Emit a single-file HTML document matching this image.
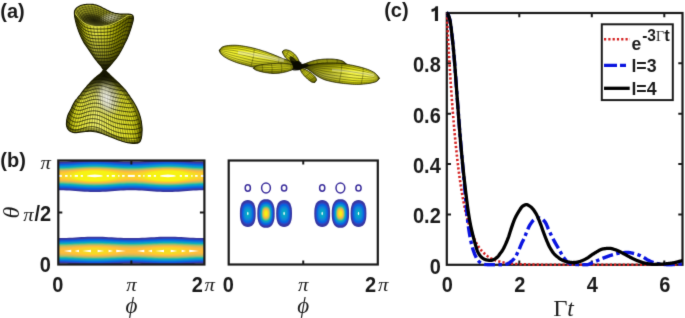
<!DOCTYPE html>
<html><head><meta charset="utf-8"><style>
html,body{margin:0;padding:0;background:#fff;width:685px;height:318px;overflow:hidden;position:relative}
</style></head><body>
<svg width="685" height="318" viewBox="0 0 685 318" style="position:absolute;left:0;top:0">
<defs><filter id="gb" filterUnits="userSpaceOnUse" x="-4" y="-4" width="693" height="326" color-interpolation-filters="sRGB"><feConvolveMatrix order="3" kernelMatrix="0.01134 0.08382 0.01134 0.08382 0.61935 0.08382 0.01134 0.08382 0.01134" divisor="1" edgeMode="duplicate" preserveAlpha="true"/></filter></defs>
<g filter="url(#gb)"><rect x="-6" y="-6" width="697" height="330" fill="#fff"/>
<defs>
<clipPath id="cb1"><rect x="58.3" y="160.5" width="146.1" height="104"/></clipPath>
</defs>
<defs>
<clipPath id="s_cav"><path d="M74.4 12.1 L74.7 10.9 L75.4 9.7 L76.4 8.5 L77.6 7.4 L78.8 6.6 L80.1 6 L81.7 5.6 L83.3 5.3 L84.9 5.1 L86.5 4.9 L88 4.8 L89.6 4.8 L91.1 4.9 L92.6 5 L94 5.2 L95.3 5.5 L96.4 5.8 L97.5 6.2 L98.7 6.7 L100 7.2 L101.6 7.9 L103.4 8.7 L105.2 9.5 L107 10.3 L108.5 11 L109.8 11.5 L110.9 12 L111.9 12.3 L112.9 12.7 L114 13 L115.1 13.3 L116.1 13.6 L117.2 13.9 L118.3 14.1 L119.6 14.3 L121.1 14.4 L122.7 14.3 L124.3 14.3 L125.9 14.3 L127.3 14.3 L128.6 14.5 L129.9 14.7 L131 15 L131.8 15.2 L132.2 15.4 L132.1 15.4 L131.5 15.3 L130.7 15.2 L129.8 15.1 L129 15.2 L128.3 15.5 L127.5 15.9 L126.7 16.4 L125.9 16.9 L125 17.4 L124.1 17.9 L123.2 18.5 L122.2 19.1 L121.1 19.7 L120 20.3 L118.7 21 L117.3 21.7 L115.9 22.5 L114.4 23.2 L113 23.8 L111.7 24.3 L110.3 24.8 L109 25.2 L107.7 25.5 L106.3 25.8 L104.9 26.1 L103.4 26.3 L101.9 26.4 L100.5 26.5 L99 26.6 L97.6 26.6 L96.2 26.6 L94.8 26.4 L93.4 26.3 L92 26 L90.6 25.7 L89.2 25.3 L87.7 24.8 L86.3 24.2 L85 23.5 L83.7 22.7 L82.5 21.7 L81.3 20.7 L80.1 19.6 L79 18.5 L77.8 17.3 L76.6 16 L75.5 14.7 L74.7 13.3 Z"/></clipPath>
<clipPath id="s_up"><path d="M74.4 12.1 L74.6 11 L75 10.1 L75.5 9.3 L76 8.6 L76.6 7.9 L77.3 7.4 L78 6.9 L78.8 6.4 L79.7 6 L80.6 5.6 L81.5 5.3 L82.5 5 L83.5 4.8 L84.5 4.6 L85.5 4.5 L86.5 4.4 L87.6 4.3 L88.8 4.3 L89.9 4.3 L91 4.3 L92 4.4 L93 4.4 L93.9 4.6 L95 4.8 L96.2 5.1 L97.5 5.6 L98.8 6.1 L100 6.6 L101.2 7.1 L102.3 7.7 L103.4 8.3 L104.5 8.8 L105.5 9.3 L106.4 9.8 L107.4 10.3 L108.5 10.8 L109.8 11.4 L111.1 12 L112.6 12.5 L114 13 L115.4 13.4 L116.9 13.6 L118.3 13.8 L119.6 14 L120.8 14.1 L121.9 14.1 L123 14 L124 14 L124.9 14 L125.7 14 L126.5 14 L127.3 14 L128.1 14.1 L129 14.1 L129.8 14.2 L130.5 14.4 L131.2 14.6 L131.8 14.8 L132.4 15.1 L132.8 15.6 L133.1 16.3 L133.3 17.1 L133.4 18 L133.4 19 L133.2 20.1 L133 21.4 L132.6 22.7 L132.2 24.2 L131.7 25.8 L131.2 27.5 L130.6 29.3 L130 31 L129.5 32.6 L128.9 34.2 L128.3 35.8 L127.7 37.4 L127 39 L126.2 40.7 L125.3 42.3 L124.5 44 L123.6 45.7 L122.8 47.4 L121.9 49.1 L121 50.7 L120.1 52.2 L119.3 53.7 L118.4 55.1 L117.5 56.5 L116.5 57.9 L115.4 59.2 L114.4 60.5 L113.4 61.7 L112.5 62.7 L111.8 63.6 L111 64.5 L110.3 65.3 L109.6 66.1 L108.9 66.9 L108.2 67.6 L107.6 68.3 L107 68.9 L106.4 69.5 L105.8 70 L105.3 70.3 L104.8 70.3 L104.3 70.1 L103.8 69.8 L103.3 69.3 L102.8 68.7 L102.3 67.9 L101.7 67 L101 66 L100.1 64.9 L99 63.7 L97.9 62.4 L96.8 61 L95.7 59.6 L94.6 58.1 L93.5 56.6 L92.4 55 L91.3 53.4 L90.2 51.8 L89.1 50.1 L88 48.5 L86.9 46.9 L85.7 45.3 L84.6 43.6 L83.6 41.9 L82.6 40.1 L81.7 38.3 L80.8 36.4 L80 34.5 L79.2 32.5 L78.4 30.5 L77.7 28.4 L77 26.4 L76.4 24.4 L75.9 22.3 L75.4 20.4 L75 18.5 L74.7 16.7 L74.5 15 L74.4 13.5 Z"/></clipPath>
<clipPath id="s_lo"><path d="M104.2 69.5 L105 69.9 L105.9 70.8 L106.9 71.9 L108 73 L109.1 74 L110.2 75.2 L111.5 76.3 L112.8 77.6 L114.2 79 L115.8 80.4 L117.4 81.9 L119 83.5 L120.6 85.1 L122.3 86.8 L123.9 88.5 L125.4 90.2 L126.8 92 L128 93.8 L129.3 95.6 L130.5 97.5 L131.8 99.4 L133.1 101.4 L134.3 103.3 L135.4 105.2 L136.4 107 L137.3 108.9 L138.1 110.7 L138.8 112.5 L139.5 114.4 L140.1 116.3 L140.6 118.2 L141 120 L141.4 121.8 L141.6 123.7 L141.8 125.4 L142 127 L142.1 128.4 L142.1 129.5 L142.1 130.7 L142 132 L141.9 133.6 L141.8 135.3 L141.5 137 L141.2 138.5 L140.8 139.8 L140.3 140.9 L139.7 141.9 L138.8 142.6 L137.6 143.1 L136.2 143.3 L134.6 143.4 L133 143.4 L131.3 143.3 L129.4 143 L127.6 142.6 L125.7 142.2 L123.9 141.7 L122.1 141.2 L120.2 140.6 L118.4 140 L116.6 139.3 L114.8 138.6 L112.9 137.8 L111.1 137.1 L109.3 136.4 L107.4 135.6 L105.6 134.9 L103.8 134.2 L102 133.6 L100.2 133 L98.3 132.4 L96.5 132 L94.7 131.7 L92.8 131.5 L91 131.3 L89.2 131.3 L87.4 131.4 L85.6 131.5 L83.7 131.7 L81.9 131.9 L80 132.1 L78.1 132.4 L76.3 132.6 L74.6 132.6 L73.1 132.4 L71.8 132 L70.6 131.5 L69.5 130.8 L68.6 129.9 L67.8 128.9 L67.2 127.7 L66.8 126.5 L66.5 125.2 L66.4 123.9 L66.5 122.4 L66.6 121 L66.8 119.5 L67.1 118 L67.5 116.5 L68 115 L68.6 113.5 L69.4 112.1 L70.2 110.6 L71 109 L71.8 107.3 L72.6 105.6 L73.5 103.8 L74.5 102 L75.7 100.2 L77.2 98.5 L78.6 96.7 L80 95 L81.3 93.3 L82.5 91.7 L83.7 90.1 L85 88.5 L86.3 87 L87.6 85.4 L88.9 84 L90.2 82.6 L91.4 81.3 L92.7 80.1 L93.9 79 L95 78 L96.1 77.1 L97.1 76.3 L98.1 75.5 L99 74.8 L99.8 74.1 L100.6 73.4 L101.3 72.7 L102 72 L102.6 71.2 L103.1 70.4 L103.6 69.7 Z"/></clipPath>
<linearGradient id="g_lo" x1="0" y1="0" x2="1" y2="0"><stop offset="0.02" stop-color="#808000"/><stop offset="0.14" stop-color="#e8e828"/><stop offset="0.4" stop-color="#f4f470"/><stop offset="0.6" stop-color="#f0f048"/><stop offset="0.85" stop-color="#e0e020"/><stop offset="0.98" stop-color="#808000"/></linearGradient>
<radialGradient id="g_hl" cx="0.5" cy="0.5" r="0.5"><stop offset="0" stop-color="#fff" stop-opacity="0.95"/><stop offset="0.55" stop-color="#f0f0e0" stop-opacity="0.7"/><stop offset="1" stop-color="#f0f0e0" stop-opacity="0"/></radialGradient>
<linearGradient id="g_lo2" x1="0" y1="0" x2="0" y2="1"><stop offset="0" stop-color="#000" stop-opacity="1"/><stop offset="0.1" stop-color="#000" stop-opacity="1"/><stop offset="0.17" stop-color="#000" stop-opacity="0.82"/><stop offset="0.25" stop-color="#000" stop-opacity="0.4"/><stop offset="0.34" stop-color="#000" stop-opacity="0.08"/><stop offset="0.42" stop-color="#000" stop-opacity="0"/></linearGradient>
<linearGradient id="g_up" x1="0" y1="0" x2="1" y2="0"><stop offset="0.06" stop-color="#606000"/><stop offset="0.2" stop-color="#c0c018"/><stop offset="0.36" stop-color="#e4e448"/><stop offset="0.52" stop-color="#d4d428"/><stop offset="0.72" stop-color="#989800"/><stop offset="0.9" stop-color="#606000"/><stop offset="1" stop-color="#404000"/></linearGradient>
<linearGradient id="g_up2" x1="0" y1="0" x2="0" y2="1"><stop offset="0.45" stop-color="#000" stop-opacity="0"/><stop offset="0.75" stop-color="#000" stop-opacity="0.35"/><stop offset="0.93" stop-color="#000" stop-opacity="0.9"/></linearGradient>
<linearGradient id="g_cav" x1="0" y1="0" x2="0" y2="1"><stop offset="0" stop-color="#b0b028"/><stop offset="0.4" stop-color="#8a8a20"/><stop offset="0.75" stop-color="#606018"/><stop offset="1" stop-color="#707028"/></linearGradient>
<radialGradient id="g_dk"><stop offset="0" stop-color="#000" stop-opacity="0.7"/><stop offset="0.6" stop-color="#000" stop-opacity="0.4"/><stop offset="1" stop-color="#000" stop-opacity="0"/></radialGradient>
<radialGradient id="g_lt"><stop offset="0" stop-color="#f0f0e8" stop-opacity="0.75"/><stop offset="0.6" stop-color="#e8e8d8" stop-opacity="0.4"/><stop offset="1" stop-color="#e8e8d8" stop-opacity="0"/></radialGradient>
<linearGradient id="g_lobeL" x1="0" y1="0" x2="0" y2="1"><stop offset="0" stop-color="#d8d800"/><stop offset="0.3" stop-color="#f4f430"/><stop offset="0.6" stop-color="#e4e430"/><stop offset="1" stop-color="#a0a010"/></linearGradient>
<linearGradient id="g_lobeR" x1="0" y1="0" x2="0" y2="1"><stop offset="0" stop-color="#b0b000"/><stop offset="0.35" stop-color="#eeee20"/><stop offset="0.6" stop-color="#f4f450"/><stop offset="1" stop-color="#d0d000"/></linearGradient>
<linearGradient id="g_lobeRo" gradientUnits="userSpaceOnUse" x1="298" y1="0" x2="380" y2="0"><stop offset="0" stop-color="#000" stop-opacity="0.55"/><stop offset="0.45" stop-color="#000" stop-opacity="0.2"/><stop offset="0.65" stop-color="#000" stop-opacity="0"/></linearGradient>
<linearGradient id="g_lobeD" x1="0" y1="0" x2="0" y2="1"><stop offset="0" stop-color="#d4d420"/><stop offset="0.5" stop-color="#c4c418"/><stop offset="1" stop-color="#808000"/></linearGradient>
</defs>
<g clip-path="url(#s_lo)">
<rect x="66" y="66" width="77" height="80" fill="url(#g_lo)"/>
<rect x="60" y="66" width="90" height="80" fill="url(#g_lo2)"/>
<path d="M104.2 69.5 L105 69.9 L105.9 70.8 L106.9 71.9 L108 73 L109.1 74 L110.2 75.2 L111.5 76.3 L112.8 77.6 L114.2 79 L115.8 80.4 L117.4 81.9 L119 83.5 L120.6 85.1 L122.3 86.8 L123.9 88.5 L125.4 90.2 L126.8 92 L128 93.8 L129.3 95.6 L130.5 97.5 L131.8 99.4 L133.1 101.4 L134.3 103.3 L135.4 105.2 L136.4 107 L137.3 108.9 L138.1 110.7 L138.8 112.5 L139.5 114.4 L140.1 116.3 L140.6 118.2 L141 120 L141.4 121.8 L141.6 123.7 L141.8 125.4 L142 127 L142.1 128.4 L142.1 129.5 L142.1 130.7 L142 132 L141.9 133.6 L141.8 135.3 L141.5 137 L141.2 138.5 L140.8 139.8 L140.3 140.9 L139.7 141.9 L138.8 142.6 L137.6 143.1 L136.2 143.3 L134.6 143.4 L133 143.4 L131.3 143.3 L129.4 143 L127.6 142.6 L125.7 142.2 L123.9 141.7 L122.1 141.2 L120.2 140.6 L118.4 140 L116.6 139.3 L114.8 138.6 L112.9 137.8 L111.1 137.1 L109.3 136.4 L107.4 135.6 L105.6 134.9 L103.8 134.2 L102 133.6 L100.2 133 L98.3 132.4 L96.5 132 L94.7 131.7 L92.8 131.5 L91 131.3 L89.2 131.3 L87.4 131.4 L85.6 131.5 L83.7 131.7 L81.9 131.9 L80 132.1 L78.1 132.4 L76.3 132.6 L74.6 132.6 L73.1 132.4 L71.8 132 L70.6 131.5 L69.5 130.8 L68.6 129.9 L67.8 128.9 L67.2 127.7 L66.8 126.5 L66.5 125.2 L66.4 123.9 L66.5 122.4 L66.6 121 L66.8 119.5 L67.1 118 L67.5 116.5 L68 115 L68.6 113.5 L69.4 112.1 L70.2 110.6 L71 109 L71.8 107.3 L72.6 105.6 L73.5 103.8 L74.5 102 L75.7 100.2 L77.2 98.5 L78.6 96.7 L80 95 L81.3 93.3 L82.5 91.7 L83.7 90.1 L85 88.5 L86.3 87 L87.6 85.4 L88.9 84 L90.2 82.6 L91.4 81.3 L92.7 80.1 L93.9 79 L95 78 L96.1 77.1 L97.1 76.3 L98.1 75.5 L99 74.8 L99.8 74.1 L100.6 73.4 L101.3 72.7 L102 72 L102.6 71.2 L103.1 70.4 L103.6 69.7 Z" fill="none" stroke="#303000" stroke-width="7" stroke-opacity="0.45"/>
<ellipse cx="108" cy="98" rx="13" ry="19" fill="url(#g_hl)" transform="rotate(-12 108 98)"/>
<path d="M93 73.6 L93.2 73.7 L93.4 73.8 L93.6 73.8 L93.8 73.8 L94 73.9 L94.2 73.9 L94.4 73.9 L94.7 73.9 L94.9 73.9 L95.2 73.9 L95.5 73.9 L95.7 73.9 L96 73.9 L96.3 73.8 L96.6 73.8 L96.9 73.7 L97.2 73.7 L97.5 73.6 L97.8 73.6 L98.1 73.5 L98.4 73.4 L98.7 73.4 L99 73.3 L99.3 73.3 L99.6 73.2 L99.9 73.2 L100.2 73.2 L100.5 73.2 L100.8 73.1 L101.1 73.1 L101.4 73.1 L101.7 73.1 L102 73.1 L102.3 73.1 L102.6 73.1 L102.9 73.2 L103.1 73.2 L103.4 73.2 L103.7 73.3 L104 73.3 L104.3 73.3 L104.6 73.4 L104.8 73.4 L105.1 73.5 L105.4 73.5 L105.7 73.6 L105.9 73.6 L106.2 73.6 L106.5 73.7 L106.8 73.7 L107.1 73.8 L107.3 73.8 L107.6 73.9 L107.9 73.9 L108.2 74 L108.5 74 L108.7 74 L109 74.1 L109.3 74.1 L109.6 74.1 L109.9 74.2 L110.2 74.2 L110.5 74.2 L110.8 74.3 L111.1 74.3 L111.4 74.4 L111.7 74.4 L112 74.4 L112.3 74.5 L112.6 74.5 L112.8 74.6 L113.1 74.6 L113.4 74.6 L113.7 74.7 L114 74.7 L114.2 74.7 L114.5 74.7 L114.7 74.7 L115 74.7" stroke="#101000" stroke-width="0.85" fill="none" stroke-opacity="0.9"/>
<path d="M89.1 76.8 L89.4 76.9 L89.6 77 L89.9 77.1 L90.1 77.2 L90.4 77.3 L90.7 77.3 L91 77.4 L91.3 77.4 L91.7 77.4 L92 77.4 L92.4 77.4 L92.8 77.4 L93.2 77.3 L93.6 77.2 L94 77.2 L94.4 77.1 L94.8 77 L95.2 76.9 L95.6 76.8 L96 76.7 L96.4 76.6 L96.8 76.5 L97.2 76.4 L97.6 76.3 L98 76.2 L98.4 76.2 L98.8 76.1 L99.2 76.1 L99.6 76 L100 76 L100.4 76 L100.8 76 L101.2 76 L101.6 76 L102 76.1 L102.4 76.1 L102.8 76.2 L103.2 76.2 L103.5 76.3 L103.9 76.3 L104.3 76.4 L104.7 76.5 L105.1 76.6 L105.4 76.7 L105.8 76.7 L106.2 76.8 L106.6 76.9 L106.9 77 L107.3 77.1 L107.7 77.2 L108.1 77.2 L108.4 77.3 L108.8 77.4 L109.2 77.5 L109.6 77.5 L110 77.6 L110.3 77.7 L110.7 77.7 L111.1 77.8 L111.5 77.8 L111.9 77.9 L112.3 78 L112.7 78 L113.1 78.1 L113.5 78.2 L113.9 78.2 L114.3 78.3 L114.7 78.4 L115.1 78.4 L115.5 78.5 L115.9 78.6 L116.3 78.6 L116.7 78.7 L117.1 78.7 L117.4 78.7 L117.8 78.8 L118.1 78.8 L118.5 78.8 L118.8 78.7" stroke="#101000" stroke-width="0.85" fill="none" stroke-opacity="0.9"/>
<path d="M86 80 L86.3 80.1 L86.6 80.3 L86.9 80.5 L87.2 80.6 L87.6 80.7 L87.9 80.7 L88.3 80.8 L88.7 80.9 L89.1 80.9 L89.5 80.9 L90 80.9 L90.4 80.9 L90.9 80.8 L91.4 80.7 L91.9 80.6 L92.3 80.5 L92.8 80.4 L93.3 80.2 L93.8 80.1 L94.3 79.9 L94.8 79.8 L95.2 79.7 L95.7 79.5 L96.2 79.4 L96.7 79.3 L97.2 79.2 L97.7 79.2 L98.2 79.1 L98.6 79.1 L99.1 79 L99.6 79 L100.1 79 L100.6 79 L101.1 79.1 L101.5 79.1 L102 79.2 L102.5 79.3 L102.9 79.3 L103.4 79.4 L103.9 79.5 L104.3 79.6 L104.8 79.7 L105.2 79.9 L105.7 80 L106.1 80.1 L106.6 80.2 L107 80.3 L107.5 80.5 L107.9 80.6 L108.4 80.7 L108.9 80.8 L109.3 80.9 L109.8 81 L110.2 81.1 L110.7 81.2 L111.1 81.3 L111.6 81.4 L112.1 81.5 L112.5 81.6 L113 81.7 L113.5 81.7 L114 81.8 L114.4 81.9 L114.9 82 L115.4 82.1 L115.9 82.2 L116.4 82.3 L116.8 82.3 L117.3 82.4 L117.8 82.5 L118.3 82.6 L118.8 82.7 L119.3 82.7 L119.7 82.8 L120.1 82.8 L120.6 82.8 L121 82.9 L121.4 82.9 L121.8 82.8" stroke="#101000" stroke-width="0.85" fill="none" stroke-opacity="0.9"/>
<path d="M83.3 83.1 L83.7 83.4 L84.1 83.6 L84.4 83.8 L84.8 84 L85.2 84.1 L85.6 84.2 L86 84.3 L86.4 84.4 L86.9 84.4 L87.4 84.4 L87.9 84.4 L88.4 84.4 L89 84.3 L89.5 84.3 L90.1 84.1 L90.6 84 L91.2 83.8 L91.7 83.6 L92.3 83.4 L92.8 83.3 L93.4 83.1 L93.9 83 L94.5 82.8 L95 82.7 L95.6 82.5 L96.2 82.4 L96.7 82.3 L97.3 82.2 L97.8 82.2 L98.4 82.2 L99 82.1 L99.5 82.2 L100.1 82.2 L100.6 82.2 L101.2 82.3 L101.7 82.4 L102.2 82.5 L102.8 82.6 L103.3 82.7 L103.8 82.8 L104.3 83 L104.9 83.1 L105.4 83.3 L105.9 83.4 L106.4 83.6 L106.9 83.7 L107.5 83.9 L108 84 L108.5 84.2 L109 84.3 L109.5 84.5 L110 84.6 L110.6 84.8 L111.1 84.9 L111.6 85 L112.2 85.1 L112.7 85.2 L113.2 85.4 L113.8 85.5 L114.3 85.6 L114.8 85.7 L115.4 85.8 L115.9 85.9 L116.5 86 L117 86.1 L117.6 86.2 L118.1 86.3 L118.7 86.4 L119.2 86.5 L119.8 86.6 L120.4 86.7 L120.9 86.8 L121.4 86.8 L122 86.9 L122.5 86.9 L122.9 86.9 L123.4 86.9 L123.9 86.9 L124.4 86.8" stroke="#101000" stroke-width="0.85" fill="none" stroke-opacity="0.9"/>
<path d="M81 86.3 L81.4 86.6 L81.8 86.9 L82.2 87.2 L82.6 87.3 L83 87.5 L83.5 87.7 L83.9 87.8 L84.4 87.9 L84.9 88 L85.5 88 L86 88 L86.6 88 L87.2 87.9 L87.8 87.8 L88.5 87.7 L89.1 87.5 L89.7 87.3 L90.3 87.1 L90.9 86.9 L91.5 86.7 L92.2 86.5 L92.8 86.3 L93.4 86.1 L94 86 L94.6 85.8 L95.3 85.7 L95.9 85.6 L96.5 85.5 L97.1 85.4 L97.7 85.4 L98.4 85.4 L99 85.4 L99.6 85.4 L100.2 85.5 L100.8 85.6 L101.4 85.7 L102 85.8 L102.6 86 L103.2 86.1 L103.8 86.3 L104.4 86.4 L104.9 86.6 L105.5 86.8 L106.1 87 L106.7 87.2 L107.2 87.4 L107.8 87.6 L108.4 87.8 L109 87.9 L109.6 88.1 L110.1 88.3 L110.7 88.5 L111.3 88.6 L111.9 88.8 L112.5 88.9 L113 89.1 L113.6 89.2 L114.2 89.3 L114.8 89.4 L115.4 89.6 L116 89.7 L116.6 89.8 L117.2 89.9 L117.9 90 L118.5 90.1 L119.1 90.2 L119.7 90.4 L120.3 90.5 L120.9 90.6 L121.6 90.7 L122.2 90.8 L122.8 90.9 L123.4 91 L124 91 L124.5 91 L125.1 91 L125.6 91 L126.1 91 L126.6 90.9" stroke="#101000" stroke-width="0.85" fill="none" stroke-opacity="0.9"/>
<path d="M78.9 89.5 L79.3 89.8 L79.7 90.2 L80.2 90.5 L80.6 90.7 L81.1 90.9 L81.5 91.1 L82 91.3 L82.6 91.5 L83.2 91.6 L83.7 91.6 L84.4 91.7 L85 91.7 L85.7 91.6 L86.3 91.5 L87 91.3 L87.7 91.1 L88.4 90.9 L89 90.7 L89.7 90.4 L90.4 90.2 L91.1 90 L91.7 89.8 L92.4 89.6 L93.1 89.4 L93.8 89.2 L94.4 89.1 L95.1 89 L95.8 88.9 L96.5 88.8 L97.2 88.8 L97.8 88.7 L98.5 88.8 L99.2 88.8 L99.8 88.9 L100.5 89 L101.2 89.1 L101.8 89.3 L102.4 89.4 L103.1 89.6 L103.7 89.8 L104.4 90 L105 90.2 L105.6 90.5 L106.3 90.7 L106.9 90.9 L107.5 91.1 L108.2 91.4 L108.8 91.6 L109.4 91.8 L110 92 L110.7 92.2 L111.3 92.4 L111.9 92.6 L112.6 92.8 L113.2 92.9 L113.9 93.1 L114.5 93.2 L115.2 93.4 L115.8 93.5 L116.5 93.6 L117.1 93.8 L117.8 93.9 L118.4 94 L119.1 94.1 L119.8 94.3 L120.4 94.4 L121.1 94.5 L121.8 94.6 L122.5 94.8 L123.2 94.9 L123.8 95 L124.5 95.1 L125.1 95.1 L125.8 95.2 L126.4 95.2 L127 95.1 L127.6 95.1 L128.1 95.1 L128.7 94.9" stroke="#101000" stroke-width="0.85" fill="none" stroke-opacity="0.9"/>
<path d="M76.9 92.6 L77.4 93.1 L77.8 93.5 L78.3 93.8 L78.8 94.1 L79.3 94.4 L79.8 94.6 L80.3 94.9 L80.9 95 L81.5 95.2 L82.2 95.3 L82.8 95.3 L83.5 95.3 L84.2 95.3 L85 95.2 L85.7 95 L86.4 94.8 L87.1 94.6 L87.9 94.3 L88.6 94.1 L89.3 93.8 L90 93.6 L90.8 93.3 L91.5 93.1 L92.2 92.9 L93 92.7 L93.7 92.5 L94.4 92.4 L95.1 92.3 L95.9 92.2 L96.6 92.2 L97.3 92.2 L98.1 92.2 L98.8 92.3 L99.5 92.4 L100.2 92.5 L100.9 92.7 L101.6 92.9 L102.3 93 L103 93.3 L103.7 93.5 L104.4 93.7 L105.1 94 L105.8 94.2 L106.4 94.5 L107.1 94.7 L107.8 95 L108.5 95.3 L109.1 95.5 L109.8 95.7 L110.5 96 L111.2 96.2 L111.9 96.4 L112.5 96.6 L113.2 96.8 L113.9 97 L114.6 97.2 L115.3 97.4 L116 97.5 L116.7 97.7 L117.4 97.8 L118.1 97.9 L118.8 98.1 L119.5 98.2 L120.3 98.3 L121 98.5 L121.7 98.6 L122.4 98.7 L123.2 98.8 L123.9 99 L124.6 99.1 L125.4 99.2 L126.1 99.3 L126.8 99.3 L127.5 99.3 L128.1 99.3 L128.7 99.3 L129.4 99.2 L130 99.2 L130.6 99" stroke="#101000" stroke-width="0.85" fill="none" stroke-opacity="0.9"/>
<path d="M75.1 95.8 L75.6 96.3 L76.1 96.7 L76.6 97.2 L77.1 97.5 L77.6 97.8 L78.2 98.1 L78.7 98.4 L79.3 98.6 L80 98.8 L80.7 99 L81.4 99 L82.1 99.1 L82.9 99 L83.7 98.9 L84.4 98.8 L85.2 98.5 L86 98.3 L86.8 98 L87.5 97.7 L88.3 97.5 L89.1 97.2 L89.9 96.9 L90.6 96.7 L91.4 96.5 L92.2 96.3 L93 96.1 L93.8 96 L94.5 95.9 L95.3 95.8 L96.1 95.8 L96.9 95.8 L97.6 95.8 L98.4 95.9 L99.2 96 L99.9 96.1 L100.7 96.3 L101.4 96.5 L102.2 96.8 L102.9 97 L103.7 97.3 L104.4 97.5 L105.1 97.8 L105.9 98.1 L106.6 98.4 L107.3 98.7 L108 99 L108.7 99.3 L109.5 99.5 L110.2 99.8 L110.9 100.1 L111.6 100.3 L112.4 100.6 L113.1 100.8 L113.8 101 L114.6 101.2 L115.3 101.4 L116 101.6 L116.8 101.7 L117.5 101.9 L118.3 102 L119.1 102.2 L119.8 102.3 L120.6 102.4 L121.3 102.6 L122.1 102.7 L122.9 102.8 L123.7 103 L124.4 103.1 L125.2 103.2 L126 103.3 L126.8 103.4 L127.5 103.5 L128.3 103.5 L129 103.5 L129.7 103.5 L130.4 103.4 L131.1 103.3 L131.7 103.3 L132.4 103" stroke="#101000" stroke-width="0.85" fill="none" stroke-opacity="0.9"/>
<path d="M73.3 99 L73.9 99.5 L74.4 100 L74.9 100.5 L75.5 100.9 L76 101.3 L76.6 101.7 L77.2 102 L77.9 102.3 L78.6 102.5 L79.3 102.7 L80.1 102.7 L80.8 102.8 L81.6 102.8 L82.5 102.7 L83.3 102.5 L84.1 102.3 L84.9 102.1 L85.7 101.8 L86.6 101.5 L87.4 101.2 L88.2 100.9 L89 100.6 L89.8 100.4 L90.7 100.1 L91.5 99.9 L92.3 99.7 L93.1 99.6 L94 99.5 L94.8 99.4 L95.6 99.4 L96.4 99.4 L97.3 99.5 L98.1 99.6 L98.9 99.7 L99.7 99.9 L100.5 100.1 L101.3 100.3 L102.1 100.6 L102.9 100.8 L103.6 101.1 L104.4 101.4 L105.2 101.8 L106 102.1 L106.7 102.4 L107.5 102.7 L108.3 103 L109 103.4 L109.8 103.7 L110.6 104 L111.3 104.3 L112.1 104.5 L112.9 104.8 L113.6 105 L114.4 105.3 L115.2 105.5 L116 105.7 L116.8 105.9 L117.5 106 L118.3 106.2 L119.1 106.3 L119.9 106.5 L120.7 106.6 L121.5 106.7 L122.4 106.9 L123.2 107 L124 107.1 L124.8 107.3 L125.6 107.4 L126.5 107.5 L127.3 107.6 L128.1 107.7 L128.9 107.8 L129.7 107.8 L130.5 107.7 L131.2 107.7 L131.9 107.6 L132.6 107.5 L133.3 107.3 L134 107.1" stroke="#101000" stroke-width="0.85" fill="none" stroke-opacity="0.9"/>
<path d="M71.7 102.1 L72.3 102.7 L72.8 103.3 L73.4 103.9 L73.9 104.3 L74.5 104.8 L75.2 105.2 L75.8 105.6 L76.5 105.9 L77.2 106.2 L78 106.4 L78.8 106.5 L79.6 106.6 L80.4 106.6 L81.3 106.5 L82.2 106.4 L83 106.2 L83.9 105.9 L84.8 105.6 L85.6 105.3 L86.5 105 L87.3 104.7 L88.2 104.4 L89.1 104.1 L89.9 103.9 L90.8 103.7 L91.7 103.5 L92.6 103.3 L93.4 103.2 L94.3 103.2 L95.2 103.1 L96 103.2 L96.9 103.2 L97.7 103.3 L98.6 103.5 L99.4 103.7 L100.3 103.9 L101.1 104.2 L102 104.5 L102.8 104.8 L103.6 105.1 L104.4 105.4 L105.2 105.8 L106 106.1 L106.9 106.5 L107.7 106.8 L108.5 107.2 L109.3 107.5 L110.1 107.9 L110.9 108.2 L111.7 108.5 L112.5 108.8 L113.3 109.1 L114.1 109.4 L114.9 109.6 L115.8 109.8 L116.6 110 L117.4 110.2 L118.2 110.4 L119.1 110.6 L119.9 110.7 L120.8 110.9 L121.6 111 L122.5 111.1 L123.3 111.3 L124.2 111.4 L125 111.5 L125.9 111.6 L126.8 111.7 L127.6 111.8 L128.5 111.9 L129.4 112 L130.2 112.1 L131.1 112 L131.9 112 L132.7 111.8 L133.4 111.7 L134.2 111.6 L134.9 111.4 L135.6 111.1" stroke="#101000" stroke-width="0.85" fill="none" stroke-opacity="0.9"/>
<path d="M70.1 105.3 L70.7 106 L71.3 106.6 L71.9 107.2 L72.5 107.7 L73.1 108.2 L73.8 108.7 L74.4 109.2 L75.2 109.5 L75.9 109.9 L76.7 110.1 L77.6 110.3 L78.4 110.4 L79.3 110.4 L80.2 110.4 L81.1 110.3 L82 110 L82.9 109.8 L83.8 109.4 L84.7 109.1 L85.6 108.8 L86.5 108.5 L87.4 108.2 L88.4 107.9 L89.3 107.7 L90.2 107.5 L91.1 107.3 L92 107.1 L92.9 107 L93.8 107 L94.7 106.9 L95.6 107 L96.5 107.1 L97.4 107.2 L98.3 107.3 L99.2 107.6 L100.1 107.8 L101 108.1 L101.8 108.4 L102.7 108.8 L103.6 109.1 L104.4 109.5 L105.3 109.9 L106.1 110.3 L107 110.7 L107.8 111.1 L108.7 111.4 L109.5 111.8 L110.4 112.2 L111.2 112.5 L112.1 112.9 L112.9 113.2 L113.7 113.5 L114.6 113.8 L115.5 114 L116.3 114.3 L117.2 114.5 L118 114.7 L118.9 114.9 L119.8 115 L120.7 115.2 L121.6 115.3 L122.4 115.4 L123.3 115.6 L124.2 115.7 L125.1 115.8 L126 115.9 L126.9 116 L127.9 116.1 L128.8 116.2 L129.7 116.3 L130.6 116.3 L131.5 116.4 L132.3 116.3 L133.2 116.2 L134 116 L134.8 115.9 L135.6 115.7 L136.4 115.5 L137.1 115.2" stroke="#101000" stroke-width="0.85" fill="none" stroke-opacity="0.9"/>
<path d="M68.7 108.5 L69.3 109.2 L69.9 109.9 L70.5 110.5 L71.1 111.1 L71.8 111.7 L72.4 112.3 L73.1 112.8 L73.9 113.2 L74.7 113.6 L75.5 113.9 L76.4 114.1 L77.3 114.3 L78.2 114.3 L79.2 114.3 L80.1 114.2 L81.1 113.9 L82 113.7 L82.9 113.4 L83.9 113 L84.8 112.7 L85.8 112.4 L86.7 112.1 L87.7 111.8 L88.6 111.5 L89.6 111.3 L90.5 111.1 L91.5 111 L92.4 110.9 L93.4 110.8 L94.3 110.8 L95.3 110.9 L96.2 111 L97.1 111.1 L98.1 111.3 L99 111.5 L99.9 111.8 L100.8 112.2 L101.7 112.5 L102.6 112.9 L103.5 113.3 L104.4 113.7 L105.3 114.1 L106.2 114.5 L107.1 114.9 L108 115.3 L108.9 115.8 L109.7 116.2 L110.6 116.5 L111.5 116.9 L112.4 117.3 L113.3 117.6 L114.2 117.9 L115 118.2 L115.9 118.5 L116.8 118.8 L117.7 119 L118.7 119.2 L119.6 119.4 L120.5 119.5 L121.4 119.7 L122.3 119.8 L123.2 119.9 L124.2 120 L125.1 120.1 L126 120.2 L127 120.3 L127.9 120.4 L128.9 120.5 L129.8 120.6 L130.8 120.7 L131.7 120.7 L132.7 120.7 L133.6 120.6 L134.5 120.5 L135.3 120.3 L136.1 120 L137 119.8 L137.8 119.6 L138.6 119.2" stroke="#101000" stroke-width="0.85" fill="none" stroke-opacity="0.9"/>
<path d="M67.2 111.7 L67.9 112.4 L68.5 113.2 L69.1 113.9 L69.8 114.6 L70.4 115.2 L71.2 115.8 L71.9 116.4 L72.7 116.9 L73.5 117.3 L74.4 117.7 L75.3 117.9 L76.2 118.2 L77.2 118.2 L78.1 118.2 L79.1 118.1 L80.1 117.9 L81.1 117.6 L82.1 117.3 L83.1 117 L84 116.6 L85 116.3 L86 116 L87 115.7 L88 115.5 L89 115.2 L90 115 L90.9 114.9 L91.9 114.8 L92.9 114.7 L93.9 114.8 L94.9 114.8 L95.9 114.9 L96.9 115.1 L97.8 115.3 L98.8 115.6 L99.8 115.9 L100.7 116.2 L101.6 116.6 L102.6 117 L103.5 117.4 L104.5 117.9 L105.4 118.3 L106.3 118.8 L107.2 119.2 L108.1 119.7 L109.1 120.1 L110 120.6 L110.9 121 L111.8 121.4 L112.7 121.8 L113.6 122.1 L114.6 122.5 L115.5 122.8 L116.4 123 L117.3 123.3 L118.3 123.5 L119.2 123.7 L120.2 123.9 L121.1 124.1 L122.1 124.2 L123 124.3 L124 124.4 L125 124.5 L126 124.6 L126.9 124.7 L127.9 124.8 L128.9 124.9 L129.9 125 L130.9 125 L131.9 125 L132.8 125.1 L133.8 125 L134.8 124.9 L135.7 124.7 L136.6 124.5 L137.4 124.2 L138.3 123.9 L139.1 123.7 L139.9 123.3" stroke="#101000" stroke-width="0.85" fill="none" stroke-opacity="0.9"/>
<path d="M65.9 114.8 L66.5 115.6 L67.2 116.5 L67.8 117.2 L68.5 118 L69.2 118.7 L69.9 119.4 L70.7 120 L71.5 120.6 L72.4 121.1 L73.2 121.5 L74.2 121.8 L75.2 122.1 L76.2 122.1 L77.2 122.2 L78.2 122.1 L79.2 121.9 L80.3 121.6 L81.3 121.3 L82.3 120.9 L83.3 120.6 L84.3 120.3 L85.3 120 L86.4 119.7 L87.4 119.4 L88.4 119.2 L89.4 119 L90.5 118.8 L91.5 118.7 L92.5 118.7 L93.5 118.7 L94.6 118.8 L95.6 118.9 L96.6 119.1 L97.6 119.3 L98.6 119.6 L99.6 120 L100.6 120.4 L101.6 120.8 L102.5 121.2 L103.5 121.7 L104.5 122.1 L105.4 122.6 L106.4 123.1 L107.3 123.6 L108.3 124.1 L109.2 124.5 L110.2 125 L111.1 125.4 L112.1 125.9 L113 126.3 L114 126.6 L114.9 127 L115.9 127.3 L116.9 127.6 L117.8 127.9 L118.8 128.1 L119.8 128.3 L120.8 128.5 L121.8 128.6 L122.8 128.8 L123.7 128.9 L124.7 129 L125.8 129.1 L126.8 129.2 L127.8 129.2 L128.8 129.3 L129.8 129.4 L130.8 129.4 L131.9 129.5 L132.9 129.5 L133.9 129.4 L134.9 129.4 L135.9 129.2 L136.9 129 L137.8 128.7 L138.7 128.4 L139.5 128.1 L140.4 127.7 L141.3 127.4" stroke="#101000" stroke-width="0.85" fill="none" stroke-opacity="0.9"/>
<path d="M64.5 118 L65.2 118.9 L65.9 119.7 L66.6 120.6 L67.3 121.4 L68 122.2 L68.7 122.9 L69.5 123.7 L70.4 124.3 L71.2 124.8 L72.2 125.3 L73.2 125.6 L74.2 126 L75.2 126.1 L76.2 126.1 L77.3 126 L78.4 125.9 L79.4 125.6 L80.5 125.3 L81.5 124.9 L82.6 124.6 L83.6 124.3 L84.7 124 L85.7 123.7 L86.8 123.4 L87.9 123.1 L88.9 122.9 L90 122.8 L91 122.7 L92.1 122.7 L93.2 122.7 L94.2 122.8 L95.3 122.9 L96.3 123.1 L97.4 123.4 L98.4 123.7 L99.4 124.1 L100.4 124.5 L101.5 125 L102.5 125.4 L103.5 125.9 L104.5 126.4 L105.5 126.9 L106.5 127.4 L107.4 128 L108.4 128.5 L109.4 129 L110.4 129.5 L111.4 129.9 L112.4 130.4 L113.3 130.8 L114.3 131.2 L115.3 131.6 L116.3 131.9 L117.3 132.2 L118.3 132.5 L119.3 132.7 L120.3 132.9 L121.3 133.1 L122.4 133.2 L123.4 133.4 L124.4 133.5 L125.5 133.6 L126.5 133.6 L127.5 133.7 L128.6 133.8 L129.6 133.8 L130.7 133.9 L131.8 133.9 L132.8 133.9 L133.9 133.9 L134.9 133.8 L136 133.8 L137 133.5 L138 133.3 L138.9 132.9 L139.9 132.6 L140.8 132.2 L141.7 131.8 L142.6 131.4" stroke="#101000" stroke-width="0.85" fill="none" stroke-opacity="0.9"/>
<path d="M63.2 121.2 L63.9 122.1 L64.7 123 L65.4 123.9 L66.1 124.8 L66.8 125.7 L67.6 126.5 L68.4 127.3 L69.3 128 L70.2 128.6 L71.1 129.1 L72.2 129.5 L73.2 129.9 L74.3 130 L75.3 130.1 L76.4 130 L77.5 129.8 L78.6 129.6 L79.7 129.2 L80.8 128.9 L81.9 128.6 L83 128.2 L84.1 127.9 L85.1 127.6 L86.2 127.3 L87.3 127.1 L88.4 126.9 L89.5 126.8 L90.6 126.7 L91.7 126.6 L92.8 126.7 L93.9 126.8 L95 127 L96.1 127.2 L97.1 127.5 L98.2 127.8 L99.3 128.2 L100.3 128.7 L101.4 129.1 L102.4 129.6 L103.4 130.2 L104.5 130.7 L105.5 131.2 L106.5 131.8 L107.5 132.3 L108.6 132.9 L109.6 133.4 L110.6 133.9 L111.6 134.4 L112.6 134.9 L113.6 135.3 L114.7 135.7 L115.7 136.1 L116.7 136.5 L117.7 136.8 L118.8 137.1 L119.8 137.3 L120.9 137.5 L121.9 137.7 L123 137.8 L124 138 L125.1 138 L126.1 138.1 L127.2 138.2 L128.3 138.2 L129.4 138.3 L130.5 138.3 L131.5 138.4 L132.6 138.3 L133.7 138.3 L134.8 138.3 L135.9 138.2 L137 138.1 L138 137.8 L139.1 137.6 L140.1 137.2 L141 136.7 L141.9 136.3 L142.9 135.9 L143.8 135.5" stroke="#101000" stroke-width="0.85" fill="none" stroke-opacity="0.9"/>
<path d="M62 124.3 L62.7 125.3 L63.5 126.3 L64.2 127.3 L64.9 128.2 L65.7 129.2 L66.5 130 L67.3 130.9 L68.2 131.6 L69.1 132.3 L70.1 132.9 L71.2 133.3 L72.2 133.7 L73.4 133.9 L74.5 134 L75.6 133.9 L76.7 133.7 L77.8 133.5 L79 133.2 L80.1 132.8 L81.2 132.5 L82.3 132.1 L83.4 131.8 L84.6 131.5 L85.7 131.2 L86.8 131 L87.9 130.7 L89.1 130.6 L90.2 130.5 L91.3 130.5 L92.5 130.6 L93.6 130.7 L94.7 130.9 L95.8 131.1 L96.9 131.4 L98 131.8 L99.1 132.2 L100.2 132.7 L101.3 133.2 L102.4 133.7 L103.4 134.3 L104.5 134.8 L105.5 135.4 L106.6 136 L107.6 136.6 L108.7 137.2 L109.7 137.7 L110.8 138.3 L111.8 138.8 L112.9 139.3 L113.9 139.7 L115 140.2 L116 140.6 L117.1 141 L118.1 141.3 L119.2 141.6 L120.3 141.8 L121.4 142 L122.4 142.2 L123.5 142.3 L124.6 142.5 L125.7 142.5 L126.8 142.6 L127.9 142.7 L129 142.7 L130.1 142.7 L131.3 142.8 L132.4 142.8 L133.5 142.8 L134.6 142.7 L135.8 142.7 L136.9 142.6 L138 142.4 L139.1 142.1 L140.1 141.8 L141.1 141.4 L142.1 140.9 L143.1 140.4 L144 140 L145 139.5" stroke="#101000" stroke-width="0.85" fill="none" stroke-opacity="0.9"/>
<path d="M104.2 69.8 L92.4 74.1 L87.5 78.3 L83.7 82.6 L80.6 86.8 L77.8 91.1 L75.2 95.3 L72.9 99.6 L70.8 103.8 L68.7 108.1 L66.8 112.3 L65 116.6 L63.3 120.8 L61.6 125.1" stroke="#1a1a00" stroke-width="0.5" fill="none" stroke-opacity="0.75"/>
<path d="M104.2 69.8 L92.9 74.2 L88.2 78.6 L84.6 83 L81.5 87.5 L78.9 91.9 L76.4 96.3 L74.2 100.7 L72.1 105.1 L70.2 109.5 L68.4 114 L66.6 118.4 L64.9 122.8 L63.3 127.2" stroke="#1a1a00" stroke-width="0.5" fill="none" stroke-opacity="0.75"/>
<path d="M104.2 69.8 L93.4 74.4 L88.9 79 L85.4 83.5 L82.5 88.1 L80 92.7 L77.7 97.3 L75.5 101.8 L73.5 106.4 L71.7 111 L69.9 115.6 L68.3 120.1 L66.7 124.7 L65.1 129.3" stroke="#1a1a00" stroke-width="0.5" fill="none" stroke-opacity="0.75"/>
<path d="M104.2 69.8 L93.9 74.5 L89.6 79.3 L86.4 84 L83.6 88.7 L81.2 93.4 L79 98.2 L77 102.9 L75.1 107.6 L73.3 112.3 L71.6 117.1 L70 121.8 L68.5 126.5 L67.1 131.2" stroke="#1a1a00" stroke-width="0.5" fill="none" stroke-opacity="0.75"/>
<path d="M104.2 69.8 L94.5 74.6 L90.5 79.5 L87.5 84.3 L84.9 89.2 L82.6 94 L80.5 98.9 L78.6 103.7 L76.9 108.5 L75.2 113.4 L73.6 118.2 L72.1 123.1 L70.7 127.9 L69.3 132.8" stroke="#1a1a00" stroke-width="0.5" fill="none" stroke-opacity="0.75"/>
<path d="M104.2 69.8 L95.2 74.7 L91.5 79.6 L88.7 84.6 L86.3 89.5 L84.2 94.4 L82.2 99.3 L80.5 104.2 L78.8 109.2 L77.3 114.1 L75.9 119 L74.5 123.9 L73.1 128.9 L71.9 133.8" stroke="#1a1a00" stroke-width="0.5" fill="none" stroke-opacity="0.75"/>
<path d="M104.2 69.8 L96 74.8 L92.6 79.7 L90 84.7 L87.8 89.6 L85.8 94.6 L84.1 99.6 L82.5 104.5 L81 109.5 L79.5 114.4 L78.2 119.4 L76.9 124.4 L75.7 129.3 L74.6 134.3" stroke="#1a1a00" stroke-width="0.5" fill="none" stroke-opacity="0.75"/>
<path d="M104.2 69.8 L96.7 74.7 L93.6 79.7 L91.3 84.6 L89.3 89.6 L87.5 94.5 L85.9 99.5 L84.5 104.4 L83.1 109.4 L81.8 114.3 L80.6 119.3 L79.4 124.2 L78.3 129.2 L77.3 134.1" stroke="#1a1a00" stroke-width="0.5" fill="none" stroke-opacity="0.75"/>
<path d="M104.2 69.8 L97.5 74.7 L94.7 79.6 L92.6 84.5 L90.8 89.5 L89.2 94.4 L87.8 99.3 L86.4 104.2 L85.2 109.1 L84.1 114 L83 118.9 L81.9 123.9 L80.9 128.8 L80 133.7" stroke="#1a1a00" stroke-width="0.5" fill="none" stroke-opacity="0.75"/>
<path d="M104.2 69.8 L98.2 74.7 L95.8 79.6 L93.9 84.5 L92.3 89.4 L90.9 94.2 L89.6 99.1 L88.4 104 L87.3 108.9 L86.3 113.8 L85.3 118.7 L84.4 123.6 L83.5 128.5 L82.7 133.3" stroke="#1a1a00" stroke-width="0.5" fill="none" stroke-opacity="0.75"/>
<path d="M104.2 69.8 L99 74.7 L96.8 79.5 L95.2 84.4 L93.8 89.3 L92.6 94.1 L91.4 99 L90.4 103.9 L89.5 108.7 L88.6 113.6 L87.7 118.4 L86.9 123.3 L86.2 128.2 L85.4 133" stroke="#1a1a00" stroke-width="0.5" fill="none" stroke-opacity="0.75"/>
<path d="M104.2 69.8 L99.7 74.7 L97.9 79.5 L96.5 84.4 L95.3 89.2 L94.2 94.1 L93.3 98.9 L92.4 103.8 L91.6 108.6 L90.8 113.5 L90.1 118.3 L89.4 123.2 L88.8 128 L88.1 132.9" stroke="#1a1a00" stroke-width="0.5" fill="none" stroke-opacity="0.75"/>
<path d="M104.2 69.8 L100.5 74.7 L99 79.5 L97.8 84.4 L96.8 89.2 L95.9 94.1 L95.2 98.9 L94.4 103.8 L93.8 108.6 L93.1 113.5 L92.5 118.3 L92 123.2 L91.4 128 L90.9 132.9" stroke="#1a1a00" stroke-width="0.5" fill="none" stroke-opacity="0.75"/>
<path d="M104.2 69.8 L101.3 74.7 L100 79.5 L99.1 84.4 L98.3 89.3 L97.6 94.2 L97 99 L96.4 103.9 L95.9 108.8 L95.4 113.6 L94.9 118.5 L94.5 123.4 L94 128.2 L93.6 133.1" stroke="#1a1a00" stroke-width="0.5" fill="none" stroke-opacity="0.75"/>
<path d="M104.2 69.8 L102 74.7 L101.1 79.6 L100.4 84.5 L99.8 89.4 L99.3 94.3 L98.8 99.2 L98.4 104.1 L98 109 L97.6 113.9 L97.3 118.8 L96.9 123.7 L96.6 128.6 L96.3 133.5" stroke="#1a1a00" stroke-width="0.5" fill="none" stroke-opacity="0.75"/>
<path d="M104.2 69.8 L102.7 74.8 L102.1 79.7 L101.7 84.7 L101.3 89.6 L101 94.6 L100.6 99.5 L100.4 104.5 L100.1 109.4 L99.8 114.4 L99.6 119.3 L99.4 124.3 L99.2 129.2 L99 134.2" stroke="#1a1a00" stroke-width="0.5" fill="none" stroke-opacity="0.75"/>
<path d="M104.2 69.8 L103.5 74.8 L103.2 79.8 L102.9 84.9 L102.7 89.9 L102.6 94.9 L102.4 99.9 L102.3 104.9 L102.1 109.9 L102 115 L101.9 120 L101.8 125 L101.7 130 L101.6 135" stroke="#1a1a00" stroke-width="0.5" fill="none" stroke-opacity="0.75"/>
<path d="M104.2 69.8 L104.2 74.9 L104.2 80 L104.2 85.1 L104.2 90.1 L104.2 95.2 L104.2 100.3 L104.2 105.4 L104.2 110.5 L104.2 115.6 L104.2 120.7 L104.2 125.8 L104.2 130.8 L104.2 135.9" stroke="#1a1a00" stroke-width="0.5" fill="none" stroke-opacity="0.75"/>
<path d="M104.2 69.8 L104.9 75 L105.2 80.1 L105.4 85.3 L105.6 90.5 L105.8 95.6 L105.9 100.8 L106 105.9 L106.2 111.1 L106.3 116.3 L106.4 121.4 L106.5 126.6 L106.6 131.8 L106.7 136.9" stroke="#1a1a00" stroke-width="0.5" fill="none" stroke-opacity="0.75"/>
<path d="M104.2 69.8 L105.6 75 L106.2 80.3 L106.6 85.5 L107 90.8 L107.3 96 L107.6 101.3 L107.9 106.5 L108.2 111.7 L108.4 117 L108.6 122.2 L108.8 127.5 L109 132.7 L109.2 138" stroke="#1a1a00" stroke-width="0.5" fill="none" stroke-opacity="0.75"/>
<path d="M104.2 69.8 L106.3 75.1 L107.2 80.4 L107.8 85.8 L108.4 91.1 L108.9 96.4 L109.4 101.7 L109.8 107.1 L110.1 112.4 L110.5 117.7 L110.9 123 L111.2 128.4 L111.5 133.7 L111.8 139" stroke="#1a1a00" stroke-width="0.5" fill="none" stroke-opacity="0.75"/>
<path d="M104.2 69.8 L107 75.2 L108.2 80.6 L109.1 86 L109.8 91.4 L110.5 96.8 L111.1 102.2 L111.6 107.6 L112.1 113 L112.6 118.4 L113.1 123.8 L113.5 129.2 L113.9 134.6 L114.3 140.1" stroke="#1a1a00" stroke-width="0.5" fill="none" stroke-opacity="0.75"/>
<path d="M104.2 69.8 L107.7 75.3 L109.2 80.8 L110.3 86.2 L111.2 91.7 L112 97.2 L112.8 102.7 L113.5 108.2 L114.1 113.7 L114.7 119.1 L115.3 124.6 L115.8 130.1 L116.4 135.6 L116.9 141.1" stroke="#1a1a00" stroke-width="0.5" fill="none" stroke-opacity="0.75"/>
<path d="M104.2 69.8 L108.4 75.4 L110.2 80.9 L111.5 86.5 L112.6 92 L113.6 97.6 L114.5 103.1 L115.4 108.7 L116.1 114.2 L116.9 119.8 L117.6 125.4 L118.2 130.9 L118.8 136.5 L119.4 142" stroke="#1a1a00" stroke-width="0.5" fill="none" stroke-opacity="0.75"/>
<path d="M104.2 69.8 L109.1 75.4 L111.2 81 L112.8 86.7 L114.1 92.3 L115.3 97.9 L116.3 103.5 L117.3 109.1 L118.2 114.8 L119 120.4 L119.8 126 L120.6 131.6 L121.3 137.2 L122 142.9" stroke="#1a1a00" stroke-width="0.5" fill="none" stroke-opacity="0.75"/>
<path d="M104.2 69.8 L109.9 75.5 L112.2 81.2 L114 86.8 L115.5 92.5 L116.9 98.2 L118.1 103.9 L119.2 109.6 L120.2 115.2 L121.2 120.9 L122.1 126.6 L123 132.3 L123.9 138 L124.7 143.6" stroke="#1a1a00" stroke-width="0.5" fill="none" stroke-opacity="0.75"/>
<path d="M104.2 69.8 L110.6 75.5 L113.3 81.3 L115.3 87 L117 92.7 L118.5 98.4 L119.9 104.2 L121.2 109.9 L122.3 115.6 L123.4 121.4 L124.5 127.1 L125.5 132.8 L126.4 138.6 L127.3 144.3" stroke="#1a1a00" stroke-width="0.5" fill="none" stroke-opacity="0.75"/>
<path d="M104.2 69.8 L111.4 75.6 L114.3 81.3 L116.6 87.1 L118.5 92.9 L120.2 98.7 L121.7 104.4 L123.1 110.2 L124.4 116 L125.7 121.7 L126.8 127.5 L127.9 133.3 L129 139.1 L130 144.8" stroke="#1a1a00" stroke-width="0.5" fill="none" stroke-opacity="0.75"/>
<path d="M104.2 69.8 L112.1 75.6 L115.4 81.4 L117.9 87.2 L120 93 L121.9 98.8 L123.6 104.6 L125.1 110.4 L126.6 116.2 L127.9 122 L129.2 127.8 L130.4 133.6 L131.6 139.4 L132.7 145.2" stroke="#1a1a00" stroke-width="0.5" fill="none" stroke-opacity="0.75"/>
<path d="M104.2 69.8 L112.9 75.6 L116.5 81.4 L119.2 87.2 L121.5 93.1 L123.6 98.9 L125.4 104.7 L127.1 110.5 L128.7 116.3 L130.2 122.1 L131.6 127.9 L132.9 133.8 L134.2 139.6 L135.4 145.4" stroke="#1a1a00" stroke-width="0.5" fill="none" stroke-opacity="0.75"/>
<path d="M104.2 69.8 L113.6 75.6 L117.5 81.4 L120.5 87.2 L123 93 L125.3 98.8 L127.3 104.6 L129.1 110.4 L130.8 116.2 L132.5 122 L134 127.8 L135.4 133.6 L136.8 139.4 L138.2 145.2" stroke="#1a1a00" stroke-width="0.5" fill="none" stroke-opacity="0.75"/>
<path d="M104.2 69.8 L114.3 75.5 L118.5 81.3 L121.7 87 L124.5 92.7 L126.9 98.4 L129 104.2 L131 109.9 L132.9 115.6 L134.6 121.4 L136.2 127.1 L137.8 132.8 L139.3 138.5 L140.7 144.3" stroke="#1a1a00" stroke-width="0.5" fill="none" stroke-opacity="0.75"/>
<path d="M104.2 69.8 L115 75.4 L119.5 81 L122.9 86.7 L125.8 92.3 L128.3 97.9 L130.6 103.5 L132.7 109.2 L134.7 114.8 L136.6 120.4 L138.3 126 L140 131.6 L141.6 137.3 L143.1 142.9" stroke="#1a1a00" stroke-width="0.5" fill="none" stroke-opacity="0.75"/>
<path d="M104.2 69.8 L115.6 75.3 L120.4 80.8 L124 86.3 L127.1 91.8 L129.8 97.3 L132.2 102.8 L134.4 108.4 L136.5 113.9 L138.5 119.4 L140.3 124.9 L142.1 130.4 L143.8 135.9 L145.4 141.4" stroke="#1a1a00" stroke-width="0.5" fill="none" stroke-opacity="0.75"/>
<ellipse cx="106" cy="98" rx="7" ry="14" fill="url(#g_hl)" opacity="0.6" transform="rotate(-12 106 98)"/>
</g>
<path d="M104.2 69.5 L105 69.9 L105.9 70.8 L106.9 71.9 L108 73 L109.1 74 L110.2 75.2 L111.5 76.3 L112.8 77.6 L114.2 79 L115.8 80.4 L117.4 81.9 L119 83.5 L120.6 85.1 L122.3 86.8 L123.9 88.5 L125.4 90.2 L126.8 92 L128 93.8 L129.3 95.6 L130.5 97.5 L131.8 99.4 L133.1 101.4 L134.3 103.3 L135.4 105.2 L136.4 107 L137.3 108.9 L138.1 110.7 L138.8 112.5 L139.5 114.4 L140.1 116.3 L140.6 118.2 L141 120 L141.4 121.8 L141.6 123.7 L141.8 125.4 L142 127 L142.1 128.4 L142.1 129.5 L142.1 130.7 L142 132 L141.9 133.6 L141.8 135.3 L141.5 137 L141.2 138.5 L140.8 139.8 L140.3 140.9 L139.7 141.9 L138.8 142.6 L137.6 143.1 L136.2 143.3 L134.6 143.4 L133 143.4 L131.3 143.3 L129.4 143 L127.6 142.6 L125.7 142.2 L123.9 141.7 L122.1 141.2 L120.2 140.6 L118.4 140 L116.6 139.3 L114.8 138.6 L112.9 137.8 L111.1 137.1 L109.3 136.4 L107.4 135.6 L105.6 134.9 L103.8 134.2 L102 133.6 L100.2 133 L98.3 132.4 L96.5 132 L94.7 131.7 L92.8 131.5 L91 131.3 L89.2 131.3 L87.4 131.4 L85.6 131.5 L83.7 131.7 L81.9 131.9 L80 132.1 L78.1 132.4 L76.3 132.6 L74.6 132.6 L73.1 132.4 L71.8 132 L70.6 131.5 L69.5 130.8 L68.6 129.9 L67.8 128.9 L67.2 127.7 L66.8 126.5 L66.5 125.2 L66.4 123.9 L66.5 122.4 L66.6 121 L66.8 119.5 L67.1 118 L67.5 116.5 L68 115 L68.6 113.5 L69.4 112.1 L70.2 110.6 L71 109 L71.8 107.3 L72.6 105.6 L73.5 103.8 L74.5 102 L75.7 100.2 L77.2 98.5 L78.6 96.7 L80 95 L81.3 93.3 L82.5 91.7 L83.7 90.1 L85 88.5 L86.3 87 L87.6 85.4 L88.9 84 L90.2 82.6 L91.4 81.3 L92.7 80.1 L93.9 79 L95 78 L96.1 77.1 L97.1 76.3 L98.1 75.5 L99 74.8 L99.8 74.1 L100.6 73.4 L101.3 72.7 L102 72 L102.6 71.2 L103.1 70.4 L103.6 69.7 Z" fill="none" stroke="#1a1a00" stroke-width="1.1"/>
<g clip-path="url(#s_up)">
<rect x="73" y="0" width="62" height="75" fill="url(#g_up)"/>
<path d="M94.4 63.3 L94.7 63.4 L95.1 63.5 L95.4 63.6 L95.6 63.7 L95.9 63.8 L96.1 64 L96.3 64.1 L96.6 64.2 L96.8 64.3 L97.1 64.4 L97.4 64.5 L97.7 64.6 L98 64.7 L98.3 64.8 L98.6 64.9 L99 64.9 L99.3 65 L99.7 65 L100.1 65.1 L100.5 65.1 L100.8 65.1 L101.2 65.1 L101.6 65.1 L102 65.1 L102.4 65.1 L102.8 65.1 L103.2 65.1 L103.6 65.1 L104 65.1 L104.4 65.1 L104.8 65.1 L105.2 65.1 L105.6 65.1 L105.9 65.1 L106.3 65.1 L106.7 65 L107.1 65 L107.5 65 L107.8 64.9 L108.2 64.9 L108.5 64.8 L108.9 64.7 L109.2 64.7 L109.6 64.6 L109.9 64.5 L110.3 64.4 L110.6 64.3 L110.9 64.2 L111.3 64.1 L111.6 64 L112 63.9 L112.3 63.8 L112.7 63.8 L113.1 63.7 L113.5 63.8 L113.8 63.8 L114.2 63.7 L114.6 63.7 L115 63.6" stroke="#101000" stroke-width="0.85" fill="none" stroke-opacity="0.9"/>
<path d="M91.2 58.8 L91.7 59 L92.1 59.2 L92.5 59.3 L92.8 59.5 L93.1 59.7 L93.4 59.9 L93.7 60.2 L94.1 60.4 L94.4 60.5 L94.7 60.7 L95.1 60.9 L95.5 61.1 L95.9 61.2 L96.3 61.3 L96.7 61.4 L97.2 61.5 L97.6 61.6 L98.1 61.7 L98.6 61.7 L99.1 61.8 L99.6 61.8 L100.1 61.8 L100.6 61.8 L101.1 61.8 L101.6 61.9 L102.2 61.9 L102.7 61.9 L103.2 61.9 L103.7 61.8 L104.2 61.8 L104.7 61.8 L105.2 61.8 L105.7 61.8 L106.2 61.8 L106.7 61.8 L107.2 61.7 L107.7 61.7 L108.2 61.6 L108.7 61.5 L109.1 61.4 L109.6 61.3 L110.1 61.2 L110.5 61.1 L111 61 L111.4 60.8 L111.8 60.7 L112.3 60.5 L112.7 60.4 L113.2 60.2 L113.6 60.1 L114.1 59.9 L114.5 59.8 L115 59.7 L115.5 59.6 L116 59.6 L116.5 59.7 L117 59.6 L117.5 59.5 L118 59.4" stroke="#101000" stroke-width="0.85" fill="none" stroke-opacity="0.9"/>
<path d="M88.6 54.4 L89.1 54.6 L89.6 54.9 L90.1 55.1 L90.4 55.4 L90.8 55.7 L91.2 55.9 L91.6 56.2 L91.9 56.5 L92.3 56.8 L92.8 57 L93.2 57.3 L93.7 57.5 L94.1 57.7 L94.6 57.9 L95.1 58 L95.7 58.1 L96.2 58.3 L96.8 58.3 L97.4 58.4 L98 58.5 L98.6 58.5 L99.2 58.5 L99.8 58.6 L100.4 58.6 L101 58.6 L101.6 58.6 L102.2 58.6 L102.8 58.6 L103.4 58.6 L104.1 58.6 L104.7 58.6 L105.3 58.5 L105.9 58.5 L106.5 58.5 L107.1 58.4 L107.7 58.4 L108.2 58.3 L108.8 58.2 L109.4 58.1 L109.9 58 L110.5 57.8 L111 57.7 L111.6 57.5 L112.1 57.3 L112.7 57.2 L113.2 57 L113.7 56.7 L114.2 56.5 L114.7 56.3 L115.3 56.1 L115.8 55.9 L116.4 55.7 L116.9 55.5 L117.5 55.5 L118.1 55.5 L118.7 55.5 L119.3 55.4 L119.9 55.3 L120.5 55.2" stroke="#101000" stroke-width="0.85" fill="none" stroke-opacity="0.9"/>
<path d="M86.2 50 L86.8 50.3 L87.4 50.6 L87.9 50.9 L88.4 51.2 L88.8 51.6 L89.2 51.9 L89.7 52.3 L90.1 52.7 L90.5 53 L91 53.3 L91.5 53.6 L92 53.9 L92.6 54.1 L93.1 54.4 L93.7 54.6 L94.3 54.8 L95 54.9 L95.6 55 L96.3 55.1 L96.9 55.2 L97.6 55.2 L98.3 55.2 L99 55.3 L99.7 55.3 L100.4 55.3 L101.1 55.3 L101.8 55.3 L102.5 55.3 L103.2 55.3 L103.9 55.3 L104.6 55.3 L105.3 55.2 L106 55.2 L106.7 55.2 L107.4 55.1 L108 55 L108.7 55 L109.3 54.8 L110 54.7 L110.6 54.5 L111.3 54.4 L111.9 54.2 L112.5 54 L113.1 53.7 L113.7 53.5 L114.3 53.2 L114.9 53 L115.5 52.7 L116.1 52.4 L116.7 52.1 L117.3 51.9 L118 51.7 L118.6 51.4 L119.3 51.4 L120 51.4 L120.7 51.4 L121.4 51.3 L122 51.2 L122.7 51" stroke="#101000" stroke-width="0.85" fill="none" stroke-opacity="0.9"/>
<path d="M84.1 45.5 L84.7 45.9 L85.4 46.3 L86 46.6 L86.5 47.1 L87 47.5 L87.4 47.9 L87.9 48.4 L88.4 48.8 L88.9 49.2 L89.4 49.6 L90 50 L90.6 50.3 L91.2 50.6 L91.8 50.9 L92.4 51.1 L93.1 51.4 L93.8 51.5 L94.6 51.7 L95.3 51.8 L96 51.9 L96.8 51.9 L97.6 52 L98.3 52 L99.1 52 L99.9 52 L100.7 52 L101.5 52 L102.2 52 L103 52 L103.8 52 L104.6 52 L105.3 52 L106.1 51.9 L106.9 51.9 L107.6 51.8 L108.4 51.7 L109.1 51.6 L109.8 51.4 L110.6 51.3 L111.3 51.1 L112 50.9 L112.7 50.6 L113.4 50.4 L114.1 50.1 L114.7 49.8 L115.4 49.5 L116.1 49.2 L116.7 48.9 L117.4 48.5 L118.1 48.2 L118.7 47.9 L119.5 47.6 L120.2 47.3 L120.9 47.2 L121.7 47.3 L122.5 47.3 L123.2 47.2 L123.9 47 L124.7 46.8" stroke="#101000" stroke-width="0.85" fill="none" stroke-opacity="0.9"/>
<path d="M82.1 41.1 L82.8 41.5 L83.5 42 L84.2 42.4 L84.7 42.9 L85.3 43.4 L85.8 43.9 L86.3 44.5 L86.8 45 L87.4 45.4 L88 45.9 L88.6 46.3 L89.2 46.7 L89.9 47.1 L90.5 47.4 L91.3 47.7 L92 48 L92.8 48.2 L93.6 48.3 L94.4 48.4 L95.2 48.5 L96 48.6 L96.9 48.7 L97.7 48.7 L98.6 48.7 L99.4 48.7 L100.3 48.7 L101.1 48.7 L102 48.7 L102.8 48.7 L103.7 48.7 L104.5 48.7 L105.4 48.7 L106.2 48.6 L107.1 48.6 L107.9 48.5 L108.7 48.4 L109.5 48.2 L110.3 48.1 L111.1 47.9 L111.9 47.7 L112.6 47.4 L113.4 47.1 L114.2 46.8 L114.9 46.5 L115.7 46.2 L116.4 45.8 L117.1 45.4 L117.8 45 L118.6 44.6 L119.3 44.2 L120 43.9 L120.8 43.5 L121.6 43.2 L122.4 43.1 L123.3 43.1 L124.1 43.2 L124.9 43 L125.7 42.8 L126.5 42.6" stroke="#101000" stroke-width="0.85" fill="none" stroke-opacity="0.9"/>
<path d="M80.3 36.7 L81 37.2 L81.8 37.7 L82.5 38.2 L83.1 38.8 L83.7 39.3 L84.3 39.9 L84.8 40.5 L85.4 41.1 L86 41.7 L86.6 42.2 L87.2 42.7 L87.9 43.1 L88.7 43.6 L89.4 44 L90.2 44.3 L91 44.6 L91.8 44.8 L92.7 45 L93.5 45.1 L94.4 45.2 L95.3 45.3 L96.2 45.4 L97.1 45.4 L98 45.4 L99 45.5 L99.9 45.5 L100.8 45.4 L101.7 45.5 L102.7 45.4 L103.6 45.4 L104.5 45.4 L105.4 45.4 L106.3 45.3 L107.2 45.3 L108.1 45.2 L109 45 L109.9 44.9 L110.7 44.7 L111.6 44.5 L112.4 44.2 L113.2 43.9 L114.1 43.6 L114.9 43.2 L115.7 42.9 L116.5 42.5 L117.3 42.1 L118.1 41.6 L118.9 41.2 L119.6 40.7 L120.4 40.3 L121.2 39.8 L122.1 39.5 L122.9 39.1 L123.8 39 L124.7 39 L125.6 39.1 L126.5 38.9 L127.4 38.6 L128.3 38.4" stroke="#101000" stroke-width="0.85" fill="none" stroke-opacity="0.9"/>
<path d="M78.6 32.3 L79.4 32.8 L80.2 33.4 L80.9 33.9 L81.6 34.6 L82.2 35.3 L82.8 35.9 L83.4 36.6 L84 37.3 L84.6 37.9 L85.3 38.5 L86 39 L86.7 39.6 L87.5 40 L88.3 40.5 L89.1 40.8 L90 41.2 L90.9 41.5 L91.8 41.6 L92.7 41.8 L93.7 41.9 L94.6 42 L95.6 42.1 L96.6 42.1 L97.6 42.1 L98.5 42.2 L99.5 42.2 L100.5 42.2 L101.5 42.2 L102.5 42.2 L103.5 42.1 L104.5 42.1 L105.4 42.1 L106.4 42 L107.4 42 L108.3 41.8 L109.3 41.7 L110.2 41.5 L111.1 41.3 L112 41.1 L112.9 40.8 L113.8 40.4 L114.7 40.1 L115.6 39.7 L116.4 39.3 L117.3 38.8 L118.2 38.3 L119 37.8 L119.8 37.3 L120.7 36.8 L121.5 36.3 L122.4 35.8 L123.3 35.4 L124.2 35 L125.1 34.8 L126.1 34.9 L127.1 35 L128 34.8 L129 34.5 L129.9 34.2" stroke="#101000" stroke-width="0.85" fill="none" stroke-opacity="0.9"/>
<path d="M76.9 27.8 L77.8 28.5 L78.6 29.1 L79.5 29.7 L80.1 30.4 L80.8 31.2 L81.4 31.9 L82 32.7 L82.7 33.4 L83.4 34.1 L84.1 34.8 L84.8 35.4 L85.6 36 L86.4 36.5 L87.2 37 L88.1 37.4 L89.1 37.8 L90 38.1 L91 38.3 L92 38.5 L93 38.6 L94 38.7 L95 38.8 L96 38.9 L97.1 38.9 L98.1 38.9 L99.2 38.9 L100.2 38.9 L101.3 38.9 L102.3 38.9 L103.4 38.9 L104.4 38.8 L105.5 38.8 L106.5 38.7 L107.5 38.7 L108.5 38.5 L109.5 38.4 L110.5 38.2 L111.5 37.9 L112.5 37.7 L113.4 37.3 L114.4 36.9 L115.3 36.6 L116.2 36.1 L117.2 35.6 L118.1 35.1 L119 34.6 L119.9 34 L120.8 33.5 L121.6 32.9 L122.5 32.4 L123.5 31.8 L124.4 31.3 L125.4 30.9 L126.4 30.7 L127.4 30.8 L128.5 30.9 L129.5 30.6 L130.4 30.3 L131.4 30" stroke="#101000" stroke-width="0.85" fill="none" stroke-opacity="0.9"/>
<path d="M75.3 23.4 L76.3 24.1 L77.2 24.8 L78 25.4 L78.7 26.3 L79.4 27.1 L80.1 27.9 L80.8 28.8 L81.4 29.6 L82.2 30.3 L82.9 31.1 L83.7 31.8 L84.5 32.4 L85.4 33 L86.2 33.5 L87.2 34 L88.2 34.4 L89.1 34.7 L90.2 34.9 L91.2 35.1 L92.3 35.3 L93.4 35.4 L94.5 35.5 L95.5 35.6 L96.7 35.6 L97.8 35.6 L98.9 35.6 L100 35.6 L101.1 35.6 L102.2 35.6 L103.3 35.6 L104.4 35.6 L105.5 35.5 L106.6 35.4 L107.7 35.4 L108.7 35.2 L109.8 35 L110.8 34.8 L111.9 34.5 L112.9 34.2 L113.9 33.9 L114.9 33.5 L115.9 33 L116.9 32.5 L117.8 32 L118.8 31.5 L119.7 30.9 L120.7 30.3 L121.6 29.6 L122.6 29 L123.5 28.4 L124.5 27.8 L125.5 27.3 L126.5 26.8 L127.6 26.6 L128.7 26.7 L129.8 26.7 L130.8 26.5 L131.9 26.1 L132.9 25.8" stroke="#101000" stroke-width="0.85" fill="none" stroke-opacity="0.9"/>
<path d="M73.8 19 L74.8 19.7 L75.8 20.5 L76.7 21.2 L77.4 22.1 L78.1 23 L78.8 23.9 L79.5 24.8 L80.2 25.7 L81 26.6 L81.8 27.3 L82.6 28.1 L83.5 28.8 L84.4 29.4 L85.3 30.1 L86.3 30.5 L87.3 31 L88.3 31.4 L89.4 31.6 L90.5 31.8 L91.6 32 L92.8 32.1 L93.9 32.2 L95.1 32.3 L96.2 32.3 L97.4 32.3 L98.6 32.3 L99.7 32.3 L100.9 32.3 L102 32.3 L103.2 32.3 L104.4 32.3 L105.5 32.2 L106.7 32.1 L107.8 32 L108.9 31.9 L110 31.7 L111.1 31.5 L112.2 31.2 L113.3 30.8 L114.4 30.4 L115.4 30 L116.4 29.5 L117.5 29 L118.5 28.4 L119.5 27.8 L120.5 27.2 L121.5 26.5 L122.5 25.8 L123.5 25.1 L124.5 24.4 L125.5 23.8 L126.5 23.2 L127.6 22.6 L128.7 22.4 L129.9 22.5 L131 22.6 L132.1 22.3 L133.2 22 L134.3 21.6" stroke="#101000" stroke-width="0.85" fill="none" stroke-opacity="0.9"/>
<path d="M72.4 14.6 L73.4 15.4 L74.4 16.2 L75.3 17 L76.1 18 L76.9 18.9 L77.6 19.9 L78.4 20.9 L79.1 21.9 L79.9 22.8 L80.7 23.6 L81.6 24.5 L82.5 25.2 L83.4 25.9 L84.4 26.6 L85.4 27.1 L86.5 27.6 L87.6 28 L88.7 28.3 L89.9 28.5 L91 28.7 L92.2 28.8 L93.4 28.9 L94.6 29 L95.8 29 L97 29.1 L98.3 29.1 L99.5 29 L100.7 29.1 L101.9 29 L103.1 29 L104.3 29 L105.5 28.9 L106.7 28.8 L107.9 28.7 L109.1 28.6 L110.3 28.4 L111.4 28.1 L112.6 27.8 L113.7 27.4 L114.8 27 L115.9 26.5 L117 26 L118 25.4 L119.1 24.8 L120.2 24.1 L121.2 23.4 L122.2 22.7 L123.3 22 L124.3 21.2 L125.4 20.5 L126.4 19.8 L127.5 19.1 L128.7 18.5 L129.8 18.3 L131 18.4 L132.2 18.5 L133.4 18.2 L134.5 17.8 L135.7 17.4" stroke="#101000" stroke-width="0.85" fill="none" stroke-opacity="0.9"/>
<path d="M71 10.1 L72 11 L73.1 11.9 L74.1 12.7 L74.9 13.8 L75.7 14.9 L76.5 15.9 L77.2 17 L78 18 L78.8 19 L79.7 19.9 L80.6 20.8 L81.5 21.6 L82.5 22.4 L83.5 23.1 L84.6 23.7 L85.7 24.2 L86.8 24.6 L88 24.9 L89.2 25.2 L90.4 25.4 L91.7 25.5 L92.9 25.6 L94.2 25.7 L95.4 25.7 L96.7 25.8 L98 25.8 L99.2 25.8 L100.5 25.8 L101.8 25.7 L103 25.7 L104.3 25.7 L105.6 25.6 L106.8 25.5 L108 25.4 L109.3 25.2 L110.5 25 L111.7 24.8 L112.9 24.4 L114.1 24 L115.2 23.6 L116.3 23 L117.5 22.5 L118.6 21.8 L119.7 21.2 L120.8 20.5 L121.9 19.7 L123 18.9 L124.1 18.1 L125.2 17.3 L126.2 16.5 L127.3 15.8 L128.5 15.1 L129.7 14.4 L130.9 14.2 L132.1 14.3 L133.4 14.4 L134.6 14.1 L135.8 13.6 L137 13.2" stroke="#101000" stroke-width="0.85" fill="none" stroke-opacity="0.9"/>
<path d="M105 70.5 L96.7 65.8 L92.9 61.2 L89.8 56.5 L87.2 51.9 L84.9 47.2 L82.8 42.6 L80.8 37.9 L79 33.3 L77.2 28.6 L75.6 24 L74 19.3 L72.5 14.7 L71 10" stroke="#1a1a00" stroke-width="0.5" fill="none" stroke-opacity="0.75"/>
<path d="M105 70.5 L97.4 66 L93.9 61.5 L91.1 57 L88.8 52.5 L86.6 48 L84.7 43.5 L82.9 39 L81.2 34.5 L79.6 30 L78.1 25.5 L76.7 21 L75.3 16.5 L73.9 12" stroke="#1a1a00" stroke-width="0.5" fill="none" stroke-opacity="0.75"/>
<path d="M105 70.5 L98 66.2 L94.7 61.9 L92.1 57.7 L89.9 53.4 L88 49.1 L86.2 44.8 L84.5 40.5 L82.9 36.2 L81.5 32 L80 27.7 L78.7 23.4 L77.4 19.1 L76.2 14.8" stroke="#1a1a00" stroke-width="0.5" fill="none" stroke-opacity="0.75"/>
<path d="M105 70.5 L98.5 66.4 L95.5 62.4 L93.1 58.3 L91 54.3 L89.2 50.2 L87.5 46.1 L86 42.1 L84.6 38 L83.2 33.9 L81.9 29.9 L80.6 25.8 L79.4 21.8 L78.3 17.7" stroke="#1a1a00" stroke-width="0.5" fill="none" stroke-opacity="0.75"/>
<path d="M105 70.5 L99.1 66.6 L96.4 62.8 L94.2 58.9 L92.3 55 L90.7 51.2 L89.2 47.3 L87.8 43.5 L86.5 39.6 L85.2 35.7 L84 31.9 L82.9 28 L81.8 24.1 L80.8 20.3" stroke="#1a1a00" stroke-width="0.5" fill="none" stroke-opacity="0.75"/>
<path d="M105 70.5 L99.8 66.8 L97.3 63.1 L95.4 59.4 L93.8 55.7 L92.3 52.1 L91 48.4 L89.7 44.7 L88.6 41 L87.5 37.3 L86.4 33.6 L85.4 29.9 L84.5 26.2 L83.5 22.5" stroke="#1a1a00" stroke-width="0.5" fill="none" stroke-opacity="0.75"/>
<path d="M105 70.5 L100.5 66.9 L98.4 63.4 L96.8 59.8 L95.4 56.3 L94.1 52.7 L93 49.2 L91.9 45.6 L90.9 42.1 L90 38.5 L89.1 35 L88.3 31.4 L87.4 27.9 L86.6 24.3" stroke="#1a1a00" stroke-width="0.5" fill="none" stroke-opacity="0.75"/>
<path d="M105 70.5 L101.3 67 L99.6 63.6 L98.3 60.1 L97.2 56.7 L96.1 53.2 L95.2 49.7 L94.3 46.3 L93.5 42.8 L92.8 39.3 L92 35.9 L91.3 32.4 L90.7 29 L90 25.5" stroke="#1a1a00" stroke-width="0.5" fill="none" stroke-opacity="0.75"/>
<path d="M105 70.5 L102.2 67.1 L100.9 63.7 L99.9 60.3 L99 56.9 L98.2 53.5 L97.5 50.1 L96.8 46.7 L96.2 43.3 L95.6 39.9 L95.1 36.5 L94.5 33.1 L94 29.7 L93.5 26.3" stroke="#1a1a00" stroke-width="0.5" fill="none" stroke-opacity="0.75"/>
<path d="M105 70.5 L103.1 67.1 L102.2 63.7 L101.5 60.4 L100.9 57 L100.3 53.6 L99.8 50.2 L99.4 46.9 L98.9 43.5 L98.5 40.1 L98.1 36.7 L97.8 33.3 L97.4 30 L97.1 26.6" stroke="#1a1a00" stroke-width="0.5" fill="none" stroke-opacity="0.75"/>
<path d="M105 70.5 L103.9 67.1 L103.4 63.7 L103.1 60.4 L102.7 57 L102.4 53.6 L102.2 50.2 L101.9 46.8 L101.7 43.4 L101.4 40.1 L101.2 36.7 L101 33.3 L100.8 29.9 L100.7 26.5" stroke="#1a1a00" stroke-width="0.5" fill="none" stroke-opacity="0.75"/>
<path d="M105 70.5 L104.8 67.1 L104.7 63.7 L104.6 60.3 L104.6 56.9 L104.5 53.4 L104.5 50 L104.4 46.6 L104.4 43.2 L104.4 39.8 L104.3 36.4 L104.3 33 L104.2 29.6 L104.2 26.2" stroke="#1a1a00" stroke-width="0.5" fill="none" stroke-opacity="0.75"/>
<path d="M105 70.5 L105.7 67 L106 63.6 L106.2 60.1 L106.4 56.6 L106.6 53.2 L106.8 49.7 L106.9 46.3 L107.1 42.8 L107.2 39.3 L107.4 35.9 L107.5 32.4 L107.6 28.9 L107.7 25.5" stroke="#1a1a00" stroke-width="0.5" fill="none" stroke-opacity="0.75"/>
<path d="M105 70.5 L106.5 67 L107.2 63.4 L107.7 59.9 L108.2 56.3 L108.6 52.8 L109 49.3 L109.4 45.7 L109.7 42.2 L110 38.6 L110.3 35.1 L110.6 31.6 L110.9 28 L111.2 24.5" stroke="#1a1a00" stroke-width="0.5" fill="none" stroke-opacity="0.75"/>
<path d="M105 70.5 L107.3 66.9 L108.4 63.2 L109.2 59.6 L110 55.9 L110.6 52.3 L111.2 48.6 L111.7 45 L112.3 41.4 L112.7 37.7 L113.2 34.1 L113.6 30.4 L114.1 26.8 L114.5 23.2" stroke="#1a1a00" stroke-width="0.5" fill="none" stroke-opacity="0.75"/>
<path d="M105 70.5 L108.1 66.7 L109.5 63 L110.7 59.2 L111.6 55.4 L112.5 51.7 L113.3 47.9 L114 44.1 L114.7 40.4 L115.4 36.6 L116 32.9 L116.6 29.1 L117.1 25.3 L117.7 21.6" stroke="#1a1a00" stroke-width="0.5" fill="none" stroke-opacity="0.75"/>
<path d="M105 70.5 L108.9 66.6 L110.6 62.7 L112.1 58.8 L113.3 54.9 L114.4 51 L115.3 47.1 L116.3 43.2 L117.1 39.3 L117.9 35.4 L118.7 31.5 L119.4 27.6 L120.1 23.7 L120.8 19.8" stroke="#1a1a00" stroke-width="0.5" fill="none" stroke-opacity="0.75"/>
<path d="M105 70.5 L109.6 66.5 L111.7 62.4 L113.4 58.4 L114.9 54.3 L116.1 50.3 L117.3 46.2 L118.4 42.2 L119.4 38.1 L120.4 34.1 L121.3 30.1 L122.2 26 L123 22 L123.8 17.9" stroke="#1a1a00" stroke-width="0.5" fill="none" stroke-opacity="0.75"/>
<path d="M105 70.5 L110.3 66.3 L112.8 62.1 L114.8 57.9 L116.5 53.8 L118 49.6 L119.3 45.4 L120.6 41.2 L121.8 37 L122.9 32.8 L124 28.6 L125 24.4 L126 20.3 L126.9 16.1" stroke="#1a1a00" stroke-width="0.5" fill="none" stroke-opacity="0.75"/>
<path d="M105 70.5 L111.1 66.2 L114 61.9 L116.2 57.6 L118.1 53.3 L119.9 49 L121.4 44.7 L122.9 40.4 L124.2 36.1 L125.5 31.8 L126.8 27.5 L127.9 23.2 L129.1 18.9 L130.1 14.6" stroke="#1a1a00" stroke-width="0.5" fill="none" stroke-opacity="0.75"/>
<path d="M105 70.5 L112 66.2 L115.2 62 L117.8 57.7 L120 53.5 L121.9 49.2 L123.7 45 L125.4 40.7 L126.9 36.5 L128.4 32.2 L129.8 27.9 L131.1 23.7 L132.4 19.4 L133.6 15.2" stroke="#1a1a00" stroke-width="0.5" fill="none" stroke-opacity="0.75"/>
<path d="M105 70.5 L112.8 66.2 L116.4 61.8 L119.3 57.5 L121.7 53.1 L123.9 48.8 L125.9 44.4 L127.8 40.1 L129.5 35.7 L131.1 31.4 L132.7 27 L134.2 22.7 L135.6 18.3 L137 14" stroke="#1a1a00" stroke-width="0.5" fill="none" stroke-opacity="0.75"/>
<rect x="70" y="0" width="70" height="75" fill="url(#g_up2)"/>
<path d="M74.4 12.1 L74.6 11 L75 10.1 L75.5 9.3 L76 8.6 L76.6 7.9 L77.3 7.4 L78 6.9 L78.8 6.4 L79.7 6 L80.6 5.6 L81.5 5.3 L82.5 5 L83.5 4.8 L84.5 4.6 L85.5 4.5 L86.5 4.4 L87.6 4.3 L88.8 4.3 L89.9 4.3 L91 4.3 L92 4.4 L93 4.4 L93.9 4.6 L95 4.8 L96.2 5.1 L97.5 5.6 L98.8 6.1 L100 6.6 L101.2 7.1 L102.3 7.7 L103.4 8.3 L104.5 8.8 L105.5 9.3 L106.4 9.8 L107.4 10.3 L108.5 10.8 L109.8 11.4 L111.1 12 L112.6 12.5 L114 13 L115.4 13.4 L116.9 13.6 L118.3 13.8 L119.6 14 L120.8 14.1 L121.9 14.1 L123 14 L124 14 L124.9 14 L125.7 14 L126.5 14 L127.3 14 L128.1 14.1 L129 14.1 L129.8 14.2 L130.5 14.4 L131.2 14.6 L131.8 14.8 L132.4 15.1 L132.8 15.6 L133.1 16.3 L133.3 17.1 L133.4 18 L133.4 19 L133.2 20.1 L133 21.4 L132.6 22.7 L132.2 24.2 L131.7 25.8 L131.2 27.5 L130.6 29.3 L130 31 L129.5 32.6 L128.9 34.2 L128.3 35.8 L127.7 37.4 L127 39 L126.2 40.7 L125.3 42.3 L124.5 44 L123.6 45.7 L122.8 47.4 L121.9 49.1 L121 50.7 L120.1 52.2 L119.3 53.7 L118.4 55.1 L117.5 56.5 L116.5 57.9 L115.4 59.2 L114.4 60.5 L113.4 61.7 L112.5 62.7 L111.8 63.6 L111 64.5 L110.3 65.3 L109.6 66.1 L108.9 66.9 L108.2 67.6 L107.6 68.3 L107 68.9 L106.4 69.5 L105.8 70 L105.3 70.3 L104.8 70.3 L104.3 70.1 L103.8 69.8 L103.3 69.3 L102.8 68.7 L102.3 67.9 L101.7 67 L101 66 L100.1 64.9 L99 63.7 L97.9 62.4 L96.8 61 L95.7 59.6 L94.6 58.1 L93.5 56.6 L92.4 55 L91.3 53.4 L90.2 51.8 L89.1 50.1 L88 48.5 L86.9 46.9 L85.7 45.3 L84.6 43.6 L83.6 41.9 L82.6 40.1 L81.7 38.3 L80.8 36.4 L80 34.5 L79.2 32.5 L78.4 30.5 L77.7 28.4 L77 26.4 L76.4 24.4 L75.9 22.3 L75.4 20.4 L75 18.5 L74.7 16.7 L74.5 15 L74.4 13.5 Z" fill="none" stroke="#303000" stroke-width="5" stroke-opacity="0.35"/>
<path d="M74.4 12.1 L74.7 10.9 L75.4 9.7 L76.4 8.5 L77.6 7.4 L78.8 6.6 L80.1 6 L81.7 5.6 L83.3 5.3 L84.9 5.1 L86.5 4.9 L88 4.8 L89.6 4.8 L91.1 4.9 L92.6 5 L94 5.2 L95.3 5.5 L96.4 5.8 L97.5 6.2 L98.7 6.7 L100 7.2 L101.6 7.9 L103.4 8.7 L105.2 9.5 L107 10.3 L108.5 11 L109.8 11.5 L110.9 12 L111.9 12.3 L112.9 12.7 L114 13 L115.1 13.3 L116.1 13.6 L117.2 13.9 L118.3 14.1 L119.6 14.3 L121.1 14.4 L122.7 14.3 L124.3 14.3 L125.9 14.3 L127.3 14.3 L128.6 14.5 L129.9 14.7 L131 15 L131.8 15.2 L132.2 15.4 L132.1 15.4 L131.5 15.3 L130.7 15.2 L129.8 15.1 L129 15.2 L128.3 15.5 L127.5 15.9 L126.7 16.4 L125.9 16.9 L125 17.4 L124.1 17.9 L123.2 18.5 L122.2 19.1 L121.1 19.7 L120 20.3 L118.7 21 L117.3 21.7 L115.9 22.5 L114.4 23.2 L113 23.8 L111.7 24.3 L110.3 24.8 L109 25.2 L107.7 25.5 L106.3 25.8 L104.9 26.1 L103.4 26.3 L101.9 26.4 L100.5 26.5 L99 26.6 L97.6 26.6 L96.2 26.6 L94.8 26.4 L93.4 26.3 L92 26 L90.6 25.7 L89.2 25.3 L87.7 24.8 L86.3 24.2 L85 23.5 L83.7 22.7 L82.5 21.7 L81.3 20.7 L80.1 19.6 L79 18.5 L77.8 17.3 L76.6 16 L75.5 14.7 L74.7 13.3 Z" fill="url(#g_cav)"/>
<g clip-path="url(#s_cav)">
<ellipse cx="94" cy="20" rx="16" ry="6.5" fill="url(#g_dk)" transform="rotate(16 94 20)"/>
<ellipse cx="111" cy="17.5" rx="12" ry="5.5" fill="url(#g_lt)" transform="rotate(-8 111 17.5)"/>
<path d="M75.8 14.1 L76.7 12.8 L77.5 11.4 L78.4 10.1 L79.5 9 L80.8 8.2 L82.2 7.7 L83.7 7.3 L85.2 7.1 L86.8 7 L88.3 6.8 L89.8 6.8 L91.3 6.8 L92.8 7 L94.4 7.2 L95.8 7.5 L97.3 8 L98.7 8.6 L100.1 9.2 L101.5 9.8 L102.9 10.5 L104.3 11.1 L105.7 11.8 L107.1 12.5 L108.5 13.1 L109.9 13.7 L111.3 14.3 L112.8 14.8 L114.2 15.2 L115.7 15.7 L117.2 16.1 L118.7 16.3 L120.2 16.4 L121.7 16.3 L123.2 16.3 L124.8 16.3 L126.3 16.3 L127.8 16.6 L129.3 17 L130.7 17.4" stroke="#202000" stroke-width="0.6" fill="none" stroke-opacity="0.8"/>
<path d="M77.3 16.1 L78.1 14.8 L78.8 13.4 L79.7 12.1 L80.7 11 L82 10.2 L83.3 9.7 L84.7 9.3 L86.2 9.1 L87.6 9 L89.1 8.8 L90.5 8.8 L91.9 8.8 L93.4 9 L94.8 9.2 L96.2 9.5 L97.6 10 L98.9 10.6 L100.3 11.2 L101.6 11.8 L102.9 12.5 L104.2 13.1 L105.5 13.8 L106.9 14.5 L108.2 15.1 L109.5 15.7 L110.9 16.3 L112.2 16.8 L113.6 17.2 L115 17.7 L116.4 18.1 L117.9 18.3 L119.3 18.4 L120.7 18.3 L122.2 18.3 L123.6 18.3 L125.1 18.3 L126.5 18.6 L127.9 19 L129.3 19.4" stroke="#202000" stroke-width="0.6" fill="none" stroke-opacity="0.8"/>
<path d="M78.7 18.1 L79.4 16.8 L80.2 15.4 L81 14.1 L82 13 L83.1 12.2 L84.4 11.7 L85.8 11.3 L87.1 11.1 L88.5 11 L89.8 10.8 L91.2 10.8 L92.6 10.8 L93.9 11 L95.3 11.2 L96.6 11.5 L97.9 12 L99.2 12.6 L100.4 13.2 L101.7 13.8 L102.9 14.5 L104.2 15.1 L105.4 15.8 L106.6 16.5 L107.9 17.1 L109.2 17.7 L110.4 18.3 L111.7 18.8 L113 19.2 L114.3 19.7 L115.7 20.1 L117 20.3 L118.4 20.4 L119.8 20.3 L121.1 20.3 L122.5 20.3 L123.8 20.3 L125.2 20.6 L126.5 21 L127.8 21.4" stroke="#202000" stroke-width="0.6" fill="none" stroke-opacity="0.8"/>
<path d="M80.1 20.1 L80.8 18.8 L81.5 17.4 L82.3 16.1 L83.2 15 L84.3 14.2 L85.5 13.7 L86.8 13.3 L88 13.1 L89.3 13 L90.6 12.8 L91.9 12.8 L93.2 12.8 L94.4 13 L95.7 13.2 L97 13.5 L98.2 14 L99.4 14.6 L100.6 15.2 L101.8 15.8 L102.9 16.5 L104.1 17.1 L105.3 17.8 L106.4 18.5 L107.6 19.1 L108.8 19.7 L110 20.3 L111.2 20.8 L112.4 21.2 L113.7 21.7 L114.9 22.1 L116.2 22.3 L117.5 22.4 L118.8 22.3 L120 22.3 L121.3 22.3 L122.6 22.3 L123.9 22.6 L125.1 23 L126.4 23.4" stroke="#202000" stroke-width="0.6" fill="none" stroke-opacity="0.8"/>
<path d="M81.6 22.1 L82.2 20.8 L82.9 19.4 L83.6 18.1 L84.4 17 L85.5 16.2 L86.6 15.7 L87.8 15.3 L89 15.1 L90.2 15 L91.4 14.8 L92.6 14.8 L93.8 14.8 L95 15 L96.2 15.2 L97.3 15.5 L98.5 16 L99.6 16.6 L100.7 17.2 L101.8 17.8 L102.9 18.5 L104 19.1 L105.1 19.8 L106.2 20.5 L107.3 21.1 L108.4 21.7 L109.6 22.3 L110.7 22.8 L111.9 23.2 L113 23.7 L114.2 24.1 L115.4 24.3 L116.6 24.4 L117.8 24.3 L119 24.3 L120.2 24.3 L121.4 24.3 L122.6 24.6 L123.7 25 L124.9 25.4" stroke="#202000" stroke-width="0.6" fill="none" stroke-opacity="0.8"/>
<path d="M83 24.1 L83.6 22.8 L84.2 21.4 L84.9 20.1 L85.7 19 L86.6 18.2 L87.7 17.7 L88.8 17.3 L89.9 17.1 L91 17 L92.2 16.8 L93.3 16.8 L94.4 16.8 L95.5 17 L96.6 17.2 L97.7 17.5 L98.8 18 L99.8 18.6 L100.9 19.2 L101.9 19.8 L102.9 20.5 L104 21.1 L105 21.8 L106 22.5 L107 23.1 L108.1 23.7 L109.1 24.3 L110.2 24.8 L111.3 25.2 L112.3 25.7 L113.4 26.1 L114.6 26.3 L115.7 26.4 L116.8 26.3 L117.9 26.3 L119 26.3 L120.2 26.3 L121.3 26.6 L122.4 27 L123.4 27.4" stroke="#202000" stroke-width="0.6" fill="none" stroke-opacity="0.8"/>
<path d="M74.4 12.1 L85.8 27.1" stroke="#202000" stroke-width="0.55" fill="none" stroke-opacity="0.6"/>
<path d="M76.2 9.3 L86.9 24.3" stroke="#202000" stroke-width="0.55" fill="none" stroke-opacity="0.6"/>
<path d="M78.4 6.9 L88.2 21.9" stroke="#202000" stroke-width="0.55" fill="none" stroke-opacity="0.6"/>
<path d="M81.4 5.6 L90 20.6" stroke="#202000" stroke-width="0.55" fill="none" stroke-opacity="0.6"/>
<path d="M84.6 5.1 L92 20.1" stroke="#202000" stroke-width="0.55" fill="none" stroke-opacity="0.6"/>
<path d="M87.9 4.8 L94 19.8" stroke="#202000" stroke-width="0.55" fill="none" stroke-opacity="0.6"/>
<path d="M91.2 4.9 L95.9 19.9" stroke="#202000" stroke-width="0.55" fill="none" stroke-opacity="0.6"/>
<path d="M94.5 5.3 L97.9 20.3" stroke="#202000" stroke-width="0.55" fill="none" stroke-opacity="0.6"/>
<path d="M97.6 6.2 L99.8 21.2" stroke="#202000" stroke-width="0.55" fill="none" stroke-opacity="0.6"/>
<path d="M100.7 7.5 L101.6 22.5" stroke="#202000" stroke-width="0.55" fill="none" stroke-opacity="0.6"/>
<path d="M103.7 8.8 L103.4 23.8" stroke="#202000" stroke-width="0.55" fill="none" stroke-opacity="0.6"/>
<path d="M106.7 10.2 L105.2 25.2" stroke="#202000" stroke-width="0.55" fill="none" stroke-opacity="0.6"/>
<path d="M109.7 11.5 L107 26.5" stroke="#202000" stroke-width="0.55" fill="none" stroke-opacity="0.6"/>
<path d="M112.8 12.6 L108.9 27.6" stroke="#202000" stroke-width="0.55" fill="none" stroke-opacity="0.6"/>
<path d="M115.9 13.6 L110.8 28.6" stroke="#202000" stroke-width="0.55" fill="none" stroke-opacity="0.6"/>
<path d="M119.2 14.2 L112.7 29.2" stroke="#202000" stroke-width="0.55" fill="none" stroke-opacity="0.6"/>
<path d="M122.5 14.3 L114.7 29.3" stroke="#202000" stroke-width="0.55" fill="none" stroke-opacity="0.6"/>
<path d="M125.7 14.3 L116.6 29.3" stroke="#202000" stroke-width="0.55" fill="none" stroke-opacity="0.6"/>
<path d="M129 14.6 L118.6 29.6" stroke="#202000" stroke-width="0.55" fill="none" stroke-opacity="0.6"/>
<path d="M132.2 15.4 L120.5 30.4" stroke="#202000" stroke-width="0.55" fill="none" stroke-opacity="0.6"/>
</g>
<path d="M132.2 15.4 L131.9 15.4 L131.4 15.3 L130.8 15.2 L130.2 15.1 L129.6 15.1 L129 15.2 L128.4 15.4 L127.8 15.7 L127.1 16.1 L126.4 16.5 L125.7 17 L125 17.4 L124.2 17.8 L123.5 18.3 L122.7 18.8 L121.9 19.3 L121 19.8 L120 20.3 L118.9 20.9 L117.8 21.5 L116.6 22.1 L115.4 22.7 L114.2 23.3 L113 23.8 L111.9 24.2 L110.8 24.6 L109.7 25 L108.6 25.3 L107.4 25.6 L106.3 25.8 L105.1 26 L103.9 26.2 L102.7 26.4 L101.4 26.5 L100.2 26.6 L99 26.6 L97.8 26.6 L96.6 26.6 L95.5 26.5 L94.3 26.4 L93.2 26.2 L92 26 L90.8 25.7 L89.6 25.4 L88.4 25 L87.3 24.6 L86.1 24.1 L85 23.5 L83.9 22.8 L82.9 22.1 L81.9 21.2 L80.9 20.4 L79.9 19.4 L79 18.5 L78.1 17.4 L77.2 16.2 L76.3 15 L75.5 13.8 L74.9 12.8 L74.4 12.1" stroke="#e8e850" stroke-width="0.9" fill="none"/>
</g>
<path d="M74.4 12.1 L74.6 11 L75 10.1 L75.5 9.3 L76 8.6 L76.6 7.9 L77.3 7.4 L78 6.9 L78.8 6.4 L79.7 6 L80.6 5.6 L81.5 5.3 L82.5 5 L83.5 4.8 L84.5 4.6 L85.5 4.5 L86.5 4.4 L87.6 4.3 L88.8 4.3 L89.9 4.3 L91 4.3 L92 4.4 L93 4.4 L93.9 4.6 L95 4.8 L96.2 5.1 L97.5 5.6 L98.8 6.1 L100 6.6 L101.2 7.1 L102.3 7.7 L103.4 8.3 L104.5 8.8 L105.5 9.3 L106.4 9.8 L107.4 10.3 L108.5 10.8 L109.8 11.4 L111.1 12 L112.6 12.5 L114 13 L115.4 13.4 L116.9 13.6 L118.3 13.8 L119.6 14 L120.8 14.1 L121.9 14.1 L123 14 L124 14 L124.9 14 L125.7 14 L126.5 14 L127.3 14 L128.1 14.1 L129 14.1 L129.8 14.2 L130.5 14.4 L131.2 14.6 L131.8 14.8 L132.4 15.1 L132.8 15.6 L133.1 16.3 L133.3 17.1 L133.4 18 L133.4 19 L133.2 20.1 L133 21.4 L132.6 22.7 L132.2 24.2 L131.7 25.8 L131.2 27.5 L130.6 29.3 L130 31 L129.5 32.6 L128.9 34.2 L128.3 35.8 L127.7 37.4 L127 39 L126.2 40.7 L125.3 42.3 L124.5 44 L123.6 45.7 L122.8 47.4 L121.9 49.1 L121 50.7 L120.1 52.2 L119.3 53.7 L118.4 55.1 L117.5 56.5 L116.5 57.9 L115.4 59.2 L114.4 60.5 L113.4 61.7 L112.5 62.7 L111.8 63.6 L111 64.5 L110.3 65.3 L109.6 66.1 L108.9 66.9 L108.2 67.6 L107.6 68.3 L107 68.9 L106.4 69.5 L105.8 70 L105.3 70.3 L104.8 70.3 L104.3 70.1 L103.8 69.8 L103.3 69.3 L102.8 68.7 L102.3 67.9 L101.7 67 L101 66 L100.1 64.9 L99 63.7 L97.9 62.4 L96.8 61 L95.7 59.6 L94.6 58.1 L93.5 56.6 L92.4 55 L91.3 53.4 L90.2 51.8 L89.1 50.1 L88 48.5 L86.9 46.9 L85.7 45.3 L84.6 43.6 L83.6 41.9 L82.6 40.1 L81.7 38.3 L80.8 36.4 L80 34.5 L79.2 32.5 L78.4 30.5 L77.7 28.4 L77 26.4 L76.4 24.4 L75.9 22.3 L75.4 20.4 L75 18.5 L74.7 16.7 L74.5 15 L74.4 13.5 Z" fill="none" stroke="#1a1a00" stroke-width="1.1"/>
<path d="M298.5 66.5 L296.7 65.3 L294.9 64 L293.1 62.8 L291.2 61.7 L289.3 60.7 L287.2 59.9 L285.1 59.3 L283.1 58.7 L281 57.8 L279.1 57 L277.1 56.1 L275 55.3 L273 54.4 L271 53.7 L268.9 52.9 L266.9 52.1 L264.8 51.4 L262.7 50.8 L260.7 50.1 L258.6 49.5 L256.5 48.9 L254.4 48.3 L252.2 47.8 L250.1 47.3 L248 46.9 L245.8 46.5 L243.7 46.1 L241.5 45.8 L239.4 45.5 L237.2 45.3 L235 45.2 L232.8 45.2 L230.6 45.3 L228.5 45.5 L226.3 45.8 L224.2 46.3 L222.2 47.1 L220.6 48.6 L219.4 50.4 L219.4 50.4 L220.1 52.5 L221.2 54.3 L222.8 55.7 L224.6 57 L226.4 58.1 L228.3 59.2 L230.3 60.1 L232.3 60.9 L234.3 61.7 L236.3 62.5 L238.4 63.2 L240.5 63.8 L242.6 64.4 L244.6 64.9 L246.7 65.5 L248.8 66.1 L250.9 66.7 L253 67.1 L255.2 67.3 L257.4 67.4 L259.5 67.5 L261.7 67.5 L263.9 67.5 L266 67.5 L268.2 67.4 L270.3 67.3 L272.5 67.2 L274.7 67.1 L276.8 67 L279 66.9 L281.2 66.8 L283.3 66.7 L285.5 66.6 L287.7 66.6 L289.8 66.5 L292 66.5 L294.2 66.5 L296.3 66.5 L298.5 66.5 Z" fill="url(#g_lobeL)"/>
<path d="M298.5 66.5 L296.7 65.3 L294.9 64.1 L293.1 62.9 L291.2 61.8 L289.2 60.8 L287.2 60.1 L285.1 59.5 L283 58.9 L281 58.1 L279 57.2 L277 56.4 L275 55.5 L272.9 54.8 L270.9 54 L268.9 53.2 L266.8 52.5 L264.7 51.8 L262.7 51.2 L260.6 50.5 L258.5 49.9 L256.4 49.3 L254.3 48.8 L252.2 48.2 L250 47.8 L247.9 47.3 L245.8 46.9 L243.6 46.5 L241.5 46.2 L239.3 45.9 L237.1 45.7 L234.9 45.6 L232.8 45.6 L230.6 45.6 L228.4 45.8 L226.3 46.1 L224.2 46.5 L222.2 47.3 L220.6 48.7 L219.4 50.4" stroke="#262600" stroke-width="0.6" fill="none" stroke-opacity="0.7"/>
<path d="M298.5 66.5 L296.7 65.4 L294.8 64.3 L293 63.2 L291.1 62.1 L289.1 61.2 L287.1 60.6 L285 60 L282.9 59.4 L280.9 58.7 L278.8 57.9 L276.8 57.1 L274.8 56.4 L272.8 55.7 L270.7 55 L268.7 54.3 L266.6 53.6 L264.5 53 L262.4 52.4 L260.3 51.8 L258.2 51.2 L256.1 50.6 L254 50.1 L251.9 49.5 L249.8 49 L247.7 48.6 L245.5 48.2 L243.4 47.8 L241.2 47.4 L239.1 47.1 L236.9 46.9 L234.7 46.7 L232.6 46.6 L230.4 46.6 L228.3 46.7 L226.2 46.9 L224.1 47.2 L222.1 47.8 L220.6 49 L219.4 50.4" stroke="#262600" stroke-width="0.6" fill="none" stroke-opacity="0.7"/>
<path d="M298.5 66.5 L296.6 65.5 L294.7 64.5 L292.9 63.6 L290.9 62.7 L289 61.9 L286.9 61.3 L284.8 60.8 L282.7 60.3 L280.6 59.7 L278.6 59 L276.6 58.4 L274.5 57.7 L272.5 57.1 L270.4 56.5 L268.3 55.9 L266.3 55.3 L264.2 54.8 L262.1 54.2 L260 53.7 L257.9 53.2 L255.8 52.6 L253.7 52.1 L251.5 51.6 L249.4 51.1 L247.3 50.6 L245.2 50.1 L243 49.7 L240.9 49.4 L238.7 49 L236.6 48.7 L234.4 48.5 L232.3 48.3 L230.2 48.1 L228.1 48.1 L226 48.1 L223.9 48.2 L222 48.6 L220.5 49.4 L219.4 50.4" stroke="#262600" stroke-width="0.6" fill="none" stroke-opacity="0.7"/>
<path d="M298.5 66.5 L296.6 65.7 L294.6 64.9 L292.7 64.1 L290.7 63.3 L288.7 62.7 L286.6 62.2 L284.5 61.9 L282.4 61.5 L280.3 61 L278.3 60.4 L276.2 59.9 L274.2 59.4 L272.1 58.9 L270 58.4 L267.9 57.9 L265.8 57.4 L263.7 57 L261.6 56.5 L259.5 56.1 L257.4 55.6 L255.3 55.2 L253.2 54.7 L251.1 54.1 L248.9 53.6 L246.8 53.1 L244.7 52.6 L242.6 52.2 L240.4 51.8 L238.3 51.4 L236.2 51 L234.1 50.6 L231.9 50.3 L229.8 50.1 L227.8 49.8 L225.7 49.7 L223.7 49.5 L221.8 49.6 L220.4 49.9 L219.4 50.4" stroke="#262600" stroke-width="0.6" fill="none" stroke-opacity="0.7"/>
<path d="M298.5 66.5 L296.5 65.9 L294.5 65.3 L292.5 64.7 L290.5 64.1 L288.5 63.6 L286.4 63.3 L284.2 63 L282.1 62.7 L280 62.4 L277.9 62 L275.9 61.6 L273.8 61.2 L271.7 60.9 L269.6 60.5 L267.5 60.2 L265.4 59.8 L263.3 59.5 L261.1 59.1 L259 58.8 L256.9 58.4 L254.8 58 L252.6 57.5 L250.5 56.9 L248.4 56.4 L246.3 55.9 L244.2 55.4 L242.1 54.9 L240 54.5 L237.8 54 L235.7 53.5 L233.6 53.1 L231.6 52.6 L229.5 52.2 L227.4 51.8 L225.5 51.4 L223.5 51 L221.7 50.7 L220.3 50.5 L219.4 50.4" stroke="#262600" stroke-width="0.6" fill="none" stroke-opacity="0.7"/>
<path d="M298.5 66.5 L296.5 66.1 L294.4 65.6 L292.4 65.2 L290.3 64.8 L288.2 64.5 L286.1 64.3 L284 64.2 L281.8 64 L279.7 63.8 L277.6 63.5 L275.5 63.3 L273.4 63.1 L271.3 62.9 L269.1 62.7 L267 62.4 L264.9 62.2 L262.8 62 L260.6 61.7 L258.5 61.5 L256.4 61.2 L254.2 60.8 L252.1 60.3 L250 59.8 L247.9 59.2 L245.8 58.7 L243.7 58.2 L241.6 57.7 L239.5 57.1 L237.4 56.6 L235.3 56.1 L233.2 55.5 L231.2 55 L229.1 54.4 L227.1 53.8 L225.2 53.1 L223.3 52.5 L221.5 51.8 L220.3 51.1 L219.4 50.4" stroke="#262600" stroke-width="0.6" fill="none" stroke-opacity="0.7"/>
<path d="M298.5 66.5 L296.4 66.2 L294.3 66 L292.2 65.7 L290.1 65.5 L288 65.4 L285.9 65.3 L283.7 65.2 L281.6 65.1 L279.4 65 L277.3 64.9 L275.2 64.8 L273 64.8 L270.9 64.7 L268.8 64.6 L266.6 64.5 L264.5 64.3 L262.3 64.2 L260.2 64 L258 63.9 L255.9 63.6 L253.7 63.3 L251.6 62.9 L249.5 62.3 L247.4 61.7 L245.3 61.2 L243.2 60.7 L241.1 60.1 L239 59.6 L237 59 L234.9 58.4 L232.8 57.7 L230.8 57 L228.8 56.3 L226.8 55.5 L224.9 54.7 L223.1 53.8 L221.4 52.8 L220.2 51.7 L219.4 50.4" stroke="#262600" stroke-width="0.6" fill="none" stroke-opacity="0.7"/>
<path d="M298.5 66.5 L296.4 66.4 L294.2 66.2 L292.1 66.1 L290 66 L287.8 66 L285.7 66 L283.5 66 L281.4 66 L279.2 66.1 L277.1 66 L274.9 66.1 L272.8 66.1 L270.6 66.1 L268.5 66.1 L266.3 66.1 L264.1 66 L262 66 L259.8 65.9 L257.7 65.8 L255.5 65.6 L253.4 65.3 L251.2 64.9 L249.1 64.3 L247.1 63.8 L245 63.2 L242.9 62.7 L240.8 62.1 L238.7 61.5 L236.6 60.9 L234.6 60.2 L232.5 59.4 L230.5 58.7 L228.6 57.8 L226.6 56.9 L224.8 55.9 L223 54.8 L221.3 53.6 L220.1 52.1 L219.4 50.4" stroke="#262600" stroke-width="0.6" fill="none" stroke-opacity="0.7"/>
<path d="M298.5 66.5 L296.3 66.5 L294.2 66.4 L292 66.4 L289.9 66.4 L287.7 66.4 L285.5 66.5 L283.4 66.6 L281.2 66.6 L279.1 66.7 L276.9 66.8 L274.7 66.8 L272.6 66.9 L270.4 67 L268.3 67.1 L266.1 67.1 L263.9 67.1 L261.8 67.1 L259.6 67.1 L257.4 67 L255.3 66.9 L253.1 66.6 L251 66.2 L248.9 65.6 L246.8 65 L244.7 64.5 L242.6 63.9 L240.5 63.3 L238.5 62.7 L236.4 62.1 L234.4 61.3 L232.3 60.6 L230.3 59.7 L228.4 58.8 L226.5 57.8 L224.6 56.7 L222.9 55.5 L221.2 54.1 L220.1 52.4 L219.4 50.4" stroke="#262600" stroke-width="0.6" fill="none" stroke-opacity="0.7"/>
<path d="M279.1 57 Q279.1 62 276.8 67" stroke="#262600" stroke-width="0.6" fill="none" stroke-opacity="0.6"/>
<path d="M254.4 48.3 Q253.8 57.5 250.9 66.7" stroke="#262600" stroke-width="0.6" fill="none" stroke-opacity="0.6"/>
<path d="M298.5 66.5 L296.7 65.3 L294.9 64 L293.1 62.8 L291.2 61.7 L289.3 60.7 L287.2 59.9 L285.1 59.3 L283.1 58.7 L281 57.8 L279.1 57 L277.1 56.1 L275 55.3 L273 54.4 L271 53.7 L268.9 52.9 L266.9 52.1 L264.8 51.4 L262.7 50.8 L260.7 50.1 L258.6 49.5 L256.5 48.9 L254.4 48.3 L252.2 47.8 L250.1 47.3 L248 46.9 L245.8 46.5 L243.7 46.1 L241.5 45.8 L239.4 45.5 L237.2 45.3 L235 45.2 L232.8 45.2 L230.6 45.3 L228.5 45.5 L226.3 45.8 L224.2 46.3 L222.2 47.1 L220.6 48.6 L219.4 50.4 L219.4 50.4 L220.1 52.5 L221.2 54.3 L222.8 55.7 L224.6 57 L226.4 58.1 L228.3 59.2 L230.3 60.1 L232.3 60.9 L234.3 61.7 L236.3 62.5 L238.4 63.2 L240.5 63.8 L242.6 64.4 L244.6 64.9 L246.7 65.5 L248.8 66.1 L250.9 66.7 L253 67.1 L255.2 67.3 L257.4 67.4 L259.5 67.5 L261.7 67.5 L263.9 67.5 L266 67.5 L268.2 67.4 L270.3 67.3 L272.5 67.2 L274.7 67.1 L276.8 67 L279 66.9 L281.2 66.8 L283.3 66.7 L285.5 66.6 L287.7 66.6 L289.8 66.5 L292 66.5 L294.2 66.5 L296.3 66.5 L298.5 66.5 Z" fill="none" stroke="#1a1a00" stroke-width="0.7"/>
<path d="M238 52.5 Q258 55 284 60.5" stroke="#f0f0e0" stroke-width="3.5" fill="none" opacity="0.4"/>
<path d="M298.5 66.5 L297.4 66.1 L296.2 65.7 L295.1 65.4 L294 65 L292.8 64.8 L291.6 64.5 L290.5 64.3 L289.3 64.1 L288.1 63.9 L286.9 63.7 L285.7 63.6 L284.5 63.5 L283.4 63.3 L282.2 63.2 L281 63.2 L279.8 63.2 L278.6 63.2 L277.4 63.2 L276.2 63.3 L275 63.4 L273.8 63.4 L272.6 63.5 L271.4 63.6 L270.3 63.7 L269.1 63.8 L267.9 63.9 L266.7 64.1 L265.5 64.2 L264.3 64.3 L263.1 64.5 L262 64.6 L260.8 64.8 L259.6 65.1 L258.4 65.3 L257.3 65.6 L256.2 66 L255.1 66.5 L254.2 67.3 L253.4 68.2 L253.4 68.2 L254.3 69.1 L255.3 69.7 L256.4 70.3 L257.5 70.7 L258.7 71 L259.8 71.4 L261 71.7 L262.2 72 L263.4 72.3 L264.6 72.5 L265.8 72.7 L267 72.8 L268.2 73 L269.4 73.2 L270.6 73.3 L271.8 73.4 L273 73.5 L274.2 73.5 L275.5 73.5 L276.7 73.4 L277.9 73.3 L279.1 73.2 L280.3 73 L281.5 72.8 L282.7 72.6 L283.9 72.3 L285.1 72.1 L286.3 71.8 L287.4 71.5 L288.6 71.1 L289.7 70.7 L290.9 70.3 L292 69.8 L293.1 69.3 L294.2 68.8 L295.3 68.3 L296.4 67.7 L297.4 67.1 L298.5 66.5 Z" fill="url(#g_lobeD)"/>
<path d="M298.5 66.5 L297.4 66.2 L296.2 65.8 L295.1 65.5 L294 65.2 L292.8 65 L291.6 64.8 L290.5 64.6 L289.3 64.4 L288.1 64.3 L286.9 64.1 L285.8 64 L284.6 63.9 L283.4 63.8 L282.2 63.7 L281 63.7 L279.8 63.7 L278.6 63.7 L277.4 63.7 L276.2 63.8 L275 63.9 L273.8 63.9 L272.7 64 L271.5 64.1 L270.3 64.2 L269.1 64.3 L267.9 64.4 L266.7 64.5 L265.5 64.6 L264.3 64.7 L263.2 64.8 L262 65 L260.8 65.2 L259.6 65.4 L258.5 65.6 L257.3 65.9 L256.2 66.2 L255.1 66.7 L254.2 67.4 L253.4 68.2" stroke="#262600" stroke-width="0.6" fill="none" stroke-opacity="0.7"/>
<path d="M298.5 66.5 L297.4 66.3 L296.3 66.1 L295.1 65.9 L294 65.8 L292.9 65.6 L291.7 65.5 L290.5 65.4 L289.4 65.3 L288.2 65.3 L287 65.2 L285.8 65.1 L284.6 65.1 L283.5 65 L282.3 65 L281.1 65 L279.9 65 L278.7 65.1 L277.5 65.1 L276.3 65.2 L275.1 65.3 L273.9 65.3 L272.7 65.4 L271.5 65.5 L270.3 65.5 L269.1 65.6 L267.9 65.6 L266.7 65.7 L265.6 65.8 L264.4 65.9 L263.2 65.9 L262 66 L260.8 66.1 L259.7 66.2 L258.5 66.4 L257.3 66.6 L256.2 66.8 L255.1 67.1 L254.2 67.6 L253.4 68.2" stroke="#262600" stroke-width="0.6" fill="none" stroke-opacity="0.7"/>
<path d="M298.5 66.5 L297.4 66.5 L296.3 66.5 L295.2 66.5 L294.1 66.5 L292.9 66.5 L291.8 66.6 L290.6 66.6 L289.5 66.7 L288.3 66.7 L287.1 66.7 L285.9 66.8 L284.8 66.8 L283.6 66.8 L282.4 66.9 L281.2 66.9 L280 67 L278.8 67.1 L277.6 67.1 L276.4 67.2 L275.2 67.3 L274 67.3 L272.8 67.4 L271.6 67.4 L270.4 67.4 L269.2 67.5 L268 67.5 L266.8 67.5 L265.6 67.5 L264.4 67.5 L263.2 67.5 L262 67.5 L260.9 67.5 L259.7 67.5 L258.5 67.5 L257.4 67.6 L256.2 67.7 L255.2 67.8 L254.2 68 L253.4 68.2" stroke="#262600" stroke-width="0.6" fill="none" stroke-opacity="0.7"/>
<path d="M298.5 66.5 L297.4 66.7 L296.3 66.9 L295.2 67.1 L294.1 67.4 L293 67.6 L291.9 67.8 L290.7 67.9 L289.6 68.1 L288.4 68.3 L287.2 68.5 L286.1 68.6 L284.9 68.7 L283.7 68.8 L282.5 68.9 L281.3 69.1 L280.1 69.2 L278.9 69.3 L277.7 69.4 L276.5 69.5 L275.3 69.6 L274.1 69.6 L272.9 69.6 L271.7 69.6 L270.5 69.6 L269.3 69.5 L268.1 69.5 L266.9 69.4 L265.7 69.4 L264.5 69.3 L263.3 69.2 L262.1 69.1 L260.9 69 L259.7 68.9 L258.6 68.8 L257.4 68.7 L256.3 68.6 L255.2 68.5 L254.2 68.4 L253.4 68.2" stroke="#262600" stroke-width="0.6" fill="none" stroke-opacity="0.7"/>
<path d="M298.5 66.5 L297.4 66.9 L296.4 67.3 L295.3 67.7 L294.2 68.1 L293.1 68.5 L291.9 68.8 L290.8 69.1 L289.6 69.5 L288.5 69.7 L287.3 70 L286.2 70.2 L285 70.5 L283.8 70.6 L282.6 70.8 L281.4 71 L280.2 71.2 L279 71.3 L277.8 71.4 L276.6 71.5 L275.4 71.6 L274.2 71.6 L273 71.6 L271.7 71.6 L270.5 71.5 L269.3 71.4 L268.1 71.3 L266.9 71.2 L265.7 71.1 L264.5 70.9 L263.3 70.8 L262.1 70.6 L261 70.4 L259.8 70.2 L258.6 70 L257.5 69.7 L256.3 69.5 L255.2 69.1 L254.2 68.7 L253.4 68.2" stroke="#262600" stroke-width="0.6" fill="none" stroke-opacity="0.7"/>
<path d="M298.5 66.5 L297.4 67 L296.4 67.6 L295.3 68.1 L294.2 68.6 L293.1 69.1 L292 69.6 L290.9 70 L289.7 70.4 L288.6 70.7 L287.4 71.1 L286.2 71.4 L285 71.6 L283.9 71.9 L282.7 72.1 L281.5 72.3 L280.3 72.5 L279.1 72.7 L277.9 72.8 L276.6 72.9 L275.4 73 L274.2 73 L273 73 L271.8 72.9 L270.6 72.8 L269.4 72.7 L268.2 72.6 L267 72.4 L265.8 72.2 L264.6 72.1 L263.4 71.9 L262.2 71.6 L261 71.4 L259.8 71.1 L258.7 70.8 L257.5 70.4 L256.4 70.1 L255.3 69.6 L254.2 69 L253.4 68.2" stroke="#262600" stroke-width="0.6" fill="none" stroke-opacity="0.7"/>
<path d="M290.5 64.3 Q291.9 67.3 290.9 70.3" stroke="#262600" stroke-width="0.6" fill="none" stroke-opacity="0.6"/>
<path d="M281 63.2 Q282.4 68 281.5 72.8" stroke="#262600" stroke-width="0.6" fill="none" stroke-opacity="0.6"/>
<path d="M271.4 63.6 Q272.8 68.5 271.8 73.4" stroke="#262600" stroke-width="0.6" fill="none" stroke-opacity="0.6"/>
<path d="M262 64.6 Q263.3 68.3 262.2 72" stroke="#262600" stroke-width="0.6" fill="none" stroke-opacity="0.6"/>
<path d="M298.5 66.5 L297.4 66.1 L296.2 65.7 L295.1 65.4 L294 65 L292.8 64.8 L291.6 64.5 L290.5 64.3 L289.3 64.1 L288.1 63.9 L286.9 63.7 L285.7 63.6 L284.5 63.5 L283.4 63.3 L282.2 63.2 L281 63.2 L279.8 63.2 L278.6 63.2 L277.4 63.2 L276.2 63.3 L275 63.4 L273.8 63.4 L272.6 63.5 L271.4 63.6 L270.3 63.7 L269.1 63.8 L267.9 63.9 L266.7 64.1 L265.5 64.2 L264.3 64.3 L263.1 64.5 L262 64.6 L260.8 64.8 L259.6 65.1 L258.4 65.3 L257.3 65.6 L256.2 66 L255.1 66.5 L254.2 67.3 L253.4 68.2 L253.4 68.2 L254.3 69.1 L255.3 69.7 L256.4 70.3 L257.5 70.7 L258.7 71 L259.8 71.4 L261 71.7 L262.2 72 L263.4 72.3 L264.6 72.5 L265.8 72.7 L267 72.8 L268.2 73 L269.4 73.2 L270.6 73.3 L271.8 73.4 L273 73.5 L274.2 73.5 L275.5 73.5 L276.7 73.4 L277.9 73.3 L279.1 73.2 L280.3 73 L281.5 72.8 L282.7 72.6 L283.9 72.3 L285.1 72.1 L286.3 71.8 L287.4 71.5 L288.6 71.1 L289.7 70.7 L290.9 70.3 L292 69.8 L293.1 69.3 L294.2 68.8 L295.3 68.3 L296.4 67.7 L297.4 67.1 L298.5 66.5 Z" fill="none" stroke="#1a1a00" stroke-width="0.7"/>
<path d="M299.5 66.5 L299.5 65.8 L299.5 65 L299.5 64.3 L299.4 63.6 L299.4 62.9 L299.2 62.2 L299.1 61.5 L298.9 60.8 L298.6 60.1 L298.3 59.4 L298 58.8 L297.7 58.1 L297.3 57.5 L296.9 56.9 L296.5 56.3 L296.1 55.7 L295.6 55.2 L295.1 54.6 L294.6 54.1 L294.1 53.6 L293.5 53.1 L292.9 52.7 L292.4 52.3 L291.8 51.8 L291.1 51.5 L290.5 51.1 L289.9 50.8 L289.2 50.5 L288.5 50.3 L287.8 50.1 L287.1 49.9 L286.4 49.8 L285.7 49.8 L285 49.9 L284.3 50.1 L283.6 50.4 L283 50.8 L282.6 51.4 L282.2 52 L282.2 52 L282.5 52.5 L282.7 53.1 L283 53.6 L283.2 54.2 L283.5 54.7 L283.8 55.2 L284.1 55.7 L284.4 56.3 L284.7 56.7 L285.1 57.2 L285.5 57.7 L285.9 58.1 L286.3 58.5 L286.7 58.9 L287.2 59.3 L287.7 59.7 L288.1 60.1 L288.6 60.5 L289.1 60.8 L289.5 61.2 L290 61.5 L290.5 61.9 L291 62.2 L291.5 62.6 L292 62.9 L292.5 63.3 L293 63.6 L293.5 63.9 L294 64.2 L294.5 64.5 L295 64.8 L295.6 65 L296.1 65.3 L296.7 65.5 L297.2 65.7 L297.8 65.9 L298.4 66.1 L298.9 66.3 L299.5 66.5 Z" fill="url(#g_lobeD)"/>
<path d="M299.5 66.5 L299.4 65.8 L299.4 65.1 L299.3 64.4 L299.3 63.7 L299.2 63.1 L299 62.4 L298.8 61.7 L298.6 61 L298.4 60.4 L298.1 59.7 L297.7 59.1 L297.4 58.5 L297 57.9 L296.6 57.3 L296.2 56.7 L295.7 56.2 L295.3 55.6 L294.8 55.1 L294.3 54.6 L293.7 54.1 L293.2 53.6 L292.6 53.2 L292 52.8 L291.5 52.3 L290.9 52 L290.2 51.6 L289.6 51.3 L288.9 51 L288.3 50.7 L287.6 50.5 L286.9 50.3 L286.2 50.2 L285.5 50.2 L284.9 50.2 L284.2 50.4 L283.5 50.6 L283 51 L282.6 51.5 L282.2 52" stroke="#262600" stroke-width="0.6" fill="none" stroke-opacity="0.7"/>
<path d="M299.5 66.5 L299.3 65.9 L299.2 65.3 L299 64.7 L298.9 64.1 L298.7 63.5 L298.5 62.9 L298.2 62.3 L297.9 61.8 L297.6 61.2 L297.3 60.6 L296.9 60 L296.5 59.5 L296.1 58.9 L295.7 58.4 L295.2 57.9 L294.8 57.3 L294.3 56.8 L293.8 56.3 L293.3 55.9 L292.8 55.4 L292.3 55 L291.7 54.5 L291.2 54.1 L290.6 53.7 L290 53.3 L289.5 53 L288.9 52.6 L288.3 52.3 L287.7 52 L287 51.7 L286.4 51.5 L285.8 51.3 L285.2 51.2 L284.6 51.1 L284 51.1 L283.4 51.2 L282.9 51.4 L282.5 51.7 L282.2 52" stroke="#262600" stroke-width="0.6" fill="none" stroke-opacity="0.7"/>
<path d="M299.5 66.5 L299.2 66 L298.9 65.6 L298.6 65.1 L298.3 64.6 L298 64.2 L297.7 63.7 L297.3 63.2 L297 62.8 L296.6 62.3 L296.2 61.8 L295.8 61.3 L295.3 60.8 L294.9 60.4 L294.4 59.9 L294 59.4 L293.5 59 L293 58.5 L292.6 58.1 L292.1 57.6 L291.6 57.2 L291 56.8 L290.5 56.4 L290 56 L289.5 55.6 L288.9 55.2 L288.4 54.8 L287.9 54.4 L287.3 54.1 L286.8 53.7 L286.3 53.4 L285.7 53.1 L285.2 52.8 L284.7 52.5 L284.2 52.3 L283.7 52.1 L283.3 52 L282.9 51.9 L282.5 52 L282.2 52" stroke="#262600" stroke-width="0.6" fill="none" stroke-opacity="0.7"/>
<path d="M299.5 66.5 L299.1 66.2 L298.6 65.8 L298.2 65.5 L297.8 65.2 L297.4 64.8 L296.9 64.5 L296.5 64.1 L296 63.8 L295.5 63.4 L295.1 63 L294.6 62.6 L294.1 62.2 L293.7 61.8 L293.2 61.4 L292.7 61 L292.3 60.6 L291.8 60.2 L291.3 59.8 L290.8 59.4 L290.3 59 L289.8 58.6 L289.3 58.2 L288.8 57.8 L288.3 57.5 L287.8 57.1 L287.4 56.7 L286.9 56.3 L286.4 55.9 L285.9 55.5 L285.5 55.1 L285.1 54.7 L284.6 54.3 L284.2 53.9 L283.9 53.5 L283.5 53.1 L283.1 52.8 L282.8 52.5 L282.5 52.2 L282.2 52" stroke="#262600" stroke-width="0.6" fill="none" stroke-opacity="0.7"/>
<path d="M299.5 66.5 L299 66.3 L298.4 66 L297.9 65.8 L297.4 65.6 L296.9 65.3 L296.3 65 L295.8 64.8 L295.3 64.5 L294.8 64.2 L294.3 63.9 L293.8 63.6 L293.3 63.2 L292.8 62.9 L292.3 62.5 L291.8 62.2 L291.3 61.8 L290.8 61.4 L290.4 61.1 L289.9 60.7 L289.4 60.3 L288.9 60 L288.4 59.6 L288 59.2 L287.5 58.8 L287 58.4 L286.6 58 L286.2 57.6 L285.7 57.2 L285.3 56.8 L284.9 56.3 L284.6 55.8 L284.2 55.4 L283.9 54.9 L283.6 54.4 L283.3 53.9 L283 53.4 L282.7 52.9 L282.5 52.5 L282.2 52" stroke="#262600" stroke-width="0.6" fill="none" stroke-opacity="0.7"/>
<path d="M298.6 60.1 Q297.8 62.3 294.5 64.5" stroke="#262600" stroke-width="0.6" fill="none" stroke-opacity="0.6"/>
<path d="M294.6 54.1 Q293.3 57.6 289.5 61.2" stroke="#262600" stroke-width="0.6" fill="none" stroke-opacity="0.6"/>
<path d="M288.5 50.3 Q288 53.7 285.1 57.2" stroke="#262600" stroke-width="0.6" fill="none" stroke-opacity="0.6"/>
<path d="M299.5 66.5 L299.5 65.8 L299.5 65 L299.5 64.3 L299.4 63.6 L299.4 62.9 L299.2 62.2 L299.1 61.5 L298.9 60.8 L298.6 60.1 L298.3 59.4 L298 58.8 L297.7 58.1 L297.3 57.5 L296.9 56.9 L296.5 56.3 L296.1 55.7 L295.6 55.2 L295.1 54.6 L294.6 54.1 L294.1 53.6 L293.5 53.1 L292.9 52.7 L292.4 52.3 L291.8 51.8 L291.1 51.5 L290.5 51.1 L289.9 50.8 L289.2 50.5 L288.5 50.3 L287.8 50.1 L287.1 49.9 L286.4 49.8 L285.7 49.8 L285 49.9 L284.3 50.1 L283.6 50.4 L283 50.8 L282.6 51.4 L282.2 52 L282.2 52 L282.5 52.5 L282.7 53.1 L283 53.6 L283.2 54.2 L283.5 54.7 L283.8 55.2 L284.1 55.7 L284.4 56.3 L284.7 56.7 L285.1 57.2 L285.5 57.7 L285.9 58.1 L286.3 58.5 L286.7 58.9 L287.2 59.3 L287.7 59.7 L288.1 60.1 L288.6 60.5 L289.1 60.8 L289.5 61.2 L290 61.5 L290.5 61.9 L291 62.2 L291.5 62.6 L292 62.9 L292.5 63.3 L293 63.6 L293.5 63.9 L294 64.2 L294.5 64.5 L295 64.8 L295.6 65 L296.1 65.3 L296.7 65.5 L297.2 65.7 L297.8 65.9 L298.4 66.1 L298.9 66.3 L299.5 66.5 Z" fill="none" stroke="#1a1a00" stroke-width="0.7"/>
<path d="M298.5 66.5 L299.7 66 L300.9 65.5 L302 65 L303.2 64.5 L304.4 64 L305.6 63.5 L306.8 63 L308 62.6 L309.2 62.1 L310.4 61.7 L311.6 61.3 L312.9 60.9 L314.1 60.6 L315.4 60.3 L316.6 60 L317.9 59.8 L319.2 59.6 L320.4 59.5 L321.7 59.3 L323 59.2 L324.3 59.1 L325.6 59.1 L326.8 59 L328.1 59 L329.4 59 L330.7 59 L332 59.1 L333.3 59.1 L334.5 59.2 L335.8 59.4 L337.1 59.5 L338.4 59.8 L339.6 60.1 L340.9 60.4 L342.1 60.8 L343.2 61.3 L344.3 62.1 L345.3 62.9 L346.2 63.8 L346.2 63.8 L345 63.8 L343.7 63.9 L342.5 63.9 L341.3 63.9 L340.1 63.9 L338.8 64 L337.6 64 L336.4 64.1 L335.2 64.1 L334 64.1 L332.7 64.2 L331.5 64.2 L330.3 64.3 L329.1 64.3 L327.8 64.4 L326.6 64.4 L325.4 64.5 L324.2 64.5 L322.9 64.6 L321.7 64.7 L320.5 64.8 L319.3 64.8 L318 64.9 L316.8 65 L315.6 65.1 L314.4 65.2 L313.2 65.3 L311.9 65.4 L310.7 65.4 L309.5 65.5 L308.3 65.6 L307 65.7 L305.8 65.8 L304.6 65.9 L303.4 66.1 L302.2 66.2 L300.9 66.3 L299.7 66.4 L298.5 66.5 Z" fill="url(#g_lobeD)"/>
<path d="M298.5 66.5 L299.7 66 L300.9 65.5 L302.1 65.1 L303.2 64.6 L304.4 64.1 L305.6 63.6 L306.8 63.2 L308 62.7 L309.2 62.3 L310.4 61.9 L311.6 61.5 L312.9 61.1 L314.1 60.8 L315.4 60.5 L316.6 60.3 L317.9 60.1 L319.2 59.9 L320.4 59.7 L321.7 59.6 L323 59.5 L324.3 59.4 L325.5 59.3 L326.8 59.3 L328.1 59.3 L329.4 59.3 L330.7 59.3 L332 59.3 L333.2 59.4 L334.5 59.5 L335.8 59.6 L337.1 59.8 L338.3 60 L339.6 60.3 L340.8 60.6 L342 61 L343.2 61.5 L344.3 62.2 L345.2 63 L346.2 63.8" stroke="#262600" stroke-width="0.6" fill="none" stroke-opacity="0.7"/>
<path d="M298.5 66.5 L299.7 66.1 L300.9 65.6 L302.1 65.2 L303.3 64.8 L304.5 64.4 L305.7 64 L306.9 63.5 L308.1 63.1 L309.3 62.8 L310.5 62.4 L311.7 62 L312.9 61.7 L314.2 61.4 L315.4 61.2 L316.7 60.9 L317.9 60.8 L319.2 60.6 L320.4 60.5 L321.7 60.3 L323 60.2 L324.2 60.2 L325.5 60.1 L326.8 60 L328.1 60 L329.3 60 L330.6 60 L331.9 60 L333.2 60.1 L334.4 60.2 L335.7 60.3 L337 60.4 L338.2 60.6 L339.5 60.8 L340.7 61.1 L341.9 61.4 L343.1 61.8 L344.2 62.4 L345.2 63.1 L346.2 63.8" stroke="#262600" stroke-width="0.6" fill="none" stroke-opacity="0.7"/>
<path d="M298.5 66.5 L299.7 66.1 L300.9 65.8 L302.1 65.4 L303.3 65.1 L304.5 64.8 L305.7 64.4 L306.9 64.1 L308.1 63.8 L309.3 63.5 L310.5 63.2 L311.7 62.9 L313 62.6 L314.2 62.4 L315.4 62.1 L316.7 62 L317.9 61.8 L319.2 61.7 L320.5 61.5 L321.7 61.4 L323 61.3 L324.2 61.2 L325.5 61.2 L326.7 61.1 L328 61.1 L329.3 61.1 L330.5 61.1 L331.8 61.1 L333.1 61.1 L334.3 61.1 L335.6 61.2 L336.8 61.3 L338.1 61.4 L339.3 61.6 L340.6 61.8 L341.8 62 L343 62.3 L344.1 62.8 L345.1 63.3 L346.2 63.8" stroke="#262600" stroke-width="0.6" fill="none" stroke-opacity="0.7"/>
<path d="M298.5 66.5 L299.7 66.2 L300.9 66 L302.1 65.7 L303.3 65.5 L304.5 65.2 L305.7 64.9 L307 64.7 L308.2 64.4 L309.4 64.2 L310.6 64 L311.8 63.8 L313 63.6 L314.3 63.4 L315.5 63.2 L316.7 63.1 L318 62.9 L319.2 62.8 L320.5 62.7 L321.7 62.6 L323 62.5 L324.2 62.4 L325.4 62.4 L326.7 62.3 L327.9 62.3 L329.2 62.2 L330.4 62.2 L331.7 62.2 L332.9 62.2 L334.2 62.2 L335.4 62.3 L336.7 62.3 L337.9 62.4 L339.1 62.5 L340.4 62.6 L341.6 62.7 L342.8 62.9 L344 63.2 L345.1 63.5 L346.2 63.8" stroke="#262600" stroke-width="0.6" fill="none" stroke-opacity="0.7"/>
<path d="M298.5 66.5 L299.7 66.3 L300.9 66.1 L302.1 65.9 L303.4 65.8 L304.6 65.6 L305.8 65.4 L307 65.2 L308.2 65.1 L309.4 64.9 L310.7 64.7 L311.9 64.6 L313.1 64.4 L314.3 64.3 L315.6 64.2 L316.8 64.1 L318 64 L319.2 63.9 L320.5 63.8 L321.7 63.7 L322.9 63.6 L324.2 63.5 L325.4 63.5 L326.6 63.4 L327.9 63.4 L329.1 63.3 L330.4 63.3 L331.6 63.2 L332.8 63.2 L334.1 63.2 L335.3 63.2 L336.5 63.2 L337.8 63.2 L339 63.2 L340.2 63.3 L341.4 63.3 L342.7 63.4 L343.9 63.5 L345 63.7 L346.2 63.8" stroke="#262600" stroke-width="0.6" fill="none" stroke-opacity="0.7"/>
<path d="M298.5 66.5 L299.7 66.4 L300.9 66.2 L302.2 66.1 L303.4 66 L304.6 65.9 L305.8 65.7 L307 65.6 L308.3 65.5 L309.5 65.4 L310.7 65.3 L311.9 65.2 L313.1 65.1 L314.4 65 L315.6 64.9 L316.8 64.8 L318 64.7 L319.3 64.6 L320.5 64.5 L321.7 64.4 L322.9 64.4 L324.2 64.3 L325.4 64.2 L326.6 64.2 L327.8 64.1 L329.1 64 L330.3 64 L331.5 64 L332.8 63.9 L334 63.9 L335.2 63.9 L336.4 63.8 L337.7 63.8 L338.9 63.8 L340.1 63.8 L341.3 63.8 L342.6 63.8 L343.8 63.8 L345 63.8 L346.2 63.8" stroke="#262600" stroke-width="0.6" fill="none" stroke-opacity="0.7"/>
<path d="M306.8 63 Q308.1 64.4 307 65.7" stroke="#262600" stroke-width="0.6" fill="none" stroke-opacity="0.6"/>
<path d="M316.6 60 Q317.9 62.5 316.8 65" stroke="#262600" stroke-width="0.6" fill="none" stroke-opacity="0.6"/>
<path d="M326.8 59 Q327.9 61.7 326.6 64.4" stroke="#262600" stroke-width="0.6" fill="none" stroke-opacity="0.6"/>
<path d="M337.1 59.5 Q337.9 61.8 336.4 64.1" stroke="#262600" stroke-width="0.6" fill="none" stroke-opacity="0.6"/>
<path d="M298.5 66.5 L299.7 66 L300.9 65.5 L302 65 L303.2 64.5 L304.4 64 L305.6 63.5 L306.8 63 L308 62.6 L309.2 62.1 L310.4 61.7 L311.6 61.3 L312.9 60.9 L314.1 60.6 L315.4 60.3 L316.6 60 L317.9 59.8 L319.2 59.6 L320.4 59.5 L321.7 59.3 L323 59.2 L324.3 59.1 L325.6 59.1 L326.8 59 L328.1 59 L329.4 59 L330.7 59 L332 59.1 L333.3 59.1 L334.5 59.2 L335.8 59.4 L337.1 59.5 L338.4 59.8 L339.6 60.1 L340.9 60.4 L342.1 60.8 L343.2 61.3 L344.3 62.1 L345.3 62.9 L346.2 63.8 L346.2 63.8 L345 63.8 L343.7 63.9 L342.5 63.9 L341.3 63.9 L340.1 63.9 L338.8 64 L337.6 64 L336.4 64.1 L335.2 64.1 L334 64.1 L332.7 64.2 L331.5 64.2 L330.3 64.3 L329.1 64.3 L327.8 64.4 L326.6 64.4 L325.4 64.5 L324.2 64.5 L322.9 64.6 L321.7 64.7 L320.5 64.8 L319.3 64.8 L318 64.9 L316.8 65 L315.6 65.1 L314.4 65.2 L313.2 65.3 L311.9 65.4 L310.7 65.4 L309.5 65.5 L308.3 65.6 L307 65.7 L305.8 65.8 L304.6 65.9 L303.4 66.1 L302.2 66.2 L300.9 66.3 L299.7 66.4 L298.5 66.5 Z" fill="none" stroke="#1a1a00" stroke-width="0.7"/>
<path d="M298.5 66.5 L300.7 66.4 L302.9 66.3 L305 66.1 L307.2 65.7 L309.4 65.4 L311.5 64.9 L313.6 64.5 L315.8 64.1 L317.9 63.7 L320.1 63.4 L322.3 63.2 L324.5 63.1 L326.6 63 L328.8 63 L331 63 L333.2 63 L335.4 63.1 L337.6 63.2 L339.7 63.3 L341.9 63.5 L344.1 63.8 L346.2 64.1 L348.4 64.5 L350.5 64.9 L352.7 65.3 L354.8 65.8 L357 66.3 L359.1 66.8 L361.2 67.3 L363.3 67.9 L365.4 68.6 L367.5 69.3 L369.5 70.1 L371.5 71 L373.4 72 L375.2 73.2 L376.8 74.8 L378.2 76.4 L379.3 78.3 L379.3 78.3 L378.1 80.2 L376.4 81.5 L374.3 82.3 L372.1 82.8 L370 83.3 L367.8 83.6 L365.6 83.9 L363.4 84.1 L361.1 84.3 L358.9 84.4 L356.7 84.4 L354.5 84.4 L352.3 84.3 L350 84.1 L347.8 83.9 L345.6 83.7 L343.4 83.5 L341.2 83.2 L339 82.9 L336.8 82.6 L334.6 82.2 L332.4 81.8 L330.2 81.3 L328.1 80.8 L326 80.2 L323.8 79.5 L321.8 78.6 L319.8 77.6 L317.9 76.5 L316 75.3 L314.2 74 L312.5 72.6 L310.7 71.3 L308.9 69.9 L307.1 68.7 L305 68 L302.8 67.7 L300.6 67.2 L298.5 66.5 Z" fill="url(#g_lobeR)"/>
<path d="M298.5 66.5 L300.7 66.4 L302.9 66.3 L305 66.1 L307.2 65.7 L309.4 65.4 L311.5 64.9 L313.6 64.5 L315.8 64.1 L317.9 63.7 L320.1 63.4 L322.3 63.2 L324.5 63.1 L326.6 63 L328.8 63 L331 63 L333.2 63 L335.4 63.1 L337.6 63.2 L339.7 63.3 L341.9 63.5 L344.1 63.8 L346.2 64.1 L348.4 64.5 L350.5 64.9 L352.7 65.3 L354.8 65.8 L357 66.3 L359.1 66.8 L361.2 67.3 L363.3 67.9 L365.4 68.6 L367.5 69.3 L369.5 70.1 L371.5 71 L373.4 72 L375.2 73.2 L376.8 74.8 L378.2 76.4 L379.3 78.3 L379.3 78.3 L378.1 80.2 L376.4 81.5 L374.3 82.3 L372.1 82.8 L370 83.3 L367.8 83.6 L365.6 83.9 L363.4 84.1 L361.1 84.3 L358.9 84.4 L356.7 84.4 L354.5 84.4 L352.3 84.3 L350 84.1 L347.8 83.9 L345.6 83.7 L343.4 83.5 L341.2 83.2 L339 82.9 L336.8 82.6 L334.6 82.2 L332.4 81.8 L330.2 81.3 L328.1 80.8 L326 80.2 L323.8 79.5 L321.8 78.6 L319.8 77.6 L317.9 76.5 L316 75.3 L314.2 74 L312.5 72.6 L310.7 71.3 L308.9 69.9 L307.1 68.7 L305 68 L302.8 67.7 L300.6 67.2 L298.5 66.5 Z" fill="url(#g_lobeRo)"/>
<path d="M298.5 66.5 L300.7 66.5 L302.9 66.3 L305 66.1 L307.2 65.8 L309.3 65.5 L311.5 65.1 L313.6 64.7 L315.7 64.3 L317.9 64 L320 63.7 L322.2 63.6 L324.4 63.5 L326.6 63.4 L328.8 63.4 L330.9 63.4 L333.1 63.5 L335.3 63.5 L337.5 63.6 L339.7 63.8 L341.8 64 L344 64.3 L346.2 64.6 L348.3 65 L350.5 65.4 L352.6 65.8 L354.8 66.2 L356.9 66.7 L359 67.2 L361.1 67.7 L363.3 68.3 L365.3 68.9 L367.4 69.7 L369.4 70.4 L371.4 71.3 L373.4 72.3 L375.2 73.4 L376.8 74.9 L378.2 76.5 L379.3 78.3" stroke="#262600" stroke-width="0.6" fill="none" stroke-opacity="0.7"/>
<path d="M298.5 66.5 L300.7 66.5 L302.9 66.4 L305 66.3 L307.2 66 L309.3 65.8 L311.4 65.5 L313.5 65.3 L315.6 65 L317.8 64.8 L319.9 64.7 L322 64.6 L324.2 64.6 L326.4 64.6 L328.6 64.6 L330.7 64.7 L332.9 64.8 L335.1 64.9 L337.3 65 L339.5 65.1 L341.6 65.4 L343.8 65.6 L346 66 L348.1 66.3 L350.3 66.7 L352.4 67.1 L354.6 67.6 L356.7 68 L358.9 68.5 L361 68.9 L363.1 69.5 L365.2 70.1 L367.3 70.7 L369.3 71.4 L371.3 72.2 L373.3 73 L375.1 74.1 L376.7 75.4 L378.2 76.8 L379.3 78.3" stroke="#262600" stroke-width="0.6" fill="none" stroke-opacity="0.7"/>
<path d="M298.5 66.5 L300.7 66.6 L302.8 66.6 L305 66.5 L307.2 66.4 L309.3 66.3 L311.3 66.2 L313.4 66.2 L315.5 66.1 L317.5 66.1 L319.6 66.1 L321.8 66.2 L323.9 66.3 L326.1 66.4 L328.2 66.5 L330.4 66.7 L332.6 66.8 L334.8 66.9 L337 67.1 L339.1 67.3 L341.3 67.5 L343.5 67.8 L345.7 68.1 L347.8 68.5 L350 68.8 L352.1 69.2 L354.3 69.6 L356.4 70 L358.6 70.4 L360.7 70.8 L362.9 71.3 L365 71.8 L367.1 72.3 L369.1 72.9 L371.2 73.5 L373.2 74.2 L375 75.1 L376.7 76.2 L378.1 77.2 L379.3 78.3" stroke="#262600" stroke-width="0.6" fill="none" stroke-opacity="0.7"/>
<path d="M298.5 66.5 L300.7 66.7 L302.8 66.8 L305 66.8 L307.2 66.8 L309.2 66.9 L311.2 67.1 L313.2 67.3 L315.2 67.5 L317.3 67.7 L319.3 67.9 L321.4 68.2 L323.5 68.5 L325.7 68.7 L327.8 68.9 L330 69.1 L332.2 69.3 L334.4 69.5 L336.5 69.8 L338.7 70 L340.9 70.2 L343.1 70.5 L345.3 70.8 L347.4 71.1 L349.6 71.5 L351.8 71.8 L353.9 72.2 L356.1 72.5 L358.3 72.9 L360.4 73.2 L362.6 73.6 L364.7 73.9 L366.8 74.3 L368.9 74.8 L371 75.2 L373 75.7 L374.9 76.4 L376.6 77.1 L378.1 77.7 L379.3 78.3" stroke="#262600" stroke-width="0.6" fill="none" stroke-opacity="0.7"/>
<path d="M298.5 66.5 L300.6 66.8 L302.8 67 L305 67.1 L307.1 67.2 L309.1 67.7 L311.1 68.1 L313 68.6 L315 69 L317 69.5 L319 70 L321 70.4 L323.1 70.9 L325.2 71.3 L327.4 71.6 L329.6 71.9 L331.7 72.2 L333.9 72.4 L336.1 72.7 L338.3 73 L340.5 73.2 L342.6 73.5 L344.8 73.8 L347 74.1 L349.2 74.4 L351.4 74.7 L353.5 75 L355.7 75.3 L357.9 75.6 L360.1 75.8 L362.2 76.1 L364.4 76.3 L366.5 76.6 L368.6 76.9 L370.7 77.1 L372.8 77.4 L374.8 77.8 L376.6 78.2 L378.1 78.3 L379.3 78.3" stroke="#262600" stroke-width="0.6" fill="none" stroke-opacity="0.7"/>
<path d="M298.5 66.5 L300.6 66.9 L302.8 67.3 L305 67.4 L307.1 67.7 L309.1 68.4 L311 69.1 L312.9 69.8 L314.8 70.6 L316.7 71.3 L318.7 72 L320.7 72.6 L322.7 73.3 L324.8 73.8 L326.9 74.2 L329.1 74.6 L331.3 75 L333.4 75.3 L335.6 75.6 L337.8 75.9 L340 76.2 L342.2 76.5 L344.4 76.8 L346.6 77.1 L348.8 77.4 L351 77.6 L353.1 77.9 L355.3 78.1 L357.5 78.3 L359.7 78.5 L361.9 78.6 L364.1 78.7 L366.2 78.9 L368.4 78.9 L370.5 79 L372.6 79.1 L374.6 79.2 L376.5 79.2 L378.1 78.9 L379.3 78.3" stroke="#262600" stroke-width="0.6" fill="none" stroke-opacity="0.7"/>
<path d="M298.5 66.5 L300.6 67 L302.8 67.5 L305 67.6 L307.1 68.1 L309 69 L310.9 70 L312.7 71 L314.6 71.9 L316.4 72.9 L318.4 73.8 L320.3 74.6 L322.3 75.4 L324.4 76.1 L326.5 76.6 L328.7 77.1 L330.9 77.6 L333 77.9 L335.2 78.3 L337.4 78.6 L339.6 78.9 L341.8 79.2 L344 79.5 L346.2 79.7 L348.4 80 L350.6 80.2 L352.8 80.5 L355 80.6 L357.2 80.8 L359.4 80.9 L361.6 80.9 L363.8 80.9 L366 80.9 L368.1 80.8 L370.3 80.7 L372.4 80.6 L374.5 80.4 L376.5 80.1 L378.1 79.4 L379.3 78.3" stroke="#262600" stroke-width="0.6" fill="none" stroke-opacity="0.7"/>
<path d="M298.5 66.5 L300.6 67.1 L302.8 67.6 L305 67.9 L307.1 68.5 L309 69.5 L310.8 70.7 L312.6 71.9 L314.4 73 L316.2 74.2 L318.1 75.2 L320.1 76.2 L322 77.1 L324.1 77.9 L326.2 78.5 L328.4 79.1 L330.5 79.6 L332.7 80 L334.9 80.4 L337.1 80.8 L339.3 81.1 L341.5 81.4 L343.7 81.6 L345.9 81.9 L348.1 82.1 L350.3 82.3 L352.5 82.5 L354.7 82.6 L356.9 82.7 L359.1 82.7 L361.3 82.7 L363.5 82.6 L365.7 82.5 L367.9 82.3 L370.1 82.1 L372.3 81.8 L374.4 81.4 L376.4 80.9 L378.1 79.8 L379.3 78.3" stroke="#262600" stroke-width="0.6" fill="none" stroke-opacity="0.7"/>
<path d="M298.5 66.5 L300.6 67.2 L302.8 67.7 L305 68 L307.1 68.7 L308.9 69.8 L310.7 71.1 L312.5 72.4 L314.3 73.7 L316.1 75 L318 76.2 L319.9 77.3 L321.9 78.2 L323.9 79.1 L326 79.8 L328.2 80.3 L330.3 80.9 L332.5 81.4 L334.7 81.8 L336.9 82.1 L339.1 82.4 L341.3 82.7 L343.5 83 L345.7 83.2 L347.9 83.5 L350.1 83.7 L352.3 83.8 L354.5 83.9 L356.8 84 L359 84 L361.2 83.9 L363.4 83.7 L365.6 83.5 L367.8 83.3 L370 83 L372.2 82.6 L374.3 82.1 L376.4 81.4 L378.1 80.1 L379.3 78.3" stroke="#262600" stroke-width="0.6" fill="none" stroke-opacity="0.7"/>
<path d="M341.9 63.5 Q341.7 73.2 339 82.9" stroke="#262600" stroke-width="0.6" fill="none" stroke-opacity="0.6"/>
<path d="M363.3 67.9 Q363.4 76.1 361.1 84.3" stroke="#262600" stroke-width="0.6" fill="none" stroke-opacity="0.6"/>
<path d="M298.5 66.5 L300.7 66.4 L302.9 66.3 L305 66.1 L307.2 65.7 L309.4 65.4 L311.5 64.9 L313.6 64.5 L315.8 64.1 L317.9 63.7 L320.1 63.4 L322.3 63.2 L324.5 63.1 L326.6 63 L328.8 63 L331 63 L333.2 63 L335.4 63.1 L337.6 63.2 L339.7 63.3 L341.9 63.5 L344.1 63.8 L346.2 64.1 L348.4 64.5 L350.5 64.9 L352.7 65.3 L354.8 65.8 L357 66.3 L359.1 66.8 L361.2 67.3 L363.3 67.9 L365.4 68.6 L367.5 69.3 L369.5 70.1 L371.5 71 L373.4 72 L375.2 73.2 L376.8 74.8 L378.2 76.4 L379.3 78.3 L379.3 78.3 L378.1 80.2 L376.4 81.5 L374.3 82.3 L372.1 82.8 L370 83.3 L367.8 83.6 L365.6 83.9 L363.4 84.1 L361.1 84.3 L358.9 84.4 L356.7 84.4 L354.5 84.4 L352.3 84.3 L350 84.1 L347.8 83.9 L345.6 83.7 L343.4 83.5 L341.2 83.2 L339 82.9 L336.8 82.6 L334.6 82.2 L332.4 81.8 L330.2 81.3 L328.1 80.8 L326 80.2 L323.8 79.5 L321.8 78.6 L319.8 77.6 L317.9 76.5 L316 75.3 L314.2 74 L312.5 72.6 L310.7 71.3 L308.9 69.9 L307.1 68.7 L305 68 L302.8 67.7 L300.6 67.2 L298.5 66.5 Z" fill="none" stroke="#1a1a00" stroke-width="0.7"/>
<path d="M332 70 Q352 71 374 75" stroke="#f4f4e0" stroke-width="2.5" fill="none" opacity="0.35"/>
<path d="M299.5 67.2 L300.1 67.4 L300.7 67.6 L301.3 67.8 L302 68 L302.6 68.2 L303.2 68.5 L303.7 68.7 L304.3 69 L304.9 69.3 L305.5 69.5 L306.1 69.8 L306.6 70.1 L307.2 70.4 L307.8 70.8 L308.3 71.1 L308.9 71.4 L309.4 71.8 L310 72.1 L310.5 72.5 L311 72.9 L311.5 73.2 L312 73.6 L312.5 74.1 L313 74.5 L313.5 74.9 L313.9 75.4 L314.4 75.9 L314.8 76.3 L315.2 76.9 L315.6 77.4 L315.9 77.9 L316.2 78.5 L316.4 79.1 L316.5 79.8 L316.4 80.4 L316.1 80.9 L315.7 81.4 L315.2 81.9 L314.8 82.4 L314.8 82.4 L314.2 82.4 L313.6 82.4 L313 82.4 L312.5 82.3 L311.9 82.2 L311.4 81.9 L310.9 81.6 L310.4 81.3 L309.9 80.9 L309.4 80.6 L309 80.2 L308.5 79.8 L308.1 79.5 L307.6 79.1 L307.2 78.7 L306.7 78.3 L306.3 77.9 L305.9 77.5 L305.4 77.1 L305 76.7 L304.6 76.3 L304.2 75.9 L303.8 75.4 L303.4 75 L303.1 74.5 L302.7 74.1 L302.3 73.6 L302 73.1 L301.7 72.6 L301.4 72.1 L301.1 71.6 L300.8 71.1 L300.5 70.6 L300.3 70 L300.1 69.5 L299.9 68.9 L299.8 68.3 L299.6 67.8 L299.5 67.2 Z" fill="url(#g_lobeD)"/>
<path d="M299.5 67.2 L300.1 67.4 L300.7 67.6 L301.2 67.9 L301.8 68.1 L302.4 68.3 L303 68.6 L303.5 68.9 L304.1 69.2 L304.7 69.5 L305.2 69.7 L305.8 70 L306.4 70.4 L306.9 70.7 L307.5 71 L308 71.3 L308.5 71.7 L309.1 72 L309.6 72.4 L310.1 72.8 L310.6 73.1 L311.2 73.5 L311.7 73.9 L312.1 74.3 L312.6 74.8 L313.1 75.2 L313.5 75.7 L314 76.1 L314.4 76.6 L314.8 77.1 L315.2 77.6 L315.5 78.2 L315.8 78.7 L316.1 79.3 L316.2 79.9 L316.1 80.5 L315.9 81 L315.5 81.5 L315.2 82 L314.8 82.4" stroke="#262600" stroke-width="0.6" fill="none" stroke-opacity="0.7"/>
<path d="M299.5 67.2 L300 67.5 L300.5 67.8 L301 68.1 L301.5 68.4 L302 68.7 L302.5 69 L303 69.3 L303.5 69.6 L304 70 L304.5 70.3 L305.1 70.6 L305.6 71 L306.1 71.3 L306.6 71.7 L307.1 72.1 L307.6 72.4 L308.1 72.8 L308.6 73.2 L309.1 73.5 L309.6 73.9 L310.1 74.3 L310.6 74.7 L311.1 75.1 L311.6 75.5 L312 76 L312.5 76.4 L312.9 76.9 L313.3 77.3 L313.8 77.8 L314.1 78.3 L314.5 78.8 L314.9 79.3 L315.1 79.8 L315.3 80.4 L315.4 80.9 L315.3 81.3 L315.2 81.7 L315 82 L314.8 82.4" stroke="#262600" stroke-width="0.6" fill="none" stroke-opacity="0.7"/>
<path d="M299.5 67.2 L299.9 67.6 L300.3 68 L300.6 68.3 L301 68.7 L301.4 69.1 L301.8 69.5 L302.3 69.9 L302.7 70.3 L303.1 70.7 L303.6 71.1 L304 71.5 L304.5 71.9 L305 72.2 L305.4 72.6 L305.9 73 L306.3 73.4 L306.8 73.8 L307.3 74.2 L307.8 74.6 L308.2 75 L308.7 75.4 L309.2 75.8 L309.6 76.2 L310.1 76.6 L310.6 77 L311 77.4 L311.5 77.8 L311.9 78.3 L312.3 78.7 L312.7 79.1 L313.1 79.6 L313.5 80.1 L313.9 80.5 L314.2 81 L314.4 81.4 L314.6 81.7 L314.6 81.9 L314.7 82.2 L314.8 82.4" stroke="#262600" stroke-width="0.6" fill="none" stroke-opacity="0.7"/>
<path d="M299.5 67.2 L299.8 67.7 L300 68.2 L300.3 68.6 L300.6 69.1 L300.9 69.6 L301.2 70 L301.5 70.5 L301.9 71 L302.3 71.4 L302.6 71.8 L303 72.3 L303.4 72.7 L303.8 73.2 L304.2 73.6 L304.6 74 L305.1 74.4 L305.5 74.8 L305.9 75.3 L306.4 75.7 L306.8 76.1 L307.3 76.5 L307.7 76.8 L308.2 77.2 L308.6 77.6 L309.1 78 L309.5 78.4 L310 78.8 L310.4 79.2 L310.9 79.6 L311.3 80 L311.8 80.4 L312.2 80.8 L312.6 81.2 L313.1 81.6 L313.4 81.9 L313.8 82.1 L314.1 82.2 L314.5 82.3 L314.8 82.4" stroke="#262600" stroke-width="0.6" fill="none" stroke-opacity="0.7"/>
<path d="M299.5 67.2 L299.7 67.7 L299.8 68.3 L300 68.8 L300.2 69.4 L300.5 69.9 L300.7 70.4 L301 70.9 L301.3 71.4 L301.6 71.9 L301.9 72.4 L302.3 72.9 L302.6 73.4 L303 73.8 L303.4 74.3 L303.7 74.7 L304.1 75.2 L304.5 75.6 L305 76 L305.4 76.4 L305.8 76.8 L306.2 77.2 L306.7 77.6 L307.1 78 L307.6 78.4 L308 78.8 L308.5 79.2 L308.9 79.6 L309.4 79.9 L309.8 80.3 L310.3 80.7 L310.8 81 L311.2 81.4 L311.7 81.7 L312.2 82 L312.7 82.2 L313.2 82.3 L313.8 82.4 L314.3 82.4 L314.8 82.4" stroke="#262600" stroke-width="0.6" fill="none" stroke-opacity="0.7"/>
<path d="M304.9 69.3 Q304.3 70.7 301.4 72.1" stroke="#262600" stroke-width="0.6" fill="none" stroke-opacity="0.6"/>
<path d="M310.5 72.5 Q309 74.6 305 76.7" stroke="#262600" stroke-width="0.6" fill="none" stroke-opacity="0.6"/>
<path d="M315.2 76.9 Q313.5 78.7 309.4 80.6" stroke="#262600" stroke-width="0.6" fill="none" stroke-opacity="0.6"/>
<path d="M299.5 67.2 L300.1 67.4 L300.7 67.6 L301.3 67.8 L302 68 L302.6 68.2 L303.2 68.5 L303.7 68.7 L304.3 69 L304.9 69.3 L305.5 69.5 L306.1 69.8 L306.6 70.1 L307.2 70.4 L307.8 70.8 L308.3 71.1 L308.9 71.4 L309.4 71.8 L310 72.1 L310.5 72.5 L311 72.9 L311.5 73.2 L312 73.6 L312.5 74.1 L313 74.5 L313.5 74.9 L313.9 75.4 L314.4 75.9 L314.8 76.3 L315.2 76.9 L315.6 77.4 L315.9 77.9 L316.2 78.5 L316.4 79.1 L316.5 79.8 L316.4 80.4 L316.1 80.9 L315.7 81.4 L315.2 81.9 L314.8 82.4 L314.8 82.4 L314.2 82.4 L313.6 82.4 L313 82.4 L312.5 82.3 L311.9 82.2 L311.4 81.9 L310.9 81.6 L310.4 81.3 L309.9 80.9 L309.4 80.6 L309 80.2 L308.5 79.8 L308.1 79.5 L307.6 79.1 L307.2 78.7 L306.7 78.3 L306.3 77.9 L305.9 77.5 L305.4 77.1 L305 76.7 L304.6 76.3 L304.2 75.9 L303.8 75.4 L303.4 75 L303.1 74.5 L302.7 74.1 L302.3 73.6 L302 73.1 L301.7 72.6 L301.4 72.1 L301.1 71.6 L300.8 71.1 L300.5 70.6 L300.3 70 L300.1 69.5 L299.9 68.9 L299.8 68.3 L299.6 67.8 L299.5 67.2 Z" fill="none" stroke="#1a1a00" stroke-width="0.7"/>
<ellipse cx="297.5" cy="65.5" rx="4.5" ry="4.5" fill="#0a0a00" opacity="0.95"/>
<ellipse cx="294.5" cy="62.5" rx="2.8" ry="7.5" fill="#0a0a00" opacity="0.75" transform="rotate(-38 294.5 62.5)"/>
<ellipse cx="303" cy="66" rx="5" ry="2.2" fill="#0a0a00" opacity="0.6" transform="rotate(-12 303 66)"/>
<path d="M290.5 60.5 Q296 61 301.5 64 L302 69 Q297 71.5 292 70 Q294 66 290.5 60.5 Z" fill="#0a0a00" opacity="0.85"/>
<path d="M301 64 Q306 63.5 311 65 Q306 67.5 302 68.5 Z" fill="#0a0a00" opacity="0.7"/>
<g clip-path="url(#cb1)">
<path d="M57.3 161.6 L60.32 161.59 L63.34 161.52 L66.37 161.39 L69.39 161.22 L72.41 161.01 L75.43 160.79 L78.46 160.55 L81.48 160.33 L84.5 160.13 L87.52 159.97 L90.55 159.86 L93.57 159.81 L96.59 159.81 L99.61 159.88 L102.64 160 L105.66 160.16 L108.68 160.37 L111.7 160.59 L114.73 160.83 L117.75 161.05 L120.77 161.25 L123.79 161.42 L126.82 161.53 L129.84 161.59 L132.86 161.59 L135.88 161.53 L138.91 161.42 L141.93 161.25 L144.95 161.05 L147.97 160.83 L151 160.59 L154.02 160.37 L157.04 160.16 L160.06 160 L163.09 159.88 L166.11 159.81 L169.13 159.81 L172.15 159.86 L175.18 159.97 L178.2 160.13 L181.22 160.33 L184.24 160.55 L187.27 160.79 L190.29 161.01 L193.31 161.22 L196.33 161.39 L199.36 161.52 L202.38 161.59 L205.4 161.6 L205.4 190.2 L202.38 190.21 L199.36 190.28 L196.33 190.41 L193.31 190.58 L190.29 190.79 L187.27 191.01 L184.24 191.25 L181.22 191.47 L178.2 191.67 L175.18 191.83 L172.15 191.94 L169.13 191.99 L166.11 191.99 L163.09 191.92 L160.06 191.8 L157.04 191.64 L154.02 191.43 L151 191.21 L147.97 190.97 L144.95 190.75 L141.93 190.55 L138.91 190.38 L135.88 190.27 L132.86 190.21 L129.84 190.21 L126.82 190.27 L123.79 190.38 L120.77 190.55 L117.75 190.75 L114.73 190.97 L111.7 191.21 L108.68 191.43 L105.66 191.64 L102.64 191.8 L99.61 191.92 L96.59 191.99 L93.57 191.99 L90.55 191.94 L87.52 191.83 L84.5 191.67 L81.48 191.47 L78.46 191.25 L75.43 191.01 L72.41 190.79 L69.39 190.58 L66.37 190.41 L63.34 190.28 L60.32 190.21 L57.3 190.2 Z" fill="#36369e"/>
<path d="M57.3 162.94 L60.32 162.93 L63.34 162.86 L66.37 162.74 L69.39 162.58 L72.41 162.38 L75.43 162.17 L78.46 161.94 L81.48 161.73 L84.5 161.54 L87.52 161.39 L90.55 161.29 L93.57 161.23 L96.59 161.24 L99.61 161.3 L102.64 161.41 L105.66 161.57 L108.68 161.77 L111.7 161.98 L114.73 162.2 L117.75 162.42 L120.77 162.61 L123.79 162.76 L126.82 162.87 L129.84 162.93 L132.86 162.93 L135.88 162.87 L138.91 162.76 L141.93 162.61 L144.95 162.42 L147.97 162.2 L151 161.98 L154.02 161.77 L157.04 161.57 L160.06 161.41 L163.09 161.3 L166.11 161.24 L169.13 161.23 L172.15 161.29 L175.18 161.39 L178.2 161.54 L181.22 161.73 L184.24 161.94 L187.27 162.17 L190.29 162.38 L193.31 162.58 L196.33 162.74 L199.36 162.86 L202.38 162.93 L205.4 162.94 L205.4 188.86 L202.38 188.87 L199.36 188.94 L196.33 189.06 L193.31 189.22 L190.29 189.42 L187.27 189.63 L184.24 189.86 L181.22 190.07 L178.2 190.26 L175.18 190.41 L172.15 190.51 L169.13 190.57 L166.11 190.56 L163.09 190.5 L160.06 190.39 L157.04 190.23 L154.02 190.03 L151 189.82 L147.97 189.6 L144.95 189.38 L141.93 189.19 L138.91 189.04 L135.88 188.93 L132.86 188.87 L129.84 188.87 L126.82 188.93 L123.79 189.04 L120.77 189.19 L117.75 189.38 L114.73 189.6 L111.7 189.82 L108.68 190.03 L105.66 190.23 L102.64 190.39 L99.61 190.5 L96.59 190.56 L93.57 190.57 L90.55 190.51 L87.52 190.41 L84.5 190.26 L81.48 190.07 L78.46 189.86 L75.43 189.63 L72.41 189.42 L69.39 189.22 L66.37 189.06 L63.34 188.94 L60.32 188.87 L57.3 188.86 Z" fill="#3341b6"/>
<path d="M57.3 163.68 L60.32 163.67 L63.34 163.61 L66.37 163.49 L69.39 163.33 L72.41 163.14 L75.43 162.93 L78.46 162.71 L81.48 162.51 L84.5 162.32 L87.52 162.18 L90.55 162.07 L93.57 162.02 L96.59 162.03 L99.61 162.09 L102.64 162.2 L105.66 162.35 L108.68 162.54 L111.7 162.75 L114.73 162.97 L117.75 163.17 L120.77 163.36 L123.79 163.51 L126.82 163.62 L129.84 163.68 L132.86 163.68 L135.88 163.62 L138.91 163.51 L141.93 163.36 L144.95 163.17 L147.97 162.97 L151 162.75 L154.02 162.54 L157.04 162.35 L160.06 162.2 L163.09 162.09 L166.11 162.03 L169.13 162.02 L172.15 162.07 L175.18 162.18 L178.2 162.32 L181.22 162.51 L184.24 162.71 L187.27 162.93 L190.29 163.14 L193.31 163.33 L196.33 163.49 L199.36 163.61 L202.38 163.67 L205.4 163.68 L205.4 188.12 L202.38 188.13 L199.36 188.19 L196.33 188.31 L193.31 188.47 L190.29 188.66 L187.27 188.87 L184.24 189.09 L181.22 189.29 L178.2 189.48 L175.18 189.62 L172.15 189.73 L169.13 189.78 L166.11 189.77 L163.09 189.71 L160.06 189.6 L157.04 189.45 L154.02 189.26 L151 189.05 L147.97 188.83 L144.95 188.63 L141.93 188.44 L138.91 188.29 L135.88 188.18 L132.86 188.12 L129.84 188.12 L126.82 188.18 L123.79 188.29 L120.77 188.44 L117.75 188.63 L114.73 188.83 L111.7 189.05 L108.68 189.26 L105.66 189.45 L102.64 189.6 L99.61 189.71 L96.59 189.77 L93.57 189.78 L90.55 189.73 L87.52 189.62 L84.5 189.48 L81.48 189.29 L78.46 189.09 L75.43 188.87 L72.41 188.66 L69.39 188.47 L66.37 188.31 L63.34 188.19 L60.32 188.13 L57.3 188.12 Z" fill="#264fcd"/>
<path d="M57.3 164.23 L60.32 164.22 L63.34 164.16 L66.37 164.04 L69.39 163.89 L72.41 163.7 L75.43 163.49 L78.46 163.28 L81.48 163.08 L84.5 162.9 L87.52 162.75 L90.55 162.65 L93.57 162.6 L96.59 162.6 L99.61 162.66 L102.64 162.77 L105.66 162.92 L108.68 163.11 L111.7 163.31 L114.73 163.53 L117.75 163.73 L120.77 163.92 L123.79 164.07 L126.82 164.17 L129.84 164.23 L132.86 164.23 L135.88 164.17 L138.91 164.07 L141.93 163.92 L144.95 163.73 L147.97 163.53 L151 163.31 L154.02 163.11 L157.04 162.92 L160.06 162.77 L163.09 162.66 L166.11 162.6 L169.13 162.6 L172.15 162.65 L175.18 162.75 L178.2 162.9 L181.22 163.08 L184.24 163.28 L187.27 163.49 L190.29 163.7 L193.31 163.89 L196.33 164.04 L199.36 164.16 L202.38 164.22 L205.4 164.23 L205.4 187.57 L202.38 187.58 L199.36 187.64 L196.33 187.76 L193.31 187.91 L190.29 188.1 L187.27 188.31 L184.24 188.52 L181.22 188.72 L178.2 188.9 L175.18 189.05 L172.15 189.15 L169.13 189.2 L166.11 189.2 L163.09 189.14 L160.06 189.03 L157.04 188.88 L154.02 188.69 L151 188.49 L147.97 188.27 L144.95 188.07 L141.93 187.88 L138.91 187.73 L135.88 187.63 L132.86 187.57 L129.84 187.57 L126.82 187.63 L123.79 187.73 L120.77 187.88 L117.75 188.07 L114.73 188.27 L111.7 188.49 L108.68 188.69 L105.66 188.88 L102.64 189.03 L99.61 189.14 L96.59 189.2 L93.57 189.2 L90.55 189.15 L87.52 189.05 L84.5 188.9 L81.48 188.72 L78.46 188.52 L75.43 188.31 L72.41 188.1 L69.39 187.91 L66.37 187.76 L63.34 187.64 L60.32 187.58 L57.3 187.57 Z" fill="#0b5edf"/>
<path d="M57.3 164.68 L60.32 164.67 L63.34 164.61 L66.37 164.5 L69.39 164.34 L72.41 164.15 L75.43 163.95 L78.46 163.74 L81.48 163.54 L84.5 163.36 L87.52 163.22 L90.55 163.12 L93.57 163.07 L96.59 163.07 L99.61 163.13 L102.64 163.24 L105.66 163.39 L108.68 163.57 L111.7 163.77 L114.73 163.98 L117.75 164.19 L120.77 164.37 L123.79 164.52 L126.82 164.62 L129.84 164.68 L132.86 164.68 L135.88 164.62 L138.91 164.52 L141.93 164.37 L144.95 164.19 L147.97 163.98 L151 163.77 L154.02 163.57 L157.04 163.39 L160.06 163.24 L163.09 163.13 L166.11 163.07 L169.13 163.07 L172.15 163.12 L175.18 163.22 L178.2 163.36 L181.22 163.54 L184.24 163.74 L187.27 163.95 L190.29 164.15 L193.31 164.34 L196.33 164.5 L199.36 164.61 L202.38 164.67 L205.4 164.68 L205.4 187.12 L202.38 187.13 L199.36 187.19 L196.33 187.3 L193.31 187.46 L190.29 187.65 L187.27 187.85 L184.24 188.06 L181.22 188.26 L178.2 188.44 L175.18 188.58 L172.15 188.68 L169.13 188.73 L166.11 188.73 L163.09 188.67 L160.06 188.56 L157.04 188.41 L154.02 188.23 L151 188.03 L147.97 187.82 L144.95 187.61 L141.93 187.43 L138.91 187.28 L135.88 187.18 L132.86 187.12 L129.84 187.12 L126.82 187.18 L123.79 187.28 L120.77 187.43 L117.75 187.61 L114.73 187.82 L111.7 188.03 L108.68 188.23 L105.66 188.41 L102.64 188.56 L99.61 188.67 L96.59 188.73 L93.57 188.73 L90.55 188.68 L87.52 188.58 L84.5 188.44 L81.48 188.26 L78.46 188.06 L75.43 187.85 L72.41 187.65 L69.39 187.46 L66.37 187.3 L63.34 187.19 L60.32 187.13 L57.3 187.12 Z" fill="#0269e1"/>
<path d="M57.3 165.07 L60.32 165.06 L63.34 165 L66.37 164.89 L69.39 164.73 L72.41 164.55 L75.43 164.34 L78.46 164.14 L81.48 163.94 L84.5 163.76 L87.52 163.62 L90.55 163.52 L93.57 163.47 L96.59 163.47 L99.61 163.53 L102.64 163.64 L105.66 163.79 L108.68 163.97 L111.7 164.17 L114.73 164.38 L117.75 164.58 L120.77 164.76 L123.79 164.91 L126.82 165.01 L129.84 165.07 L132.86 165.07 L135.88 165.01 L138.91 164.91 L141.93 164.76 L144.95 164.58 L147.97 164.38 L151 164.17 L154.02 163.97 L157.04 163.79 L160.06 163.64 L163.09 163.53 L166.11 163.47 L169.13 163.47 L172.15 163.52 L175.18 163.62 L178.2 163.76 L181.22 163.94 L184.24 164.14 L187.27 164.34 L190.29 164.55 L193.31 164.73 L196.33 164.89 L199.36 165 L202.38 165.06 L205.4 165.07 L205.4 186.73 L202.38 186.74 L199.36 186.8 L196.33 186.91 L193.31 187.07 L190.29 187.25 L187.27 187.46 L184.24 187.66 L181.22 187.86 L178.2 188.04 L175.18 188.18 L172.15 188.28 L169.13 188.33 L166.11 188.33 L163.09 188.27 L160.06 188.16 L157.04 188.01 L154.02 187.83 L151 187.63 L147.97 187.42 L144.95 187.22 L141.93 187.04 L138.91 186.89 L135.88 186.79 L132.86 186.73 L129.84 186.73 L126.82 186.79 L123.79 186.89 L120.77 187.04 L117.75 187.22 L114.73 187.42 L111.7 187.63 L108.68 187.83 L105.66 188.01 L102.64 188.16 L99.61 188.27 L96.59 188.33 L93.57 188.33 L90.55 188.28 L87.52 188.18 L84.5 188.04 L81.48 187.86 L78.46 187.66 L75.43 187.46 L72.41 187.25 L69.39 187.07 L66.37 186.91 L63.34 186.8 L60.32 186.74 L57.3 186.73 Z" fill="#0871de"/>
<path d="M57.3 165.42 L60.32 165.41 L63.34 165.35 L66.37 165.23 L69.39 165.08 L72.41 164.9 L75.43 164.7 L78.46 164.49 L81.48 164.29 L84.5 164.11 L87.52 163.97 L90.55 163.87 L93.57 163.83 L96.59 163.83 L99.61 163.89 L102.64 163.99 L105.66 164.14 L108.68 164.32 L111.7 164.52 L114.73 164.73 L117.75 164.93 L120.77 165.11 L123.79 165.26 L126.82 165.36 L129.84 165.41 L132.86 165.41 L135.88 165.36 L138.91 165.26 L141.93 165.11 L144.95 164.93 L147.97 164.73 L151 164.52 L154.02 164.32 L157.04 164.14 L160.06 163.99 L163.09 163.89 L166.11 163.83 L169.13 163.83 L172.15 163.87 L175.18 163.97 L178.2 164.11 L181.22 164.29 L184.24 164.49 L187.27 164.7 L190.29 164.9 L193.31 165.08 L196.33 165.23 L199.36 165.35 L202.38 165.41 L205.4 165.42 L205.4 186.38 L202.38 186.39 L199.36 186.45 L196.33 186.57 L193.31 186.72 L190.29 186.9 L187.27 187.1 L184.24 187.31 L181.22 187.51 L178.2 187.69 L175.18 187.83 L172.15 187.93 L169.13 187.97 L166.11 187.97 L163.09 187.91 L160.06 187.81 L157.04 187.66 L154.02 187.48 L151 187.28 L147.97 187.07 L144.95 186.87 L141.93 186.69 L138.91 186.54 L135.88 186.44 L132.86 186.39 L129.84 186.39 L126.82 186.44 L123.79 186.54 L120.77 186.69 L117.75 186.87 L114.73 187.07 L111.7 187.28 L108.68 187.48 L105.66 187.66 L102.64 187.81 L99.61 187.91 L96.59 187.97 L93.57 187.97 L90.55 187.93 L87.52 187.83 L84.5 187.69 L81.48 187.51 L78.46 187.31 L75.43 187.1 L72.41 186.9 L69.39 186.72 L66.37 186.57 L63.34 186.45 L60.32 186.39 L57.3 186.38 Z" fill="#0f78db"/>
<path d="M57.3 165.74 L60.32 165.73 L63.34 165.67 L66.37 165.55 L69.39 165.4 L72.41 165.22 L75.43 165.02 L78.46 164.81 L81.48 164.61 L84.5 164.44 L87.52 164.3 L90.55 164.2 L93.57 164.15 L96.59 164.16 L99.61 164.21 L102.64 164.32 L105.66 164.47 L108.68 164.64 L111.7 164.84 L114.73 165.05 L117.75 165.25 L120.77 165.43 L123.79 165.58 L126.82 165.68 L129.84 165.73 L132.86 165.73 L135.88 165.68 L138.91 165.58 L141.93 165.43 L144.95 165.25 L147.97 165.05 L151 164.84 L154.02 164.64 L157.04 164.47 L160.06 164.32 L163.09 164.21 L166.11 164.16 L169.13 164.15 L172.15 164.2 L175.18 164.3 L178.2 164.44 L181.22 164.61 L184.24 164.81 L187.27 165.02 L190.29 165.22 L193.31 165.4 L196.33 165.55 L199.36 165.67 L202.38 165.73 L205.4 165.74 L205.4 186.06 L202.38 186.07 L199.36 186.13 L196.33 186.25 L193.31 186.4 L190.29 186.58 L187.27 186.78 L184.24 186.99 L181.22 187.19 L178.2 187.36 L175.18 187.5 L172.15 187.6 L169.13 187.65 L166.11 187.64 L163.09 187.59 L160.06 187.48 L157.04 187.33 L154.02 187.16 L151 186.96 L147.97 186.75 L144.95 186.55 L141.93 186.37 L138.91 186.22 L135.88 186.12 L132.86 186.07 L129.84 186.07 L126.82 186.12 L123.79 186.22 L120.77 186.37 L117.75 186.55 L114.73 186.75 L111.7 186.96 L108.68 187.16 L105.66 187.33 L102.64 187.48 L99.61 187.59 L96.59 187.64 L93.57 187.65 L90.55 187.6 L87.52 187.5 L84.5 187.36 L81.48 187.19 L78.46 186.99 L75.43 186.78 L72.41 186.58 L69.39 186.4 L66.37 186.25 L63.34 186.13 L60.32 186.07 L57.3 186.06 Z" fill="#137fd7"/>
<path d="M57.3 166.04 L60.32 166.03 L63.34 165.96 L66.37 165.85 L69.39 165.7 L72.41 165.52 L75.43 165.31 L78.46 165.11 L81.48 164.91 L84.5 164.74 L87.52 164.6 L90.55 164.5 L93.57 164.45 L96.59 164.46 L99.61 164.51 L102.64 164.62 L105.66 164.76 L108.68 164.94 L111.7 165.14 L114.73 165.35 L117.75 165.55 L120.77 165.73 L123.79 165.87 L126.82 165.98 L129.84 166.03 L132.86 166.03 L135.88 165.98 L138.91 165.87 L141.93 165.73 L144.95 165.55 L147.97 165.35 L151 165.14 L154.02 164.94 L157.04 164.76 L160.06 164.62 L163.09 164.51 L166.11 164.46 L169.13 164.45 L172.15 164.5 L175.18 164.6 L178.2 164.74 L181.22 164.91 L184.24 165.11 L187.27 165.31 L190.29 165.52 L193.31 165.7 L196.33 165.85 L199.36 165.96 L202.38 166.03 L205.4 166.04 L205.4 185.76 L202.38 185.77 L199.36 185.84 L196.33 185.95 L193.31 186.1 L190.29 186.28 L187.27 186.49 L184.24 186.69 L181.22 186.89 L178.2 187.06 L175.18 187.2 L172.15 187.3 L169.13 187.35 L166.11 187.34 L163.09 187.29 L160.06 187.18 L157.04 187.04 L154.02 186.86 L151 186.66 L147.97 186.45 L144.95 186.25 L141.93 186.07 L138.91 185.93 L135.88 185.82 L132.86 185.77 L129.84 185.77 L126.82 185.82 L123.79 185.93 L120.77 186.07 L117.75 186.25 L114.73 186.45 L111.7 186.66 L108.68 186.86 L105.66 187.04 L102.64 187.18 L99.61 187.29 L96.59 187.34 L93.57 187.35 L90.55 187.3 L87.52 187.2 L84.5 187.06 L81.48 186.89 L78.46 186.69 L75.43 186.49 L72.41 186.28 L69.39 186.1 L66.37 185.95 L63.34 185.84 L60.32 185.77 L57.3 185.76 Z" fill="#1487d3"/>
<path d="M57.3 166.32 L60.32 166.31 L63.34 166.24 L66.37 166.13 L69.39 165.98 L72.41 165.8 L75.43 165.59 L78.46 165.39 L81.48 165.19 L84.5 165.02 L87.52 164.88 L90.55 164.78 L93.57 164.73 L96.59 164.74 L99.61 164.79 L102.64 164.9 L105.66 165.05 L108.68 165.22 L111.7 165.42 L114.73 165.63 L117.75 165.83 L120.77 166.01 L123.79 166.15 L126.82 166.26 L129.84 166.31 L132.86 166.31 L135.88 166.26 L138.91 166.15 L141.93 166.01 L144.95 165.83 L147.97 165.63 L151 165.42 L154.02 165.22 L157.04 165.05 L160.06 164.9 L163.09 164.79 L166.11 164.74 L169.13 164.73 L172.15 164.78 L175.18 164.88 L178.2 165.02 L181.22 165.19 L184.24 165.39 L187.27 165.59 L190.29 165.8 L193.31 165.98 L196.33 166.13 L199.36 166.24 L202.38 166.31 L205.4 166.32 L205.4 185.48 L202.38 185.49 L199.36 185.56 L196.33 185.67 L193.31 185.82 L190.29 186 L187.27 186.21 L184.24 186.41 L181.22 186.61 L178.2 186.78 L175.18 186.92 L172.15 187.02 L169.13 187.07 L166.11 187.06 L163.09 187.01 L160.06 186.9 L157.04 186.75 L154.02 186.58 L151 186.38 L147.97 186.17 L144.95 185.97 L141.93 185.79 L138.91 185.65 L135.88 185.54 L132.86 185.49 L129.84 185.49 L126.82 185.54 L123.79 185.65 L120.77 185.79 L117.75 185.97 L114.73 186.17 L111.7 186.38 L108.68 186.58 L105.66 186.75 L102.64 186.9 L99.61 187.01 L96.59 187.06 L93.57 187.07 L90.55 187.02 L87.52 186.92 L84.5 186.78 L81.48 186.61 L78.46 186.41 L75.43 186.21 L72.41 186 L69.39 185.82 L66.37 185.67 L63.34 185.56 L60.32 185.49 L57.3 185.48 Z" fill="#0f8fd2"/>
<path d="M57.3 166.59 L60.32 166.58 L63.34 166.51 L66.37 166.4 L69.39 166.25 L72.41 166.06 L75.43 165.86 L78.46 165.66 L81.48 165.46 L84.5 165.28 L87.52 165.14 L90.55 165.05 L93.57 165 L96.59 165 L99.61 165.06 L102.64 165.17 L105.66 165.31 L108.68 165.49 L111.7 165.69 L114.73 165.9 L117.75 166.1 L120.77 166.28 L123.79 166.42 L126.82 166.53 L129.84 166.58 L132.86 166.58 L135.88 166.53 L138.91 166.42 L141.93 166.28 L144.95 166.1 L147.97 165.9 L151 165.69 L154.02 165.49 L157.04 165.31 L160.06 165.17 L163.09 165.06 L166.11 165 L169.13 165 L172.15 165.05 L175.18 165.14 L178.2 165.28 L181.22 165.46 L184.24 165.66 L187.27 165.86 L190.29 166.06 L193.31 166.25 L196.33 166.4 L199.36 166.51 L202.38 166.58 L205.4 166.59 L205.4 185.21 L202.38 185.22 L199.36 185.29 L196.33 185.4 L193.31 185.55 L190.29 185.74 L187.27 185.94 L184.24 186.14 L181.22 186.34 L178.2 186.52 L175.18 186.66 L172.15 186.75 L169.13 186.8 L166.11 186.8 L163.09 186.74 L160.06 186.63 L157.04 186.49 L154.02 186.31 L151 186.11 L147.97 185.9 L144.95 185.7 L141.93 185.52 L138.91 185.38 L135.88 185.27 L132.86 185.22 L129.84 185.22 L126.82 185.27 L123.79 185.38 L120.77 185.52 L117.75 185.7 L114.73 185.9 L111.7 186.11 L108.68 186.31 L105.66 186.49 L102.64 186.63 L99.61 186.74 L96.59 186.8 L93.57 186.8 L90.55 186.75 L87.52 186.66 L84.5 186.52 L81.48 186.34 L78.46 186.14 L75.43 185.94 L72.41 185.74 L69.39 185.55 L66.37 185.4 L63.34 185.29 L60.32 185.22 L57.3 185.21 Z" fill="#0999d1"/>
<path d="M57.3 166.84 L60.32 166.84 L63.34 166.77 L66.37 166.66 L69.39 166.51 L72.41 166.32 L75.43 166.12 L78.46 165.91 L81.48 165.71 L84.5 165.54 L87.52 165.4 L90.55 165.3 L93.57 165.25 L96.59 165.26 L99.61 165.32 L102.64 165.42 L105.66 165.57 L108.68 165.75 L111.7 165.95 L114.73 166.15 L117.75 166.35 L120.77 166.53 L123.79 166.68 L126.82 166.79 L129.84 166.84 L132.86 166.84 L135.88 166.79 L138.91 166.68 L141.93 166.53 L144.95 166.35 L147.97 166.15 L151 165.95 L154.02 165.75 L157.04 165.57 L160.06 165.42 L163.09 165.32 L166.11 165.26 L169.13 165.25 L172.15 165.3 L175.18 165.4 L178.2 165.54 L181.22 165.71 L184.24 165.91 L187.27 166.12 L190.29 166.32 L193.31 166.51 L196.33 166.66 L199.36 166.77 L202.38 166.84 L205.4 166.84 L205.4 184.96 L202.38 184.96 L199.36 185.03 L196.33 185.14 L193.31 185.29 L190.29 185.48 L187.27 185.68 L184.24 185.89 L181.22 186.09 L178.2 186.26 L175.18 186.4 L172.15 186.5 L169.13 186.55 L166.11 186.54 L163.09 186.48 L160.06 186.38 L157.04 186.23 L154.02 186.05 L151 185.85 L147.97 185.65 L144.95 185.45 L141.93 185.27 L138.91 185.12 L135.88 185.01 L132.86 184.96 L129.84 184.96 L126.82 185.01 L123.79 185.12 L120.77 185.27 L117.75 185.45 L114.73 185.65 L111.7 185.85 L108.68 186.05 L105.66 186.23 L102.64 186.38 L99.61 186.48 L96.59 186.54 L93.57 186.55 L90.55 186.5 L87.52 186.4 L84.5 186.26 L81.48 186.09 L78.46 185.89 L75.43 185.68 L72.41 185.48 L69.39 185.29 L66.37 185.14 L63.34 185.03 L60.32 184.96 L57.3 184.96 Z" fill="#06a0cd"/>
<path d="M57.3 167.1 L60.32 167.09 L63.34 167.02 L66.37 166.91 L69.39 166.76 L72.41 166.57 L75.43 166.37 L78.46 166.16 L81.48 165.96 L84.5 165.79 L87.52 165.65 L90.55 165.55 L93.57 165.5 L96.59 165.5 L99.61 165.56 L102.64 165.67 L105.66 165.81 L108.68 165.99 L111.7 166.19 L114.73 166.4 L117.75 166.6 L120.77 166.78 L123.79 166.93 L126.82 167.04 L129.84 167.09 L132.86 167.09 L135.88 167.04 L138.91 166.93 L141.93 166.78 L144.95 166.6 L147.97 166.4 L151 166.19 L154.02 165.99 L157.04 165.81 L160.06 165.67 L163.09 165.56 L166.11 165.5 L169.13 165.5 L172.15 165.55 L175.18 165.65 L178.2 165.79 L181.22 165.96 L184.24 166.16 L187.27 166.37 L190.29 166.57 L193.31 166.76 L196.33 166.91 L199.36 167.02 L202.38 167.09 L205.4 167.1 L205.4 184.7 L202.38 184.71 L199.36 184.78 L196.33 184.89 L193.31 185.04 L190.29 185.23 L187.27 185.43 L184.24 185.64 L181.22 185.84 L178.2 186.01 L175.18 186.15 L172.15 186.25 L169.13 186.3 L166.11 186.3 L163.09 186.24 L160.06 186.13 L157.04 185.99 L154.02 185.81 L151 185.61 L147.97 185.4 L144.95 185.2 L141.93 185.02 L138.91 184.87 L135.88 184.76 L132.86 184.71 L129.84 184.71 L126.82 184.76 L123.79 184.87 L120.77 185.02 L117.75 185.2 L114.73 185.4 L111.7 185.61 L108.68 185.81 L105.66 185.99 L102.64 186.13 L99.61 186.24 L96.59 186.3 L93.57 186.3 L90.55 186.25 L87.52 186.15 L84.5 186.01 L81.48 185.84 L78.46 185.64 L75.43 185.43 L72.41 185.23 L69.39 185.04 L66.37 184.89 L63.34 184.78 L60.32 184.71 L57.3 184.7 Z" fill="#06a6c7"/>
<path d="M57.3 167.34 L60.32 167.33 L63.34 167.27 L66.37 167.16 L69.39 167 L72.41 166.81 L75.43 166.61 L78.46 166.4 L81.48 166.2 L84.5 166.03 L87.52 165.88 L90.55 165.79 L93.57 165.74 L96.59 165.74 L99.61 165.8 L102.64 165.91 L105.66 166.05 L108.68 166.23 L111.7 166.43 L114.73 166.64 L117.75 166.85 L120.77 167.03 L123.79 167.18 L126.82 167.28 L129.84 167.34 L132.86 167.34 L135.88 167.28 L138.91 167.18 L141.93 167.03 L144.95 166.85 L147.97 166.64 L151 166.43 L154.02 166.23 L157.04 166.05 L160.06 165.91 L163.09 165.8 L166.11 165.74 L169.13 165.74 L172.15 165.79 L175.18 165.88 L178.2 166.03 L181.22 166.2 L184.24 166.4 L187.27 166.61 L190.29 166.81 L193.31 167 L196.33 167.16 L199.36 167.27 L202.38 167.33 L205.4 167.34 L205.4 184.46 L202.38 184.47 L199.36 184.53 L196.33 184.64 L193.31 184.8 L190.29 184.99 L187.27 185.19 L184.24 185.4 L181.22 185.6 L178.2 185.77 L175.18 185.92 L172.15 186.01 L169.13 186.06 L166.11 186.06 L163.09 186 L160.06 185.89 L157.04 185.75 L154.02 185.57 L151 185.37 L147.97 185.16 L144.95 184.95 L141.93 184.77 L138.91 184.62 L135.88 184.52 L132.86 184.46 L129.84 184.46 L126.82 184.52 L123.79 184.62 L120.77 184.77 L117.75 184.95 L114.73 185.16 L111.7 185.37 L108.68 185.57 L105.66 185.75 L102.64 185.89 L99.61 186 L96.59 186.06 L93.57 186.06 L90.55 186.01 L87.52 185.92 L84.5 185.77 L81.48 185.6 L78.46 185.4 L75.43 185.19 L72.41 184.99 L69.39 184.8 L66.37 184.64 L63.34 184.53 L60.32 184.47 L57.3 184.46 Z" fill="#09abbf"/>
<path d="M57.3 167.59 L60.32 167.58 L63.34 167.51 L66.37 167.4 L69.39 167.24 L72.41 167.05 L75.43 166.84 L78.46 166.63 L81.48 166.44 L84.5 166.26 L87.52 166.12 L90.55 166.02 L93.57 165.97 L96.59 165.97 L99.61 166.03 L102.64 166.14 L105.66 166.29 L108.68 166.47 L111.7 166.67 L114.73 166.88 L117.75 167.08 L120.77 167.27 L123.79 167.42 L126.82 167.53 L129.84 167.58 L132.86 167.58 L135.88 167.53 L138.91 167.42 L141.93 167.27 L144.95 167.08 L147.97 166.88 L151 166.67 L154.02 166.47 L157.04 166.29 L160.06 166.14 L163.09 166.03 L166.11 165.97 L169.13 165.97 L172.15 166.02 L175.18 166.12 L178.2 166.26 L181.22 166.44 L184.24 166.63 L187.27 166.84 L190.29 167.05 L193.31 167.24 L196.33 167.4 L199.36 167.51 L202.38 167.58 L205.4 167.59 L205.4 184.21 L202.38 184.22 L199.36 184.29 L196.33 184.4 L193.31 184.56 L190.29 184.75 L187.27 184.96 L184.24 185.17 L181.22 185.36 L178.2 185.54 L175.18 185.68 L172.15 185.78 L169.13 185.83 L166.11 185.83 L163.09 185.77 L160.06 185.66 L157.04 185.51 L154.02 185.33 L151 185.13 L147.97 184.92 L144.95 184.72 L141.93 184.53 L138.91 184.38 L135.88 184.27 L132.86 184.22 L129.84 184.22 L126.82 184.27 L123.79 184.38 L120.77 184.53 L117.75 184.72 L114.73 184.92 L111.7 185.13 L108.68 185.33 L105.66 185.51 L102.64 185.66 L99.61 185.77 L96.59 185.83 L93.57 185.83 L90.55 185.78 L87.52 185.68 L84.5 185.54 L81.48 185.36 L78.46 185.17 L75.43 184.96 L72.41 184.75 L69.39 184.56 L66.37 184.4 L63.34 184.29 L60.32 184.22 L57.3 184.21 Z" fill="#12afb7"/>
<path d="M57.3 167.83 L60.32 167.82 L63.34 167.75 L66.37 167.64 L69.39 167.48 L72.41 167.29 L75.43 167.08 L78.46 166.87 L81.48 166.67 L84.5 166.49 L87.52 166.35 L90.55 166.25 L93.57 166.2 L96.59 166.2 L99.61 166.26 L102.64 166.37 L105.66 166.52 L108.68 166.7 L111.7 166.9 L114.73 167.11 L117.75 167.32 L120.77 167.51 L123.79 167.66 L126.82 167.77 L129.84 167.83 L132.86 167.83 L135.88 167.77 L138.91 167.66 L141.93 167.51 L144.95 167.32 L147.97 167.11 L151 166.9 L154.02 166.7 L157.04 166.52 L160.06 166.37 L163.09 166.26 L166.11 166.2 L169.13 166.2 L172.15 166.25 L175.18 166.35 L178.2 166.49 L181.22 166.67 L184.24 166.87 L187.27 167.08 L190.29 167.29 L193.31 167.48 L196.33 167.64 L199.36 167.75 L202.38 167.82 L205.4 167.83 L205.4 183.97 L202.38 183.98 L199.36 184.05 L196.33 184.16 L193.31 184.32 L190.29 184.51 L187.27 184.72 L184.24 184.93 L181.22 185.13 L178.2 185.31 L175.18 185.45 L172.15 185.55 L169.13 185.6 L166.11 185.6 L163.09 185.54 L160.06 185.43 L157.04 185.28 L154.02 185.1 L151 184.9 L147.97 184.69 L144.95 184.48 L141.93 184.29 L138.91 184.14 L135.88 184.03 L132.86 183.97 L129.84 183.97 L126.82 184.03 L123.79 184.14 L120.77 184.29 L117.75 184.48 L114.73 184.69 L111.7 184.9 L108.68 185.1 L105.66 185.28 L102.64 185.43 L99.61 185.54 L96.59 185.6 L93.57 185.6 L90.55 185.55 L87.52 185.45 L84.5 185.31 L81.48 185.13 L78.46 184.93 L75.43 184.72 L72.41 184.51 L69.39 184.32 L66.37 184.16 L63.34 184.05 L60.32 183.98 L57.3 183.97 Z" fill="#1fb3ae"/>
<path d="M57.3 168.07 L60.32 168.06 L63.34 167.99 L66.37 167.88 L69.39 167.71 L72.41 167.52 L75.43 167.31 L78.46 167.1 L81.48 166.89 L84.5 166.71 L87.52 166.57 L90.55 166.47 L93.57 166.42 L96.59 166.43 L99.61 166.48 L102.64 166.59 L105.66 166.74 L108.68 166.93 L111.7 167.13 L114.73 167.35 L117.75 167.55 L120.77 167.74 L123.79 167.9 L126.82 168.01 L129.84 168.07 L132.86 168.07 L135.88 168.01 L138.91 167.9 L141.93 167.74 L144.95 167.55 L147.97 167.35 L151 167.13 L154.02 166.93 L157.04 166.74 L160.06 166.59 L163.09 166.48 L166.11 166.43 L169.13 166.42 L172.15 166.47 L175.18 166.57 L178.2 166.71 L181.22 166.89 L184.24 167.1 L187.27 167.31 L190.29 167.52 L193.31 167.71 L196.33 167.88 L199.36 167.99 L202.38 168.06 L205.4 168.07 L205.4 183.73 L202.38 183.74 L199.36 183.81 L196.33 183.92 L193.31 184.09 L190.29 184.28 L187.27 184.49 L184.24 184.7 L181.22 184.91 L178.2 185.09 L175.18 185.23 L172.15 185.33 L169.13 185.38 L166.11 185.37 L163.09 185.32 L160.06 185.21 L157.04 185.06 L154.02 184.87 L151 184.67 L147.97 184.45 L144.95 184.25 L141.93 184.06 L138.91 183.9 L135.88 183.79 L132.86 183.73 L129.84 183.73 L126.82 183.79 L123.79 183.9 L120.77 184.06 L117.75 184.25 L114.73 184.45 L111.7 184.67 L108.68 184.87 L105.66 185.06 L102.64 185.21 L99.61 185.32 L96.59 185.37 L93.57 185.38 L90.55 185.33 L87.52 185.23 L84.5 185.09 L81.48 184.91 L78.46 184.7 L75.43 184.49 L72.41 184.28 L69.39 184.09 L66.37 183.92 L63.34 183.81 L60.32 183.74 L57.3 183.73 Z" fill="#2fb7a3"/>
<path d="M57.3 168.31 L60.32 168.3 L63.34 168.24 L66.37 168.11 L69.39 167.95 L72.41 167.75 L75.43 167.54 L78.46 167.32 L81.48 167.12 L84.5 166.94 L87.52 166.79 L90.55 166.69 L93.57 166.64 L96.59 166.65 L99.61 166.71 L102.64 166.81 L105.66 166.97 L108.68 167.15 L111.7 167.36 L114.73 167.58 L117.75 167.79 L120.77 167.98 L123.79 168.14 L126.82 168.25 L129.84 168.31 L132.86 168.31 L135.88 168.25 L138.91 168.14 L141.93 167.98 L144.95 167.79 L147.97 167.58 L151 167.36 L154.02 167.15 L157.04 166.97 L160.06 166.81 L163.09 166.71 L166.11 166.65 L169.13 166.64 L172.15 166.69 L175.18 166.79 L178.2 166.94 L181.22 167.12 L184.24 167.32 L187.27 167.54 L190.29 167.75 L193.31 167.95 L196.33 168.11 L199.36 168.24 L202.38 168.3 L205.4 168.31 L205.4 183.49 L202.38 183.5 L199.36 183.56 L196.33 183.69 L193.31 183.85 L190.29 184.05 L187.27 184.26 L184.24 184.48 L181.22 184.68 L178.2 184.86 L175.18 185.01 L172.15 185.11 L169.13 185.16 L166.11 185.15 L163.09 185.09 L160.06 184.99 L157.04 184.83 L154.02 184.65 L151 184.44 L147.97 184.22 L144.95 184.01 L141.93 183.82 L138.91 183.66 L135.88 183.55 L132.86 183.49 L129.84 183.49 L126.82 183.55 L123.79 183.66 L120.77 183.82 L117.75 184.01 L114.73 184.22 L111.7 184.44 L108.68 184.65 L105.66 184.83 L102.64 184.99 L99.61 185.09 L96.59 185.15 L93.57 185.16 L90.55 185.11 L87.52 185.01 L84.5 184.86 L81.48 184.68 L78.46 184.48 L75.43 184.26 L72.41 184.05 L69.39 183.85 L66.37 183.69 L63.34 183.56 L60.32 183.5 L57.3 183.49 Z" fill="#41ba99"/>
<path d="M57.3 168.56 L60.32 168.55 L63.34 168.48 L66.37 168.36 L69.39 168.19 L72.41 167.99 L75.43 167.77 L78.46 167.55 L81.48 167.34 L84.5 167.16 L87.52 167.01 L90.55 166.91 L93.57 166.86 L96.59 166.87 L99.61 166.93 L102.64 167.04 L105.66 167.19 L108.68 167.38 L111.7 167.59 L114.73 167.81 L117.75 168.02 L120.77 168.22 L123.79 168.38 L126.82 168.49 L129.84 168.56 L132.86 168.56 L135.88 168.49 L138.91 168.38 L141.93 168.22 L144.95 168.02 L147.97 167.81 L151 167.59 L154.02 167.38 L157.04 167.19 L160.06 167.04 L163.09 166.93 L166.11 166.87 L169.13 166.86 L172.15 166.91 L175.18 167.01 L178.2 167.16 L181.22 167.34 L184.24 167.55 L187.27 167.77 L190.29 167.99 L193.31 168.19 L196.33 168.36 L199.36 168.48 L202.38 168.55 L205.4 168.56 L205.4 183.24 L202.38 183.25 L199.36 183.32 L196.33 183.44 L193.31 183.61 L190.29 183.81 L187.27 184.03 L184.24 184.25 L181.22 184.46 L178.2 184.64 L175.18 184.79 L172.15 184.89 L169.13 184.94 L166.11 184.93 L163.09 184.87 L160.06 184.76 L157.04 184.61 L154.02 184.42 L151 184.21 L147.97 183.99 L144.95 183.78 L141.93 183.58 L138.91 183.42 L135.88 183.31 L132.86 183.24 L129.84 183.24 L126.82 183.31 L123.79 183.42 L120.77 183.58 L117.75 183.78 L114.73 183.99 L111.7 184.21 L108.68 184.42 L105.66 184.61 L102.64 184.76 L99.61 184.87 L96.59 184.93 L93.57 184.94 L90.55 184.89 L87.52 184.79 L84.5 184.64 L81.48 184.46 L78.46 184.25 L75.43 184.03 L72.41 183.81 L69.39 183.61 L66.37 183.44 L63.34 183.32 L60.32 183.25 L57.3 183.24 Z" fill="#55bd8d"/>
<path d="M57.3 168.81 L60.32 168.8 L63.34 168.73 L66.37 168.6 L69.39 168.43 L72.41 168.22 L75.43 168 L78.46 167.78 L81.48 167.57 L84.5 167.38 L87.52 167.23 L90.55 167.13 L93.57 167.08 L96.59 167.09 L99.61 167.15 L102.64 167.26 L105.66 167.41 L108.68 167.6 L111.7 167.82 L114.73 168.04 L117.75 168.26 L120.77 168.46 L123.79 168.62 L126.82 168.74 L129.84 168.8 L132.86 168.8 L135.88 168.74 L138.91 168.62 L141.93 168.46 L144.95 168.26 L147.97 168.04 L151 167.82 L154.02 167.6 L157.04 167.41 L160.06 167.26 L163.09 167.15 L166.11 167.09 L169.13 167.08 L172.15 167.13 L175.18 167.23 L178.2 167.38 L181.22 167.57 L184.24 167.78 L187.27 168 L190.29 168.22 L193.31 168.43 L196.33 168.6 L199.36 168.73 L202.38 168.8 L205.4 168.81 L205.4 182.99 L202.38 183 L199.36 183.07 L196.33 183.2 L193.31 183.37 L190.29 183.58 L187.27 183.8 L184.24 184.02 L181.22 184.23 L178.2 184.42 L175.18 184.57 L172.15 184.67 L169.13 184.72 L166.11 184.71 L163.09 184.65 L160.06 184.54 L157.04 184.39 L154.02 184.2 L151 183.98 L147.97 183.76 L144.95 183.54 L141.93 183.34 L138.91 183.18 L135.88 183.06 L132.86 183 L129.84 183 L126.82 183.06 L123.79 183.18 L120.77 183.34 L117.75 183.54 L114.73 183.76 L111.7 183.98 L108.68 184.2 L105.66 184.39 L102.64 184.54 L99.61 184.65 L96.59 184.71 L93.57 184.72 L90.55 184.67 L87.52 184.57 L84.5 184.42 L81.48 184.23 L78.46 184.02 L75.43 183.8 L72.41 183.58 L69.39 183.37 L66.37 183.2 L63.34 183.07 L60.32 183 L57.3 182.99 Z" fill="#6bbf83"/>
<path d="M57.3 169.06 L60.32 169.05 L63.34 168.98 L66.37 168.85 L69.39 168.67 L72.41 168.46 L75.43 168.24 L78.46 168.01 L81.48 167.79 L84.5 167.61 L87.52 167.46 L90.55 167.35 L93.57 167.3 L96.59 167.31 L99.61 167.37 L102.64 167.48 L105.66 167.64 L108.68 167.83 L111.7 168.05 L114.73 168.28 L117.75 168.5 L120.77 168.7 L123.79 168.87 L126.82 169 L129.84 169.06 L132.86 169.06 L135.88 169 L138.91 168.87 L141.93 168.7 L144.95 168.5 L147.97 168.28 L151 168.05 L154.02 167.83 L157.04 167.64 L160.06 167.48 L163.09 167.37 L166.11 167.31 L169.13 167.3 L172.15 167.35 L175.18 167.46 L178.2 167.61 L181.22 167.79 L184.24 168.01 L187.27 168.24 L190.29 168.46 L193.31 168.67 L196.33 168.85 L199.36 168.98 L202.38 169.05 L205.4 169.06 L205.4 182.74 L202.38 182.75 L199.36 182.82 L196.33 182.95 L193.31 183.13 L190.29 183.34 L187.27 183.56 L184.24 183.79 L181.22 184.01 L178.2 184.19 L175.18 184.34 L172.15 184.45 L169.13 184.5 L166.11 184.49 L163.09 184.43 L160.06 184.32 L157.04 184.16 L154.02 183.97 L151 183.75 L147.97 183.52 L144.95 183.3 L141.93 183.1 L138.91 182.93 L135.88 182.8 L132.86 182.74 L129.84 182.74 L126.82 182.8 L123.79 182.93 L120.77 183.1 L117.75 183.3 L114.73 183.52 L111.7 183.75 L108.68 183.97 L105.66 184.16 L102.64 184.32 L99.61 184.43 L96.59 184.49 L93.57 184.5 L90.55 184.45 L87.52 184.34 L84.5 184.19 L81.48 184.01 L78.46 183.79 L75.43 183.56 L72.41 183.34 L69.39 183.13 L66.37 182.95 L63.34 182.82 L60.32 182.75 L57.3 182.74 Z" fill="#80bf7a"/>
<path d="M57.3 169.33 L60.32 169.32 L63.34 169.24 L66.37 169.1 L69.39 168.92 L72.41 168.71 L75.43 168.47 L78.46 168.24 L81.48 168.02 L84.5 167.83 L87.52 167.68 L90.55 167.57 L93.57 167.52 L96.59 167.53 L99.61 167.59 L102.64 167.7 L105.66 167.86 L108.68 168.06 L111.7 168.28 L114.73 168.51 L117.75 168.74 L120.77 168.95 L123.79 169.13 L126.82 169.26 L129.84 169.32 L132.86 169.32 L135.88 169.26 L138.91 169.13 L141.93 168.95 L144.95 168.74 L147.97 168.51 L151 168.28 L154.02 168.06 L157.04 167.86 L160.06 167.7 L163.09 167.59 L166.11 167.53 L169.13 167.52 L172.15 167.57 L175.18 167.68 L178.2 167.83 L181.22 168.02 L184.24 168.24 L187.27 168.47 L190.29 168.71 L193.31 168.92 L196.33 169.1 L199.36 169.24 L202.38 169.32 L205.4 169.33 L205.4 182.47 L202.38 182.48 L199.36 182.56 L196.33 182.7 L193.31 182.88 L190.29 183.09 L187.27 183.33 L184.24 183.56 L181.22 183.78 L178.2 183.97 L175.18 184.12 L172.15 184.23 L169.13 184.28 L166.11 184.27 L163.09 184.21 L160.06 184.1 L157.04 183.94 L154.02 183.74 L151 183.52 L147.97 183.29 L144.95 183.06 L141.93 182.85 L138.91 182.67 L135.88 182.54 L132.86 182.48 L129.84 182.48 L126.82 182.54 L123.79 182.67 L120.77 182.85 L117.75 183.06 L114.73 183.29 L111.7 183.52 L108.68 183.74 L105.66 183.94 L102.64 184.1 L99.61 184.21 L96.59 184.27 L93.57 184.28 L90.55 184.23 L87.52 184.12 L84.5 183.97 L81.48 183.78 L78.46 183.56 L75.43 183.33 L72.41 183.09 L69.39 182.88 L66.37 182.7 L63.34 182.56 L60.32 182.48 L57.3 182.47 Z" fill="#93bf72"/>
<path d="M57.3 169.6 L60.32 169.59 L63.34 169.51 L66.37 169.37 L69.39 169.18 L72.41 168.96 L75.43 168.72 L78.46 168.48 L81.48 168.26 L84.5 168.06 L87.52 167.9 L90.55 167.8 L93.57 167.74 L96.59 167.75 L99.61 167.81 L102.64 167.93 L105.66 168.09 L108.68 168.29 L111.7 168.52 L114.73 168.76 L117.75 169 L120.77 169.21 L123.79 169.4 L126.82 169.53 L129.84 169.6 L132.86 169.6 L135.88 169.53 L138.91 169.4 L141.93 169.21 L144.95 169 L147.97 168.76 L151 168.52 L154.02 168.29 L157.04 168.09 L160.06 167.93 L163.09 167.81 L166.11 167.75 L169.13 167.74 L172.15 167.8 L175.18 167.9 L178.2 168.06 L181.22 168.26 L184.24 168.48 L187.27 168.72 L190.29 168.96 L193.31 169.18 L196.33 169.37 L199.36 169.51 L202.38 169.59 L205.4 169.6 L205.4 182.2 L202.38 182.21 L199.36 182.29 L196.33 182.43 L193.31 182.62 L190.29 182.84 L187.27 183.08 L184.24 183.32 L181.22 183.54 L178.2 183.74 L175.18 183.9 L172.15 184 L169.13 184.06 L166.11 184.05 L163.09 183.99 L160.06 183.87 L157.04 183.71 L154.02 183.51 L151 183.28 L147.97 183.04 L144.95 182.8 L141.93 182.59 L138.91 182.4 L135.88 182.27 L132.86 182.2 L129.84 182.2 L126.82 182.27 L123.79 182.4 L120.77 182.59 L117.75 182.8 L114.73 183.04 L111.7 183.28 L108.68 183.51 L105.66 183.71 L102.64 183.87 L99.61 183.99 L96.59 184.05 L93.57 184.06 L90.55 184 L87.52 183.9 L84.5 183.74 L81.48 183.54 L78.46 183.32 L75.43 183.08 L72.41 182.84 L69.39 182.62 L66.37 182.43 L63.34 182.29 L60.32 182.21 L57.3 182.2 Z" fill="#a5be6b"/>
<path d="M57.3 169.89 L60.32 169.88 L63.34 169.79 L66.37 169.64 L69.39 169.45 L72.41 169.22 L75.43 168.97 L78.46 168.72 L81.48 168.49 L84.5 168.29 L87.52 168.13 L90.55 168.02 L93.57 167.97 L96.59 167.98 L99.61 168.04 L102.64 168.16 L105.66 168.32 L108.68 168.53 L111.7 168.76 L114.73 169.01 L117.75 169.26 L120.77 169.48 L123.79 169.67 L126.82 169.81 L129.84 169.88 L132.86 169.88 L135.88 169.81 L138.91 169.67 L141.93 169.48 L144.95 169.26 L147.97 169.01 L151 168.76 L154.02 168.53 L157.04 168.32 L160.06 168.16 L163.09 168.04 L166.11 167.98 L169.13 167.97 L172.15 168.02 L175.18 168.13 L178.2 168.29 L181.22 168.49 L184.24 168.72 L187.27 168.97 L190.29 169.22 L193.31 169.45 L196.33 169.64 L199.36 169.79 L202.38 169.88 L205.4 169.89 L205.4 181.91 L202.38 181.92 L199.36 182.01 L196.33 182.16 L193.31 182.35 L190.29 182.58 L187.27 182.83 L184.24 183.08 L181.22 183.31 L178.2 183.51 L175.18 183.67 L172.15 183.78 L169.13 183.83 L166.11 183.82 L163.09 183.76 L160.06 183.64 L157.04 183.48 L154.02 183.27 L151 183.04 L147.97 182.79 L144.95 182.54 L141.93 182.32 L138.91 182.13 L135.88 181.99 L132.86 181.92 L129.84 181.92 L126.82 181.99 L123.79 182.13 L120.77 182.32 L117.75 182.54 L114.73 182.79 L111.7 183.04 L108.68 183.27 L105.66 183.48 L102.64 183.64 L99.61 183.76 L96.59 183.82 L93.57 183.83 L90.55 183.78 L87.52 183.67 L84.5 183.51 L81.48 183.31 L78.46 183.08 L75.43 182.83 L72.41 182.58 L69.39 182.35 L66.37 182.16 L63.34 182.01 L60.32 181.92 L57.3 181.91 Z" fill="#b6bd64"/>
<path d="M57.3 170.19 L60.32 170.18 L63.34 170.09 L66.37 169.93 L69.39 169.73 L72.41 169.48 L75.43 169.23 L78.46 168.97 L81.48 168.74 L84.5 168.53 L87.52 168.37 L90.55 168.25 L93.57 168.2 L96.59 168.2 L99.61 168.27 L102.64 168.39 L105.66 168.56 L108.68 168.77 L111.7 169.01 L114.73 169.27 L117.75 169.53 L120.77 169.76 L123.79 169.96 L126.82 170.11 L129.84 170.19 L132.86 170.19 L135.88 170.11 L138.91 169.96 L141.93 169.76 L144.95 169.53 L147.97 169.27 L151 169.01 L154.02 168.77 L157.04 168.56 L160.06 168.39 L163.09 168.27 L166.11 168.2 L169.13 168.2 L172.15 168.25 L175.18 168.37 L178.2 168.53 L181.22 168.74 L184.24 168.97 L187.27 169.23 L190.29 169.48 L193.31 169.73 L196.33 169.93 L199.36 170.09 L202.38 170.18 L205.4 170.19 L205.4 181.61 L202.38 181.62 L199.36 181.71 L196.33 181.87 L193.31 182.07 L190.29 182.32 L187.27 182.57 L184.24 182.83 L181.22 183.06 L178.2 183.27 L175.18 183.43 L172.15 183.55 L169.13 183.6 L166.11 183.6 L163.09 183.53 L160.06 183.41 L157.04 183.24 L154.02 183.03 L151 182.79 L147.97 182.53 L144.95 182.27 L141.93 182.04 L138.91 181.84 L135.88 181.69 L132.86 181.61 L129.84 181.61 L126.82 181.69 L123.79 181.84 L120.77 182.04 L117.75 182.27 L114.73 182.53 L111.7 182.79 L108.68 183.03 L105.66 183.24 L102.64 183.41 L99.61 183.53 L96.59 183.6 L93.57 183.6 L90.55 183.55 L87.52 183.43 L84.5 183.27 L81.48 183.06 L78.46 182.83 L75.43 182.57 L72.41 182.32 L69.39 182.07 L66.37 181.87 L63.34 181.71 L60.32 181.62 L57.3 181.61 Z" fill="#c6bc5e"/>
<path d="M57.3 170.52 L60.32 170.51 L63.34 170.41 L66.37 170.24 L69.39 170.02 L72.41 169.77 L75.43 169.5 L78.46 169.23 L81.48 168.99 L84.5 168.77 L87.52 168.61 L90.55 168.49 L93.57 168.43 L96.59 168.44 L99.61 168.51 L102.64 168.63 L105.66 168.81 L108.68 169.03 L111.7 169.28 L114.73 169.54 L117.75 169.81 L120.77 170.06 L123.79 170.28 L126.82 170.43 L129.84 170.52 L132.86 170.52 L135.88 170.43 L138.91 170.28 L141.93 170.06 L144.95 169.81 L147.97 169.54 L151 169.28 L154.02 169.03 L157.04 168.81 L160.06 168.63 L163.09 168.51 L166.11 168.44 L169.13 168.43 L172.15 168.49 L175.18 168.61 L178.2 168.77 L181.22 168.99 L184.24 169.23 L187.27 169.5 L190.29 169.77 L193.31 170.02 L196.33 170.24 L199.36 170.41 L202.38 170.51 L205.4 170.52 L205.4 181.28 L202.38 181.29 L199.36 181.39 L196.33 181.56 L193.31 181.78 L190.29 182.03 L187.27 182.3 L184.24 182.57 L181.22 182.81 L178.2 183.03 L175.18 183.19 L172.15 183.31 L169.13 183.37 L166.11 183.36 L163.09 183.29 L160.06 183.17 L157.04 182.99 L154.02 182.77 L151 182.52 L147.97 182.26 L144.95 181.99 L141.93 181.74 L138.91 181.52 L135.88 181.37 L132.86 181.28 L129.84 181.28 L126.82 181.37 L123.79 181.52 L120.77 181.74 L117.75 181.99 L114.73 182.26 L111.7 182.52 L108.68 182.77 L105.66 182.99 L102.64 183.17 L99.61 183.29 L96.59 183.36 L93.57 183.37 L90.55 183.31 L87.52 183.19 L84.5 183.03 L81.48 182.81 L78.46 182.57 L75.43 182.3 L72.41 182.03 L69.39 181.78 L66.37 181.56 L63.34 181.39 L60.32 181.29 L57.3 181.28 Z" fill="#d5ba57"/>
<path d="M57.3 170.89 L60.32 170.87 L63.34 170.76 L66.37 170.58 L69.39 170.34 L72.41 170.07 L75.43 169.78 L78.46 169.5 L81.48 169.25 L84.5 169.03 L87.52 168.85 L90.55 168.73 L93.57 168.68 L96.59 168.68 L99.61 168.75 L102.64 168.88 L105.66 169.06 L108.68 169.29 L111.7 169.55 L114.73 169.83 L117.75 170.12 L120.77 170.38 L123.79 170.62 L126.82 170.79 L129.84 170.88 L132.86 170.88 L135.88 170.79 L138.91 170.62 L141.93 170.38 L144.95 170.12 L147.97 169.83 L151 169.55 L154.02 169.29 L157.04 169.06 L160.06 168.88 L163.09 168.75 L166.11 168.68 L169.13 168.68 L172.15 168.73 L175.18 168.85 L178.2 169.03 L181.22 169.25 L184.24 169.5 L187.27 169.78 L190.29 170.07 L193.31 170.34 L196.33 170.58 L199.36 170.76 L202.38 170.87 L205.4 170.89 L205.4 180.91 L202.38 180.93 L199.36 181.04 L196.33 181.22 L193.31 181.46 L190.29 181.73 L187.27 182.02 L184.24 182.3 L181.22 182.55 L178.2 182.77 L175.18 182.95 L172.15 183.07 L169.13 183.12 L166.11 183.12 L163.09 183.05 L160.06 182.92 L157.04 182.74 L154.02 182.51 L151 182.25 L147.97 181.97 L144.95 181.68 L141.93 181.42 L138.91 181.18 L135.88 181.01 L132.86 180.92 L129.84 180.92 L126.82 181.01 L123.79 181.18 L120.77 181.42 L117.75 181.68 L114.73 181.97 L111.7 182.25 L108.68 182.51 L105.66 182.74 L102.64 182.92 L99.61 183.05 L96.59 183.12 L93.57 183.12 L90.55 183.07 L87.52 182.95 L84.5 182.77 L81.48 182.55 L78.46 182.3 L75.43 182.02 L72.41 181.73 L69.39 181.46 L66.37 181.22 L63.34 181.04 L60.32 180.93 L57.3 180.91 Z" fill="#e4b951"/>
<path d="M57.3 171.3 L60.32 171.28 L63.34 171.16 L66.37 170.95 L69.39 170.69 L72.41 170.39 L75.43 170.09 L78.46 169.79 L81.48 169.52 L84.5 169.29 L87.52 169.11 L90.55 168.99 L93.57 168.93 L96.59 168.93 L99.61 169 L102.64 169.14 L105.66 169.33 L108.68 169.56 L111.7 169.84 L114.73 170.14 L117.75 170.44 L120.77 170.74 L123.79 170.99 L126.82 171.19 L129.84 171.29 L132.86 171.29 L135.88 171.19 L138.91 170.99 L141.93 170.74 L144.95 170.44 L147.97 170.14 L151 169.84 L154.02 169.56 L157.04 169.33 L160.06 169.14 L163.09 169 L166.11 168.93 L169.13 168.93 L172.15 168.99 L175.18 169.11 L178.2 169.29 L181.22 169.52 L184.24 169.79 L187.27 170.09 L190.29 170.39 L193.31 170.69 L196.33 170.95 L199.36 171.16 L202.38 171.28 L205.4 171.3 L205.4 180.5 L202.38 180.52 L199.36 180.64 L196.33 180.85 L193.31 181.11 L190.29 181.41 L187.27 181.71 L184.24 182.01 L181.22 182.28 L178.2 182.51 L175.18 182.69 L172.15 182.81 L169.13 182.87 L166.11 182.87 L163.09 182.8 L160.06 182.66 L157.04 182.47 L154.02 182.24 L151 181.96 L147.97 181.66 L144.95 181.36 L141.93 181.06 L138.91 180.81 L135.88 180.61 L132.86 180.51 L129.84 180.51 L126.82 180.61 L123.79 180.81 L120.77 181.06 L117.75 181.36 L114.73 181.66 L111.7 181.96 L108.68 182.24 L105.66 182.47 L102.64 182.66 L99.61 182.8 L96.59 182.87 L93.57 182.87 L90.55 182.81 L87.52 182.69 L84.5 182.51 L81.48 182.28 L78.46 182.01 L75.43 181.71 L72.41 181.41 L69.39 181.11 L66.37 180.85 L63.34 180.64 L60.32 180.52 L57.3 180.5 Z" fill="#f2b949"/>
<path d="M57.3 171.79 L60.32 171.76 L63.34 171.62 L66.37 171.38 L69.39 171.08 L72.41 170.75 L75.43 170.41 L78.46 170.1 L81.48 169.81 L84.5 169.57 L87.52 169.38 L90.55 169.25 L93.57 169.19 L96.59 169.19 L99.61 169.27 L102.64 169.4 L105.66 169.6 L108.68 169.85 L111.7 170.15 L114.73 170.47 L117.75 170.8 L120.77 171.13 L123.79 171.42 L126.82 171.65 L129.84 171.78 L132.86 171.78 L135.88 171.65 L138.91 171.42 L141.93 171.13 L144.95 170.8 L147.97 170.47 L151 170.15 L154.02 169.85 L157.04 169.6 L160.06 169.4 L163.09 169.27 L166.11 169.19 L169.13 169.19 L172.15 169.25 L175.18 169.38 L178.2 169.57 L181.22 169.81 L184.24 170.1 L187.27 170.41 L190.29 170.75 L193.31 171.08 L196.33 171.38 L199.36 171.62 L202.38 171.76 L205.4 171.79 L205.4 180.01 L202.38 180.04 L199.36 180.18 L196.33 180.42 L193.31 180.72 L190.29 181.05 L187.27 181.39 L184.24 181.7 L181.22 181.99 L178.2 182.23 L175.18 182.42 L172.15 182.55 L169.13 182.61 L166.11 182.61 L163.09 182.53 L160.06 182.4 L157.04 182.2 L154.02 181.95 L151 181.65 L147.97 181.33 L144.95 181 L141.93 180.67 L138.91 180.38 L135.88 180.15 L132.86 180.02 L129.84 180.02 L126.82 180.15 L123.79 180.38 L120.77 180.67 L117.75 181 L114.73 181.33 L111.7 181.65 L108.68 181.95 L105.66 182.2 L102.64 182.4 L99.61 182.53 L96.59 182.61 L93.57 182.61 L90.55 182.55 L87.52 182.42 L84.5 182.23 L81.48 181.99 L78.46 181.7 L75.43 181.39 L72.41 181.05 L69.39 180.72 L66.37 180.42 L63.34 180.18 L60.32 180.04 L57.3 180.01 Z" fill="#fdbe3e"/>
<path d="M57.3 172.41 L60.32 172.38 L63.34 172.19 L66.37 171.89 L69.39 171.53 L72.41 171.15 L75.43 170.77 L78.46 170.43 L81.48 170.12 L84.5 169.86 L87.52 169.66 L90.55 169.52 L93.57 169.46 L96.59 169.46 L99.61 169.54 L102.64 169.69 L105.66 169.9 L108.68 170.17 L111.7 170.48 L114.73 170.84 L117.75 171.21 L120.77 171.59 L123.79 171.95 L126.82 172.23 L129.84 172.4 L132.86 172.4 L135.88 172.23 L138.91 171.95 L141.93 171.59 L144.95 171.21 L147.97 170.84 L151 170.48 L154.02 170.17 L157.04 169.9 L160.06 169.69 L163.09 169.54 L166.11 169.46 L169.13 169.46 L172.15 169.52 L175.18 169.66 L178.2 169.86 L181.22 170.12 L184.24 170.43 L187.27 170.77 L190.29 171.15 L193.31 171.53 L196.33 171.89 L199.36 172.19 L202.38 172.38 L205.4 172.41 L205.4 179.39 L202.38 179.42 L199.36 179.61 L196.33 179.91 L193.31 180.27 L190.29 180.65 L187.27 181.03 L184.24 181.37 L181.22 181.68 L178.2 181.94 L175.18 182.14 L172.15 182.28 L169.13 182.34 L166.11 182.34 L163.09 182.26 L160.06 182.11 L157.04 181.9 L154.02 181.63 L151 181.32 L147.97 180.96 L144.95 180.59 L141.93 180.21 L138.91 179.85 L135.88 179.57 L132.86 179.4 L129.84 179.4 L126.82 179.57 L123.79 179.85 L120.77 180.21 L117.75 180.59 L114.73 180.96 L111.7 181.32 L108.68 181.63 L105.66 181.9 L102.64 182.11 L99.61 182.26 L96.59 182.34 L93.57 182.34 L90.55 182.28 L87.52 182.14 L84.5 181.94 L81.48 181.68 L78.46 181.37 L75.43 181.03 L72.41 180.65 L69.39 180.27 L66.37 179.91 L63.34 179.61 L60.32 179.42 L57.3 179.39 Z" fill="#fec733"/>
<path d="M57.3 173.41 L60.32 173.35 L63.34 173.02 L66.37 172.57 L69.39 172.08 L72.41 171.62 L75.43 171.18 L78.46 170.79 L81.48 170.45 L84.5 170.17 L87.52 169.96 L90.55 169.82 L93.57 169.75 L96.59 169.75 L99.61 169.84 L102.64 169.99 L105.66 170.22 L108.68 170.51 L111.7 170.85 L114.73 171.25 L117.75 171.69 L120.77 172.17 L123.79 172.65 L126.82 173.09 L129.84 173.38 L132.86 173.38 L135.88 173.09 L138.91 172.65 L141.93 172.17 L144.95 171.69 L147.97 171.25 L151 170.85 L154.02 170.51 L157.04 170.22 L160.06 169.99 L163.09 169.84 L166.11 169.75 L169.13 169.75 L172.15 169.82 L175.18 169.96 L178.2 170.17 L181.22 170.45 L184.24 170.79 L187.27 171.18 L190.29 171.62 L193.31 172.08 L196.33 172.57 L199.36 173.02 L202.38 173.35 L205.4 173.41 L205.4 178.39 L202.38 178.45 L199.36 178.78 L196.33 179.23 L193.31 179.72 L190.29 180.18 L187.27 180.62 L184.24 181.01 L181.22 181.35 L178.2 181.63 L175.18 181.84 L172.15 181.98 L169.13 182.05 L166.11 182.05 L163.09 181.96 L160.06 181.81 L157.04 181.58 L154.02 181.29 L151 180.95 L147.97 180.55 L144.95 180.11 L141.93 179.63 L138.91 179.15 L135.88 178.71 L132.86 178.42 L129.84 178.42 L126.82 178.71 L123.79 179.15 L120.77 179.63 L117.75 180.11 L114.73 180.55 L111.7 180.95 L108.68 181.29 L105.66 181.58 L102.64 181.81 L99.61 181.96 L96.59 182.05 L93.57 182.05 L90.55 181.98 L87.52 181.84 L84.5 181.63 L81.48 181.35 L78.46 181.01 L75.43 180.62 L72.41 180.18 L69.39 179.72 L66.37 179.23 L63.34 178.78 L60.32 178.45 L57.3 178.39 Z" fill="#fbd12b"/>
<path d="M57.3 175.9 L60.32 175.9 L63.34 175.9 L66.37 173.76 L69.39 172.86 L72.41 172.21 L75.43 171.66 L78.46 171.21 L81.48 170.83 L84.5 170.52 L87.52 170.29 L90.55 170.13 L93.57 170.06 L96.59 170.06 L99.61 170.15 L102.64 170.32 L105.66 170.57 L108.68 170.89 L111.7 171.28 L114.73 171.75 L117.75 172.31 L120.77 172.99 L123.79 173.97 L126.82 175.9 L129.84 175.9 L132.86 175.9 L135.88 175.9 L138.91 173.97 L141.93 172.99 L144.95 172.31 L147.97 171.75 L151 171.28 L154.02 170.89 L157.04 170.57 L160.06 170.32 L163.09 170.15 L166.11 170.06 L169.13 170.06 L172.15 170.13 L175.18 170.29 L178.2 170.52 L181.22 170.83 L184.24 171.21 L187.27 171.66 L190.29 172.21 L193.31 172.86 L196.33 173.76 L199.36 175.9 L202.38 175.9 L205.4 175.9 L205.4 175.9 L202.38 175.9 L199.36 175.9 L196.33 178.04 L193.31 178.94 L190.29 179.59 L187.27 180.14 L184.24 180.59 L181.22 180.97 L178.2 181.28 L175.18 181.51 L172.15 181.67 L169.13 181.74 L166.11 181.74 L163.09 181.65 L160.06 181.48 L157.04 181.23 L154.02 180.91 L151 180.52 L147.97 180.05 L144.95 179.49 L141.93 178.81 L138.91 177.83 L135.88 175.9 L132.86 175.9 L129.84 175.9 L126.82 175.9 L123.79 177.83 L120.77 178.81 L117.75 179.49 L114.73 180.05 L111.7 180.52 L108.68 180.91 L105.66 181.23 L102.64 181.48 L99.61 181.65 L96.59 181.74 L93.57 181.74 L90.55 181.67 L87.52 181.51 L84.5 181.28 L81.48 180.97 L78.46 180.59 L75.43 180.14 L72.41 179.59 L69.39 178.94 L66.37 178.04 L63.34 175.9 L60.32 175.9 L57.3 175.9 Z" fill="#f6db24"/>
<path d="M57.3 175.9 L60.32 175.9 L63.34 175.9 L66.37 175.9 L69.39 175.44 L72.41 173.07 L75.43 172.28 L78.46 171.7 L81.48 171.25 L84.5 170.9 L87.52 170.64 L90.55 170.47 L93.57 170.39 L96.59 170.4 L99.61 170.5 L102.64 170.68 L105.66 170.96 L108.68 171.32 L111.7 171.79 L114.73 172.39 L117.75 173.25 L120.77 175.9 L123.79 175.9 L126.82 175.9 L129.84 175.9 L132.86 175.9 L135.88 175.9 L138.91 175.9 L141.93 175.9 L144.95 173.25 L147.97 172.39 L151 171.79 L154.02 171.32 L157.04 170.96 L160.06 170.68 L163.09 170.5 L166.11 170.4 L169.13 170.39 L172.15 170.47 L175.18 170.64 L178.2 170.9 L181.22 171.25 L184.24 171.7 L187.27 172.28 L190.29 173.07 L193.31 175.44 L196.33 175.9 L199.36 175.9 L202.38 175.9 L205.4 175.9 L205.4 175.9 L202.38 175.9 L199.36 175.9 L196.33 175.9 L193.31 176.36 L190.29 178.73 L187.27 179.52 L184.24 180.1 L181.22 180.55 L178.2 180.9 L175.18 181.16 L172.15 181.33 L169.13 181.41 L166.11 181.4 L163.09 181.3 L160.06 181.12 L157.04 180.84 L154.02 180.48 L151 180.01 L147.97 179.41 L144.95 178.55 L141.93 175.9 L138.91 175.9 L135.88 175.9 L132.86 175.9 L129.84 175.9 L126.82 175.9 L123.79 175.9 L120.77 175.9 L117.75 178.55 L114.73 179.41 L111.7 180.01 L108.68 180.48 L105.66 180.84 L102.64 181.12 L99.61 181.3 L96.59 181.4 L93.57 181.41 L90.55 181.33 L87.52 181.16 L84.5 180.9 L81.48 180.55 L78.46 180.1 L75.43 179.52 L72.41 178.73 L69.39 176.36 L66.37 175.9 L63.34 175.9 L60.32 175.9 L57.3 175.9 Z" fill="#f5e61c"/>
<path d="M57.3 175.9 L60.32 175.9 L63.34 175.9 L66.37 175.9 L69.39 175.9 L72.41 175.9 L75.43 173.22 L78.46 172.34 L81.48 171.76 L84.5 171.35 L87.52 171.05 L90.55 170.86 L93.57 170.77 L96.59 170.78 L99.61 170.88 L102.64 171.09 L105.66 171.41 L108.68 171.85 L111.7 172.46 L114.73 173.44 L117.75 175.9 L120.77 175.9 L123.79 175.9 L126.82 175.9 L129.84 175.9 L132.86 175.9 L135.88 175.9 L138.91 175.9 L141.93 175.9 L144.95 175.9 L147.97 173.44 L151 172.46 L154.02 171.85 L157.04 171.41 L160.06 171.09 L163.09 170.88 L166.11 170.78 L169.13 170.77 L172.15 170.86 L175.18 171.05 L178.2 171.35 L181.22 171.76 L184.24 172.34 L187.27 173.22 L190.29 175.9 L193.31 175.9 L196.33 175.9 L199.36 175.9 L202.38 175.9 L205.4 175.9 L205.4 175.9 L202.38 175.9 L199.36 175.9 L196.33 175.9 L193.31 175.9 L190.29 175.9 L187.27 178.58 L184.24 179.46 L181.22 180.04 L178.2 180.45 L175.18 180.75 L172.15 180.94 L169.13 181.03 L166.11 181.02 L163.09 180.92 L160.06 180.71 L157.04 180.39 L154.02 179.95 L151 179.34 L147.97 178.36 L144.95 175.9 L141.93 175.9 L138.91 175.9 L135.88 175.9 L132.86 175.9 L129.84 175.9 L126.82 175.9 L123.79 175.9 L120.77 175.9 L117.75 175.9 L114.73 178.36 L111.7 179.34 L108.68 179.95 L105.66 180.39 L102.64 180.71 L99.61 180.92 L96.59 181.02 L93.57 181.03 L90.55 180.94 L87.52 180.75 L84.5 180.45 L81.48 180.04 L78.46 179.46 L75.43 178.58 L72.41 175.9 L69.39 175.9 L66.37 175.9 L63.34 175.9 L60.32 175.9 L57.3 175.9 Z" fill="#f7f313"/>
<path d="M57.3 238.1 L60.32 238.09 L63.34 238.04 L66.37 237.94 L69.39 237.8 L72.41 237.64 L75.43 237.47 L78.46 237.29 L81.48 237.11 L84.5 236.96 L87.52 236.83 L90.55 236.75 L93.57 236.7 L96.59 236.71 L99.61 236.76 L102.64 236.85 L105.66 236.98 L108.68 237.14 L111.7 237.32 L114.73 237.5 L117.75 237.67 L120.77 237.83 L123.79 237.96 L126.82 238.05 L129.84 238.09 L132.86 238.09 L135.88 238.05 L138.91 237.96 L141.93 237.83 L144.95 237.67 L147.97 237.5 L151 237.32 L154.02 237.14 L157.04 236.98 L160.06 236.85 L163.09 236.76 L166.11 236.71 L169.13 236.7 L172.15 236.75 L175.18 236.83 L178.2 236.96 L181.22 237.11 L184.24 237.29 L187.27 237.47 L190.29 237.64 L193.31 237.8 L196.33 237.94 L199.36 238.04 L202.38 238.09 L205.4 238.1 L205.4 263.7 L202.38 263.71 L199.36 263.76 L196.33 263.86 L193.31 264 L190.29 264.16 L187.27 264.33 L184.24 264.51 L181.22 264.69 L178.2 264.84 L175.18 264.97 L172.15 265.05 L169.13 265.1 L166.11 265.09 L163.09 265.04 L160.06 264.95 L157.04 264.82 L154.02 264.66 L151 264.48 L147.97 264.3 L144.95 264.13 L141.93 263.97 L138.91 263.84 L135.88 263.75 L132.86 263.71 L129.84 263.71 L126.82 263.75 L123.79 263.84 L120.77 263.97 L117.75 264.13 L114.73 264.3 L111.7 264.48 L108.68 264.66 L105.66 264.82 L102.64 264.95 L99.61 265.04 L96.59 265.09 L93.57 265.1 L90.55 265.05 L87.52 264.97 L84.5 264.84 L81.48 264.69 L78.46 264.51 L75.43 264.33 L72.41 264.16 L69.39 264 L66.37 263.86 L63.34 263.76 L60.32 263.71 L57.3 263.7 Z" fill="#36369e"/>
<path d="M57.3 239.32 L60.32 239.31 L63.34 239.26 L66.37 239.17 L69.39 239.05 L72.41 238.9 L75.43 238.73 L78.46 238.56 L81.48 238.4 L84.5 238.26 L87.52 238.14 L90.55 238.06 L93.57 238.02 L96.59 238.02 L99.61 238.07 L102.64 238.16 L105.66 238.28 L108.68 238.43 L111.7 238.59 L114.73 238.76 L117.75 238.92 L120.77 239.07 L123.79 239.19 L126.82 239.27 L129.84 239.32 L132.86 239.32 L135.88 239.27 L138.91 239.19 L141.93 239.07 L144.95 238.92 L147.97 238.76 L151 238.59 L154.02 238.43 L157.04 238.28 L160.06 238.16 L163.09 238.07 L166.11 238.02 L169.13 238.02 L172.15 238.06 L175.18 238.14 L178.2 238.26 L181.22 238.4 L184.24 238.56 L187.27 238.73 L190.29 238.9 L193.31 239.05 L196.33 239.17 L199.36 239.26 L202.38 239.31 L205.4 239.32 L205.4 262.48 L202.38 262.49 L199.36 262.54 L196.33 262.63 L193.31 262.75 L190.29 262.9 L187.27 263.07 L184.24 263.24 L181.22 263.4 L178.2 263.54 L175.18 263.66 L172.15 263.74 L169.13 263.78 L166.11 263.78 L163.09 263.73 L160.06 263.64 L157.04 263.52 L154.02 263.37 L151 263.21 L147.97 263.04 L144.95 262.88 L141.93 262.73 L138.91 262.61 L135.88 262.53 L132.86 262.48 L129.84 262.48 L126.82 262.53 L123.79 262.61 L120.77 262.73 L117.75 262.88 L114.73 263.04 L111.7 263.21 L108.68 263.37 L105.66 263.52 L102.64 263.64 L99.61 263.73 L96.59 263.78 L93.57 263.78 L90.55 263.74 L87.52 263.66 L84.5 263.54 L81.48 263.4 L78.46 263.24 L75.43 263.07 L72.41 262.9 L69.39 262.75 L66.37 262.63 L63.34 262.54 L60.32 262.49 L57.3 262.48 Z" fill="#3341b6"/>
<path d="M57.3 240 L60.32 239.99 L63.34 239.95 L66.37 239.86 L69.39 239.74 L72.41 239.59 L75.43 239.43 L78.46 239.27 L81.48 239.11 L84.5 238.98 L87.52 238.86 L90.55 238.79 L93.57 238.75 L96.59 238.75 L99.61 238.8 L102.64 238.88 L105.66 239 L108.68 239.14 L111.7 239.3 L114.73 239.46 L117.75 239.62 L120.77 239.76 L123.79 239.88 L126.82 239.96 L129.84 240 L132.86 240 L135.88 239.96 L138.91 239.88 L141.93 239.76 L144.95 239.62 L147.97 239.46 L151 239.3 L154.02 239.14 L157.04 239 L160.06 238.88 L163.09 238.8 L166.11 238.75 L169.13 238.75 L172.15 238.79 L175.18 238.86 L178.2 238.98 L181.22 239.11 L184.24 239.27 L187.27 239.43 L190.29 239.59 L193.31 239.74 L196.33 239.86 L199.36 239.95 L202.38 239.99 L205.4 240 L205.4 261.8 L202.38 261.81 L199.36 261.85 L196.33 261.94 L193.31 262.06 L190.29 262.21 L187.27 262.37 L184.24 262.53 L181.22 262.69 L178.2 262.82 L175.18 262.94 L172.15 263.01 L169.13 263.05 L166.11 263.05 L163.09 263 L160.06 262.92 L157.04 262.8 L154.02 262.66 L151 262.5 L147.97 262.34 L144.95 262.18 L141.93 262.04 L138.91 261.92 L135.88 261.84 L132.86 261.8 L129.84 261.8 L126.82 261.84 L123.79 261.92 L120.77 262.04 L117.75 262.18 L114.73 262.34 L111.7 262.5 L108.68 262.66 L105.66 262.8 L102.64 262.92 L99.61 263 L96.59 263.05 L93.57 263.05 L90.55 263.01 L87.52 262.94 L84.5 262.82 L81.48 262.69 L78.46 262.53 L75.43 262.37 L72.41 262.21 L69.39 262.06 L66.37 261.94 L63.34 261.85 L60.32 261.81 L57.3 261.8 Z" fill="#264fcd"/>
<path d="M57.3 240.51 L60.32 240.5 L63.34 240.45 L66.37 240.37 L69.39 240.25 L72.41 240.11 L75.43 239.95 L78.46 239.8 L81.48 239.64 L84.5 239.51 L87.52 239.4 L90.55 239.32 L93.57 239.28 L96.59 239.29 L99.61 239.33 L102.64 239.41 L105.66 239.53 L108.68 239.67 L111.7 239.82 L114.73 239.98 L117.75 240.13 L120.77 240.27 L123.79 240.38 L126.82 240.46 L129.84 240.5 L132.86 240.5 L135.88 240.46 L138.91 240.38 L141.93 240.27 L144.95 240.13 L147.97 239.98 L151 239.82 L154.02 239.67 L157.04 239.53 L160.06 239.41 L163.09 239.33 L166.11 239.29 L169.13 239.28 L172.15 239.32 L175.18 239.4 L178.2 239.51 L181.22 239.64 L184.24 239.8 L187.27 239.95 L190.29 240.11 L193.31 240.25 L196.33 240.37 L199.36 240.45 L202.38 240.5 L205.4 240.51 L205.4 261.29 L202.38 261.3 L199.36 261.35 L196.33 261.43 L193.31 261.55 L190.29 261.69 L187.27 261.85 L184.24 262 L181.22 262.16 L178.2 262.29 L175.18 262.4 L172.15 262.48 L169.13 262.52 L166.11 262.51 L163.09 262.47 L160.06 262.39 L157.04 262.27 L154.02 262.13 L151 261.98 L147.97 261.82 L144.95 261.67 L141.93 261.53 L138.91 261.42 L135.88 261.34 L132.86 261.3 L129.84 261.3 L126.82 261.34 L123.79 261.42 L120.77 261.53 L117.75 261.67 L114.73 261.82 L111.7 261.98 L108.68 262.13 L105.66 262.27 L102.64 262.39 L99.61 262.47 L96.59 262.51 L93.57 262.52 L90.55 262.48 L87.52 262.4 L84.5 262.29 L81.48 262.16 L78.46 262 L75.43 261.85 L72.41 261.69 L69.39 261.55 L66.37 261.43 L63.34 261.35 L60.32 261.3 L57.3 261.29 Z" fill="#0b5edf"/>
<path d="M57.3 240.92 L60.32 240.91 L63.34 240.87 L66.37 240.78 L69.39 240.67 L72.41 240.53 L75.43 240.38 L78.46 240.22 L81.48 240.08 L84.5 239.94 L87.52 239.84 L90.55 239.76 L93.57 239.72 L96.59 239.73 L99.61 239.77 L102.64 239.85 L105.66 239.96 L108.68 240.1 L111.7 240.25 L114.73 240.41 L117.75 240.56 L120.77 240.69 L123.79 240.8 L126.82 240.88 L129.84 240.92 L132.86 240.92 L135.88 240.88 L138.91 240.8 L141.93 240.69 L144.95 240.56 L147.97 240.41 L151 240.25 L154.02 240.1 L157.04 239.96 L160.06 239.85 L163.09 239.77 L166.11 239.73 L169.13 239.72 L172.15 239.76 L175.18 239.84 L178.2 239.94 L181.22 240.08 L184.24 240.22 L187.27 240.38 L190.29 240.53 L193.31 240.67 L196.33 240.78 L199.36 240.87 L202.38 240.91 L205.4 240.92 L205.4 260.88 L202.38 260.89 L199.36 260.93 L196.33 261.02 L193.31 261.13 L190.29 261.27 L187.27 261.42 L184.24 261.58 L181.22 261.72 L178.2 261.86 L175.18 261.96 L172.15 262.04 L169.13 262.08 L166.11 262.07 L163.09 262.03 L160.06 261.95 L157.04 261.84 L154.02 261.7 L151 261.55 L147.97 261.39 L144.95 261.24 L141.93 261.11 L138.91 261 L135.88 260.92 L132.86 260.88 L129.84 260.88 L126.82 260.92 L123.79 261 L120.77 261.11 L117.75 261.24 L114.73 261.39 L111.7 261.55 L108.68 261.7 L105.66 261.84 L102.64 261.95 L99.61 262.03 L96.59 262.07 L93.57 262.08 L90.55 262.04 L87.52 261.96 L84.5 261.86 L81.48 261.72 L78.46 261.58 L75.43 261.42 L72.41 261.27 L69.39 261.13 L66.37 261.02 L63.34 260.93 L60.32 260.89 L57.3 260.88 Z" fill="#0269e1"/>
<path d="M57.3 241.28 L60.32 241.27 L63.34 241.23 L66.37 241.15 L69.39 241.03 L72.41 240.9 L75.43 240.75 L78.46 240.6 L81.48 240.45 L84.5 240.32 L87.52 240.21 L90.55 240.14 L93.57 240.1 L96.59 240.11 L99.61 240.15 L102.64 240.23 L105.66 240.34 L108.68 240.47 L111.7 240.62 L114.73 240.77 L117.75 240.92 L120.77 241.05 L123.79 241.16 L126.82 241.24 L129.84 241.28 L132.86 241.28 L135.88 241.24 L138.91 241.16 L141.93 241.05 L144.95 240.92 L147.97 240.77 L151 240.62 L154.02 240.47 L157.04 240.34 L160.06 240.23 L163.09 240.15 L166.11 240.11 L169.13 240.1 L172.15 240.14 L175.18 240.21 L178.2 240.32 L181.22 240.45 L184.24 240.6 L187.27 240.75 L190.29 240.9 L193.31 241.03 L196.33 241.15 L199.36 241.23 L202.38 241.27 L205.4 241.28 L205.4 260.52 L202.38 260.53 L199.36 260.57 L196.33 260.65 L193.31 260.77 L190.29 260.9 L187.27 261.05 L184.24 261.2 L181.22 261.35 L178.2 261.48 L175.18 261.59 L172.15 261.66 L169.13 261.7 L166.11 261.69 L163.09 261.65 L160.06 261.57 L157.04 261.46 L154.02 261.33 L151 261.18 L147.97 261.03 L144.95 260.88 L141.93 260.75 L138.91 260.64 L135.88 260.56 L132.86 260.52 L129.84 260.52 L126.82 260.56 L123.79 260.64 L120.77 260.75 L117.75 260.88 L114.73 261.03 L111.7 261.18 L108.68 261.33 L105.66 261.46 L102.64 261.57 L99.61 261.65 L96.59 261.69 L93.57 261.7 L90.55 261.66 L87.52 261.59 L84.5 261.48 L81.48 261.35 L78.46 261.2 L75.43 261.05 L72.41 260.9 L69.39 260.77 L66.37 260.65 L63.34 260.57 L60.32 260.53 L57.3 260.52 Z" fill="#0871de"/>
<path d="M57.3 241.6 L60.32 241.6 L63.34 241.55 L66.37 241.47 L69.39 241.36 L72.41 241.23 L75.43 241.08 L78.46 240.93 L81.48 240.78 L84.5 240.65 L87.52 240.55 L90.55 240.48 L93.57 240.44 L96.59 240.44 L99.61 240.49 L102.64 240.56 L105.66 240.67 L108.68 240.81 L111.7 240.95 L114.73 241.1 L117.75 241.25 L120.77 241.38 L123.79 241.49 L126.82 241.56 L129.84 241.6 L132.86 241.6 L135.88 241.56 L138.91 241.49 L141.93 241.38 L144.95 241.25 L147.97 241.1 L151 240.95 L154.02 240.81 L157.04 240.67 L160.06 240.56 L163.09 240.49 L166.11 240.44 L169.13 240.44 L172.15 240.48 L175.18 240.55 L178.2 240.65 L181.22 240.78 L184.24 240.93 L187.27 241.08 L190.29 241.23 L193.31 241.36 L196.33 241.47 L199.36 241.55 L202.38 241.6 L205.4 241.6 L205.4 260.2 L202.38 260.2 L199.36 260.25 L196.33 260.33 L193.31 260.44 L190.29 260.57 L187.27 260.72 L184.24 260.87 L181.22 261.02 L178.2 261.15 L175.18 261.25 L172.15 261.32 L169.13 261.36 L166.11 261.36 L163.09 261.31 L160.06 261.24 L157.04 261.13 L154.02 260.99 L151 260.85 L147.97 260.7 L144.95 260.55 L141.93 260.42 L138.91 260.31 L135.88 260.24 L132.86 260.2 L129.84 260.2 L126.82 260.24 L123.79 260.31 L120.77 260.42 L117.75 260.55 L114.73 260.7 L111.7 260.85 L108.68 260.99 L105.66 261.13 L102.64 261.24 L99.61 261.31 L96.59 261.36 L93.57 261.36 L90.55 261.32 L87.52 261.25 L84.5 261.15 L81.48 261.02 L78.46 260.87 L75.43 260.72 L72.41 260.57 L69.39 260.44 L66.37 260.33 L63.34 260.25 L60.32 260.2 L57.3 260.2 Z" fill="#0f78db"/>
<path d="M57.3 241.9 L60.32 241.89 L63.34 241.85 L66.37 241.77 L69.39 241.66 L72.41 241.53 L75.43 241.38 L78.46 241.23 L81.48 241.09 L84.5 240.96 L87.52 240.86 L90.55 240.79 L93.57 240.75 L96.59 240.75 L99.61 240.8 L102.64 240.87 L105.66 240.98 L108.68 241.11 L111.7 241.26 L114.73 241.41 L117.75 241.55 L120.77 241.68 L123.79 241.78 L126.82 241.86 L129.84 241.9 L132.86 241.9 L135.88 241.86 L138.91 241.78 L141.93 241.68 L144.95 241.55 L147.97 241.41 L151 241.26 L154.02 241.11 L157.04 240.98 L160.06 240.87 L163.09 240.8 L166.11 240.75 L169.13 240.75 L172.15 240.79 L175.18 240.86 L178.2 240.96 L181.22 241.09 L184.24 241.23 L187.27 241.38 L190.29 241.53 L193.31 241.66 L196.33 241.77 L199.36 241.85 L202.38 241.89 L205.4 241.9 L205.4 259.9 L202.38 259.91 L199.36 259.95 L196.33 260.03 L193.31 260.14 L190.29 260.27 L187.27 260.42 L184.24 260.57 L181.22 260.71 L178.2 260.84 L175.18 260.94 L172.15 261.01 L169.13 261.05 L166.11 261.05 L163.09 261 L160.06 260.93 L157.04 260.82 L154.02 260.69 L151 260.54 L147.97 260.39 L144.95 260.25 L141.93 260.12 L138.91 260.02 L135.88 259.94 L132.86 259.9 L129.84 259.9 L126.82 259.94 L123.79 260.02 L120.77 260.12 L117.75 260.25 L114.73 260.39 L111.7 260.54 L108.68 260.69 L105.66 260.82 L102.64 260.93 L99.61 261 L96.59 261.05 L93.57 261.05 L90.55 261.01 L87.52 260.94 L84.5 260.84 L81.48 260.71 L78.46 260.57 L75.43 260.42 L72.41 260.27 L69.39 260.14 L66.37 260.03 L63.34 259.95 L60.32 259.91 L57.3 259.9 Z" fill="#137fd7"/>
<path d="M57.3 242.18 L60.32 242.17 L63.34 242.13 L66.37 242.05 L69.39 241.94 L72.41 241.81 L75.43 241.66 L78.46 241.51 L81.48 241.37 L84.5 241.25 L87.52 241.14 L90.55 241.07 L93.57 241.04 L96.59 241.04 L99.61 241.08 L102.64 241.16 L105.66 241.27 L108.68 241.4 L111.7 241.54 L114.73 241.69 L117.75 241.83 L120.77 241.96 L123.79 242.06 L126.82 242.14 L129.84 242.17 L132.86 242.17 L135.88 242.14 L138.91 242.06 L141.93 241.96 L144.95 241.83 L147.97 241.69 L151 241.54 L154.02 241.4 L157.04 241.27 L160.06 241.16 L163.09 241.08 L166.11 241.04 L169.13 241.04 L172.15 241.07 L175.18 241.14 L178.2 241.25 L181.22 241.37 L184.24 241.51 L187.27 241.66 L190.29 241.81 L193.31 241.94 L196.33 242.05 L199.36 242.13 L202.38 242.17 L205.4 242.18 L205.4 259.62 L202.38 259.63 L199.36 259.67 L196.33 259.75 L193.31 259.86 L190.29 259.99 L187.27 260.14 L184.24 260.29 L181.22 260.43 L178.2 260.55 L175.18 260.66 L172.15 260.73 L169.13 260.76 L166.11 260.76 L163.09 260.72 L160.06 260.64 L157.04 260.53 L154.02 260.4 L151 260.26 L147.97 260.11 L144.95 259.97 L141.93 259.84 L138.91 259.74 L135.88 259.66 L132.86 259.63 L129.84 259.63 L126.82 259.66 L123.79 259.74 L120.77 259.84 L117.75 259.97 L114.73 260.11 L111.7 260.26 L108.68 260.4 L105.66 260.53 L102.64 260.64 L99.61 260.72 L96.59 260.76 L93.57 260.76 L90.55 260.73 L87.52 260.66 L84.5 260.55 L81.48 260.43 L78.46 260.29 L75.43 260.14 L72.41 259.99 L69.39 259.86 L66.37 259.75 L63.34 259.67 L60.32 259.63 L57.3 259.62 Z" fill="#1487d3"/>
<path d="M57.3 242.44 L60.32 242.43 L63.34 242.39 L66.37 242.31 L69.39 242.2 L72.41 242.07 L75.43 241.93 L78.46 241.78 L81.48 241.64 L84.5 241.52 L87.52 241.42 L90.55 241.35 L93.57 241.31 L96.59 241.31 L99.61 241.36 L102.64 241.43 L105.66 241.54 L108.68 241.67 L111.7 241.81 L114.73 241.95 L117.75 242.1 L120.77 242.22 L123.79 242.33 L126.82 242.4 L129.84 242.44 L132.86 242.44 L135.88 242.4 L138.91 242.33 L141.93 242.22 L144.95 242.1 L147.97 241.95 L151 241.81 L154.02 241.67 L157.04 241.54 L160.06 241.43 L163.09 241.36 L166.11 241.31 L169.13 241.31 L172.15 241.35 L175.18 241.42 L178.2 241.52 L181.22 241.64 L184.24 241.78 L187.27 241.93 L190.29 242.07 L193.31 242.2 L196.33 242.31 L199.36 242.39 L202.38 242.43 L205.4 242.44 L205.4 259.36 L202.38 259.37 L199.36 259.41 L196.33 259.49 L193.31 259.6 L190.29 259.73 L187.27 259.87 L184.24 260.02 L181.22 260.16 L178.2 260.28 L175.18 260.38 L172.15 260.45 L169.13 260.49 L166.11 260.49 L163.09 260.44 L160.06 260.37 L157.04 260.26 L154.02 260.13 L151 259.99 L147.97 259.85 L144.95 259.7 L141.93 259.58 L138.91 259.47 L135.88 259.4 L132.86 259.36 L129.84 259.36 L126.82 259.4 L123.79 259.47 L120.77 259.58 L117.75 259.7 L114.73 259.85 L111.7 259.99 L108.68 260.13 L105.66 260.26 L102.64 260.37 L99.61 260.44 L96.59 260.49 L93.57 260.49 L90.55 260.45 L87.52 260.38 L84.5 260.28 L81.48 260.16 L78.46 260.02 L75.43 259.87 L72.41 259.73 L69.39 259.6 L66.37 259.49 L63.34 259.41 L60.32 259.37 L57.3 259.36 Z" fill="#0f8fd2"/>
<path d="M57.3 242.69 L60.32 242.69 L63.34 242.64 L66.37 242.56 L69.39 242.46 L72.41 242.33 L75.43 242.19 L78.46 242.04 L81.48 241.9 L84.5 241.77 L87.52 241.67 L90.55 241.6 L93.57 241.57 L96.59 241.57 L99.61 241.61 L102.64 241.69 L105.66 241.79 L108.68 241.92 L111.7 242.06 L114.73 242.21 L117.75 242.35 L120.77 242.48 L123.79 242.58 L126.82 242.65 L129.84 242.69 L132.86 242.69 L135.88 242.65 L138.91 242.58 L141.93 242.48 L144.95 242.35 L147.97 242.21 L151 242.06 L154.02 241.92 L157.04 241.79 L160.06 241.69 L163.09 241.61 L166.11 241.57 L169.13 241.57 L172.15 241.6 L175.18 241.67 L178.2 241.77 L181.22 241.9 L184.24 242.04 L187.27 242.19 L190.29 242.33 L193.31 242.46 L196.33 242.56 L199.36 242.64 L202.38 242.69 L205.4 242.69 L205.4 259.11 L202.38 259.11 L199.36 259.16 L196.33 259.24 L193.31 259.34 L190.29 259.47 L187.27 259.61 L184.24 259.76 L181.22 259.9 L178.2 260.03 L175.18 260.13 L172.15 260.2 L169.13 260.23 L166.11 260.23 L163.09 260.19 L160.06 260.11 L157.04 260.01 L154.02 259.88 L151 259.74 L147.97 259.59 L144.95 259.45 L141.93 259.32 L138.91 259.22 L135.88 259.15 L132.86 259.11 L129.84 259.11 L126.82 259.15 L123.79 259.22 L120.77 259.32 L117.75 259.45 L114.73 259.59 L111.7 259.74 L108.68 259.88 L105.66 260.01 L102.64 260.11 L99.61 260.19 L96.59 260.23 L93.57 260.23 L90.55 260.2 L87.52 260.13 L84.5 260.03 L81.48 259.9 L78.46 259.76 L75.43 259.61 L72.41 259.47 L69.39 259.34 L66.37 259.24 L63.34 259.16 L60.32 259.11 L57.3 259.11 Z" fill="#0999d1"/>
<path d="M57.3 242.94 L60.32 242.93 L63.34 242.89 L66.37 242.81 L69.39 242.7 L72.41 242.57 L75.43 242.43 L78.46 242.29 L81.48 242.15 L84.5 242.02 L87.52 241.92 L90.55 241.85 L93.57 241.82 L96.59 241.82 L99.61 241.86 L102.64 241.94 L105.66 242.04 L108.68 242.17 L111.7 242.31 L114.73 242.46 L117.75 242.6 L120.77 242.72 L123.79 242.83 L126.82 242.9 L129.84 242.94 L132.86 242.94 L135.88 242.9 L138.91 242.83 L141.93 242.72 L144.95 242.6 L147.97 242.46 L151 242.31 L154.02 242.17 L157.04 242.04 L160.06 241.94 L163.09 241.86 L166.11 241.82 L169.13 241.82 L172.15 241.85 L175.18 241.92 L178.2 242.02 L181.22 242.15 L184.24 242.29 L187.27 242.43 L190.29 242.57 L193.31 242.7 L196.33 242.81 L199.36 242.89 L202.38 242.93 L205.4 242.94 L205.4 258.86 L202.38 258.87 L199.36 258.91 L196.33 258.99 L193.31 259.1 L190.29 259.23 L187.27 259.37 L184.24 259.51 L181.22 259.65 L178.2 259.78 L175.18 259.88 L172.15 259.95 L169.13 259.98 L166.11 259.98 L163.09 259.94 L160.06 259.86 L157.04 259.76 L154.02 259.63 L151 259.49 L147.97 259.34 L144.95 259.2 L141.93 259.08 L138.91 258.97 L135.88 258.9 L132.86 258.86 L129.84 258.86 L126.82 258.9 L123.79 258.97 L120.77 259.08 L117.75 259.2 L114.73 259.34 L111.7 259.49 L108.68 259.63 L105.66 259.76 L102.64 259.86 L99.61 259.94 L96.59 259.98 L93.57 259.98 L90.55 259.95 L87.52 259.88 L84.5 259.78 L81.48 259.65 L78.46 259.51 L75.43 259.37 L72.41 259.23 L69.39 259.1 L66.37 258.99 L63.34 258.91 L60.32 258.87 L57.3 258.86 Z" fill="#06a0cd"/>
<path d="M57.3 243.18 L60.32 243.17 L63.34 243.13 L66.37 243.05 L69.39 242.94 L72.41 242.81 L75.43 242.67 L78.46 242.53 L81.48 242.39 L84.5 242.27 L87.52 242.17 L90.55 242.1 L93.57 242.06 L96.59 242.07 L99.61 242.11 L102.64 242.18 L105.66 242.28 L108.68 242.41 L111.7 242.55 L114.73 242.7 L117.75 242.84 L120.77 242.96 L123.79 243.06 L126.82 243.14 L129.84 243.17 L132.86 243.17 L135.88 243.14 L138.91 243.06 L141.93 242.96 L144.95 242.84 L147.97 242.7 L151 242.55 L154.02 242.41 L157.04 242.28 L160.06 242.18 L163.09 242.11 L166.11 242.07 L169.13 242.06 L172.15 242.1 L175.18 242.17 L178.2 242.27 L181.22 242.39 L184.24 242.53 L187.27 242.67 L190.29 242.81 L193.31 242.94 L196.33 243.05 L199.36 243.13 L202.38 243.17 L205.4 243.18 L205.4 258.62 L202.38 258.63 L199.36 258.67 L196.33 258.75 L193.31 258.86 L190.29 258.99 L187.27 259.13 L184.24 259.27 L181.22 259.41 L178.2 259.53 L175.18 259.63 L172.15 259.7 L169.13 259.74 L166.11 259.73 L163.09 259.69 L160.06 259.62 L157.04 259.52 L154.02 259.39 L151 259.25 L147.97 259.1 L144.95 258.96 L141.93 258.84 L138.91 258.74 L135.88 258.66 L132.86 258.63 L129.84 258.63 L126.82 258.66 L123.79 258.74 L120.77 258.84 L117.75 258.96 L114.73 259.1 L111.7 259.25 L108.68 259.39 L105.66 259.52 L102.64 259.62 L99.61 259.69 L96.59 259.73 L93.57 259.74 L90.55 259.7 L87.52 259.63 L84.5 259.53 L81.48 259.41 L78.46 259.27 L75.43 259.13 L72.41 258.99 L69.39 258.86 L66.37 258.75 L63.34 258.67 L60.32 258.63 L57.3 258.62 Z" fill="#06a6c7"/>
<path d="M57.3 243.41 L60.32 243.41 L63.34 243.36 L66.37 243.28 L69.39 243.18 L72.41 243.05 L75.43 242.91 L78.46 242.76 L81.48 242.62 L84.5 242.5 L87.52 242.4 L90.55 242.33 L93.57 242.3 L96.59 242.3 L99.61 242.34 L102.64 242.42 L105.66 242.52 L108.68 242.65 L111.7 242.79 L114.73 242.93 L117.75 243.07 L120.77 243.2 L123.79 243.3 L126.82 243.37 L129.84 243.41 L132.86 243.41 L135.88 243.37 L138.91 243.3 L141.93 243.2 L144.95 243.07 L147.97 242.93 L151 242.79 L154.02 242.65 L157.04 242.52 L160.06 242.42 L163.09 242.34 L166.11 242.3 L169.13 242.3 L172.15 242.33 L175.18 242.4 L178.2 242.5 L181.22 242.62 L184.24 242.76 L187.27 242.91 L190.29 243.05 L193.31 243.18 L196.33 243.28 L199.36 243.36 L202.38 243.41 L205.4 243.41 L205.4 258.39 L202.38 258.39 L199.36 258.44 L196.33 258.52 L193.31 258.62 L190.29 258.75 L187.27 258.89 L184.24 259.04 L181.22 259.18 L178.2 259.3 L175.18 259.4 L172.15 259.47 L169.13 259.5 L166.11 259.5 L163.09 259.46 L160.06 259.38 L157.04 259.28 L154.02 259.15 L151 259.01 L147.97 258.87 L144.95 258.73 L141.93 258.6 L138.91 258.5 L135.88 258.43 L132.86 258.39 L129.84 258.39 L126.82 258.43 L123.79 258.5 L120.77 258.6 L117.75 258.73 L114.73 258.87 L111.7 259.01 L108.68 259.15 L105.66 259.28 L102.64 259.38 L99.61 259.46 L96.59 259.5 L93.57 259.5 L90.55 259.47 L87.52 259.4 L84.5 259.3 L81.48 259.18 L78.46 259.04 L75.43 258.89 L72.41 258.75 L69.39 258.62 L66.37 258.52 L63.34 258.44 L60.32 258.39 L57.3 258.39 Z" fill="#09abbf"/>
<path d="M57.3 243.65 L60.32 243.64 L63.34 243.6 L66.37 243.52 L69.39 243.41 L72.41 243.28 L75.43 243.14 L78.46 243 L81.48 242.86 L84.5 242.73 L87.52 242.63 L90.55 242.57 L93.57 242.53 L96.59 242.53 L99.61 242.58 L102.64 242.65 L105.66 242.75 L108.68 242.88 L111.7 243.02 L114.73 243.16 L117.75 243.3 L120.77 243.43 L123.79 243.53 L126.82 243.61 L129.84 243.64 L132.86 243.64 L135.88 243.61 L138.91 243.53 L141.93 243.43 L144.95 243.3 L147.97 243.16 L151 243.02 L154.02 242.88 L157.04 242.75 L160.06 242.65 L163.09 242.58 L166.11 242.53 L169.13 242.53 L172.15 242.57 L175.18 242.63 L178.2 242.73 L181.22 242.86 L184.24 243 L187.27 243.14 L190.29 243.28 L193.31 243.41 L196.33 243.52 L199.36 243.6 L202.38 243.64 L205.4 243.65 L205.4 258.15 L202.38 258.16 L199.36 258.2 L196.33 258.28 L193.31 258.39 L190.29 258.52 L187.27 258.66 L184.24 258.8 L181.22 258.94 L178.2 259.07 L175.18 259.17 L172.15 259.23 L169.13 259.27 L166.11 259.27 L163.09 259.22 L160.06 259.15 L157.04 259.05 L154.02 258.92 L151 258.78 L147.97 258.64 L144.95 258.5 L141.93 258.37 L138.91 258.27 L135.88 258.19 L132.86 258.16 L129.84 258.16 L126.82 258.19 L123.79 258.27 L120.77 258.37 L117.75 258.5 L114.73 258.64 L111.7 258.78 L108.68 258.92 L105.66 259.05 L102.64 259.15 L99.61 259.22 L96.59 259.27 L93.57 259.27 L90.55 259.23 L87.52 259.17 L84.5 259.07 L81.48 258.94 L78.46 258.8 L75.43 258.66 L72.41 258.52 L69.39 258.39 L66.37 258.28 L63.34 258.2 L60.32 258.16 L57.3 258.15 Z" fill="#12afb7"/>
<path d="M57.3 243.88 L60.32 243.87 L63.34 243.83 L66.37 243.75 L69.39 243.64 L72.41 243.51 L75.43 243.37 L78.46 243.23 L81.48 243.09 L84.5 242.96 L87.52 242.87 L90.55 242.8 L93.57 242.76 L96.59 242.77 L99.61 242.81 L102.64 242.88 L105.66 242.98 L108.68 243.11 L111.7 243.25 L114.73 243.4 L117.75 243.54 L120.77 243.66 L123.79 243.77 L126.82 243.84 L129.84 243.88 L132.86 243.88 L135.88 243.84 L138.91 243.77 L141.93 243.66 L144.95 243.54 L147.97 243.4 L151 243.25 L154.02 243.11 L157.04 242.98 L160.06 242.88 L163.09 242.81 L166.11 242.77 L169.13 242.76 L172.15 242.8 L175.18 242.87 L178.2 242.96 L181.22 243.09 L184.24 243.23 L187.27 243.37 L190.29 243.51 L193.31 243.64 L196.33 243.75 L199.36 243.83 L202.38 243.87 L205.4 243.88 L205.4 257.92 L202.38 257.93 L199.36 257.97 L196.33 258.05 L193.31 258.16 L190.29 258.29 L187.27 258.43 L184.24 258.57 L181.22 258.71 L178.2 258.84 L175.18 258.93 L172.15 259 L169.13 259.04 L166.11 259.03 L163.09 258.99 L160.06 258.92 L157.04 258.82 L154.02 258.69 L151 258.55 L147.97 258.4 L144.95 258.26 L141.93 258.14 L138.91 258.03 L135.88 257.96 L132.86 257.92 L129.84 257.92 L126.82 257.96 L123.79 258.03 L120.77 258.14 L117.75 258.26 L114.73 258.4 L111.7 258.55 L108.68 258.69 L105.66 258.82 L102.64 258.92 L99.61 258.99 L96.59 259.03 L93.57 259.04 L90.55 259 L87.52 258.93 L84.5 258.84 L81.48 258.71 L78.46 258.57 L75.43 258.43 L72.41 258.29 L69.39 258.16 L66.37 258.05 L63.34 257.97 L60.32 257.93 L57.3 257.92 Z" fill="#1fb3ae"/>
<path d="M57.3 244.11 L60.32 244.11 L63.34 244.06 L66.37 243.98 L69.39 243.88 L72.41 243.75 L75.43 243.6 L78.46 243.46 L81.48 243.32 L84.5 243.19 L87.52 243.09 L90.55 243.03 L93.57 242.99 L96.59 242.99 L99.61 243.03 L102.64 243.11 L105.66 243.21 L108.68 243.34 L111.7 243.48 L114.73 243.63 L117.75 243.77 L120.77 243.9 L123.79 244 L126.82 244.07 L129.84 244.11 L132.86 244.11 L135.88 244.07 L138.91 244 L141.93 243.9 L144.95 243.77 L147.97 243.63 L151 243.48 L154.02 243.34 L157.04 243.21 L160.06 243.11 L163.09 243.03 L166.11 242.99 L169.13 242.99 L172.15 243.03 L175.18 243.09 L178.2 243.19 L181.22 243.32 L184.24 243.46 L187.27 243.6 L190.29 243.75 L193.31 243.88 L196.33 243.98 L199.36 244.06 L202.38 244.11 L205.4 244.11 L205.4 257.69 L202.38 257.69 L199.36 257.74 L196.33 257.82 L193.31 257.92 L190.29 258.05 L187.27 258.2 L184.24 258.34 L181.22 258.48 L178.2 258.61 L175.18 258.71 L172.15 258.77 L169.13 258.81 L166.11 258.81 L163.09 258.77 L160.06 258.69 L157.04 258.59 L154.02 258.46 L151 258.32 L147.97 258.17 L144.95 258.03 L141.93 257.9 L138.91 257.8 L135.88 257.73 L132.86 257.69 L129.84 257.69 L126.82 257.73 L123.79 257.8 L120.77 257.9 L117.75 258.03 L114.73 258.17 L111.7 258.32 L108.68 258.46 L105.66 258.59 L102.64 258.69 L99.61 258.77 L96.59 258.81 L93.57 258.81 L90.55 258.77 L87.52 258.71 L84.5 258.61 L81.48 258.48 L78.46 258.34 L75.43 258.2 L72.41 258.05 L69.39 257.92 L66.37 257.82 L63.34 257.74 L60.32 257.69 L57.3 257.69 Z" fill="#2fb7a3"/>
<path d="M57.3 244.35 L60.32 244.34 L63.34 244.3 L66.37 244.22 L69.39 244.11 L72.41 243.98 L75.43 243.84 L78.46 243.69 L81.48 243.55 L84.5 243.42 L87.52 243.32 L90.55 243.25 L93.57 243.22 L96.59 243.22 L99.61 243.26 L102.64 243.34 L105.66 243.44 L108.68 243.57 L111.7 243.71 L114.73 243.86 L117.75 244 L120.77 244.13 L123.79 244.23 L126.82 244.31 L129.84 244.35 L132.86 244.35 L135.88 244.31 L138.91 244.23 L141.93 244.13 L144.95 244 L147.97 243.86 L151 243.71 L154.02 243.57 L157.04 243.44 L160.06 243.34 L163.09 243.26 L166.11 243.22 L169.13 243.22 L172.15 243.25 L175.18 243.32 L178.2 243.42 L181.22 243.55 L184.24 243.69 L187.27 243.84 L190.29 243.98 L193.31 244.11 L196.33 244.22 L199.36 244.3 L202.38 244.34 L205.4 244.35 L205.4 257.45 L202.38 257.46 L199.36 257.5 L196.33 257.58 L193.31 257.69 L190.29 257.82 L187.27 257.96 L184.24 258.11 L181.22 258.25 L178.2 258.38 L175.18 258.48 L172.15 258.55 L169.13 258.58 L166.11 258.58 L163.09 258.54 L160.06 258.46 L157.04 258.36 L154.02 258.23 L151 258.09 L147.97 257.94 L144.95 257.8 L141.93 257.67 L138.91 257.57 L135.88 257.49 L132.86 257.45 L129.84 257.45 L126.82 257.49 L123.79 257.57 L120.77 257.67 L117.75 257.8 L114.73 257.94 L111.7 258.09 L108.68 258.23 L105.66 258.36 L102.64 258.46 L99.61 258.54 L96.59 258.58 L93.57 258.58 L90.55 258.55 L87.52 258.48 L84.5 258.38 L81.48 258.25 L78.46 258.11 L75.43 257.96 L72.41 257.82 L69.39 257.69 L66.37 257.58 L63.34 257.5 L60.32 257.46 L57.3 257.45 Z" fill="#41ba99"/>
<path d="M57.3 244.59 L60.32 244.59 L63.34 244.54 L66.37 244.46 L69.39 244.35 L72.41 244.22 L75.43 244.07 L78.46 243.92 L81.48 243.78 L84.5 243.66 L87.52 243.56 L90.55 243.49 L93.57 243.45 L96.59 243.45 L99.61 243.49 L102.64 243.57 L105.66 243.68 L108.68 243.8 L111.7 243.95 L114.73 244.1 L117.75 244.24 L120.77 244.37 L123.79 244.48 L126.82 244.55 L129.84 244.59 L132.86 244.59 L135.88 244.55 L138.91 244.48 L141.93 244.37 L144.95 244.24 L147.97 244.1 L151 243.95 L154.02 243.8 L157.04 243.68 L160.06 243.57 L163.09 243.49 L166.11 243.45 L169.13 243.45 L172.15 243.49 L175.18 243.56 L178.2 243.66 L181.22 243.78 L184.24 243.92 L187.27 244.07 L190.29 244.22 L193.31 244.35 L196.33 244.46 L199.36 244.54 L202.38 244.59 L205.4 244.59 L205.4 257.21 L202.38 257.21 L199.36 257.26 L196.33 257.34 L193.31 257.45 L190.29 257.58 L187.27 257.73 L184.24 257.88 L181.22 258.02 L178.2 258.14 L175.18 258.24 L172.15 258.31 L169.13 258.35 L166.11 258.35 L163.09 258.31 L160.06 258.23 L157.04 258.12 L154.02 258 L151 257.85 L147.97 257.7 L144.95 257.56 L141.93 257.43 L138.91 257.32 L135.88 257.25 L132.86 257.21 L129.84 257.21 L126.82 257.25 L123.79 257.32 L120.77 257.43 L117.75 257.56 L114.73 257.7 L111.7 257.85 L108.68 258 L105.66 258.12 L102.64 258.23 L99.61 258.31 L96.59 258.35 L93.57 258.35 L90.55 258.31 L87.52 258.24 L84.5 258.14 L81.48 258.02 L78.46 257.88 L75.43 257.73 L72.41 257.58 L69.39 257.45 L66.37 257.34 L63.34 257.26 L60.32 257.21 L57.3 257.21 Z" fill="#55bd8d"/>
<path d="M57.3 244.84 L60.32 244.83 L63.34 244.79 L66.37 244.71 L69.39 244.59 L72.41 244.46 L75.43 244.31 L78.46 244.16 L81.48 244.02 L84.5 243.89 L87.52 243.79 L90.55 243.72 L93.57 243.68 L96.59 243.69 L99.61 243.73 L102.64 243.8 L105.66 243.91 L108.68 244.04 L111.7 244.19 L114.73 244.34 L117.75 244.48 L120.77 244.61 L123.79 244.72 L126.82 244.8 L129.84 244.84 L132.86 244.84 L135.88 244.8 L138.91 244.72 L141.93 244.61 L144.95 244.48 L147.97 244.34 L151 244.19 L154.02 244.04 L157.04 243.91 L160.06 243.8 L163.09 243.73 L166.11 243.69 L169.13 243.68 L172.15 243.72 L175.18 243.79 L178.2 243.89 L181.22 244.02 L184.24 244.16 L187.27 244.31 L190.29 244.46 L193.31 244.59 L196.33 244.71 L199.36 244.79 L202.38 244.83 L205.4 244.84 L205.4 256.96 L202.38 256.97 L199.36 257.01 L196.33 257.09 L193.31 257.21 L190.29 257.34 L187.27 257.49 L184.24 257.64 L181.22 257.78 L178.2 257.91 L175.18 258.01 L172.15 258.08 L169.13 258.12 L166.11 258.11 L163.09 258.07 L160.06 258 L157.04 257.89 L154.02 257.76 L151 257.61 L147.97 257.46 L144.95 257.32 L141.93 257.19 L138.91 257.08 L135.88 257 L132.86 256.96 L129.84 256.96 L126.82 257 L123.79 257.08 L120.77 257.19 L117.75 257.32 L114.73 257.46 L111.7 257.61 L108.68 257.76 L105.66 257.89 L102.64 258 L99.61 258.07 L96.59 258.11 L93.57 258.12 L90.55 258.08 L87.52 258.01 L84.5 257.91 L81.48 257.78 L78.46 257.64 L75.43 257.49 L72.41 257.34 L69.39 257.21 L66.37 257.09 L63.34 257.01 L60.32 256.97 L57.3 256.96 Z" fill="#6bbf83"/>
<path d="M57.3 245.1 L60.32 245.09 L63.34 245.04 L66.37 244.96 L69.39 244.85 L72.41 244.71 L75.43 244.56 L78.46 244.4 L81.48 244.26 L84.5 244.13 L87.52 244.03 L90.55 243.96 L93.57 243.92 L96.59 243.92 L99.61 243.97 L102.64 244.04 L105.66 244.15 L108.68 244.28 L111.7 244.43 L114.73 244.58 L117.75 244.73 L120.77 244.87 L123.79 244.98 L126.82 245.06 L129.84 245.1 L132.86 245.1 L135.88 245.06 L138.91 244.98 L141.93 244.87 L144.95 244.73 L147.97 244.58 L151 244.43 L154.02 244.28 L157.04 244.15 L160.06 244.04 L163.09 243.97 L166.11 243.92 L169.13 243.92 L172.15 243.96 L175.18 244.03 L178.2 244.13 L181.22 244.26 L184.24 244.4 L187.27 244.56 L190.29 244.71 L193.31 244.85 L196.33 244.96 L199.36 245.04 L202.38 245.09 L205.4 245.1 L205.4 256.7 L202.38 256.71 L199.36 256.76 L196.33 256.84 L193.31 256.95 L190.29 257.09 L187.27 257.24 L184.24 257.4 L181.22 257.54 L178.2 257.67 L175.18 257.77 L172.15 257.84 L169.13 257.88 L166.11 257.88 L163.09 257.83 L160.06 257.76 L157.04 257.65 L154.02 257.52 L151 257.37 L147.97 257.22 L144.95 257.07 L141.93 256.93 L138.91 256.82 L135.88 256.74 L132.86 256.7 L129.84 256.7 L126.82 256.74 L123.79 256.82 L120.77 256.93 L117.75 257.07 L114.73 257.22 L111.7 257.37 L108.68 257.52 L105.66 257.65 L102.64 257.76 L99.61 257.83 L96.59 257.88 L93.57 257.88 L90.55 257.84 L87.52 257.77 L84.5 257.67 L81.48 257.54 L78.46 257.4 L75.43 257.24 L72.41 257.09 L69.39 256.95 L66.37 256.84 L63.34 256.76 L60.32 256.71 L57.3 256.7 Z" fill="#80bf7a"/>
<path d="M57.3 245.37 L60.32 245.36 L63.34 245.31 L66.37 245.23 L69.39 245.11 L72.41 244.97 L75.43 244.81 L78.46 244.66 L81.48 244.51 L84.5 244.38 L87.52 244.27 L90.55 244.2 L93.57 244.16 L96.59 244.17 L99.61 244.21 L102.64 244.29 L105.66 244.4 L108.68 244.53 L111.7 244.68 L114.73 244.84 L117.75 244.99 L120.77 245.13 L123.79 245.24 L126.82 245.32 L129.84 245.37 L132.86 245.37 L135.88 245.32 L138.91 245.24 L141.93 245.13 L144.95 244.99 L147.97 244.84 L151 244.68 L154.02 244.53 L157.04 244.4 L160.06 244.29 L163.09 244.21 L166.11 244.17 L169.13 244.16 L172.15 244.2 L175.18 244.27 L178.2 244.38 L181.22 244.51 L184.24 244.66 L187.27 244.81 L190.29 244.97 L193.31 245.11 L196.33 245.23 L199.36 245.31 L202.38 245.36 L205.4 245.37 L205.4 256.43 L202.38 256.44 L199.36 256.49 L196.33 256.57 L193.31 256.69 L190.29 256.83 L187.27 256.99 L184.24 257.14 L181.22 257.29 L178.2 257.42 L175.18 257.53 L172.15 257.6 L169.13 257.64 L166.11 257.63 L163.09 257.59 L160.06 257.51 L157.04 257.4 L154.02 257.27 L151 257.12 L147.97 256.96 L144.95 256.81 L141.93 256.67 L138.91 256.56 L135.88 256.48 L132.86 256.43 L129.84 256.43 L126.82 256.48 L123.79 256.56 L120.77 256.67 L117.75 256.81 L114.73 256.96 L111.7 257.12 L108.68 257.27 L105.66 257.4 L102.64 257.51 L99.61 257.59 L96.59 257.63 L93.57 257.64 L90.55 257.6 L87.52 257.53 L84.5 257.42 L81.48 257.29 L78.46 257.14 L75.43 256.99 L72.41 256.83 L69.39 256.69 L66.37 256.57 L63.34 256.49 L60.32 256.44 L57.3 256.43 Z" fill="#93bf72"/>
<path d="M57.3 245.66 L60.32 245.65 L63.34 245.6 L66.37 245.51 L69.39 245.38 L72.41 245.24 L75.43 245.08 L78.46 244.92 L81.48 244.77 L84.5 244.63 L87.52 244.52 L90.55 244.45 L93.57 244.41 L96.59 244.42 L99.61 244.46 L102.64 244.54 L105.66 244.65 L108.68 244.79 L111.7 244.95 L114.73 245.11 L117.75 245.26 L120.77 245.41 L123.79 245.52 L126.82 245.61 L129.84 245.65 L132.86 245.65 L135.88 245.61 L138.91 245.52 L141.93 245.41 L144.95 245.26 L147.97 245.11 L151 244.95 L154.02 244.79 L157.04 244.65 L160.06 244.54 L163.09 244.46 L166.11 244.42 L169.13 244.41 L172.15 244.45 L175.18 244.52 L178.2 244.63 L181.22 244.77 L184.24 244.92 L187.27 245.08 L190.29 245.24 L193.31 245.38 L196.33 245.51 L199.36 245.6 L202.38 245.65 L205.4 245.66 L205.4 256.14 L202.38 256.15 L199.36 256.2 L196.33 256.29 L193.31 256.42 L190.29 256.56 L187.27 256.72 L184.24 256.88 L181.22 257.03 L178.2 257.17 L175.18 257.28 L172.15 257.35 L169.13 257.39 L166.11 257.38 L163.09 257.34 L160.06 257.26 L157.04 257.15 L154.02 257.01 L151 256.85 L147.97 256.69 L144.95 256.54 L141.93 256.39 L138.91 256.28 L135.88 256.19 L132.86 256.15 L129.84 256.15 L126.82 256.19 L123.79 256.28 L120.77 256.39 L117.75 256.54 L114.73 256.69 L111.7 256.85 L108.68 257.01 L105.66 257.15 L102.64 257.26 L99.61 257.34 L96.59 257.38 L93.57 257.39 L90.55 257.35 L87.52 257.28 L84.5 257.17 L81.48 257.03 L78.46 256.88 L75.43 256.72 L72.41 256.56 L69.39 256.42 L66.37 256.29 L63.34 256.2 L60.32 256.15 L57.3 256.14 Z" fill="#a5be6b"/>
<path d="M57.3 245.97 L60.32 245.96 L63.34 245.9 L66.37 245.81 L69.39 245.68 L72.41 245.53 L75.43 245.36 L78.46 245.19 L81.48 245.04 L84.5 244.9 L87.52 244.79 L90.55 244.71 L93.57 244.67 L96.59 244.68 L99.61 244.72 L102.64 244.8 L105.66 244.92 L108.68 245.06 L111.7 245.22 L114.73 245.39 L117.75 245.55 L120.77 245.7 L123.79 245.83 L126.82 245.92 L129.84 245.96 L132.86 245.96 L135.88 245.92 L138.91 245.83 L141.93 245.7 L144.95 245.55 L147.97 245.39 L151 245.22 L154.02 245.06 L157.04 244.92 L160.06 244.8 L163.09 244.72 L166.11 244.68 L169.13 244.67 L172.15 244.71 L175.18 244.79 L178.2 244.9 L181.22 245.04 L184.24 245.19 L187.27 245.36 L190.29 245.53 L193.31 245.68 L196.33 245.81 L199.36 245.9 L202.38 245.96 L205.4 245.97 L205.4 255.83 L202.38 255.84 L199.36 255.9 L196.33 255.99 L193.31 256.12 L190.29 256.27 L187.27 256.44 L184.24 256.61 L181.22 256.76 L178.2 256.9 L175.18 257.01 L172.15 257.09 L169.13 257.13 L166.11 257.12 L163.09 257.08 L160.06 257 L157.04 256.88 L154.02 256.74 L151 256.58 L147.97 256.41 L144.95 256.25 L141.93 256.1 L138.91 255.97 L135.88 255.88 L132.86 255.84 L129.84 255.84 L126.82 255.88 L123.79 255.97 L120.77 256.1 L117.75 256.25 L114.73 256.41 L111.7 256.58 L108.68 256.74 L105.66 256.88 L102.64 257 L99.61 257.08 L96.59 257.12 L93.57 257.13 L90.55 257.09 L87.52 257.01 L84.5 256.9 L81.48 256.76 L78.46 256.61 L75.43 256.44 L72.41 256.27 L69.39 256.12 L66.37 255.99 L63.34 255.9 L60.32 255.84 L57.3 255.83 Z" fill="#b6bd64"/>
<path d="M57.3 246.31 L60.32 246.3 L63.34 246.24 L66.37 246.14 L69.39 246 L72.41 245.84 L75.43 245.66 L78.46 245.49 L81.48 245.32 L84.5 245.18 L87.52 245.06 L90.55 244.98 L93.57 244.95 L96.59 244.95 L99.61 245 L102.64 245.08 L105.66 245.2 L108.68 245.35 L111.7 245.52 L114.73 245.69 L117.75 245.87 L120.77 246.02 L123.79 246.16 L126.82 246.25 L129.84 246.3 L132.86 246.3 L135.88 246.25 L138.91 246.16 L141.93 246.02 L144.95 245.87 L147.97 245.69 L151 245.52 L154.02 245.35 L157.04 245.2 L160.06 245.08 L163.09 245 L166.11 244.95 L169.13 244.95 L172.15 244.98 L175.18 245.06 L178.2 245.18 L181.22 245.32 L184.24 245.49 L187.27 245.66 L190.29 245.84 L193.31 246 L196.33 246.14 L199.36 246.24 L202.38 246.3 L205.4 246.31 L205.4 255.49 L202.38 255.5 L199.36 255.56 L196.33 255.66 L193.31 255.8 L190.29 255.96 L187.27 256.14 L184.24 256.31 L181.22 256.48 L178.2 256.62 L175.18 256.74 L172.15 256.82 L169.13 256.85 L166.11 256.85 L163.09 256.8 L160.06 256.72 L157.04 256.6 L154.02 256.45 L151 256.28 L147.97 256.11 L144.95 255.93 L141.93 255.78 L138.91 255.64 L135.88 255.55 L132.86 255.5 L129.84 255.5 L126.82 255.55 L123.79 255.64 L120.77 255.78 L117.75 255.93 L114.73 256.11 L111.7 256.28 L108.68 256.45 L105.66 256.6 L102.64 256.72 L99.61 256.8 L96.59 256.85 L93.57 256.85 L90.55 256.82 L87.52 256.74 L84.5 256.62 L81.48 256.48 L78.46 256.31 L75.43 256.14 L72.41 255.96 L69.39 255.8 L66.37 255.66 L63.34 255.56 L60.32 255.5 L57.3 255.49 Z" fill="#c6bc5e"/>
<path d="M57.3 246.69 L60.32 246.68 L63.34 246.62 L66.37 246.5 L69.39 246.35 L72.41 246.18 L75.43 245.99 L78.46 245.8 L81.48 245.63 L84.5 245.48 L87.52 245.36 L90.55 245.28 L93.57 245.23 L96.59 245.24 L99.61 245.29 L102.64 245.38 L105.66 245.5 L108.68 245.66 L111.7 245.83 L114.73 246.02 L117.75 246.21 L120.77 246.38 L123.79 246.53 L126.82 246.63 L129.84 246.69 L132.86 246.69 L135.88 246.63 L138.91 246.53 L141.93 246.38 L144.95 246.21 L147.97 246.02 L151 245.83 L154.02 245.66 L157.04 245.5 L160.06 245.38 L163.09 245.29 L166.11 245.24 L169.13 245.23 L172.15 245.28 L175.18 245.36 L178.2 245.48 L181.22 245.63 L184.24 245.8 L187.27 245.99 L190.29 246.18 L193.31 246.35 L196.33 246.5 L199.36 246.62 L202.38 246.68 L205.4 246.69 L205.4 255.11 L202.38 255.12 L199.36 255.18 L196.33 255.3 L193.31 255.45 L190.29 255.62 L187.27 255.81 L184.24 256 L181.22 256.17 L178.2 256.32 L175.18 256.44 L172.15 256.52 L169.13 256.57 L166.11 256.56 L163.09 256.51 L160.06 256.42 L157.04 256.3 L154.02 256.14 L151 255.97 L147.97 255.78 L144.95 255.59 L141.93 255.42 L138.91 255.27 L135.88 255.17 L132.86 255.11 L129.84 255.11 L126.82 255.17 L123.79 255.27 L120.77 255.42 L117.75 255.59 L114.73 255.78 L111.7 255.97 L108.68 256.14 L105.66 256.3 L102.64 256.42 L99.61 256.51 L96.59 256.56 L93.57 256.57 L90.55 256.52 L87.52 256.44 L84.5 256.32 L81.48 256.17 L78.46 256 L75.43 255.81 L72.41 255.62 L69.39 255.45 L66.37 255.3 L63.34 255.18 L60.32 255.12 L57.3 255.11 Z" fill="#d5ba57"/>
<path d="M57.3 247.15 L60.32 247.14 L63.34 247.06 L66.37 246.93 L69.39 246.76 L72.41 246.56 L75.43 246.36 L78.46 246.15 L81.48 245.96 L84.5 245.8 L87.52 245.68 L90.55 245.59 L93.57 245.54 L96.59 245.55 L99.61 245.6 L102.64 245.69 L105.66 245.83 L108.68 246 L111.7 246.19 L114.73 246.39 L117.75 246.6 L120.77 246.79 L123.79 246.96 L126.82 247.08 L129.84 247.14 L132.86 247.14 L135.88 247.08 L138.91 246.96 L141.93 246.79 L144.95 246.6 L147.97 246.39 L151 246.19 L154.02 246 L157.04 245.83 L160.06 245.69 L163.09 245.6 L166.11 245.55 L169.13 245.54 L172.15 245.59 L175.18 245.68 L178.2 245.8 L181.22 245.96 L184.24 246.15 L187.27 246.36 L190.29 246.56 L193.31 246.76 L196.33 246.93 L199.36 247.06 L202.38 247.14 L205.4 247.15 L205.4 254.65 L202.38 254.66 L199.36 254.74 L196.33 254.87 L193.31 255.04 L190.29 255.24 L187.27 255.44 L184.24 255.65 L181.22 255.84 L178.2 256 L175.18 256.12 L172.15 256.21 L169.13 256.26 L166.11 256.25 L163.09 256.2 L160.06 256.11 L157.04 255.97 L154.02 255.8 L151 255.61 L147.97 255.41 L144.95 255.2 L141.93 255.01 L138.91 254.84 L135.88 254.72 L132.86 254.66 L129.84 254.66 L126.82 254.72 L123.79 254.84 L120.77 255.01 L117.75 255.2 L114.73 255.41 L111.7 255.61 L108.68 255.8 L105.66 255.97 L102.64 256.11 L99.61 256.2 L96.59 256.25 L93.57 256.26 L90.55 256.21 L87.52 256.12 L84.5 256 L81.48 255.84 L78.46 255.65 L75.43 255.44 L72.41 255.24 L69.39 255.04 L66.37 254.87 L63.34 254.74 L60.32 254.66 L57.3 254.65 Z" fill="#e4b951"/>
<path d="M57.3 247.74 L60.32 247.73 L63.34 247.63 L66.37 247.46 L69.39 247.25 L72.41 247.02 L75.43 246.78 L78.46 246.55 L81.48 246.34 L84.5 246.16 L87.52 246.02 L90.55 245.93 L93.57 245.88 L96.59 245.89 L99.61 245.94 L102.64 246.05 L105.66 246.19 L108.68 246.37 L111.7 246.59 L114.73 246.82 L117.75 247.06 L120.77 247.29 L123.79 247.49 L126.82 247.65 L129.84 247.74 L132.86 247.74 L135.88 247.65 L138.91 247.49 L141.93 247.29 L144.95 247.06 L147.97 246.82 L151 246.59 L154.02 246.37 L157.04 246.19 L160.06 246.05 L163.09 245.94 L166.11 245.89 L169.13 245.88 L172.15 245.93 L175.18 246.02 L178.2 246.16 L181.22 246.34 L184.24 246.55 L187.27 246.78 L190.29 247.02 L193.31 247.25 L196.33 247.46 L199.36 247.63 L202.38 247.73 L205.4 247.74 L205.4 254.06 L202.38 254.07 L199.36 254.17 L196.33 254.34 L193.31 254.55 L190.29 254.78 L187.27 255.02 L184.24 255.25 L181.22 255.46 L178.2 255.64 L175.18 255.78 L172.15 255.87 L169.13 255.92 L166.11 255.91 L163.09 255.86 L160.06 255.75 L157.04 255.61 L154.02 255.43 L151 255.21 L147.97 254.98 L144.95 254.74 L141.93 254.51 L138.91 254.31 L135.88 254.15 L132.86 254.06 L129.84 254.06 L126.82 254.15 L123.79 254.31 L120.77 254.51 L117.75 254.74 L114.73 254.98 L111.7 255.21 L108.68 255.43 L105.66 255.61 L102.64 255.75 L99.61 255.86 L96.59 255.91 L93.57 255.92 L90.55 255.87 L87.52 255.78 L84.5 255.64 L81.48 255.46 L78.46 255.25 L75.43 255.02 L72.41 254.78 L69.39 254.55 L66.37 254.34 L63.34 254.17 L60.32 254.07 L57.3 254.06 Z" fill="#f2b949"/>
<path d="M57.3 248.71 L60.32 248.68 L63.34 248.5 L66.37 248.23 L69.39 247.92 L72.41 247.6 L75.43 247.3 L78.46 247.02 L81.48 246.78 L84.5 246.58 L87.52 246.42 L90.55 246.32 L93.57 246.27 L96.59 246.27 L99.61 246.33 L102.64 246.44 L105.66 246.61 L108.68 246.82 L111.7 247.07 L114.73 247.35 L117.75 247.65 L120.77 247.97 L123.79 248.28 L126.82 248.54 L129.84 248.7 L132.86 248.7 L135.88 248.54 L138.91 248.28 L141.93 247.97 L144.95 247.65 L147.97 247.35 L151 247.07 L154.02 246.82 L157.04 246.61 L160.06 246.44 L163.09 246.33 L166.11 246.27 L169.13 246.27 L172.15 246.32 L175.18 246.42 L178.2 246.58 L181.22 246.78 L184.24 247.02 L187.27 247.3 L190.29 247.6 L193.31 247.92 L196.33 248.23 L199.36 248.5 L202.38 248.68 L205.4 248.71 L205.4 253.09 L202.38 253.12 L199.36 253.3 L196.33 253.57 L193.31 253.88 L190.29 254.2 L187.27 254.5 L184.24 254.78 L181.22 255.02 L178.2 255.22 L175.18 255.38 L172.15 255.48 L169.13 255.53 L166.11 255.53 L163.09 255.47 L160.06 255.36 L157.04 255.19 L154.02 254.98 L151 254.73 L147.97 254.45 L144.95 254.15 L141.93 253.83 L138.91 253.52 L135.88 253.26 L132.86 253.1 L129.84 253.1 L126.82 253.26 L123.79 253.52 L120.77 253.83 L117.75 254.15 L114.73 254.45 L111.7 254.73 L108.68 254.98 L105.66 255.19 L102.64 255.36 L99.61 255.47 L96.59 255.53 L93.57 255.53 L90.55 255.48 L87.52 255.38 L84.5 255.22 L81.48 255.02 L78.46 254.78 L75.43 254.5 L72.41 254.2 L69.39 253.88 L66.37 253.57 L63.34 253.3 L60.32 253.12 L57.3 253.09 Z" fill="#fdbe3e"/>
<path d="M57.3 250.9 L60.32 250.9 L63.34 250.9 L66.37 250.9 L69.39 249.22 L72.41 248.51 L75.43 248.02 L78.46 247.63 L81.48 247.32 L84.5 247.07 L87.52 246.89 L90.55 246.77 L93.57 246.71 L96.59 246.71 L99.61 246.78 L102.64 246.92 L105.66 247.11 L108.68 247.37 L111.7 247.69 L114.73 248.09 L117.75 248.61 L120.77 249.41 L123.79 250.9 L126.82 250.9 L129.84 250.9 L132.86 250.9 L135.88 250.9 L138.91 250.9 L141.93 249.41 L144.95 248.61 L147.97 248.09 L151 247.69 L154.02 247.37 L157.04 247.11 L160.06 246.92 L163.09 246.78 L166.11 246.71 L169.13 246.71 L172.15 246.77 L175.18 246.89 L178.2 247.07 L181.22 247.32 L184.24 247.63 L187.27 248.02 L190.29 248.51 L193.31 249.22 L196.33 250.9 L199.36 250.9 L202.38 250.9 L205.4 250.9 L205.4 250.9 L202.38 250.9 L199.36 250.9 L196.33 250.9 L193.31 252.58 L190.29 253.29 L187.27 253.78 L184.24 254.17 L181.22 254.48 L178.2 254.73 L175.18 254.91 L172.15 255.03 L169.13 255.09 L166.11 255.09 L163.09 255.02 L160.06 254.88 L157.04 254.69 L154.02 254.43 L151 254.11 L147.97 253.71 L144.95 253.19 L141.93 252.39 L138.91 250.9 L135.88 250.9 L132.86 250.9 L129.84 250.9 L126.82 250.9 L123.79 250.9 L120.77 252.39 L117.75 253.19 L114.73 253.71 L111.7 254.11 L108.68 254.43 L105.66 254.69 L102.64 254.88 L99.61 255.02 L96.59 255.09 L93.57 255.09 L90.55 255.03 L87.52 254.91 L84.5 254.73 L81.48 254.48 L78.46 254.17 L75.43 253.78 L72.41 253.29 L69.39 252.58 L66.37 250.9 L63.34 250.9 L60.32 250.9 L57.3 250.9 Z" fill="#fec733"/>
<path d="M57.3 250.9 L60.32 250.9 L63.34 250.9 L66.37 250.9 L69.39 250.9 L72.41 250.9 L75.43 249.93 L78.46 248.64 L81.48 248.1 L84.5 247.74 L87.52 247.49 L90.55 247.33 L93.57 247.26 L96.59 247.26 L99.61 247.35 L102.64 247.52 L105.66 247.79 L108.68 248.17 L111.7 248.76 L114.73 250.9 L117.75 250.9 L120.77 250.9 L123.79 250.9 L126.82 250.9 L129.84 250.9 L132.86 250.9 L135.88 250.9 L138.91 250.9 L141.93 250.9 L144.95 250.9 L147.97 250.9 L151 248.76 L154.02 248.17 L157.04 247.79 L160.06 247.52 L163.09 247.35 L166.11 247.26 L169.13 247.26 L172.15 247.33 L175.18 247.49 L178.2 247.74 L181.22 248.1 L184.24 248.64 L187.27 249.93 L190.29 250.9 L193.31 250.9 L196.33 250.9 L199.36 250.9 L202.38 250.9 L205.4 250.9 L205.4 250.9 L202.38 250.9 L199.36 250.9 L196.33 250.9 L193.31 250.9 L190.29 250.9 L187.27 251.87 L184.24 253.16 L181.22 253.7 L178.2 254.06 L175.18 254.31 L172.15 254.47 L169.13 254.54 L166.11 254.54 L163.09 254.45 L160.06 254.28 L157.04 254.01 L154.02 253.63 L151 253.04 L147.97 250.9 L144.95 250.9 L141.93 250.9 L138.91 250.9 L135.88 250.9 L132.86 250.9 L129.84 250.9 L126.82 250.9 L123.79 250.9 L120.77 250.9 L117.75 250.9 L114.73 250.9 L111.7 253.04 L108.68 253.63 L105.66 254.01 L102.64 254.28 L99.61 254.45 L96.59 254.54 L93.57 254.54 L90.55 254.47 L87.52 254.31 L84.5 254.06 L81.48 253.7 L78.46 253.16 L75.43 251.87 L72.41 250.9 L69.39 250.9 L66.37 250.9 L63.34 250.9 L60.32 250.9 L57.3 250.9 Z" fill="#fbd12b"/>
<path d="M57.3 250.9 L60.32 250.9 L63.34 250.9 L66.37 250.9 L69.39 250.9 L72.41 250.9 L75.43 250.9 L78.46 250.9 L81.48 250.9 L84.5 248.95 L87.52 248.43 L90.55 248.16 L93.57 248.04 L96.59 248.05 L99.61 248.19 L102.64 248.49 L105.66 249.09 L108.68 250.9 L111.7 250.9 L114.73 250.9 L117.75 250.9 L120.77 250.9 L123.79 250.9 L126.82 250.9 L129.84 250.9 L132.86 250.9 L135.88 250.9 L138.91 250.9 L141.93 250.9 L144.95 250.9 L147.97 250.9 L151 250.9 L154.02 250.9 L157.04 249.09 L160.06 248.49 L163.09 248.19 L166.11 248.05 L169.13 248.04 L172.15 248.16 L175.18 248.43 L178.2 248.95 L181.22 250.9 L184.24 250.9 L187.27 250.9 L190.29 250.9 L193.31 250.9 L196.33 250.9 L199.36 250.9 L202.38 250.9 L205.4 250.9 L205.4 250.9 L202.38 250.9 L199.36 250.9 L196.33 250.9 L193.31 250.9 L190.29 250.9 L187.27 250.9 L184.24 250.9 L181.22 250.9 L178.2 252.85 L175.18 253.37 L172.15 253.64 L169.13 253.76 L166.11 253.75 L163.09 253.61 L160.06 253.31 L157.04 252.71 L154.02 250.9 L151 250.9 L147.97 250.9 L144.95 250.9 L141.93 250.9 L138.91 250.9 L135.88 250.9 L132.86 250.9 L129.84 250.9 L126.82 250.9 L123.79 250.9 L120.77 250.9 L117.75 250.9 L114.73 250.9 L111.7 250.9 L108.68 250.9 L105.66 252.71 L102.64 253.31 L99.61 253.61 L96.59 253.75 L93.57 253.76 L90.55 253.64 L87.52 253.37 L84.5 252.85 L81.48 250.9 L78.46 250.9 L75.43 250.9 L72.41 250.9 L69.39 250.9 L66.37 250.9 L63.34 250.9 L60.32 250.9 L57.3 250.9 Z" fill="#f6db24"/>
<ellipse cx="94.83" cy="175.9" rx="8" ry="1.3" fill="#fff" opacity="0.95"/>
<rect x="80.73" y="175" width="2.2" height="1.8" fill="#fff"/>
<rect x="74.73" y="175" width="3.2" height="1.8" fill="#fff"/>
<rect x="70.17" y="175" width="1.3" height="1.8" fill="#fff"/>
<rect x="65.08" y="175" width="2.5" height="1.8" fill="#fff"/>
<rect x="106.73" y="175" width="2.2" height="1.8" fill="#fff"/>
<rect x="111.73" y="175" width="3.2" height="1.8" fill="#fff"/>
<rect x="118.17" y="175" width="1.3" height="1.8" fill="#fff"/>
<rect x="122.08" y="175" width="2.5" height="1.8" fill="#fff"/>
<ellipse cx="167.88" cy="175.9" rx="8" ry="1.3" fill="#fff" opacity="0.95"/>
<rect x="153.78" y="175" width="2.2" height="1.8" fill="#fff"/>
<rect x="147.78" y="175" width="3.2" height="1.8" fill="#fff"/>
<rect x="143.22" y="175" width="1.3" height="1.8" fill="#fff"/>
<rect x="138.12" y="175" width="2.5" height="1.8" fill="#fff"/>
<rect x="179.78" y="175" width="2.2" height="1.8" fill="#fff"/>
<rect x="184.78" y="175" width="3.2" height="1.8" fill="#fff"/>
<rect x="191.22" y="175" width="1.3" height="1.8" fill="#fff"/>
<rect x="195.12" y="175" width="2.5" height="1.8" fill="#fff"/>
<rect x="54.8" y="174.9" width="7" height="2" fill="#fff"/>
<rect x="127.85" y="174.9" width="7" height="2" fill="#fff"/>
<rect x="200.9" y="174.9" width="7" height="2" fill="#fff"/>
<path d="M63.78 251 L71.28 249.8 L71.28 252.2 Z" fill="#fff"/>
<path d="M74.62 251 L79.03 249.8 L79.03 252.2 Z" fill="#fff"/>
<path d="M82.28 251 L90.97 249.8 L90.97 252.2 Z" fill="#fff"/>
<path d="M97.62 249.8 L104.22 251 L97.62 252.2 Z" fill="#fff"/>
<path d="M108.58 249.8 L113.08 251 L108.58 252.2 Z" fill="#fff"/>
<path d="M116.22 249.8 L126.03 251 L116.22 252.2 Z" fill="#fff"/>
<path d="M136.82 251 L144.32 249.8 L144.32 252.2 Z" fill="#fff"/>
<path d="M147.68 251 L152.07 249.8 L152.07 252.2 Z" fill="#fff"/>
<path d="M155.33 251 L164.03 249.8 L164.03 252.2 Z" fill="#fff"/>
<path d="M170.67 249.8 L177.28 251 L170.67 252.2 Z" fill="#fff"/>
<path d="M181.62 249.8 L186.12 251 L181.62 252.2 Z" fill="#fff"/>
<path d="M189.28 249.8 L199.08 251 L189.28 252.2 Z" fill="#fff"/>
</g>
<ellipse cx="247.8" cy="188" rx="2.6" ry="3.2" fill="none" stroke="#3b2e9c" stroke-width="1.5"/>
<ellipse cx="266" cy="188" rx="4.4" ry="4.9" fill="none" stroke="#3b2e9c" stroke-width="1.5"/>
<ellipse cx="284.1" cy="188" rx="2.6" ry="3.1" fill="none" stroke="#3b2e9c" stroke-width="1.5"/>
<path d="M255.7 213.5 L255.62 216.54 L255.39 218.74 L255 220.62 L254.47 222.26 L253.79 223.66 L252.96 224.81 L252 225.72 L250.89 226.37 L249.59 226.77 L247.8 226.9 L246.01 226.77 L244.71 226.37 L243.6 225.72 L242.64 224.81 L241.81 223.66 L241.13 222.26 L240.6 220.62 L240.21 218.74 L239.98 216.54 L239.9 213.5 L239.98 210.46 L240.21 208.26 L240.6 206.38 L241.13 204.74 L241.81 203.34 L242.64 202.19 L243.6 201.28 L244.71 200.63 L246.01 200.23 L247.8 200.1 L249.59 200.23 L250.89 200.63 L252 201.28 L252.96 202.19 L253.79 203.34 L254.47 204.74 L255 206.38 L255.39 208.26 L255.62 210.46 Z" fill="#3637a2"/>
<path d="M254.31 213.5 L254.24 216 L254.05 217.82 L253.74 219.37 L253.29 220.72 L252.73 221.87 L252.06 222.82 L251.26 223.57 L250.34 224.11 L249.28 224.43 L247.8 224.54 L246.32 224.43 L245.26 224.11 L244.34 223.57 L243.54 222.82 L242.87 221.87 L242.31 220.72 L241.86 219.37 L241.55 217.82 L241.36 216 L241.29 213.5 L241.36 211 L241.55 209.18 L241.86 207.63 L242.31 206.28 L242.87 205.13 L243.54 204.18 L244.34 203.43 L245.26 202.89 L246.32 202.57 L247.8 202.46 L249.28 202.57 L250.34 202.89 L251.26 203.43 L252.06 204.18 L252.73 205.13 L253.29 206.28 L253.74 207.63 L254.05 209.18 L254.24 211 Z" fill="#2f47c0"/>
<path d="M253.55 213.5 L253.49 215.71 L253.32 217.31 L253.04 218.68 L252.65 219.87 L252.16 220.89 L251.56 221.73 L250.86 222.39 L250.05 222.87 L249.1 223.15 L247.8 223.25 L246.5 223.15 L245.55 222.87 L244.74 222.39 L244.04 221.73 L243.44 220.89 L242.95 219.87 L242.56 218.68 L242.28 217.31 L242.11 215.71 L242.05 213.5 L242.11 211.29 L242.28 209.69 L242.56 208.32 L242.95 207.13 L243.44 206.11 L244.04 205.27 L244.74 204.61 L245.55 204.13 L246.5 203.85 L247.8 203.75 L249.1 203.85 L250.05 204.13 L250.86 204.61 L251.56 205.27 L252.16 206.11 L252.65 207.13 L253.04 208.32 L253.32 209.69 L253.49 211.29 Z" fill="#115bdd"/>
<path d="M252.96 213.5 L252.91 215.49 L252.76 216.92 L252.51 218.16 L252.16 219.23 L251.71 220.14 L251.18 220.89 L250.55 221.49 L249.82 221.91 L248.97 222.17 L247.8 222.26 L246.63 222.17 L245.78 221.91 L245.05 221.49 L244.42 220.89 L243.89 220.14 L243.44 219.23 L243.09 218.16 L242.84 216.92 L242.69 215.49 L242.64 213.5 L242.69 211.51 L242.84 210.08 L243.09 208.84 L243.44 207.77 L243.89 206.86 L244.42 206.11 L245.05 205.51 L245.78 205.09 L246.63 204.83 L247.8 204.74 L248.97 204.83 L249.82 205.09 L250.55 205.51 L251.18 206.11 L251.71 206.86 L252.16 207.77 L252.51 208.84 L252.76 210.08 L252.91 211.51 Z" fill="#026ae1"/>
<path d="M252.46 213.5 L252.41 215.29 L252.27 216.59 L252.05 217.7 L251.73 218.66 L251.33 219.49 L250.84 220.17 L250.28 220.7 L249.62 221.09 L248.86 221.32 L247.8 221.4 L246.74 221.32 L245.98 221.09 L245.32 220.7 L244.76 220.17 L244.27 219.49 L243.87 218.66 L243.55 217.7 L243.33 216.59 L243.19 215.29 L243.14 213.5 L243.19 211.71 L243.33 210.41 L243.55 209.3 L243.87 208.34 L244.27 207.51 L244.76 206.83 L245.32 206.3 L245.98 205.91 L246.74 205.68 L247.8 205.6 L248.86 205.68 L249.62 205.91 L250.28 206.3 L250.84 206.83 L251.33 207.51 L251.73 208.34 L252.05 209.3 L252.27 210.41 L252.41 211.71 Z" fill="#0b74dd"/>
<path d="M251.99 213.5 L251.95 215.11 L251.82 216.28 L251.62 217.28 L251.33 218.14 L250.97 218.88 L250.54 219.49 L250.03 219.97 L249.44 220.32 L248.75 220.53 L247.8 220.6 L246.85 220.53 L246.16 220.32 L245.57 219.97 L245.06 219.49 L244.63 218.88 L244.27 218.14 L243.98 217.28 L243.78 216.28 L243.65 215.11 L243.61 213.5 L243.65 211.89 L243.78 210.72 L243.98 209.72 L244.27 208.86 L244.63 208.12 L245.06 207.51 L245.57 207.03 L246.16 206.68 L246.85 206.47 L247.8 206.4 L248.75 206.47 L249.44 206.68 L250.03 207.03 L250.54 207.51 L250.97 208.12 L251.33 208.86 L251.62 209.72 L251.82 210.72 L251.95 211.89 Z" fill="#137dd8"/>
<path d="M251.52 213.5 L251.49 214.93 L251.38 215.97 L251.2 216.86 L250.94 217.63 L250.62 218.29 L250.23 218.83 L249.78 219.26 L249.26 219.57 L248.64 219.76 L247.8 219.82 L246.96 219.76 L246.34 219.57 L245.82 219.26 L245.37 218.83 L244.98 218.29 L244.66 217.63 L244.4 216.86 L244.22 215.97 L244.11 214.93 L244.08 213.5 L244.11 212.07 L244.22 211.03 L244.4 210.14 L244.66 209.37 L244.98 208.71 L245.37 208.17 L245.82 207.74 L246.34 207.43 L246.96 207.24 L247.8 207.18 L248.64 207.24 L249.26 207.43 L249.78 207.74 L250.23 208.17 L250.62 208.71 L250.94 209.37 L251.2 210.14 L251.38 211.03 L251.49 212.07 Z" fill="#1487d3"/>
<path d="M251.05 213.5 L251.02 214.75 L250.92 215.65 L250.76 216.43 L250.54 217.1 L250.26 217.68 L249.92 218.15 L249.53 218.52 L249.07 218.79 L248.54 218.96 L247.8 219.01 L247.06 218.96 L246.53 218.79 L246.07 218.52 L245.68 218.15 L245.34 217.68 L245.06 217.1 L244.84 216.43 L244.68 215.65 L244.58 214.75 L244.55 213.5 L244.58 212.25 L244.68 211.35 L244.84 210.57 L245.06 209.9 L245.34 209.32 L245.68 208.85 L246.07 208.48 L246.53 208.21 L247.06 208.04 L247.8 207.99 L248.54 208.04 L249.07 208.21 L249.53 208.48 L249.92 208.85 L250.26 209.32 L250.54 209.9 L250.76 210.57 L250.92 211.35 L251.02 212.25 Z" fill="#0d92d2"/>
<path d="M250.52 213.5 L250.5 214.55 L250.42 215.31 L250.28 215.96 L250.1 216.52 L249.86 217 L249.58 217.4 L249.25 217.71 L248.86 217.94 L248.42 218.07 L247.8 218.12 L247.18 218.07 L246.74 217.94 L246.35 217.71 L246.02 217.4 L245.74 217 L245.5 216.52 L245.32 215.96 L245.18 215.31 L245.1 214.55 L245.08 213.5 L245.1 212.45 L245.18 211.69 L245.32 211.04 L245.5 210.48 L245.74 210 L246.02 209.6 L246.35 209.29 L246.74 209.06 L247.18 208.93 L247.8 208.88 L248.42 208.93 L248.86 209.06 L249.25 209.29 L249.58 209.6 L249.86 210 L250.1 210.48 L250.28 211.04 L250.42 211.69 L250.5 212.45 Z" fill="#079dcf"/>
<path d="M249.88 213.5 L249.86 214.3 L249.8 214.88 L249.7 215.37 L249.55 215.81 L249.38 216.17 L249.16 216.48 L248.91 216.72 L248.61 216.89 L248.27 216.99 L247.8 217.03 L247.33 216.99 L246.99 216.89 L246.69 216.72 L246.44 216.48 L246.22 216.17 L246.05 215.81 L245.9 215.37 L245.8 214.88 L245.74 214.3 L245.72 213.5 L245.74 212.7 L245.8 212.12 L245.9 211.63 L246.05 211.19 L246.22 210.83 L246.44 210.52 L246.69 210.28 L246.99 210.11 L247.33 210.01 L247.8 209.97 L248.27 210.01 L248.61 210.11 L248.91 210.28 L249.16 210.52 L249.38 210.83 L249.55 211.19 L249.7 211.63 L249.8 212.12 L249.86 212.7 Z" fill="#06a6c7"/>
<path d="M248.73 213.5 L248.72 213.86 L248.69 214.11 L248.65 214.34 L248.58 214.53 L248.5 214.69 L248.41 214.83 L248.29 214.93 L248.16 215.01 L248.01 215.06 L247.8 215.07 L247.59 215.06 L247.44 215.01 L247.31 214.93 L247.19 214.83 L247.1 214.69 L247.02 214.53 L246.95 214.34 L246.91 214.11 L246.88 213.86 L246.87 213.5 L246.88 213.14 L246.91 212.89 L246.95 212.66 L247.02 212.47 L247.1 212.31 L247.19 212.17 L247.31 212.07 L247.44 211.99 L247.59 211.94 L247.8 211.93 L248.01 211.94 L248.16 211.99 L248.29 212.07 L248.41 212.17 L248.5 212.31 L248.58 212.47 L248.65 212.66 L248.69 212.89 L248.72 213.14 Z" fill="#0aacbe"/>
<path d="M292 213.5 L291.92 216.54 L291.69 218.74 L291.3 220.62 L290.77 222.26 L290.09 223.66 L289.26 224.81 L288.3 225.72 L287.19 226.37 L285.89 226.77 L284.1 226.9 L282.31 226.77 L281.01 226.37 L279.9 225.72 L278.94 224.81 L278.11 223.66 L277.43 222.26 L276.9 220.62 L276.51 218.74 L276.28 216.54 L276.2 213.5 L276.28 210.46 L276.51 208.26 L276.9 206.38 L277.43 204.74 L278.11 203.34 L278.94 202.19 L279.9 201.28 L281.01 200.63 L282.31 200.23 L284.1 200.1 L285.89 200.23 L287.19 200.63 L288.3 201.28 L289.26 202.19 L290.09 203.34 L290.77 204.74 L291.3 206.38 L291.69 208.26 L291.92 210.46 Z" fill="#3637a2"/>
<path d="M290.61 213.5 L290.54 216 L290.35 217.82 L290.04 219.37 L289.59 220.72 L289.03 221.87 L288.36 222.82 L287.56 223.57 L286.64 224.11 L285.58 224.43 L284.1 224.54 L282.62 224.43 L281.56 224.11 L280.64 223.57 L279.84 222.82 L279.17 221.87 L278.61 220.72 L278.16 219.37 L277.85 217.82 L277.66 216 L277.59 213.5 L277.66 211 L277.85 209.18 L278.16 207.63 L278.61 206.28 L279.17 205.13 L279.84 204.18 L280.64 203.43 L281.56 202.89 L282.62 202.57 L284.1 202.46 L285.58 202.57 L286.64 202.89 L287.56 203.43 L288.36 204.18 L289.03 205.13 L289.59 206.28 L290.04 207.63 L290.35 209.18 L290.54 211 Z" fill="#2f47c0"/>
<path d="M289.85 213.5 L289.79 215.71 L289.62 217.31 L289.34 218.68 L288.95 219.87 L288.46 220.89 L287.86 221.73 L287.16 222.39 L286.35 222.87 L285.4 223.15 L284.1 223.25 L282.8 223.15 L281.85 222.87 L281.04 222.39 L280.34 221.73 L279.74 220.89 L279.25 219.87 L278.86 218.68 L278.58 217.31 L278.41 215.71 L278.35 213.5 L278.41 211.29 L278.58 209.69 L278.86 208.32 L279.25 207.13 L279.74 206.11 L280.34 205.27 L281.04 204.61 L281.85 204.13 L282.8 203.85 L284.1 203.75 L285.4 203.85 L286.35 204.13 L287.16 204.61 L287.86 205.27 L288.46 206.11 L288.95 207.13 L289.34 208.32 L289.62 209.69 L289.79 211.29 Z" fill="#115bdd"/>
<path d="M289.26 213.5 L289.21 215.49 L289.06 216.92 L288.81 218.16 L288.46 219.23 L288.01 220.14 L287.48 220.89 L286.85 221.49 L286.12 221.91 L285.27 222.17 L284.1 222.26 L282.93 222.17 L282.08 221.91 L281.35 221.49 L280.72 220.89 L280.19 220.14 L279.74 219.23 L279.39 218.16 L279.14 216.92 L278.99 215.49 L278.94 213.5 L278.99 211.51 L279.14 210.08 L279.39 208.84 L279.74 207.77 L280.19 206.86 L280.72 206.11 L281.35 205.51 L282.08 205.09 L282.93 204.83 L284.1 204.74 L285.27 204.83 L286.12 205.09 L286.85 205.51 L287.48 206.11 L288.01 206.86 L288.46 207.77 L288.81 208.84 L289.06 210.08 L289.21 211.51 Z" fill="#026ae1"/>
<path d="M288.76 213.5 L288.71 215.29 L288.57 216.59 L288.35 217.7 L288.03 218.66 L287.63 219.49 L287.14 220.17 L286.58 220.7 L285.92 221.09 L285.16 221.32 L284.1 221.4 L283.04 221.32 L282.28 221.09 L281.62 220.7 L281.06 220.17 L280.57 219.49 L280.17 218.66 L279.85 217.7 L279.63 216.59 L279.49 215.29 L279.44 213.5 L279.49 211.71 L279.63 210.41 L279.85 209.3 L280.17 208.34 L280.57 207.51 L281.06 206.83 L281.62 206.3 L282.28 205.91 L283.04 205.68 L284.1 205.6 L285.16 205.68 L285.92 205.91 L286.58 206.3 L287.14 206.83 L287.63 207.51 L288.03 208.34 L288.35 209.3 L288.57 210.41 L288.71 211.71 Z" fill="#0b74dd"/>
<path d="M288.29 213.5 L288.25 215.11 L288.12 216.28 L287.92 217.28 L287.63 218.14 L287.27 218.88 L286.84 219.49 L286.33 219.97 L285.74 220.32 L285.05 220.53 L284.1 220.6 L283.15 220.53 L282.46 220.32 L281.87 219.97 L281.36 219.49 L280.93 218.88 L280.57 218.14 L280.28 217.28 L280.08 216.28 L279.95 215.11 L279.91 213.5 L279.95 211.89 L280.08 210.72 L280.28 209.72 L280.57 208.86 L280.93 208.12 L281.36 207.51 L281.87 207.03 L282.46 206.68 L283.15 206.47 L284.1 206.4 L285.05 206.47 L285.74 206.68 L286.33 207.03 L286.84 207.51 L287.27 208.12 L287.63 208.86 L287.92 209.72 L288.12 210.72 L288.25 211.89 Z" fill="#137dd8"/>
<path d="M287.82 213.5 L287.79 214.93 L287.68 215.97 L287.5 216.86 L287.24 217.63 L286.92 218.29 L286.53 218.83 L286.08 219.26 L285.56 219.57 L284.94 219.76 L284.1 219.82 L283.26 219.76 L282.64 219.57 L282.12 219.26 L281.67 218.83 L281.28 218.29 L280.96 217.63 L280.7 216.86 L280.52 215.97 L280.41 214.93 L280.38 213.5 L280.41 212.07 L280.52 211.03 L280.7 210.14 L280.96 209.37 L281.28 208.71 L281.67 208.17 L282.12 207.74 L282.64 207.43 L283.26 207.24 L284.1 207.18 L284.94 207.24 L285.56 207.43 L286.08 207.74 L286.53 208.17 L286.92 208.71 L287.24 209.37 L287.5 210.14 L287.68 211.03 L287.79 212.07 Z" fill="#1487d3"/>
<path d="M287.35 213.5 L287.32 214.75 L287.22 215.65 L287.06 216.43 L286.84 217.1 L286.56 217.68 L286.22 218.15 L285.83 218.52 L285.37 218.79 L284.84 218.96 L284.1 219.01 L283.36 218.96 L282.83 218.79 L282.37 218.52 L281.98 218.15 L281.64 217.68 L281.36 217.1 L281.14 216.43 L280.98 215.65 L280.88 214.75 L280.85 213.5 L280.88 212.25 L280.98 211.35 L281.14 210.57 L281.36 209.9 L281.64 209.32 L281.98 208.85 L282.37 208.48 L282.83 208.21 L283.36 208.04 L284.1 207.99 L284.84 208.04 L285.37 208.21 L285.83 208.48 L286.22 208.85 L286.56 209.32 L286.84 209.9 L287.06 210.57 L287.22 211.35 L287.32 212.25 Z" fill="#0d92d2"/>
<path d="M286.82 213.5 L286.8 214.55 L286.72 215.31 L286.58 215.96 L286.4 216.52 L286.16 217 L285.88 217.4 L285.55 217.71 L285.16 217.94 L284.72 218.07 L284.1 218.12 L283.48 218.07 L283.04 217.94 L282.65 217.71 L282.32 217.4 L282.04 217 L281.8 216.52 L281.62 215.96 L281.48 215.31 L281.4 214.55 L281.38 213.5 L281.4 212.45 L281.48 211.69 L281.62 211.04 L281.8 210.48 L282.04 210 L282.32 209.6 L282.65 209.29 L283.04 209.06 L283.48 208.93 L284.1 208.88 L284.72 208.93 L285.16 209.06 L285.55 209.29 L285.88 209.6 L286.16 210 L286.4 210.48 L286.58 211.04 L286.72 211.69 L286.8 212.45 Z" fill="#079dcf"/>
<path d="M286.18 213.5 L286.16 214.3 L286.1 214.88 L286 215.37 L285.85 215.81 L285.68 216.17 L285.46 216.48 L285.21 216.72 L284.91 216.89 L284.57 216.99 L284.1 217.03 L283.63 216.99 L283.29 216.89 L282.99 216.72 L282.74 216.48 L282.52 216.17 L282.35 215.81 L282.2 215.37 L282.1 214.88 L282.04 214.3 L282.02 213.5 L282.04 212.7 L282.1 212.12 L282.2 211.63 L282.35 211.19 L282.52 210.83 L282.74 210.52 L282.99 210.28 L283.29 210.11 L283.63 210.01 L284.1 209.97 L284.57 210.01 L284.91 210.11 L285.21 210.28 L285.46 210.52 L285.68 210.83 L285.85 211.19 L286 211.63 L286.1 212.12 L286.16 212.7 Z" fill="#06a6c7"/>
<path d="M285.03 213.5 L285.02 213.86 L284.99 214.11 L284.95 214.34 L284.88 214.53 L284.8 214.69 L284.71 214.83 L284.59 214.93 L284.46 215.01 L284.31 215.06 L284.1 215.07 L283.89 215.06 L283.74 215.01 L283.61 214.93 L283.49 214.83 L283.4 214.69 L283.32 214.53 L283.25 214.34 L283.21 214.11 L283.18 213.86 L283.17 213.5 L283.18 213.14 L283.21 212.89 L283.25 212.66 L283.32 212.47 L283.4 212.31 L283.49 212.17 L283.61 212.07 L283.74 211.99 L283.89 211.94 L284.1 211.93 L284.31 211.94 L284.46 211.99 L284.59 212.07 L284.71 212.17 L284.8 212.31 L284.88 212.47 L284.95 212.66 L284.99 212.89 L285.02 213.14 Z" fill="#0aacbe"/>
<path d="M274.7 213.5 L274.61 216.74 L274.36 219.09 L273.93 221.1 L273.34 222.85 L272.59 224.34 L271.69 225.57 L270.63 226.54 L269.4 227.24 L267.97 227.66 L266 227.8 L264.03 227.66 L262.6 227.24 L261.37 226.54 L260.31 225.57 L259.41 224.34 L258.66 222.85 L258.07 221.1 L257.64 219.09 L257.39 216.74 L257.3 213.5 L257.39 210.26 L257.64 207.91 L258.07 205.9 L258.66 204.15 L259.41 202.66 L260.31 201.43 L261.37 200.46 L262.6 199.76 L264.03 199.34 L266 199.2 L267.97 199.34 L269.4 199.76 L270.63 200.46 L271.69 201.43 L272.59 202.66 L273.34 204.15 L273.93 205.9 L274.36 207.91 L274.61 210.26 Z" fill="#3637a2"/>
<path d="M273.54 213.5 L273.47 216.31 L273.25 218.35 L272.88 220.09 L272.37 221.6 L271.72 222.9 L270.93 223.96 L270.01 224.81 L268.95 225.41 L267.71 225.78 L266 225.9 L264.29 225.78 L263.05 225.41 L261.99 224.81 L261.07 223.96 L260.28 222.9 L259.63 221.6 L259.12 220.09 L258.75 218.35 L258.53 216.31 L258.46 213.5 L258.53 210.69 L258.75 208.65 L259.12 206.91 L259.63 205.4 L260.28 204.1 L261.07 203.04 L261.99 202.19 L263.05 201.59 L264.29 201.22 L266 201.1 L267.71 201.22 L268.95 201.59 L270.01 202.19 L270.93 203.04 L271.72 204.1 L272.37 205.4 L272.88 206.91 L273.25 208.65 L273.47 210.69 Z" fill="#2f47c0"/>
<path d="M272.95 213.5 L272.89 216.09 L272.68 217.97 L272.34 219.58 L271.87 220.97 L271.27 222.16 L270.55 223.15 L269.7 223.92 L268.72 224.48 L267.58 224.82 L266 224.93 L264.42 224.82 L263.28 224.48 L262.3 223.92 L261.45 223.15 L260.73 222.16 L260.13 220.97 L259.66 219.58 L259.32 217.97 L259.11 216.09 L259.05 213.5 L259.11 210.91 L259.32 209.03 L259.66 207.42 L260.13 206.03 L260.73 204.84 L261.45 203.85 L262.3 203.08 L263.28 202.52 L264.42 202.18 L266 202.07 L267.58 202.18 L268.72 202.52 L269.7 203.08 L270.55 203.85 L271.27 204.84 L271.87 206.03 L272.34 207.42 L272.68 209.03 L272.89 210.91 Z" fill="#115bdd"/>
<path d="M272.53 213.5 L272.47 215.93 L272.27 217.7 L271.96 219.21 L271.51 220.52 L270.95 221.64 L270.27 222.56 L269.47 223.29 L268.55 223.81 L267.48 224.13 L266 224.24 L264.52 224.13 L263.45 223.81 L262.53 223.29 L261.73 222.56 L261.05 221.64 L260.49 220.52 L260.04 219.21 L259.73 217.7 L259.53 215.93 L259.47 213.5 L259.53 211.07 L259.73 209.3 L260.04 207.79 L260.49 206.48 L261.05 205.36 L261.73 204.44 L262.53 203.71 L263.45 203.19 L264.52 202.87 L266 202.76 L267.48 202.87 L268.55 203.19 L269.47 203.71 L270.27 204.44 L270.95 205.36 L271.51 206.48 L271.96 207.79 L272.27 209.3 L272.47 211.07 Z" fill="#026ae1"/>
<path d="M272.19 213.5 L272.13 215.81 L271.95 217.48 L271.64 218.91 L271.22 220.15 L270.69 221.21 L270.05 222.09 L269.29 222.78 L268.42 223.27 L267.4 223.57 L266 223.67 L264.6 223.57 L263.58 223.27 L262.71 222.78 L261.95 222.09 L261.31 221.21 L260.78 220.15 L260.36 218.91 L260.05 217.48 L259.87 215.81 L259.81 213.5 L259.87 211.19 L260.05 209.52 L260.36 208.09 L260.78 206.85 L261.31 205.79 L261.95 204.91 L262.71 204.22 L263.58 203.73 L264.6 203.43 L266 203.33 L267.4 203.43 L268.42 203.73 L269.29 204.22 L270.05 204.91 L270.69 205.79 L271.22 206.85 L271.64 208.09 L271.95 209.52 L272.13 211.19 Z" fill="#0b74dd"/>
<path d="M271.9 213.5 L271.84 215.7 L271.66 217.29 L271.38 218.65 L270.98 219.83 L270.47 220.84 L269.85 221.68 L269.13 222.34 L268.3 222.81 L267.34 223.09 L266 223.19 L264.66 223.09 L263.7 222.81 L262.87 222.34 L262.15 221.68 L261.53 220.84 L261.02 219.83 L260.62 218.65 L260.34 217.29 L260.16 215.7 L260.1 213.5 L260.16 211.3 L260.34 209.71 L260.62 208.35 L261.02 207.17 L261.53 206.16 L262.15 205.32 L262.87 204.66 L263.7 204.19 L264.66 203.91 L266 203.81 L267.34 203.91 L268.3 204.19 L269.13 204.66 L269.85 205.32 L270.47 206.16 L270.98 207.17 L271.38 208.35 L271.66 209.71 L271.84 211.3 Z" fill="#137dd8"/>
<path d="M271.63 213.5 L271.58 215.6 L271.41 217.12 L271.14 218.42 L270.76 219.55 L270.27 220.52 L269.68 221.32 L269 221.94 L268.2 222.4 L267.28 222.67 L266 222.76 L264.72 222.67 L263.8 222.4 L263 221.94 L262.32 221.32 L261.73 220.52 L261.24 219.55 L260.86 218.42 L260.59 217.12 L260.42 215.6 L260.37 213.5 L260.42 211.4 L260.59 209.88 L260.86 208.58 L261.24 207.45 L261.73 206.48 L262.32 205.68 L263 205.06 L263.8 204.6 L264.72 204.33 L266 204.24 L267.28 204.33 L268.2 204.6 L269 205.06 L269.68 205.68 L270.27 206.48 L270.76 207.45 L271.14 208.58 L271.41 209.88 L271.58 211.4 Z" fill="#1487d3"/>
<path d="M271.4 213.5 L271.34 215.51 L271.18 216.97 L270.92 218.22 L270.55 219.3 L270.09 220.22 L269.53 220.99 L268.87 221.59 L268.11 222.02 L267.22 222.28 L266 222.37 L264.78 222.28 L263.89 222.02 L263.13 221.59 L262.47 220.99 L261.91 220.22 L261.45 219.3 L261.08 218.22 L260.82 216.97 L260.66 215.51 L260.6 213.5 L260.66 211.49 L260.82 210.03 L261.08 208.78 L261.45 207.7 L261.91 206.78 L262.47 206.01 L263.13 205.41 L263.89 204.98 L264.78 204.72 L266 204.63 L267.22 204.72 L268.11 204.98 L268.87 205.41 L269.53 206.01 L270.09 206.78 L270.55 207.7 L270.92 208.78 L271.18 210.03 L271.34 211.49 Z" fill="#0d92d2"/>
<path d="M271.17 213.5 L271.12 215.43 L270.97 216.82 L270.72 218.02 L270.37 219.06 L269.92 219.95 L269.38 220.68 L268.75 221.25 L268.02 221.67 L267.17 221.92 L266 222 L264.83 221.92 L263.98 221.67 L263.25 221.25 L262.62 220.68 L262.08 219.95 L261.63 219.06 L261.28 218.02 L261.03 216.82 L260.88 215.43 L260.83 213.5 L260.88 211.57 L261.03 210.18 L261.28 208.98 L261.63 207.94 L262.08 207.05 L262.62 206.32 L263.25 205.75 L263.98 205.33 L264.83 205.08 L266 205 L267.17 205.08 L268.02 205.33 L268.75 205.75 L269.38 206.32 L269.92 207.05 L270.37 207.94 L270.72 208.98 L270.97 210.18 L271.12 211.57 Z" fill="#079dcf"/>
<path d="M270.96 213.5 L270.92 215.35 L270.77 216.69 L270.53 217.84 L270.19 218.83 L269.76 219.68 L269.25 220.39 L268.64 220.94 L267.94 221.34 L267.13 221.58 L266 221.66 L264.87 221.58 L264.06 221.34 L263.36 220.94 L262.75 220.39 L262.24 219.68 L261.81 218.83 L261.47 217.84 L261.23 216.69 L261.08 215.35 L261.04 213.5 L261.08 211.65 L261.23 210.31 L261.47 209.16 L261.81 208.17 L262.24 207.32 L262.75 206.61 L263.36 206.06 L264.06 205.66 L264.87 205.42 L266 205.34 L267.13 205.42 L267.94 205.66 L268.64 206.06 L269.25 206.61 L269.76 207.32 L270.19 208.17 L270.53 209.16 L270.77 210.31 L270.92 211.65 Z" fill="#06a6c7"/>
<path d="M270.76 213.5 L270.72 215.28 L270.58 216.56 L270.34 217.66 L270.02 218.62 L269.61 219.43 L269.11 220.11 L268.53 220.64 L267.86 221.02 L267.08 221.25 L266 221.33 L264.92 221.25 L264.14 221.02 L263.47 220.64 L262.89 220.11 L262.39 219.43 L261.98 218.62 L261.66 217.66 L261.42 216.56 L261.28 215.28 L261.24 213.5 L261.28 211.72 L261.42 210.44 L261.66 209.34 L261.98 208.38 L262.39 207.57 L262.89 206.89 L263.47 206.36 L264.14 205.98 L264.92 205.75 L266 205.67 L267.08 205.75 L267.86 205.98 L268.53 206.36 L269.11 206.89 L269.61 207.57 L270.02 208.38 L270.34 209.34 L270.58 210.44 L270.72 211.72 Z" fill="#0aacbe"/>
<path d="M270.57 213.5 L270.53 215.2 L270.39 216.44 L270.17 217.49 L269.86 218.41 L269.46 219.19 L268.99 219.84 L268.43 220.35 L267.79 220.72 L267.04 220.94 L266 221.01 L264.96 220.94 L264.21 220.72 L263.57 220.35 L263.01 219.84 L262.54 219.19 L262.14 218.41 L261.83 217.49 L261.61 216.44 L261.47 215.2 L261.43 213.5 L261.47 211.8 L261.61 210.56 L261.83 209.51 L262.14 208.59 L262.54 207.81 L263.01 207.16 L263.57 206.65 L264.21 206.28 L264.96 206.06 L266 205.99 L267.04 206.06 L267.79 206.28 L268.43 206.65 L268.99 207.16 L269.46 207.81 L269.86 208.59 L270.17 209.51 L270.39 210.56 L270.53 211.8 Z" fill="#18b2b2"/>
<path d="M270.38 213.5 L270.34 215.13 L270.21 216.31 L269.99 217.33 L269.7 218.21 L269.32 218.96 L268.86 219.58 L268.33 220.07 L267.71 220.42 L266.99 220.63 L266 220.7 L265.01 220.63 L264.29 220.42 L263.67 220.07 L263.14 219.58 L262.68 218.96 L262.3 218.21 L262.01 217.33 L261.79 216.31 L261.66 215.13 L261.62 213.5 L261.66 211.87 L261.79 210.69 L262.01 209.67 L262.3 208.79 L262.68 208.04 L263.14 207.42 L263.67 206.93 L264.29 206.58 L265.01 206.37 L266 206.3 L266.99 206.37 L267.71 206.58 L268.33 206.93 L268.86 207.42 L269.32 208.04 L269.7 208.79 L269.99 209.67 L270.21 210.69 L270.34 211.87 Z" fill="#2cb7a5"/>
<path d="M270.2 213.5 L270.15 215.06 L270.03 216.2 L269.83 217.17 L269.54 218.01 L269.18 218.73 L268.74 219.32 L268.23 219.79 L267.64 220.12 L266.95 220.33 L266 220.4 L265.05 220.33 L264.36 220.12 L263.77 219.79 L263.26 219.32 L262.82 218.73 L262.46 218.01 L262.17 217.17 L261.97 216.2 L261.85 215.06 L261.8 213.5 L261.85 211.94 L261.97 210.8 L262.17 209.83 L262.46 208.99 L262.82 208.27 L263.26 207.68 L263.77 207.21 L264.36 206.88 L265.05 206.67 L266 206.6 L266.95 206.67 L267.64 206.88 L268.23 207.21 L268.74 207.68 L269.18 208.27 L269.54 208.99 L269.83 209.83 L270.03 210.8 L270.15 211.94 Z" fill="#44bb97"/>
<path d="M270.01 213.5 L269.97 214.99 L269.85 216.08 L269.66 217.01 L269.39 217.81 L269.04 218.5 L268.62 219.07 L268.13 219.51 L267.57 219.83 L266.91 220.03 L266 220.09 L265.09 220.03 L264.43 219.83 L263.87 219.51 L263.38 219.07 L262.96 218.5 L262.61 217.81 L262.34 217.01 L262.15 216.08 L262.03 214.99 L261.99 213.5 L262.03 212.01 L262.15 210.92 L262.34 209.99 L262.61 209.19 L262.96 208.5 L263.38 207.93 L263.87 207.49 L264.43 207.17 L265.09 206.97 L266 206.91 L266.91 206.97 L267.57 207.17 L268.13 207.49 L268.62 207.93 L269.04 208.5 L269.39 209.19 L269.66 209.99 L269.85 210.92 L269.97 212.01 Z" fill="#5fbe88"/>
<path d="M269.83 213.5 L269.79 214.93 L269.68 215.96 L269.49 216.84 L269.23 217.61 L268.9 218.27 L268.5 218.81 L268.03 219.24 L267.5 219.54 L266.87 219.73 L266 219.79 L265.13 219.73 L264.5 219.54 L263.97 219.24 L263.5 218.81 L263.1 218.27 L262.77 217.61 L262.51 216.84 L262.32 215.96 L262.21 214.93 L262.17 213.5 L262.21 212.07 L262.32 211.04 L262.51 210.16 L262.77 209.39 L263.1 208.73 L263.5 208.19 L263.97 207.76 L264.5 207.46 L265.13 207.27 L266 207.21 L266.87 207.27 L267.5 207.46 L268.03 207.76 L268.5 208.19 L268.9 208.73 L269.23 209.39 L269.49 210.16 L269.68 211.04 L269.79 212.07 Z" fill="#7cbf7c"/>
<path d="M269.64 213.5 L269.61 214.86 L269.5 215.84 L269.32 216.68 L269.07 217.41 L268.76 218.04 L268.38 218.55 L267.94 218.96 L267.42 219.25 L266.83 219.43 L266 219.49 L265.17 219.43 L264.58 219.25 L264.06 218.96 L263.62 218.55 L263.24 218.04 L262.93 217.41 L262.68 216.68 L262.5 215.84 L262.39 214.86 L262.36 213.5 L262.39 212.14 L262.5 211.16 L262.68 210.32 L262.93 209.59 L263.24 208.96 L263.62 208.45 L264.06 208.04 L264.58 207.75 L265.17 207.57 L266 207.51 L266.83 207.57 L267.42 207.75 L267.94 208.04 L268.38 208.45 L268.76 208.96 L269.07 209.59 L269.32 210.32 L269.5 211.16 L269.61 212.14 Z" fill="#95bf71"/>
<path d="M269.45 213.5 L269.42 214.79 L269.32 215.72 L269.15 216.52 L268.92 217.21 L268.62 217.8 L268.26 218.29 L267.84 218.68 L267.35 218.95 L266.78 219.12 L266 219.18 L265.22 219.12 L264.65 218.95 L264.16 218.68 L263.74 218.29 L263.38 217.8 L263.08 217.21 L262.85 216.52 L262.68 215.72 L262.58 214.79 L262.55 213.5 L262.58 212.21 L262.68 211.28 L262.85 210.48 L263.08 209.79 L263.38 209.2 L263.74 208.71 L264.16 208.32 L264.65 208.05 L265.22 207.88 L266 207.82 L266.78 207.88 L267.35 208.05 L267.84 208.32 L268.26 208.71 L268.62 209.2 L268.92 209.79 L269.15 210.48 L269.32 211.28 L269.42 212.21 Z" fill="#acbe68"/>
<path d="M269.26 213.5 L269.23 214.71 L269.13 215.59 L268.97 216.35 L268.75 217 L268.47 217.56 L268.13 218.02 L267.73 218.39 L267.27 218.65 L266.74 218.81 L266 218.86 L265.26 218.81 L264.73 218.65 L264.27 218.39 L263.87 218.02 L263.53 217.56 L263.25 217 L263.03 216.35 L262.87 215.59 L262.77 214.71 L262.74 213.5 L262.77 212.29 L262.87 211.41 L263.03 210.65 L263.25 210 L263.53 209.44 L263.87 208.98 L264.27 208.61 L264.73 208.35 L265.26 208.19 L266 208.14 L266.74 208.19 L267.27 208.35 L267.73 208.61 L268.13 208.98 L268.47 209.44 L268.75 210 L268.97 210.65 L269.13 211.41 L269.23 212.29 Z" fill="#c1bc60"/>
<path d="M269.06 213.5 L269.03 214.64 L268.94 215.47 L268.79 216.17 L268.58 216.79 L268.32 217.31 L268 217.75 L267.63 218.09 L267.2 218.33 L266.69 218.48 L266 218.53 L265.31 218.48 L264.8 218.33 L264.37 218.09 L264 217.75 L263.68 217.31 L263.42 216.79 L263.21 216.17 L263.06 215.47 L262.97 214.64 L262.94 213.5 L262.97 212.36 L263.06 211.53 L263.21 210.83 L263.42 210.21 L263.68 209.69 L264 209.25 L264.37 208.91 L264.8 208.67 L265.31 208.52 L266 208.47 L266.69 208.52 L267.2 208.67 L267.63 208.91 L268 209.25 L268.32 209.69 L268.58 210.21 L268.79 210.83 L268.94 211.53 L269.03 212.36 Z" fill="#d5ba57"/>
<path d="M268.85 213.5 L268.82 214.56 L268.74 215.33 L268.6 215.99 L268.41 216.56 L268.16 217.05 L267.86 217.45 L267.52 217.77 L267.11 218 L266.65 218.14 L266 218.18 L265.35 218.14 L264.89 218 L264.48 217.77 L264.14 217.45 L263.84 217.05 L263.59 216.56 L263.4 215.99 L263.26 215.33 L263.18 214.56 L263.15 213.5 L263.18 212.44 L263.26 211.67 L263.4 211.01 L263.59 210.44 L263.84 209.95 L264.14 209.55 L264.48 209.23 L264.89 209 L265.35 208.86 L266 208.82 L266.65 208.86 L267.11 209 L267.52 209.23 L267.86 209.55 L268.16 209.95 L268.41 210.44 L268.6 211.01 L268.74 211.67 L268.82 212.44 Z" fill="#e8b94f"/>
<path d="M268.62 213.5 L268.6 214.48 L268.52 215.19 L268.39 215.79 L268.22 216.32 L267.99 216.77 L267.72 217.14 L267.4 217.43 L267.03 217.64 L266.6 217.77 L266 217.81 L265.4 217.77 L264.97 217.64 L264.6 217.43 L264.28 217.14 L264.01 216.77 L263.78 216.32 L263.61 215.79 L263.48 215.19 L263.4 214.48 L263.38 213.5 L263.4 212.52 L263.48 211.81 L263.61 211.21 L263.78 210.68 L264.01 210.23 L264.28 209.86 L264.6 209.57 L264.97 209.36 L265.4 209.23 L266 209.19 L266.6 209.23 L267.03 209.36 L267.4 209.57 L267.72 209.86 L267.99 210.23 L268.22 210.68 L268.39 211.21 L268.52 211.81 L268.6 212.52 Z" fill="#fabb42"/>
<path d="M268.38 213.5 L268.36 214.39 L268.29 215.03 L268.17 215.58 L268.01 216.06 L267.8 216.46 L267.56 216.8 L267.27 217.07 L266.93 217.26 L266.54 217.37 L266 217.41 L265.46 217.37 L265.07 217.26 L264.73 217.07 L264.44 216.8 L264.2 216.46 L263.99 216.06 L263.83 215.58 L263.71 215.03 L263.64 214.39 L263.62 213.5 L263.64 212.61 L263.71 211.97 L263.83 211.42 L263.99 210.94 L264.2 210.54 L264.44 210.2 L264.73 209.93 L265.07 209.74 L265.46 209.63 L266 209.59 L266.54 209.63 L266.93 209.74 L267.27 209.93 L267.56 210.2 L267.8 210.54 L268.01 210.94 L268.17 211.42 L268.29 211.97 L268.36 212.61 Z" fill="#fec734"/>
<path d="M268.1 213.5 L268.08 214.28 L268.02 214.85 L267.92 215.34 L267.78 215.76 L267.59 216.12 L267.37 216.42 L267.12 216.65 L266.82 216.82 L266.48 216.92 L266 216.96 L265.52 216.92 L265.18 216.82 L264.88 216.65 L264.63 216.42 L264.41 216.12 L264.22 215.76 L264.08 215.34 L263.98 214.85 L263.92 214.28 L263.9 213.5 L263.92 212.72 L263.98 212.15 L264.08 211.66 L264.22 211.24 L264.41 210.88 L264.63 210.58 L264.88 210.35 L265.18 210.18 L265.52 210.08 L266 210.04 L266.48 210.08 L266.82 210.18 L267.12 210.35 L267.37 210.58 L267.59 210.88 L267.78 211.24 L267.92 211.66 L268.02 212.15 L268.08 212.72 Z" fill="#fad32a"/>
<path d="M267.77 213.5 L267.76 214.16 L267.7 214.64 L267.62 215.05 L267.5 215.41 L267.34 215.71 L267.16 215.96 L266.94 216.16 L266.69 216.3 L266.4 216.39 L266 216.42 L265.6 216.39 L265.31 216.3 L265.06 216.16 L264.84 215.96 L264.66 215.71 L264.5 215.41 L264.38 215.05 L264.3 214.64 L264.24 214.16 L264.23 213.5 L264.24 212.84 L264.3 212.36 L264.38 211.95 L264.5 211.59 L264.66 211.29 L264.84 211.04 L265.06 210.84 L265.31 210.7 L265.6 210.61 L266 210.58 L266.4 210.61 L266.69 210.7 L266.94 210.84 L267.16 211.04 L267.34 211.29 L267.5 211.59 L267.62 211.95 L267.7 212.36 L267.76 212.84 Z" fill="#f5e11f"/>
<path d="M267.33 213.5 L267.32 214 L267.28 214.36 L267.22 214.67 L267.13 214.93 L267.01 215.16 L266.87 215.35 L266.71 215.5 L266.52 215.61 L266.3 215.67 L266 215.69 L265.7 215.67 L265.48 215.61 L265.29 215.5 L265.13 215.35 L264.99 215.16 L264.87 214.93 L264.78 214.67 L264.72 214.36 L264.68 214 L264.67 213.5 L264.68 213 L264.72 212.64 L264.78 212.33 L264.87 212.07 L264.99 211.84 L265.13 211.65 L265.29 211.5 L265.48 211.39 L265.7 211.33 L266 211.31 L266.3 211.33 L266.52 211.39 L266.71 211.5 L266.87 211.65 L267.01 211.84 L267.13 212.07 L267.22 212.33 L267.28 212.64 L267.32 213 Z" fill="#f6f114"/>
<ellipse cx="247.8" cy="213.5" rx="0.7" ry="1.7" fill="#f0ffff"/>
<ellipse cx="284.1" cy="213.5" rx="0.7" ry="1.7" fill="#f0ffff"/>
<ellipse cx="322.2" cy="188" rx="2.6" ry="3.2" fill="none" stroke="#3b2e9c" stroke-width="1.5"/>
<ellipse cx="340.4" cy="188" rx="4.4" ry="4.9" fill="none" stroke="#3b2e9c" stroke-width="1.5"/>
<ellipse cx="358.5" cy="188" rx="2.6" ry="3.1" fill="none" stroke="#3b2e9c" stroke-width="1.5"/>
<path d="M330.1 213.5 L330.02 216.54 L329.79 218.74 L329.4 220.62 L328.87 222.26 L328.19 223.66 L327.36 224.81 L326.4 225.72 L325.29 226.37 L323.99 226.77 L322.2 226.9 L320.41 226.77 L319.11 226.37 L318 225.72 L317.04 224.81 L316.21 223.66 L315.53 222.26 L315 220.62 L314.61 218.74 L314.38 216.54 L314.3 213.5 L314.38 210.46 L314.61 208.26 L315 206.38 L315.53 204.74 L316.21 203.34 L317.04 202.19 L318 201.28 L319.11 200.63 L320.41 200.23 L322.2 200.1 L323.99 200.23 L325.29 200.63 L326.4 201.28 L327.36 202.19 L328.19 203.34 L328.87 204.74 L329.4 206.38 L329.79 208.26 L330.02 210.46 Z" fill="#3637a2"/>
<path d="M328.71 213.5 L328.64 216 L328.45 217.82 L328.14 219.37 L327.69 220.72 L327.13 221.87 L326.46 222.82 L325.66 223.57 L324.74 224.11 L323.68 224.43 L322.2 224.54 L320.72 224.43 L319.66 224.11 L318.74 223.57 L317.94 222.82 L317.27 221.87 L316.71 220.72 L316.26 219.37 L315.95 217.82 L315.76 216 L315.69 213.5 L315.76 211 L315.95 209.18 L316.26 207.63 L316.71 206.28 L317.27 205.13 L317.94 204.18 L318.74 203.43 L319.66 202.89 L320.72 202.57 L322.2 202.46 L323.68 202.57 L324.74 202.89 L325.66 203.43 L326.46 204.18 L327.13 205.13 L327.69 206.28 L328.14 207.63 L328.45 209.18 L328.64 211 Z" fill="#2f47c0"/>
<path d="M327.95 213.5 L327.89 215.71 L327.72 217.31 L327.44 218.68 L327.05 219.87 L326.56 220.89 L325.96 221.73 L325.26 222.39 L324.45 222.87 L323.5 223.15 L322.2 223.25 L320.9 223.15 L319.95 222.87 L319.14 222.39 L318.44 221.73 L317.84 220.89 L317.35 219.87 L316.96 218.68 L316.68 217.31 L316.51 215.71 L316.45 213.5 L316.51 211.29 L316.68 209.69 L316.96 208.32 L317.35 207.13 L317.84 206.11 L318.44 205.27 L319.14 204.61 L319.95 204.13 L320.9 203.85 L322.2 203.75 L323.5 203.85 L324.45 204.13 L325.26 204.61 L325.96 205.27 L326.56 206.11 L327.05 207.13 L327.44 208.32 L327.72 209.69 L327.89 211.29 Z" fill="#115bdd"/>
<path d="M327.36 213.5 L327.31 215.49 L327.16 216.92 L326.91 218.16 L326.56 219.23 L326.11 220.14 L325.58 220.89 L324.95 221.49 L324.22 221.91 L323.37 222.17 L322.2 222.26 L321.03 222.17 L320.18 221.91 L319.45 221.49 L318.82 220.89 L318.29 220.14 L317.84 219.23 L317.49 218.16 L317.24 216.92 L317.09 215.49 L317.04 213.5 L317.09 211.51 L317.24 210.08 L317.49 208.84 L317.84 207.77 L318.29 206.86 L318.82 206.11 L319.45 205.51 L320.18 205.09 L321.03 204.83 L322.2 204.74 L323.37 204.83 L324.22 205.09 L324.95 205.51 L325.58 206.11 L326.11 206.86 L326.56 207.77 L326.91 208.84 L327.16 210.08 L327.31 211.51 Z" fill="#026ae1"/>
<path d="M326.86 213.5 L326.81 215.29 L326.67 216.59 L326.45 217.7 L326.13 218.66 L325.73 219.49 L325.24 220.17 L324.68 220.7 L324.02 221.09 L323.26 221.32 L322.2 221.4 L321.14 221.32 L320.38 221.09 L319.72 220.7 L319.16 220.17 L318.67 219.49 L318.27 218.66 L317.95 217.7 L317.73 216.59 L317.59 215.29 L317.54 213.5 L317.59 211.71 L317.73 210.41 L317.95 209.3 L318.27 208.34 L318.67 207.51 L319.16 206.83 L319.72 206.3 L320.38 205.91 L321.14 205.68 L322.2 205.6 L323.26 205.68 L324.02 205.91 L324.68 206.3 L325.24 206.83 L325.73 207.51 L326.13 208.34 L326.45 209.3 L326.67 210.41 L326.81 211.71 Z" fill="#0b74dd"/>
<path d="M326.39 213.5 L326.35 215.11 L326.22 216.28 L326.02 217.28 L325.73 218.14 L325.37 218.88 L324.94 219.49 L324.43 219.97 L323.84 220.32 L323.15 220.53 L322.2 220.6 L321.25 220.53 L320.56 220.32 L319.97 219.97 L319.46 219.49 L319.03 218.88 L318.67 218.14 L318.38 217.28 L318.18 216.28 L318.05 215.11 L318.01 213.5 L318.05 211.89 L318.18 210.72 L318.38 209.72 L318.67 208.86 L319.03 208.12 L319.46 207.51 L319.97 207.03 L320.56 206.68 L321.25 206.47 L322.2 206.4 L323.15 206.47 L323.84 206.68 L324.43 207.03 L324.94 207.51 L325.37 208.12 L325.73 208.86 L326.02 209.72 L326.22 210.72 L326.35 211.89 Z" fill="#137dd8"/>
<path d="M325.92 213.5 L325.89 214.93 L325.78 215.97 L325.6 216.86 L325.34 217.63 L325.02 218.29 L324.63 218.83 L324.18 219.26 L323.66 219.57 L323.04 219.76 L322.2 219.82 L321.36 219.76 L320.74 219.57 L320.22 219.26 L319.77 218.83 L319.38 218.29 L319.06 217.63 L318.8 216.86 L318.62 215.97 L318.51 214.93 L318.48 213.5 L318.51 212.07 L318.62 211.03 L318.8 210.14 L319.06 209.37 L319.38 208.71 L319.77 208.17 L320.22 207.74 L320.74 207.43 L321.36 207.24 L322.2 207.18 L323.04 207.24 L323.66 207.43 L324.18 207.74 L324.63 208.17 L325.02 208.71 L325.34 209.37 L325.6 210.14 L325.78 211.03 L325.89 212.07 Z" fill="#1487d3"/>
<path d="M325.45 213.5 L325.42 214.75 L325.32 215.65 L325.16 216.43 L324.94 217.1 L324.66 217.68 L324.32 218.15 L323.93 218.52 L323.47 218.79 L322.94 218.96 L322.2 219.01 L321.46 218.96 L320.93 218.79 L320.47 218.52 L320.08 218.15 L319.74 217.68 L319.46 217.1 L319.24 216.43 L319.08 215.65 L318.98 214.75 L318.95 213.5 L318.98 212.25 L319.08 211.35 L319.24 210.57 L319.46 209.9 L319.74 209.32 L320.08 208.85 L320.47 208.48 L320.93 208.21 L321.46 208.04 L322.2 207.99 L322.94 208.04 L323.47 208.21 L323.93 208.48 L324.32 208.85 L324.66 209.32 L324.94 209.9 L325.16 210.57 L325.32 211.35 L325.42 212.25 Z" fill="#0d92d2"/>
<path d="M324.92 213.5 L324.9 214.55 L324.82 215.31 L324.68 215.96 L324.5 216.52 L324.26 217 L323.98 217.4 L323.65 217.71 L323.26 217.94 L322.82 218.07 L322.2 218.12 L321.58 218.07 L321.14 217.94 L320.75 217.71 L320.42 217.4 L320.14 217 L319.9 216.52 L319.72 215.96 L319.58 215.31 L319.5 214.55 L319.48 213.5 L319.5 212.45 L319.58 211.69 L319.72 211.04 L319.9 210.48 L320.14 210 L320.42 209.6 L320.75 209.29 L321.14 209.06 L321.58 208.93 L322.2 208.88 L322.82 208.93 L323.26 209.06 L323.65 209.29 L323.98 209.6 L324.26 210 L324.5 210.48 L324.68 211.04 L324.82 211.69 L324.9 212.45 Z" fill="#079dcf"/>
<path d="M324.28 213.5 L324.26 214.3 L324.2 214.88 L324.1 215.37 L323.95 215.81 L323.78 216.17 L323.56 216.48 L323.31 216.72 L323.01 216.89 L322.67 216.99 L322.2 217.03 L321.73 216.99 L321.39 216.89 L321.09 216.72 L320.84 216.48 L320.62 216.17 L320.45 215.81 L320.3 215.37 L320.2 214.88 L320.14 214.3 L320.12 213.5 L320.14 212.7 L320.2 212.12 L320.3 211.63 L320.45 211.19 L320.62 210.83 L320.84 210.52 L321.09 210.28 L321.39 210.11 L321.73 210.01 L322.2 209.97 L322.67 210.01 L323.01 210.11 L323.31 210.28 L323.56 210.52 L323.78 210.83 L323.95 211.19 L324.1 211.63 L324.2 212.12 L324.26 212.7 Z" fill="#06a6c7"/>
<path d="M323.13 213.5 L323.12 213.86 L323.09 214.11 L323.05 214.34 L322.98 214.53 L322.9 214.69 L322.81 214.83 L322.69 214.93 L322.56 215.01 L322.41 215.06 L322.2 215.07 L321.99 215.06 L321.84 215.01 L321.71 214.93 L321.59 214.83 L321.5 214.69 L321.42 214.53 L321.35 214.34 L321.31 214.11 L321.28 213.86 L321.27 213.5 L321.28 213.14 L321.31 212.89 L321.35 212.66 L321.42 212.47 L321.5 212.31 L321.59 212.17 L321.71 212.07 L321.84 211.99 L321.99 211.94 L322.2 211.93 L322.41 211.94 L322.56 211.99 L322.69 212.07 L322.81 212.17 L322.9 212.31 L322.98 212.47 L323.05 212.66 L323.09 212.89 L323.12 213.14 Z" fill="#0aacbe"/>
<path d="M366.4 213.5 L366.32 216.54 L366.09 218.74 L365.7 220.62 L365.17 222.26 L364.49 223.66 L363.66 224.81 L362.7 225.72 L361.59 226.37 L360.29 226.77 L358.5 226.9 L356.71 226.77 L355.41 226.37 L354.3 225.72 L353.34 224.81 L352.51 223.66 L351.83 222.26 L351.3 220.62 L350.91 218.74 L350.68 216.54 L350.6 213.5 L350.68 210.46 L350.91 208.26 L351.3 206.38 L351.83 204.74 L352.51 203.34 L353.34 202.19 L354.3 201.28 L355.41 200.63 L356.71 200.23 L358.5 200.1 L360.29 200.23 L361.59 200.63 L362.7 201.28 L363.66 202.19 L364.49 203.34 L365.17 204.74 L365.7 206.38 L366.09 208.26 L366.32 210.46 Z" fill="#3637a2"/>
<path d="M365.01 213.5 L364.94 216 L364.75 217.82 L364.44 219.37 L363.99 220.72 L363.43 221.87 L362.76 222.82 L361.96 223.57 L361.04 224.11 L359.98 224.43 L358.5 224.54 L357.02 224.43 L355.96 224.11 L355.04 223.57 L354.24 222.82 L353.57 221.87 L353.01 220.72 L352.56 219.37 L352.25 217.82 L352.06 216 L351.99 213.5 L352.06 211 L352.25 209.18 L352.56 207.63 L353.01 206.28 L353.57 205.13 L354.24 204.18 L355.04 203.43 L355.96 202.89 L357.02 202.57 L358.5 202.46 L359.98 202.57 L361.04 202.89 L361.96 203.43 L362.76 204.18 L363.43 205.13 L363.99 206.28 L364.44 207.63 L364.75 209.18 L364.94 211 Z" fill="#2f47c0"/>
<path d="M364.25 213.5 L364.19 215.71 L364.02 217.31 L363.74 218.68 L363.35 219.87 L362.86 220.89 L362.26 221.73 L361.56 222.39 L360.75 222.87 L359.8 223.15 L358.5 223.25 L357.2 223.15 L356.25 222.87 L355.44 222.39 L354.74 221.73 L354.14 220.89 L353.65 219.87 L353.26 218.68 L352.98 217.31 L352.81 215.71 L352.75 213.5 L352.81 211.29 L352.98 209.69 L353.26 208.32 L353.65 207.13 L354.14 206.11 L354.74 205.27 L355.44 204.61 L356.25 204.13 L357.2 203.85 L358.5 203.75 L359.8 203.85 L360.75 204.13 L361.56 204.61 L362.26 205.27 L362.86 206.11 L363.35 207.13 L363.74 208.32 L364.02 209.69 L364.19 211.29 Z" fill="#115bdd"/>
<path d="M363.66 213.5 L363.61 215.49 L363.46 216.92 L363.21 218.16 L362.86 219.23 L362.41 220.14 L361.88 220.89 L361.25 221.49 L360.52 221.91 L359.67 222.17 L358.5 222.26 L357.33 222.17 L356.48 221.91 L355.75 221.49 L355.12 220.89 L354.59 220.14 L354.14 219.23 L353.79 218.16 L353.54 216.92 L353.39 215.49 L353.34 213.5 L353.39 211.51 L353.54 210.08 L353.79 208.84 L354.14 207.77 L354.59 206.86 L355.12 206.11 L355.75 205.51 L356.48 205.09 L357.33 204.83 L358.5 204.74 L359.67 204.83 L360.52 205.09 L361.25 205.51 L361.88 206.11 L362.41 206.86 L362.86 207.77 L363.21 208.84 L363.46 210.08 L363.61 211.51 Z" fill="#026ae1"/>
<path d="M363.16 213.5 L363.11 215.29 L362.97 216.59 L362.75 217.7 L362.43 218.66 L362.03 219.49 L361.54 220.17 L360.98 220.7 L360.32 221.09 L359.56 221.32 L358.5 221.4 L357.44 221.32 L356.68 221.09 L356.02 220.7 L355.46 220.17 L354.97 219.49 L354.57 218.66 L354.25 217.7 L354.03 216.59 L353.89 215.29 L353.84 213.5 L353.89 211.71 L354.03 210.41 L354.25 209.3 L354.57 208.34 L354.97 207.51 L355.46 206.83 L356.02 206.3 L356.68 205.91 L357.44 205.68 L358.5 205.6 L359.56 205.68 L360.32 205.91 L360.98 206.3 L361.54 206.83 L362.03 207.51 L362.43 208.34 L362.75 209.3 L362.97 210.41 L363.11 211.71 Z" fill="#0b74dd"/>
<path d="M362.69 213.5 L362.65 215.11 L362.52 216.28 L362.32 217.28 L362.03 218.14 L361.67 218.88 L361.24 219.49 L360.73 219.97 L360.14 220.32 L359.45 220.53 L358.5 220.6 L357.55 220.53 L356.86 220.32 L356.27 219.97 L355.76 219.49 L355.33 218.88 L354.97 218.14 L354.68 217.28 L354.48 216.28 L354.35 215.11 L354.31 213.5 L354.35 211.89 L354.48 210.72 L354.68 209.72 L354.97 208.86 L355.33 208.12 L355.76 207.51 L356.27 207.03 L356.86 206.68 L357.55 206.47 L358.5 206.4 L359.45 206.47 L360.14 206.68 L360.73 207.03 L361.24 207.51 L361.67 208.12 L362.03 208.86 L362.32 209.72 L362.52 210.72 L362.65 211.89 Z" fill="#137dd8"/>
<path d="M362.22 213.5 L362.19 214.93 L362.08 215.97 L361.9 216.86 L361.64 217.63 L361.32 218.29 L360.93 218.83 L360.48 219.26 L359.96 219.57 L359.34 219.76 L358.5 219.82 L357.66 219.76 L357.04 219.57 L356.52 219.26 L356.07 218.83 L355.68 218.29 L355.36 217.63 L355.1 216.86 L354.92 215.97 L354.81 214.93 L354.78 213.5 L354.81 212.07 L354.92 211.03 L355.1 210.14 L355.36 209.37 L355.68 208.71 L356.07 208.17 L356.52 207.74 L357.04 207.43 L357.66 207.24 L358.5 207.18 L359.34 207.24 L359.96 207.43 L360.48 207.74 L360.93 208.17 L361.32 208.71 L361.64 209.37 L361.9 210.14 L362.08 211.03 L362.19 212.07 Z" fill="#1487d3"/>
<path d="M361.75 213.5 L361.72 214.75 L361.62 215.65 L361.46 216.43 L361.24 217.1 L360.96 217.68 L360.62 218.15 L360.23 218.52 L359.77 218.79 L359.24 218.96 L358.5 219.01 L357.76 218.96 L357.23 218.79 L356.77 218.52 L356.38 218.15 L356.04 217.68 L355.76 217.1 L355.54 216.43 L355.38 215.65 L355.28 214.75 L355.25 213.5 L355.28 212.25 L355.38 211.35 L355.54 210.57 L355.76 209.9 L356.04 209.32 L356.38 208.85 L356.77 208.48 L357.23 208.21 L357.76 208.04 L358.5 207.99 L359.24 208.04 L359.77 208.21 L360.23 208.48 L360.62 208.85 L360.96 209.32 L361.24 209.9 L361.46 210.57 L361.62 211.35 L361.72 212.25 Z" fill="#0d92d2"/>
<path d="M361.22 213.5 L361.2 214.55 L361.12 215.31 L360.98 215.96 L360.8 216.52 L360.56 217 L360.28 217.4 L359.95 217.71 L359.56 217.94 L359.12 218.07 L358.5 218.12 L357.88 218.07 L357.44 217.94 L357.05 217.71 L356.72 217.4 L356.44 217 L356.2 216.52 L356.02 215.96 L355.88 215.31 L355.8 214.55 L355.78 213.5 L355.8 212.45 L355.88 211.69 L356.02 211.04 L356.2 210.48 L356.44 210 L356.72 209.6 L357.05 209.29 L357.44 209.06 L357.88 208.93 L358.5 208.88 L359.12 208.93 L359.56 209.06 L359.95 209.29 L360.28 209.6 L360.56 210 L360.8 210.48 L360.98 211.04 L361.12 211.69 L361.2 212.45 Z" fill="#079dcf"/>
<path d="M360.58 213.5 L360.56 214.3 L360.5 214.88 L360.4 215.37 L360.25 215.81 L360.08 216.17 L359.86 216.48 L359.61 216.72 L359.31 216.89 L358.97 216.99 L358.5 217.03 L358.03 216.99 L357.69 216.89 L357.39 216.72 L357.14 216.48 L356.92 216.17 L356.75 215.81 L356.6 215.37 L356.5 214.88 L356.44 214.3 L356.42 213.5 L356.44 212.7 L356.5 212.12 L356.6 211.63 L356.75 211.19 L356.92 210.83 L357.14 210.52 L357.39 210.28 L357.69 210.11 L358.03 210.01 L358.5 209.97 L358.97 210.01 L359.31 210.11 L359.61 210.28 L359.86 210.52 L360.08 210.83 L360.25 211.19 L360.4 211.63 L360.5 212.12 L360.56 212.7 Z" fill="#06a6c7"/>
<path d="M359.43 213.5 L359.42 213.86 L359.39 214.11 L359.35 214.34 L359.28 214.53 L359.2 214.69 L359.11 214.83 L358.99 214.93 L358.86 215.01 L358.71 215.06 L358.5 215.07 L358.29 215.06 L358.14 215.01 L358.01 214.93 L357.89 214.83 L357.8 214.69 L357.72 214.53 L357.65 214.34 L357.61 214.11 L357.58 213.86 L357.57 213.5 L357.58 213.14 L357.61 212.89 L357.65 212.66 L357.72 212.47 L357.8 212.31 L357.89 212.17 L358.01 212.07 L358.14 211.99 L358.29 211.94 L358.5 211.93 L358.71 211.94 L358.86 211.99 L358.99 212.07 L359.11 212.17 L359.2 212.31 L359.28 212.47 L359.35 212.66 L359.39 212.89 L359.42 213.14 Z" fill="#0aacbe"/>
<path d="M349.1 213.5 L349.01 216.74 L348.76 219.09 L348.33 221.1 L347.74 222.85 L346.99 224.34 L346.09 225.57 L345.03 226.54 L343.8 227.24 L342.37 227.66 L340.4 227.8 L338.43 227.66 L337 227.24 L335.77 226.54 L334.71 225.57 L333.81 224.34 L333.06 222.85 L332.47 221.1 L332.04 219.09 L331.79 216.74 L331.7 213.5 L331.79 210.26 L332.04 207.91 L332.47 205.9 L333.06 204.15 L333.81 202.66 L334.71 201.43 L335.77 200.46 L337 199.76 L338.43 199.34 L340.4 199.2 L342.37 199.34 L343.8 199.76 L345.03 200.46 L346.09 201.43 L346.99 202.66 L347.74 204.15 L348.33 205.9 L348.76 207.91 L349.01 210.26 Z" fill="#3637a2"/>
<path d="M347.94 213.5 L347.87 216.31 L347.65 218.35 L347.28 220.09 L346.77 221.6 L346.12 222.9 L345.33 223.96 L344.41 224.81 L343.35 225.41 L342.11 225.78 L340.4 225.9 L338.69 225.78 L337.45 225.41 L336.39 224.81 L335.47 223.96 L334.68 222.9 L334.03 221.6 L333.52 220.09 L333.15 218.35 L332.93 216.31 L332.86 213.5 L332.93 210.69 L333.15 208.65 L333.52 206.91 L334.03 205.4 L334.68 204.1 L335.47 203.04 L336.39 202.19 L337.45 201.59 L338.69 201.22 L340.4 201.1 L342.11 201.22 L343.35 201.59 L344.41 202.19 L345.33 203.04 L346.12 204.1 L346.77 205.4 L347.28 206.91 L347.65 208.65 L347.87 210.69 Z" fill="#2f47c0"/>
<path d="M347.35 213.5 L347.29 216.09 L347.08 217.97 L346.74 219.58 L346.27 220.97 L345.67 222.16 L344.95 223.15 L344.1 223.92 L343.12 224.48 L341.98 224.82 L340.4 224.93 L338.82 224.82 L337.68 224.48 L336.7 223.92 L335.85 223.15 L335.13 222.16 L334.53 220.97 L334.06 219.58 L333.72 217.97 L333.51 216.09 L333.45 213.5 L333.51 210.91 L333.72 209.03 L334.06 207.42 L334.53 206.03 L335.13 204.84 L335.85 203.85 L336.7 203.08 L337.68 202.52 L338.82 202.18 L340.4 202.07 L341.98 202.18 L343.12 202.52 L344.1 203.08 L344.95 203.85 L345.67 204.84 L346.27 206.03 L346.74 207.42 L347.08 209.03 L347.29 210.91 Z" fill="#115bdd"/>
<path d="M346.93 213.5 L346.87 215.93 L346.67 217.7 L346.36 219.21 L345.91 220.52 L345.35 221.64 L344.67 222.56 L343.87 223.29 L342.95 223.81 L341.88 224.13 L340.4 224.24 L338.92 224.13 L337.85 223.81 L336.93 223.29 L336.13 222.56 L335.45 221.64 L334.89 220.52 L334.44 219.21 L334.13 217.7 L333.93 215.93 L333.87 213.5 L333.93 211.07 L334.13 209.3 L334.44 207.79 L334.89 206.48 L335.45 205.36 L336.13 204.44 L336.93 203.71 L337.85 203.19 L338.92 202.87 L340.4 202.76 L341.88 202.87 L342.95 203.19 L343.87 203.71 L344.67 204.44 L345.35 205.36 L345.91 206.48 L346.36 207.79 L346.67 209.3 L346.87 211.07 Z" fill="#026ae1"/>
<path d="M346.59 213.5 L346.53 215.81 L346.35 217.48 L346.04 218.91 L345.62 220.15 L345.09 221.21 L344.45 222.09 L343.69 222.78 L342.82 223.27 L341.8 223.57 L340.4 223.67 L339 223.57 L337.98 223.27 L337.11 222.78 L336.35 222.09 L335.71 221.21 L335.18 220.15 L334.76 218.91 L334.45 217.48 L334.27 215.81 L334.21 213.5 L334.27 211.19 L334.45 209.52 L334.76 208.09 L335.18 206.85 L335.71 205.79 L336.35 204.91 L337.11 204.22 L337.98 203.73 L339 203.43 L340.4 203.33 L341.8 203.43 L342.82 203.73 L343.69 204.22 L344.45 204.91 L345.09 205.79 L345.62 206.85 L346.04 208.09 L346.35 209.52 L346.53 211.19 Z" fill="#0b74dd"/>
<path d="M346.3 213.5 L346.24 215.7 L346.06 217.29 L345.78 218.65 L345.38 219.83 L344.87 220.84 L344.25 221.68 L343.53 222.34 L342.7 222.81 L341.74 223.09 L340.4 223.19 L339.06 223.09 L338.1 222.81 L337.27 222.34 L336.55 221.68 L335.93 220.84 L335.42 219.83 L335.02 218.65 L334.74 217.29 L334.56 215.7 L334.5 213.5 L334.56 211.3 L334.74 209.71 L335.02 208.35 L335.42 207.17 L335.93 206.16 L336.55 205.32 L337.27 204.66 L338.1 204.19 L339.06 203.91 L340.4 203.81 L341.74 203.91 L342.7 204.19 L343.53 204.66 L344.25 205.32 L344.87 206.16 L345.38 207.17 L345.78 208.35 L346.06 209.71 L346.24 211.3 Z" fill="#137dd8"/>
<path d="M346.03 213.5 L345.98 215.6 L345.81 217.12 L345.54 218.42 L345.16 219.55 L344.67 220.52 L344.08 221.32 L343.4 221.94 L342.6 222.4 L341.68 222.67 L340.4 222.76 L339.12 222.67 L338.2 222.4 L337.4 221.94 L336.72 221.32 L336.13 220.52 L335.64 219.55 L335.26 218.42 L334.99 217.12 L334.82 215.6 L334.77 213.5 L334.82 211.4 L334.99 209.88 L335.26 208.58 L335.64 207.45 L336.13 206.48 L336.72 205.68 L337.4 205.06 L338.2 204.6 L339.12 204.33 L340.4 204.24 L341.68 204.33 L342.6 204.6 L343.4 205.06 L344.08 205.68 L344.67 206.48 L345.16 207.45 L345.54 208.58 L345.81 209.88 L345.98 211.4 Z" fill="#1487d3"/>
<path d="M345.8 213.5 L345.74 215.51 L345.58 216.97 L345.32 218.22 L344.95 219.3 L344.49 220.22 L343.93 220.99 L343.27 221.59 L342.51 222.02 L341.62 222.28 L340.4 222.37 L339.18 222.28 L338.29 222.02 L337.53 221.59 L336.87 220.99 L336.31 220.22 L335.85 219.3 L335.48 218.22 L335.22 216.97 L335.06 215.51 L335 213.5 L335.06 211.49 L335.22 210.03 L335.48 208.78 L335.85 207.7 L336.31 206.78 L336.87 206.01 L337.53 205.41 L338.29 204.98 L339.18 204.72 L340.4 204.63 L341.62 204.72 L342.51 204.98 L343.27 205.41 L343.93 206.01 L344.49 206.78 L344.95 207.7 L345.32 208.78 L345.58 210.03 L345.74 211.49 Z" fill="#0d92d2"/>
<path d="M345.57 213.5 L345.52 215.43 L345.37 216.82 L345.12 218.02 L344.77 219.06 L344.32 219.95 L343.78 220.68 L343.15 221.25 L342.42 221.67 L341.57 221.92 L340.4 222 L339.23 221.92 L338.38 221.67 L337.65 221.25 L337.02 220.68 L336.48 219.95 L336.03 219.06 L335.68 218.02 L335.43 216.82 L335.28 215.43 L335.23 213.5 L335.28 211.57 L335.43 210.18 L335.68 208.98 L336.03 207.94 L336.48 207.05 L337.02 206.32 L337.65 205.75 L338.38 205.33 L339.23 205.08 L340.4 205 L341.57 205.08 L342.42 205.33 L343.15 205.75 L343.78 206.32 L344.32 207.05 L344.77 207.94 L345.12 208.98 L345.37 210.18 L345.52 211.57 Z" fill="#079dcf"/>
<path d="M345.36 213.5 L345.32 215.35 L345.17 216.69 L344.93 217.84 L344.59 218.83 L344.16 219.68 L343.65 220.39 L343.04 220.94 L342.34 221.34 L341.53 221.58 L340.4 221.66 L339.27 221.58 L338.46 221.34 L337.76 220.94 L337.15 220.39 L336.64 219.68 L336.21 218.83 L335.87 217.84 L335.63 216.69 L335.48 215.35 L335.44 213.5 L335.48 211.65 L335.63 210.31 L335.87 209.16 L336.21 208.17 L336.64 207.32 L337.15 206.61 L337.76 206.06 L338.46 205.66 L339.27 205.42 L340.4 205.34 L341.53 205.42 L342.34 205.66 L343.04 206.06 L343.65 206.61 L344.16 207.32 L344.59 208.17 L344.93 209.16 L345.17 210.31 L345.32 211.65 Z" fill="#06a6c7"/>
<path d="M345.16 213.5 L345.12 215.28 L344.98 216.56 L344.74 217.66 L344.42 218.62 L344.01 219.43 L343.51 220.11 L342.93 220.64 L342.26 221.02 L341.48 221.25 L340.4 221.33 L339.32 221.25 L338.54 221.02 L337.87 220.64 L337.29 220.11 L336.79 219.43 L336.38 218.62 L336.06 217.66 L335.82 216.56 L335.68 215.28 L335.64 213.5 L335.68 211.72 L335.82 210.44 L336.06 209.34 L336.38 208.38 L336.79 207.57 L337.29 206.89 L337.87 206.36 L338.54 205.98 L339.32 205.75 L340.4 205.67 L341.48 205.75 L342.26 205.98 L342.93 206.36 L343.51 206.89 L344.01 207.57 L344.42 208.38 L344.74 209.34 L344.98 210.44 L345.12 211.72 Z" fill="#0aacbe"/>
<path d="M344.97 213.5 L344.93 215.2 L344.79 216.44 L344.57 217.49 L344.26 218.41 L343.86 219.19 L343.39 219.84 L342.83 220.35 L342.19 220.72 L341.44 220.94 L340.4 221.01 L339.36 220.94 L338.61 220.72 L337.97 220.35 L337.41 219.84 L336.94 219.19 L336.54 218.41 L336.23 217.49 L336.01 216.44 L335.87 215.2 L335.83 213.5 L335.87 211.8 L336.01 210.56 L336.23 209.51 L336.54 208.59 L336.94 207.81 L337.41 207.16 L337.97 206.65 L338.61 206.28 L339.36 206.06 L340.4 205.99 L341.44 206.06 L342.19 206.28 L342.83 206.65 L343.39 207.16 L343.86 207.81 L344.26 208.59 L344.57 209.51 L344.79 210.56 L344.93 211.8 Z" fill="#18b2b2"/>
<path d="M344.78 213.5 L344.74 215.13 L344.61 216.31 L344.39 217.33 L344.1 218.21 L343.72 218.96 L343.26 219.58 L342.73 220.07 L342.11 220.42 L341.39 220.63 L340.4 220.7 L339.41 220.63 L338.69 220.42 L338.07 220.07 L337.54 219.58 L337.08 218.96 L336.7 218.21 L336.41 217.33 L336.19 216.31 L336.06 215.13 L336.02 213.5 L336.06 211.87 L336.19 210.69 L336.41 209.67 L336.7 208.79 L337.08 208.04 L337.54 207.42 L338.07 206.93 L338.69 206.58 L339.41 206.37 L340.4 206.3 L341.39 206.37 L342.11 206.58 L342.73 206.93 L343.26 207.42 L343.72 208.04 L344.1 208.79 L344.39 209.67 L344.61 210.69 L344.74 211.87 Z" fill="#2cb7a5"/>
<path d="M344.6 213.5 L344.55 215.06 L344.43 216.2 L344.23 217.17 L343.94 218.01 L343.58 218.73 L343.14 219.32 L342.63 219.79 L342.04 220.12 L341.35 220.33 L340.4 220.4 L339.45 220.33 L338.76 220.12 L338.17 219.79 L337.66 219.32 L337.22 218.73 L336.86 218.01 L336.57 217.17 L336.37 216.2 L336.25 215.06 L336.2 213.5 L336.25 211.94 L336.37 210.8 L336.57 209.83 L336.86 208.99 L337.22 208.27 L337.66 207.68 L338.17 207.21 L338.76 206.88 L339.45 206.67 L340.4 206.6 L341.35 206.67 L342.04 206.88 L342.63 207.21 L343.14 207.68 L343.58 208.27 L343.94 208.99 L344.23 209.83 L344.43 210.8 L344.55 211.94 Z" fill="#44bb97"/>
<path d="M344.41 213.5 L344.37 214.99 L344.25 216.08 L344.06 217.01 L343.79 217.81 L343.44 218.5 L343.02 219.07 L342.53 219.51 L341.97 219.83 L341.31 220.03 L340.4 220.09 L339.49 220.03 L338.83 219.83 L338.27 219.51 L337.78 219.07 L337.36 218.5 L337.01 217.81 L336.74 217.01 L336.55 216.08 L336.43 214.99 L336.39 213.5 L336.43 212.01 L336.55 210.92 L336.74 209.99 L337.01 209.19 L337.36 208.5 L337.78 207.93 L338.27 207.49 L338.83 207.17 L339.49 206.97 L340.4 206.91 L341.31 206.97 L341.97 207.17 L342.53 207.49 L343.02 207.93 L343.44 208.5 L343.79 209.19 L344.06 209.99 L344.25 210.92 L344.37 212.01 Z" fill="#5fbe88"/>
<path d="M344.23 213.5 L344.19 214.93 L344.08 215.96 L343.89 216.84 L343.63 217.61 L343.3 218.27 L342.9 218.81 L342.43 219.24 L341.9 219.54 L341.27 219.73 L340.4 219.79 L339.53 219.73 L338.9 219.54 L338.37 219.24 L337.9 218.81 L337.5 218.27 L337.17 217.61 L336.91 216.84 L336.72 215.96 L336.61 214.93 L336.57 213.5 L336.61 212.07 L336.72 211.04 L336.91 210.16 L337.17 209.39 L337.5 208.73 L337.9 208.19 L338.37 207.76 L338.9 207.46 L339.53 207.27 L340.4 207.21 L341.27 207.27 L341.9 207.46 L342.43 207.76 L342.9 208.19 L343.3 208.73 L343.63 209.39 L343.89 210.16 L344.08 211.04 L344.19 212.07 Z" fill="#7cbf7c"/>
<path d="M344.04 213.5 L344.01 214.86 L343.9 215.84 L343.72 216.68 L343.47 217.41 L343.16 218.04 L342.78 218.55 L342.34 218.96 L341.82 219.25 L341.23 219.43 L340.4 219.49 L339.57 219.43 L338.98 219.25 L338.46 218.96 L338.02 218.55 L337.64 218.04 L337.33 217.41 L337.08 216.68 L336.9 215.84 L336.79 214.86 L336.76 213.5 L336.79 212.14 L336.9 211.16 L337.08 210.32 L337.33 209.59 L337.64 208.96 L338.02 208.45 L338.46 208.04 L338.98 207.75 L339.57 207.57 L340.4 207.51 L341.23 207.57 L341.82 207.75 L342.34 208.04 L342.78 208.45 L343.16 208.96 L343.47 209.59 L343.72 210.32 L343.9 211.16 L344.01 212.14 Z" fill="#95bf71"/>
<path d="M343.85 213.5 L343.82 214.79 L343.72 215.72 L343.55 216.52 L343.32 217.21 L343.02 217.8 L342.66 218.29 L342.24 218.68 L341.75 218.95 L341.18 219.12 L340.4 219.18 L339.62 219.12 L339.05 218.95 L338.56 218.68 L338.14 218.29 L337.78 217.8 L337.48 217.21 L337.25 216.52 L337.08 215.72 L336.98 214.79 L336.95 213.5 L336.98 212.21 L337.08 211.28 L337.25 210.48 L337.48 209.79 L337.78 209.2 L338.14 208.71 L338.56 208.32 L339.05 208.05 L339.62 207.88 L340.4 207.82 L341.18 207.88 L341.75 208.05 L342.24 208.32 L342.66 208.71 L343.02 209.2 L343.32 209.79 L343.55 210.48 L343.72 211.28 L343.82 212.21 Z" fill="#acbe68"/>
<path d="M343.66 213.5 L343.63 214.71 L343.53 215.59 L343.37 216.35 L343.15 217 L342.87 217.56 L342.53 218.02 L342.13 218.39 L341.67 218.65 L341.14 218.81 L340.4 218.86 L339.66 218.81 L339.13 218.65 L338.67 218.39 L338.27 218.02 L337.93 217.56 L337.65 217 L337.43 216.35 L337.27 215.59 L337.17 214.71 L337.14 213.5 L337.17 212.29 L337.27 211.41 L337.43 210.65 L337.65 210 L337.93 209.44 L338.27 208.98 L338.67 208.61 L339.13 208.35 L339.66 208.19 L340.4 208.14 L341.14 208.19 L341.67 208.35 L342.13 208.61 L342.53 208.98 L342.87 209.44 L343.15 210 L343.37 210.65 L343.53 211.41 L343.63 212.29 Z" fill="#c1bc60"/>
<path d="M343.46 213.5 L343.43 214.64 L343.34 215.47 L343.19 216.17 L342.98 216.79 L342.72 217.31 L342.4 217.75 L342.03 218.09 L341.6 218.33 L341.09 218.48 L340.4 218.53 L339.71 218.48 L339.2 218.33 L338.77 218.09 L338.4 217.75 L338.08 217.31 L337.82 216.79 L337.61 216.17 L337.46 215.47 L337.37 214.64 L337.34 213.5 L337.37 212.36 L337.46 211.53 L337.61 210.83 L337.82 210.21 L338.08 209.69 L338.4 209.25 L338.77 208.91 L339.2 208.67 L339.71 208.52 L340.4 208.47 L341.09 208.52 L341.6 208.67 L342.03 208.91 L342.4 209.25 L342.72 209.69 L342.98 210.21 L343.19 210.83 L343.34 211.53 L343.43 212.36 Z" fill="#d5ba57"/>
<path d="M343.25 213.5 L343.22 214.56 L343.14 215.33 L343 215.99 L342.81 216.56 L342.56 217.05 L342.26 217.45 L341.92 217.77 L341.51 218 L341.05 218.14 L340.4 218.18 L339.75 218.14 L339.29 218 L338.88 217.77 L338.54 217.45 L338.24 217.05 L337.99 216.56 L337.8 215.99 L337.66 215.33 L337.58 214.56 L337.55 213.5 L337.58 212.44 L337.66 211.67 L337.8 211.01 L337.99 210.44 L338.24 209.95 L338.54 209.55 L338.88 209.23 L339.29 209 L339.75 208.86 L340.4 208.82 L341.05 208.86 L341.51 209 L341.92 209.23 L342.26 209.55 L342.56 209.95 L342.81 210.44 L343 211.01 L343.14 211.67 L343.22 212.44 Z" fill="#e8b94f"/>
<path d="M343.02 213.5 L343 214.48 L342.92 215.19 L342.79 215.79 L342.62 216.32 L342.39 216.77 L342.12 217.14 L341.8 217.43 L341.43 217.64 L341 217.77 L340.4 217.81 L339.8 217.77 L339.37 217.64 L339 217.43 L338.68 217.14 L338.41 216.77 L338.18 216.32 L338.01 215.79 L337.88 215.19 L337.8 214.48 L337.78 213.5 L337.8 212.52 L337.88 211.81 L338.01 211.21 L338.18 210.68 L338.41 210.23 L338.68 209.86 L339 209.57 L339.37 209.36 L339.8 209.23 L340.4 209.19 L341 209.23 L341.43 209.36 L341.8 209.57 L342.12 209.86 L342.39 210.23 L342.62 210.68 L342.79 211.21 L342.92 211.81 L343 212.52 Z" fill="#fabb42"/>
<path d="M342.78 213.5 L342.76 214.39 L342.69 215.03 L342.57 215.58 L342.41 216.06 L342.2 216.46 L341.96 216.8 L341.67 217.07 L341.33 217.26 L340.94 217.37 L340.4 217.41 L339.86 217.37 L339.47 217.26 L339.13 217.07 L338.84 216.8 L338.6 216.46 L338.39 216.06 L338.23 215.58 L338.11 215.03 L338.04 214.39 L338.02 213.5 L338.04 212.61 L338.11 211.97 L338.23 211.42 L338.39 210.94 L338.6 210.54 L338.84 210.2 L339.13 209.93 L339.47 209.74 L339.86 209.63 L340.4 209.59 L340.94 209.63 L341.33 209.74 L341.67 209.93 L341.96 210.2 L342.2 210.54 L342.41 210.94 L342.57 211.42 L342.69 211.97 L342.76 212.61 Z" fill="#fec734"/>
<path d="M342.5 213.5 L342.48 214.28 L342.42 214.85 L342.32 215.34 L342.18 215.76 L341.99 216.12 L341.77 216.42 L341.52 216.65 L341.22 216.82 L340.88 216.92 L340.4 216.96 L339.92 216.92 L339.58 216.82 L339.28 216.65 L339.03 216.42 L338.81 216.12 L338.62 215.76 L338.48 215.34 L338.38 214.85 L338.32 214.28 L338.3 213.5 L338.32 212.72 L338.38 212.15 L338.48 211.66 L338.62 211.24 L338.81 210.88 L339.03 210.58 L339.28 210.35 L339.58 210.18 L339.92 210.08 L340.4 210.04 L340.88 210.08 L341.22 210.18 L341.52 210.35 L341.77 210.58 L341.99 210.88 L342.18 211.24 L342.32 211.66 L342.42 212.15 L342.48 212.72 Z" fill="#fad32a"/>
<path d="M342.17 213.5 L342.16 214.16 L342.1 214.64 L342.02 215.05 L341.9 215.41 L341.74 215.71 L341.56 215.96 L341.34 216.16 L341.09 216.3 L340.8 216.39 L340.4 216.42 L340 216.39 L339.71 216.3 L339.46 216.16 L339.24 215.96 L339.06 215.71 L338.9 215.41 L338.78 215.05 L338.7 214.64 L338.64 214.16 L338.63 213.5 L338.64 212.84 L338.7 212.36 L338.78 211.95 L338.9 211.59 L339.06 211.29 L339.24 211.04 L339.46 210.84 L339.71 210.7 L340 210.61 L340.4 210.58 L340.8 210.61 L341.09 210.7 L341.34 210.84 L341.56 211.04 L341.74 211.29 L341.9 211.59 L342.02 211.95 L342.1 212.36 L342.16 212.84 Z" fill="#f5e11f"/>
<path d="M341.73 213.5 L341.72 214 L341.68 214.36 L341.62 214.67 L341.53 214.93 L341.41 215.16 L341.27 215.35 L341.11 215.5 L340.92 215.61 L340.7 215.67 L340.4 215.69 L340.1 215.67 L339.88 215.61 L339.69 215.5 L339.53 215.35 L339.39 215.16 L339.27 214.93 L339.18 214.67 L339.12 214.36 L339.08 214 L339.07 213.5 L339.08 213 L339.12 212.64 L339.18 212.33 L339.27 212.07 L339.39 211.84 L339.53 211.65 L339.69 211.5 L339.88 211.39 L340.1 211.33 L340.4 211.31 L340.7 211.33 L340.92 211.39 L341.11 211.5 L341.27 211.65 L341.41 211.84 L341.53 212.07 L341.62 212.33 L341.68 212.64 L341.72 213 Z" fill="#f6f114"/>
<ellipse cx="322.2" cy="213.5" rx="0.7" ry="1.7" fill="#f0ffff"/>
<ellipse cx="358.5" cy="213.5" rx="0.7" ry="1.7" fill="#f0ffff"/>
<rect x="58.3" y="160.5" width="146.1" height="104" fill="none" stroke="#1a1a1a" stroke-width="2.2"/>
<path d="M131.35 160.5 v4 M131.35 264.5 v-4" stroke="#1a1a1a" stroke-width="2"/>
<rect x="228.7" y="160.5" width="149.1" height="104" fill="none" stroke="#1a1a1a" stroke-width="2.2"/>
<path d="M303.25 160.5 v4 M303.25 264.5 v-4" stroke="#1a1a1a" stroke-width="2"/>
<path d="M58.3 212.5 h4 M204.4 212.5 h-4.5" stroke="#1a1a1a" stroke-width="2"/>
<rect x="446.8" y="13" width="235.7" height="251.8" fill="none" stroke="#1a1a1a" stroke-width="2.2"/>
<path d="M519.3 264.8 v-4.2 M519.3 13 v4.2 M591.8 264.8 v-4.2 M591.8 13 v4.2 M664.3 264.8 v-4.2 M664.3 13 v4.2 M446.8 214.44 h4.2 M682.5 214.44 h-4.2 M446.8 164.08 h4.2 M682.5 164.08 h-4.2 M446.8 113.72 h4.2 M682.5 113.72 h-4.2 M446.8 63.36 h4.2 M682.5 63.36 h-4.2" stroke="#1a1a1a" stroke-width="2"/>
<defs><clipPath id="cc"><rect x="445.8" y="10" width="236.7" height="256.8"/></clipPath></defs>
<g clip-path="url(#cc)" fill="none" stroke-linejoin="round">
<path d="M446.8 13 L447.59 29.02 L448.39 44.01 L449.18 58.06 L449.98 71.21 L450.77 83.52 L451.56 95.05 L452.36 105.85 L453.15 115.96 L453.95 125.43 L454.74 134.29 L455.54 142.59 L456.33 150.37 L457.12 157.64 L457.92 164.46 L458.71 170.84 L459.51 176.82 L460.3 182.41 L461.09 187.65 L461.89 192.56 L462.68 197.16 L463.48 201.46 L464.27 205.49 L465.06 209.26 L465.86 212.79 L466.65 216.1 L467.45 219.2 L468.24 222.1 L469.03 224.82 L469.83 227.36 L470.62 229.74 L471.42 231.97 L472.21 234.06 L473.01 236.01 L473.8 237.84 L474.59 239.56 L475.39 241.16 L476.18 242.67 L476.98 244.08 L477.77 245.39 L478.56 246.63 L479.36 247.78 L480.15 248.87 L480.95 249.88 L481.74 250.83 L482.53 251.72 L483.33 252.55 L484.12 253.33 L484.92 254.06 L485.71 254.74 L486.51 255.38 L487.3 255.98 L488.09 256.54 L488.89 257.07 L489.68 257.56 L490.48 258.02 L491.27 258.45 L492.06 258.85 L492.86 259.23 L493.65 259.59 L494.45 259.92 L495.24 260.23 L496.03 260.52 L496.83 260.79 L497.62 261.05 L498.42 261.29 L499.21 261.51 L500.01 261.72 L500.8 261.91 L501.59 262.1 L502.39 262.27 L503.18 262.43 L503.98 262.58 L504.77 262.72 L505.56 262.85 L506.36 262.98 L507.15 263.09 L507.95 263.2 L508.74 263.3 L509.53 263.4 L510.33 263.49 L511.12 263.57 L511.92 263.65 L512.71 263.72 L513.5 263.79 L514.3 263.86 L515.09 263.92 L515.89 263.97 L516.68 264.02 L517.48 264.07 L518.27 264.12 L519.06 264.16 L519.86 264.2 L520.65 264.24 L521.45 264.28 L522.24 264.31 L523.03 264.34 L523.83 264.37 L524.62 264.4 L525.42 264.42 L526.21 264.45 L527 264.47 L527.8 264.49 L528.59 264.51 L529.39 264.53 L530.18 264.55 L530.98 264.56 L531.77 264.58 L532.56 264.59 L533.36 264.6 L534.15 264.62 L534.95 264.63 L535.74 264.64 L536.53 264.65 L537.33 264.66 L538.12 264.67 L538.92 264.68 L539.71 264.68 L540.5 264.69 L541.3 264.7 L542.09 264.71 L542.89 264.71 L543.68 264.72 L544.47 264.72 L545.27 264.73 L546.06 264.73 L546.86 264.74 L547.65 264.74 L548.45 264.74 L549.24 264.75 L550.03 264.75 L550.83 264.75 L551.62 264.76 L552.42 264.76 L553.21 264.76 L554 264.76 L554.8 264.77 L555.59 264.77 L556.39 264.77 L557.18 264.77 L557.97 264.77 L558.77 264.78 L559.56 264.78 L560.36 264.78 L561.15 264.78 L561.95 264.78 L562.74 264.78 L563.53 264.78 L564.33 264.78 L565.12 264.79 L565.92 264.79 L566.71 264.79 L567.5 264.79 L568.3 264.79 L569.09 264.79 L569.89 264.79 L570.68 264.79 L571.47 264.79 L572.27 264.79 L573.06 264.79 L573.86 264.79 L574.65 264.79 L575.45 264.79 L576.24 264.79 L577.03 264.79 L577.83 264.8 L578.62 264.8 L579.42 264.8 L580.21 264.8 L581 264.8 L581.8 264.8 L582.59 264.8 L583.39 264.8 L584.18 264.8 L584.97 264.8 L585.77 264.8 L586.56 264.8 L587.36 264.8 L588.15 264.8 L588.94 264.8 L589.74 264.8 L590.53 264.8 L591.33 264.8 L592.12 264.8 L592.92 264.8 L593.71 264.8 L594.5 264.8 L595.3 264.8 L596.09 264.8 L596.89 264.8 L597.68 264.8 L598.47 264.8 L599.27 264.8 L600.06 264.8 L600.86 264.8 L601.65 264.8 L602.44 264.8 L603.24 264.8 L604.03 264.8 L604.83 264.8 L605.62 264.8 L606.42 264.8 L607.21 264.8 L608 264.8 L608.8 264.8 L609.59 264.8 L610.39 264.8 L611.18 264.8 L611.97 264.8 L612.77 264.8 L613.56 264.8 L614.36 264.8 L615.15 264.8 L615.94 264.8 L616.74 264.8 L617.53 264.8 L618.33 264.8 L619.12 264.8 L619.91 264.8 L620.71 264.8 L621.5 264.8 L622.3 264.8 L623.09 264.8 L623.89 264.8 L624.68 264.8 L625.47 264.8 L626.27 264.8 L627.06 264.8 L627.86 264.8 L628.65 264.8 L629.44 264.8 L630.24 264.8 L631.03 264.8 L631.83 264.8 L632.62 264.8 L633.41 264.8 L634.21 264.8 L635 264.8 L635.8 264.8 L636.59 264.8 L637.39 264.8 L638.18 264.8 L638.97 264.8 L639.77 264.8 L640.56 264.8 L641.36 264.8 L642.15 264.8 L642.94 264.8 L643.74 264.8 L644.53 264.8 L645.33 264.8 L646.12 264.8 L646.91 264.8 L647.71 264.8 L648.5 264.8 L649.3 264.8 L650.09 264.8 L650.89 264.8 L651.68 264.8 L652.47 264.8 L653.27 264.8 L654.06 264.8 L654.86 264.8 L655.65 264.8 L656.44 264.8 L657.24 264.8 L658.03 264.8 L658.83 264.8 L659.62 264.8 L660.41 264.8 L661.21 264.8 L662 264.8 L662.8 264.8 L663.59 264.8 L664.38 264.8 L665.18 264.8 L665.97 264.8 L666.77 264.8 L667.56 264.8 L668.36 264.8 L669.15 264.8 L669.94 264.8 L670.74 264.8 L671.53 264.8 L672.33 264.8 L673.12 264.8 L673.91 264.8 L674.71 264.8 L675.5 264.8 L676.3 264.8 L677.09 264.8 L677.88 264.8 L678.68 264.8 L679.47 264.8 L680.27 264.8 L681.06 264.8 L681.86 264.8 L682.65 264.8 L683.44 264.8 L684.24 264.8" stroke="#d42020" stroke-width="2.6" stroke-dasharray="2.2 2.1"/>
<path d="M446.8 13 L447.14 13.12 L447.48 13.46 L447.82 13.99 L448.16 14.68 L448.5 15.52 L448.84 16.47 L449.18 17.51 L449.52 18.61 L449.85 19.79 L450.19 21.41 L450.53 23.47 L450.87 25.9 L451.21 28.62 L451.55 31.53 L451.89 34.55 L452.23 37.61 L452.57 40.62 L452.91 43.79 L453.25 47.22 L453.59 50.85 L453.93 54.65 L454.27 58.64 L454.61 62.84 L454.95 67.19 L455.29 71.67 L455.62 76.24 L455.96 80.87 L456.3 85.53 L456.64 90.17 L456.98 94.77 L457.32 99.29 L457.66 103.77 L458 108.31 L458.34 112.88 L458.68 117.46 L459.02 122.01 L459.36 126.52 L459.7 130.94 L460.04 135.26 L460.38 139.45 L460.72 143.49 L461.06 147.42 L461.39 151.26 L461.73 155.02 L462.07 158.73 L462.41 162.41 L462.75 166.07 L463.09 169.73 L463.43 173.41 L463.77 177.14 L464.11 180.94 L464.45 184.87 L464.79 188.91 L465.13 193 L465.47 197.11 L465.81 201.17 L466.15 205.16 L466.49 209.02 L466.83 212.7 L467.16 216.16 L467.5 219.34 L467.84 222.25 L468.18 224.97 L468.52 227.5 L468.86 229.86 L469.2 232.03 L469.54 234.07 L469.88 236.02 L470.22 237.88 L470.56 239.63 L470.9 241.28 L471.24 242.82 L471.58 244.23 L471.92 245.55 L472.26 246.82 L472.6 248.03 L472.93 249.18 L473.27 250.28 L473.61 251.32 L473.95 252.3 L474.29 253.22 L474.63 254.08 L474.97 254.88 L475.31 255.64 L475.65 256.38 L475.99 257.08 L476.33 257.76 L476.67 258.39 L477.01 258.98 L477.35 259.53 L477.69 260.02 L478.03 260.46 L478.37 260.84 L478.7 261.19 L479.04 261.53 L479.38 261.84 L479.72 262.13 L480.06 262.41 L480.4 262.65 L480.74 262.88 L481.08 263.08 L481.42 263.26 L481.76 263.43 L482.1 263.59 L482.44 263.74 L482.78 263.89 L483.12 264.03 L483.46 264.16 L483.8 264.27 L484.14 264.37 L484.47 264.45 L484.81 264.51 L485.15 264.55 L485.49 264.58 L485.83 264.61 L486.17 264.63 L486.51 264.65 L486.85 264.68 L487.19 264.7 L487.53 264.72 L487.87 264.73 L488.21 264.75 L488.55 264.76 L488.89 264.77 L489.23 264.78 L489.57 264.79 L489.91 264.8 L490.24 264.8 L490.58 264.8 L490.92 264.8 L491.26 264.8 L491.6 264.8 L491.94 264.8 L492.28 264.8 L492.62 264.8 L492.96 264.8 L493.3 264.8 L493.64 264.8 L493.98 264.8 L494.32 264.8 L494.66 264.8 L495 264.8 L495.34 264.8 L495.68 264.8 L496.01 264.8 L496.35 264.8 L496.69 264.8 L497.03 264.8 L497.37 264.8 L497.71 264.8 L498.05 264.8 L498.39 264.8 L498.73 264.8 L499.07 264.8 L499.41 264.8 L499.75 264.8 L500.09 264.8 L500.43 264.8 L500.77 264.8 L501.11 264.8 L501.45 264.8 L501.78 264.8 L502.12 264.79 L502.46 264.77 L502.8 264.75 L503.14 264.72 L503.48 264.69 L503.82 264.65 L504.16 264.6 L504.5 264.55 L504.84 264.5 L505.18 264.44 L505.52 264.37 L505.86 264.3 L506.2 264.23 L506.54 264.16 L506.88 264.08 L507.22 263.99 L507.56 263.87 L507.89 263.72 L508.23 263.54 L508.57 263.33 L508.91 263.1 L509.25 262.86 L509.59 262.6 L509.93 262.34 L510.27 262.08 L510.61 261.83 L510.95 261.57 L511.29 261.31 L511.63 261.04 L511.97 260.76 L512.31 260.47 L512.65 260.17 L512.99 259.84 L513.33 259.5 L513.66 259.14 L514 258.76 L514.34 258.35 L514.68 257.9 L515.02 257.4 L515.36 256.87 L515.7 256.3 L516.04 255.7 L516.38 255.07 L516.72 254.42 L517.06 253.75 L517.4 253.06 L517.74 252.36 L518.08 251.65 L518.42 250.94 L518.76 250.22 L519.1 249.5 L519.43 248.72 L519.77 247.9 L520.11 247.06 L520.45 246.21 L520.79 245.36 L521.13 244.53 L521.47 243.74 L521.81 243 L522.15 242.3 L522.49 241.64 L522.83 240.99 L523.17 240.34 L523.51 239.69 L523.85 239.02 L524.19 238.32 L524.53 237.57 L524.87 236.75 L525.2 235.86 L525.54 234.94 L525.88 233.99 L526.22 233.05 L526.56 232.14 L526.9 231.28 L527.24 230.48 L527.58 229.71 L527.92 228.94 L528.26 228.2 L528.6 227.47 L528.94 226.77 L529.28 226.11 L529.62 225.48 L529.96 224.9 L530.3 224.37 L530.64 223.85 L530.97 223.34 L531.31 222.84 L531.65 222.35 L531.99 221.88 L532.33 221.44 L532.67 221.02 L533.01 220.63 L533.35 220.28 L533.69 219.97 L534.03 219.71 L534.37 219.49 L534.71 219.31 L535.05 219.13 L535.39 218.96 L535.73 218.79 L536.07 218.63 L536.41 218.49 L536.74 218.36 L537.08 218.24 L537.42 218.14 L537.76 218.06 L538.1 218.01 L538.44 217.97 L538.78 217.97 L539.12 217.98 L539.46 218.03 L539.8 218.09 L540.14 218.18 L540.48 218.28 L540.82 218.39 L541.16 218.51 L541.5 218.64 L541.84 218.78 L542.18 218.96 L542.51 219.2 L542.85 219.48 L543.19 219.8 L543.53 220.16 L543.87 220.55 L544.21 220.96 L544.55 221.4 L544.89 221.86 L545.23 222.33 L545.57 222.83 L545.91 223.42 L546.25 224.09 L546.59 224.82 L546.93 225.6 L547.27 226.41 L547.61 227.23 L547.95 228.06 L548.28 228.86 L548.62 229.63 L548.96 230.36 L549.3 231.08 L549.64 231.8 L549.98 232.51 L550.32 233.23 L550.66 233.94 L551 234.64 L551.34 235.35 L551.68 236.04 L552.02 236.74 L552.36 237.42 L552.7 238.1 L553.04 238.76 L553.38 239.42 L553.72 240.07 L554.05 240.7 L554.39 241.33 L554.73 241.94 L555.07 242.55 L555.41 243.15 L555.75 243.74 L556.09 244.33 L556.43 244.91 L556.77 245.49 L557.11 246.07 L557.45 246.65 L557.79 247.23 L558.13 247.81 L558.47 248.39 L558.81 248.98 L559.15 249.58 L559.49 250.19 L559.82 250.81 L560.16 251.44 L560.5 252.07 L560.84 252.71 L561.18 253.33 L561.52 253.95 L561.86 254.56 L562.2 255.15 L562.54 255.72 L562.88 256.28 L563.22 256.8 L563.56 257.3 L563.9 257.76 L564.24 258.2 L564.58 258.65 L564.92 259.1 L565.26 259.54 L565.59 259.98 L565.93 260.4 L566.27 260.8 L566.61 261.19 L566.95 261.56 L567.29 261.9 L567.63 262.21 L567.97 262.48 L568.31 262.72 L568.65 262.92 L568.99 263.08 L569.33 263.22 L569.67 263.36 L570.01 263.49 L570.35 263.62 L570.69 263.74 L571.03 263.86 L571.36 263.96 L571.7 264.06 L572.04 264.15 L572.38 264.24 L572.72 264.31 L573.06 264.38 L573.4 264.44 L573.74 264.48 L574.08 264.52 L574.42 264.54 L574.76 264.56 L575.1 264.57 L575.44 264.59 L575.78 264.6 L576.12 264.61 L576.46 264.62 L576.8 264.64 L577.13 264.65 L577.47 264.66 L577.81 264.67 L578.15 264.68 L578.49 264.69 L578.83 264.7 L579.17 264.71 L579.51 264.72 L579.85 264.72 L580.19 264.73 L580.53 264.74 L580.87 264.75 L581.21 264.75 L581.55 264.76 L581.89 264.76 L582.23 264.77 L582.57 264.77 L582.9 264.78 L583.24 264.78 L583.58 264.79 L583.92 264.79 L584.26 264.79 L584.6 264.79 L584.94 264.8 L585.28 264.8 L585.62 264.8 L585.96 264.8 L586.3 264.8 L586.64 264.8 L586.98 264.78 L587.32 264.73 L587.66 264.65 L588 264.55 L588.34 264.43 L588.67 264.3 L589.01 264.16 L589.35 264 L589.69 263.85 L590.03 263.69 L590.37 263.54 L590.71 263.39 L591.05 263.26 L591.39 263.13 L591.73 262.99 L592.07 262.85 L592.41 262.7 L592.75 262.55 L593.09 262.4 L593.43 262.25 L593.77 262.1 L594.11 261.95 L594.44 261.8 L594.78 261.65 L595.12 261.5 L595.46 261.35 L595.8 261.21 L596.14 261.07 L596.48 260.92 L596.82 260.77 L597.16 260.63 L597.5 260.48 L597.84 260.34 L598.18 260.19 L598.52 260.04 L598.86 259.9 L599.2 259.75 L599.54 259.61 L599.88 259.46 L600.21 259.32 L600.55 259.18 L600.89 259.04 L601.23 258.89 L601.57 258.75 L601.91 258.62 L602.25 258.48 L602.59 258.34 L602.93 258.21 L603.27 258.07 L603.61 257.94 L603.95 257.81 L604.29 257.68 L604.63 257.56 L604.97 257.43 L605.31 257.3 L605.65 257.17 L605.98 257.05 L606.32 256.92 L606.66 256.8 L607 256.67 L607.34 256.55 L607.68 256.42 L608.02 256.3 L608.36 256.18 L608.7 256.06 L609.04 255.94 L609.38 255.83 L609.72 255.71 L610.06 255.6 L610.4 255.49 L610.74 255.38 L611.08 255.27 L611.42 255.16 L611.75 255.06 L612.09 254.95 L612.43 254.85 L612.77 254.76 L613.11 254.66 L613.45 254.56 L613.79 254.46 L614.13 254.37 L614.47 254.27 L614.81 254.17 L615.15 254.07 L615.49 253.97 L615.83 253.88 L616.17 253.78 L616.51 253.69 L616.85 253.6 L617.19 253.52 L617.52 253.44 L617.86 253.36 L618.2 253.28 L618.54 253.22 L618.88 253.15 L619.22 253.09 L619.56 253.04 L619.9 253 L620.24 252.96 L620.58 252.92 L620.92 252.89 L621.26 252.85 L621.6 252.82 L621.94 252.78 L622.28 252.75 L622.62 252.72 L622.96 252.69 L623.29 252.66 L623.63 252.63 L623.97 252.6 L624.31 252.58 L624.65 252.56 L624.99 252.54 L625.33 252.52 L625.67 252.5 L626.01 252.49 L626.35 252.48 L626.69 252.47 L627.03 252.46 L627.37 252.46 L627.71 252.46 L628.05 252.47 L628.39 252.49 L628.73 252.52 L629.07 252.55 L629.4 252.59 L629.74 252.64 L630.08 252.69 L630.42 252.74 L630.76 252.8 L631.1 252.87 L631.44 252.94 L631.78 253.01 L632.12 253.09 L632.46 253.17 L632.8 253.24 L633.14 253.33 L633.48 253.41 L633.82 253.49 L634.16 253.57 L634.5 253.65 L634.84 253.74 L635.17 253.82 L635.51 253.91 L635.85 254.01 L636.19 254.11 L636.53 254.21 L636.87 254.33 L637.21 254.44 L637.55 254.56 L637.89 254.69 L638.23 254.82 L638.57 254.95 L638.91 255.09 L639.25 255.23 L639.59 255.37 L639.93 255.51 L640.27 255.66 L640.61 255.81 L640.94 255.97 L641.28 256.12 L641.62 256.28 L641.96 256.44 L642.3 256.6 L642.64 256.78 L642.98 256.96 L643.32 257.16 L643.66 257.37 L644 257.59 L644.34 257.81 L644.68 258.03 L645.02 258.26 L645.36 258.49 L645.7 258.72 L646.04 258.94 L646.38 259.16 L646.71 259.38 L647.05 259.59 L647.39 259.79 L647.73 259.98 L648.07 260.16 L648.41 260.33 L648.75 260.5 L649.09 260.66 L649.43 260.82 L649.77 260.98 L650.11 261.14 L650.45 261.29 L650.79 261.44 L651.13 261.59 L651.47 261.73 L651.81 261.87 L652.15 262.01 L652.48 262.14 L652.82 262.27 L653.16 262.39 L653.5 262.51 L653.84 262.62 L654.18 262.72 L654.52 262.82 L654.86 262.91 L655.2 263 L655.54 263.09 L655.88 263.17 L656.22 263.25 L656.56 263.33 L656.9 263.41 L657.24 263.49 L657.58 263.56 L657.92 263.63 L658.25 263.7 L658.59 263.77 L658.93 263.83 L659.27 263.89 L659.61 263.95 L659.95 264.01 L660.29 264.06 L660.63 264.11 L660.97 264.16 L661.31 264.2 L661.65 264.24 L661.99 264.28 L662.33 264.31 L662.67 264.35 L663.01 264.38 L663.35 264.42 L663.69 264.45 L664.02 264.48 L664.36 264.52 L664.7 264.55 L665.04 264.58 L665.38 264.61 L665.72 264.63 L666.06 264.66 L666.4 264.68 L666.74 264.71 L667.08 264.73 L667.42 264.75 L667.76 264.76 L668.1 264.78 L668.44 264.79 L668.78 264.79 L669.12 264.8 L669.46 264.8 L669.79 264.8 L670.13 264.79 L670.47 264.78 L670.81 264.77 L671.15 264.75 L671.49 264.73 L671.83 264.71 L672.17 264.69 L672.51 264.66 L672.85 264.63 L673.19 264.6 L673.53 264.57 L673.87 264.54 L674.21 264.51 L674.55 264.48 L674.89 264.45 L675.23 264.42 L675.56 264.39 L675.9 264.36 L676.24 264.33 L676.58 264.31 L676.92 264.28 L677.26 264.26 L677.6 264.24 L677.94 264.21 L678.28 264.19 L678.62 264.17 L678.96 264.14 L679.3 264.12 L679.64 264.1 L679.98 264.07 L680.32 264.05 L680.66 264.03 L681 264 L681.33 263.98 L681.67 263.96 L682.01 263.93 L682.35 263.91 L682.69 263.89 L683.03 263.86 L683.37 263.84 L683.71 263.82 L684.05 263.79" stroke="#0a14e0" stroke-width="3.4" stroke-dasharray="11 3.5 3.5 3.5"/>
<path d="M446.8 13 L447.14 13.12 L447.48 13.46 L447.83 14 L448.17 14.71 L448.51 15.55 L448.85 16.52 L449.19 17.57 L449.54 18.68 L449.88 19.89 L450.22 21.55 L450.56 23.66 L450.9 26.14 L451.25 28.9 L451.59 31.85 L451.93 34.91 L452.27 37.98 L452.61 41.02 L452.96 44.25 L453.3 47.74 L453.64 51.42 L453.98 55.28 L454.32 59.34 L454.67 63.6 L455.01 68.01 L455.35 72.54 L455.69 77.16 L456.03 81.84 L456.38 86.53 L456.72 91.2 L457.06 95.82 L457.4 100.36 L457.74 104.9 L458.09 109.53 L458.43 114.19 L458.77 118.85 L459.11 123.47 L459.45 128 L459.8 132.4 L460.14 136.64 L460.48 140.68 L460.82 144.58 L461.17 148.42 L461.51 152.18 L461.85 155.86 L462.19 159.46 L462.53 162.97 L462.88 166.41 L463.22 169.76 L463.56 173.02 L463.9 176.19 L464.24 179.27 L464.59 182.27 L464.93 185.25 L465.27 188.21 L465.61 191.12 L465.95 193.99 L466.3 196.82 L466.64 199.58 L466.98 202.29 L467.32 204.92 L467.66 207.47 L468.01 209.94 L468.35 212.32 L468.69 214.61 L469.03 216.79 L469.37 218.86 L469.72 220.81 L470.06 222.64 L470.4 224.37 L470.74 226 L471.08 227.57 L471.43 229.07 L471.77 230.53 L472.11 231.97 L472.45 233.4 L472.79 234.79 L473.14 236.16 L473.48 237.5 L473.82 238.81 L474.16 240.1 L474.5 241.35 L474.85 242.58 L475.19 243.78 L475.53 244.95 L475.87 246.1 L476.21 247.25 L476.56 248.4 L476.9 249.51 L477.24 250.52 L477.58 251.41 L477.92 252.14 L478.27 252.82 L478.61 253.44 L478.95 254.02 L479.29 254.55 L479.63 255.04 L479.98 255.5 L480.32 255.92 L480.66 256.31 L481 256.68 L481.34 257.03 L481.69 257.36 L482.03 257.67 L482.37 257.95 L482.71 258.2 L483.05 258.43 L483.4 258.62 L483.74 258.81 L484.08 258.99 L484.42 259.16 L484.76 259.32 L485.11 259.47 L485.45 259.6 L485.79 259.73 L486.13 259.83 L486.47 259.92 L486.82 259.99 L487.16 260.05 L487.5 260.1 L487.84 260.15 L488.18 260.19 L488.53 260.24 L488.87 260.28 L489.21 260.31 L489.55 260.34 L489.9 260.36 L490.24 260.38 L490.58 260.39 L490.92 260.39 L491.26 260.37 L491.61 260.32 L491.95 260.23 L492.29 260.12 L492.63 259.99 L492.97 259.85 L493.32 259.7 L493.66 259.54 L494 259.38 L494.34 259.22 L494.68 259.05 L495.03 258.86 L495.37 258.65 L495.71 258.43 L496.05 258.19 L496.39 257.93 L496.74 257.66 L497.08 257.37 L497.42 257.07 L497.76 256.73 L498.1 256.35 L498.45 255.92 L498.79 255.45 L499.13 254.97 L499.47 254.48 L499.81 254 L500.16 253.53 L500.5 253.07 L500.84 252.62 L501.18 252.16 L501.52 251.69 L501.87 251.21 L502.21 250.71 L502.55 250.19 L502.89 249.64 L503.23 249.05 L503.58 248.42 L503.92 247.76 L504.26 247.06 L504.6 246.34 L504.94 245.6 L505.29 244.84 L505.63 244.08 L505.97 243.31 L506.31 242.53 L506.65 241.73 L507 240.92 L507.34 240.09 L507.68 239.23 L508.02 238.35 L508.36 237.43 L508.71 236.48 L509.05 235.45 L509.39 234.37 L509.73 233.26 L510.07 232.14 L510.42 231.02 L510.76 229.92 L511.1 228.87 L511.44 227.86 L511.78 226.87 L512.13 225.88 L512.47 224.89 L512.81 223.92 L513.15 222.97 L513.49 222.04 L513.84 221.13 L514.18 220.26 L514.52 219.43 L514.86 218.64 L515.2 217.9 L515.55 217.18 L515.89 216.49 L516.23 215.83 L516.57 215.18 L516.91 214.56 L517.26 213.96 L517.6 213.37 L517.94 212.8 L518.28 212.24 L518.63 211.7 L518.97 211.17 L519.31 210.63 L519.65 210.08 L519.99 209.53 L520.34 208.99 L520.68 208.46 L521.02 207.96 L521.36 207.49 L521.7 207.07 L522.05 206.69 L522.39 206.37 L522.73 206.12 L523.07 205.91 L523.41 205.7 L523.76 205.5 L524.1 205.32 L524.44 205.14 L524.78 204.99 L525.12 204.86 L525.47 204.75 L525.81 204.68 L526.15 204.63 L526.49 204.62 L526.83 204.65 L527.18 204.73 L527.52 204.83 L527.86 204.98 L528.2 205.14 L528.54 205.34 L528.89 205.55 L529.23 205.78 L529.57 206.02 L529.91 206.27 L530.25 206.52 L530.6 206.77 L530.94 207.03 L531.28 207.31 L531.62 207.62 L531.96 207.96 L532.31 208.32 L532.65 208.71 L532.99 209.12 L533.33 209.56 L533.67 210.01 L534.02 210.49 L534.36 210.98 L534.7 211.48 L535.04 212 L535.38 212.54 L535.73 213.08 L536.07 213.65 L536.41 214.28 L536.75 214.94 L537.09 215.65 L537.44 216.4 L537.78 217.17 L538.12 217.97 L538.46 218.79 L538.8 219.62 L539.15 220.47 L539.49 221.31 L539.83 222.16 L540.17 223.03 L540.51 223.93 L540.86 224.86 L541.2 225.82 L541.54 226.79 L541.88 227.77 L542.22 228.75 L542.57 229.72 L542.91 230.68 L543.25 231.62 L543.59 232.54 L543.93 233.46 L544.28 234.38 L544.62 235.3 L544.96 236.21 L545.3 237.11 L545.65 238 L545.99 238.87 L546.33 239.72 L546.67 240.55 L547.01 241.36 L547.36 242.16 L547.7 242.95 L548.04 243.73 L548.38 244.5 L548.72 245.24 L549.07 245.96 L549.41 246.65 L549.75 247.31 L550.09 247.92 L550.43 248.51 L550.78 249.09 L551.12 249.65 L551.46 250.19 L551.8 250.72 L552.14 251.23 L552.49 251.73 L552.83 252.2 L553.17 252.66 L553.51 253.1 L553.85 253.52 L554.2 253.92 L554.54 254.29 L554.88 254.65 L555.22 254.98 L555.56 255.3 L555.91 255.6 L556.25 255.89 L556.59 256.17 L556.93 256.45 L557.27 256.72 L557.62 257 L557.96 257.27 L558.3 257.55 L558.64 257.82 L558.98 258.09 L559.33 258.35 L559.67 258.6 L560.01 258.84 L560.35 259.06 L560.69 259.27 L561.04 259.46 L561.38 259.65 L561.72 259.83 L562.06 260 L562.4 260.16 L562.75 260.31 L563.09 260.46 L563.43 260.6 L563.77 260.73 L564.11 260.85 L564.46 260.97 L564.8 261.09 L565.14 261.2 L565.48 261.31 L565.82 261.42 L566.17 261.52 L566.51 261.62 L566.85 261.71 L567.19 261.8 L567.53 261.87 L567.88 261.95 L568.22 262.01 L568.56 262.07 L568.9 262.12 L569.24 262.18 L569.59 262.23 L569.93 262.29 L570.27 262.34 L570.61 262.38 L570.95 262.43 L571.3 262.46 L571.64 262.49 L571.98 262.51 L572.32 262.53 L572.66 262.53 L573.01 262.53 L573.35 262.52 L573.69 262.51 L574.03 262.49 L574.38 262.47 L574.72 262.44 L575.06 262.41 L575.4 262.38 L575.74 262.35 L576.09 262.31 L576.43 262.28 L576.77 262.23 L577.11 262.18 L577.45 262.12 L577.8 262.05 L578.14 261.97 L578.48 261.89 L578.82 261.8 L579.16 261.7 L579.51 261.61 L579.85 261.51 L580.19 261.41 L580.53 261.3 L580.87 261.18 L581.22 261.05 L581.56 260.91 L581.9 260.77 L582.24 260.61 L582.58 260.46 L582.93 260.3 L583.27 260.13 L583.61 259.97 L583.95 259.81 L584.29 259.64 L584.64 259.48 L584.98 259.31 L585.32 259.13 L585.66 258.96 L586 258.78 L586.35 258.59 L586.69 258.4 L587.03 258.21 L587.37 258.01 L587.71 257.8 L588.06 257.59 L588.4 257.36 L588.74 257.12 L589.08 256.88 L589.42 256.63 L589.77 256.37 L590.11 256.12 L590.45 255.86 L590.79 255.61 L591.13 255.37 L591.48 255.14 L591.82 254.91 L592.16 254.68 L592.5 254.45 L592.84 254.22 L593.19 254 L593.53 253.78 L593.87 253.56 L594.21 253.35 L594.55 253.14 L594.9 252.94 L595.24 252.74 L595.58 252.54 L595.92 252.34 L596.26 252.14 L596.61 251.93 L596.95 251.72 L597.29 251.51 L597.63 251.3 L597.97 251.1 L598.32 250.89 L598.66 250.69 L599 250.49 L599.34 250.3 L599.68 250.12 L600.03 249.94 L600.37 249.78 L600.71 249.62 L601.05 249.48 L601.39 249.35 L601.74 249.23 L602.08 249.12 L602.42 249.03 L602.76 248.96 L603.11 248.91 L603.45 248.85 L603.79 248.8 L604.13 248.75 L604.47 248.7 L604.82 248.65 L605.16 248.61 L605.5 248.56 L605.84 248.52 L606.18 248.48 L606.53 248.45 L606.87 248.42 L607.21 248.39 L607.55 248.37 L607.89 248.35 L608.24 248.33 L608.58 248.32 L608.92 248.31 L609.26 248.31 L609.6 248.31 L609.95 248.33 L610.29 248.36 L610.63 248.41 L610.97 248.46 L611.31 248.53 L611.66 248.6 L612 248.69 L612.34 248.78 L612.68 248.87 L613.02 248.98 L613.37 249.09 L613.71 249.2 L614.05 249.32 L614.39 249.44 L614.73 249.56 L615.08 249.68 L615.42 249.81 L615.76 249.93 L616.1 250.05 L616.44 250.17 L616.79 250.29 L617.13 250.41 L617.47 250.55 L617.81 250.69 L618.15 250.84 L618.5 250.99 L618.84 251.15 L619.18 251.31 L619.52 251.48 L619.86 251.66 L620.21 251.83 L620.55 252.01 L620.89 252.19 L621.23 252.37 L621.57 252.56 L621.92 252.74 L622.26 252.93 L622.6 253.11 L622.94 253.29 L623.28 253.48 L623.63 253.66 L623.97 253.83 L624.31 254.01 L624.65 254.19 L624.99 254.38 L625.34 254.57 L625.68 254.76 L626.02 254.95 L626.36 255.14 L626.7 255.33 L627.05 255.53 L627.39 255.72 L627.73 255.92 L628.07 256.11 L628.41 256.3 L628.76 256.49 L629.1 256.68 L629.44 256.87 L629.78 257.05 L630.13 257.24 L630.47 257.42 L630.81 257.59 L631.15 257.76 L631.49 257.93 L631.84 258.1 L632.18 258.27 L632.52 258.44 L632.86 258.61 L633.2 258.78 L633.55 258.94 L633.89 259.11 L634.23 259.27 L634.57 259.43 L634.91 259.59 L635.26 259.75 L635.6 259.91 L635.94 260.06 L636.28 260.21 L636.62 260.36 L636.97 260.5 L637.31 260.64 L637.65 260.78 L637.99 260.91 L638.33 261.04 L638.68 261.16 L639.02 261.29 L639.36 261.41 L639.7 261.53 L640.04 261.65 L640.39 261.77 L640.73 261.89 L641.07 262.01 L641.41 262.12 L641.75 262.24 L642.1 262.35 L642.44 262.45 L642.78 262.56 L643.12 262.66 L643.46 262.75 L643.81 262.85 L644.15 262.94 L644.49 263.02 L644.83 263.1 L645.17 263.18 L645.52 263.25 L645.86 263.31 L646.2 263.38 L646.54 263.45 L646.88 263.51 L647.23 263.58 L647.57 263.65 L647.91 263.71 L648.25 263.77 L648.59 263.84 L648.94 263.9 L649.28 263.95 L649.62 264.01 L649.96 264.06 L650.3 264.1 L650.65 264.15 L650.99 264.19 L651.33 264.22 L651.67 264.25 L652.01 264.27 L652.36 264.28 L652.7 264.29 L653.04 264.3 L653.38 264.3 L653.72 264.29 L654.07 264.29 L654.41 264.29 L654.75 264.29 L655.09 264.28 L655.43 264.28 L655.78 264.27 L656.12 264.27 L656.46 264.26 L656.8 264.26 L657.14 264.25 L657.49 264.24 L657.83 264.23 L658.17 264.23 L658.51 264.22 L658.86 264.21 L659.2 264.2 L659.54 264.19 L659.88 264.18 L660.22 264.17 L660.57 264.16 L660.91 264.15 L661.25 264.14 L661.59 264.12 L661.93 264.1 L662.28 264.08 L662.62 264.06 L662.96 264.04 L663.3 264.01 L663.64 263.99 L663.99 263.96 L664.33 263.93 L664.67 263.9 L665.01 263.87 L665.35 263.83 L665.7 263.8 L666.04 263.77 L666.38 263.73 L666.72 263.69 L667.06 263.66 L667.41 263.62 L667.75 263.58 L668.09 263.54 L668.43 263.51 L668.77 263.47 L669.12 263.43 L669.46 263.39 L669.8 263.35 L670.14 263.31 L670.48 263.26 L670.83 263.22 L671.17 263.17 L671.51 263.12 L671.85 263.07 L672.19 263.02 L672.54 262.96 L672.88 262.91 L673.22 262.85 L673.56 262.79 L673.9 262.73 L674.25 262.66 L674.59 262.6 L674.93 262.53 L675.27 262.46 L675.61 262.39 L675.96 262.31 L676.3 262.22 L676.64 262.13 L676.98 262.04 L677.32 261.95 L677.67 261.85 L678.01 261.76 L678.35 261.66 L678.69 261.56 L679.03 261.47 L679.38 261.37 L679.72 261.28 L680.06 261.19 L680.4 261.1 L680.74 261.01 L681.09 260.93 L681.43 260.84 L681.77 260.76 L682.11 260.67 L682.45 260.59 L682.8 260.5 L683.14 260.42 L683.48 260.34 L683.82 260.25 L684.16 260.17 L684.51 260.09 L684.85 260.01 L685.19 259.93 L685.53 259.84 L685.88 259.76" stroke="#000" stroke-width="3.3"/>
</g>
<rect x="601.8" y="24.3" width="71" height="75.8" fill="#fff" stroke="#1a1a1a" stroke-width="2"/>
<line x1="604" y1="39.3" x2="630" y2="39.3" stroke="#d42020" stroke-width="2.6" stroke-dasharray="2.2 2.1"/>
<line x1="604" y1="65.3" x2="627" y2="65.3" stroke="#0a14e0" stroke-width="3.3" stroke-dasharray="13 3 6 3"/>
<line x1="604" y1="88.3" x2="629.7" y2="88.3" stroke="#000" stroke-width="3.3"/>
<g style="opacity:0.999">
<text transform="translate(0.3 18) scale(1 1)" font-size="20" text-anchor="start" style='font-family:"Liberation Sans",sans-serif;font-weight:bold;fill:#1a1a1a'>(a)</text>
<text transform="translate(0.3 166.7) scale(1 1)" font-size="20" text-anchor="start" style='font-family:"Liberation Sans",sans-serif;font-weight:bold;fill:#1a1a1a'>(b)</text>
<text transform="translate(384.2 17) scale(1 1)" font-size="20" text-anchor="start" style='font-family:"Liberation Sans",sans-serif;font-weight:bold;fill:#1a1a1a'>(c)</text>
<text transform="translate(440.8 72.26) scale(1 1.06)" font-size="20" text-anchor="end" style='font-family:"Liberation Sans",sans-serif;font-weight:bold;fill:#1a1a1a'>0.8</text>
<text transform="translate(440.8 122.62) scale(1 1.06)" font-size="20" text-anchor="end" style='font-family:"Liberation Sans",sans-serif;font-weight:bold;fill:#1a1a1a'>0.6</text>
<text transform="translate(440.8 172.98) scale(1 1.06)" font-size="20" text-anchor="end" style='font-family:"Liberation Sans",sans-serif;font-weight:bold;fill:#1a1a1a'>0.4</text>
<text transform="translate(440.8 223.34) scale(1 1.06)" font-size="20" text-anchor="end" style='font-family:"Liberation Sans",sans-serif;font-weight:bold;fill:#1a1a1a'>0.2</text>
<text transform="translate(440.8 273.7) scale(1 1.06)" font-size="20" text-anchor="end" style='font-family:"Liberation Sans",sans-serif;font-weight:bold;fill:#1a1a1a'>0</text>
<path transform="translate(431.5 20.9) scale(0.009766 -0.010352)" d="M348 0 L670 0 L670 1409 L430 1409 C380 1250 200 1160 0 1140 L0 880 C150 890 270 940 348 1010 Z" fill="#1a1a1a"/>
<text transform="translate(447.3 292.3) scale(1 1.06)" font-size="20" text-anchor="middle" style='font-family:"Liberation Sans",sans-serif;font-weight:bold;fill:#1a1a1a'>0</text>
<text transform="translate(519.8 292.3) scale(1 1.06)" font-size="20" text-anchor="middle" style='font-family:"Liberation Sans",sans-serif;font-weight:bold;fill:#1a1a1a'>2</text>
<text transform="translate(592.3 292.3) scale(1 1.06)" font-size="20" text-anchor="middle" style='font-family:"Liberation Sans",sans-serif;font-weight:bold;fill:#1a1a1a'>4</text>
<text transform="translate(664.8 292.3) scale(1 1.06)" font-size="20" text-anchor="middle" style='font-family:"Liberation Sans",sans-serif;font-weight:bold;fill:#1a1a1a'>6</text>
<text transform="translate(553.2 315.5) scale(1.05 1)" font-size="23.5" text-anchor="start" style='font-family:"Liberation Serif",serif;fill:#1e1e1e'>&#915;</text>
<text transform="translate(567.2 315.5) scale(1 1)" font-size="23.5" text-anchor="start" style='font-family:"Liberation Serif",serif;font-style:italic;fill:#1e1e1e'>t</text>
<text transform="translate(631.4 49.9) scale(1 1)" font-size="17.5" text-anchor="start" style='font-family:"Liberation Sans",sans-serif;font-weight:bold;fill:#1a1a1a'>e</text>
<text transform="translate(642.2 41.4) scale(1 1.04)" font-size="15.5" text-anchor="start" style='font-family:"Liberation Sans",sans-serif;font-weight:bold;fill:#1a1a1a'>-3</text>
<text transform="translate(655.9 41.3) scale(0.9 1)" font-size="15.5" text-anchor="start" style='font-family:"Liberation Serif",serif;fill:#1e1e1e'>&#915;</text>
<text transform="translate(664.2 41.3) scale(1 1)" font-size="16.5" text-anchor="start" style='font-family:"Liberation Sans",sans-serif;font-weight:bold;fill:#1a1a1a'>t</text>
<text transform="translate(631.4 72.4) scale(0.96 1)" font-size="18.5" text-anchor="start" style='font-family:"Liberation Sans",sans-serif;font-weight:bold;fill:#1a1a1a'>l=3</text>
<text transform="translate(631.4 95.2) scale(0.96 1)" font-size="18.5" text-anchor="start" style='font-family:"Liberation Sans",sans-serif;font-weight:bold;fill:#1a1a1a'>l=4</text>
<text transform="translate(45.6 168.8) scale(1.12 1)" font-size="18.5" text-anchor="middle" style='font-family:"Liberation Serif",serif;font-style:italic;fill:#1e1e1e'>&#960;</text>
<text transform="translate(28.5 220.5) scale(1.12 1)" font-size="18.5" text-anchor="middle" style='font-family:"Liberation Serif",serif;font-style:italic;fill:#1e1e1e'>&#960;</text>
<text transform="translate(51.2 221) scale(1 1.06)" font-size="20" text-anchor="end" style='font-family:"Liberation Sans",sans-serif;font-weight:bold;fill:#1a1a1a'>/2</text>
<text transform="translate(50.8 272) scale(1 1.06)" font-size="20" text-anchor="end" style='font-family:"Liberation Sans",sans-serif;font-weight:bold;fill:#1a1a1a'>0</text>
<text transform="translate(57.8 292) scale(1 1.06)" font-size="20" text-anchor="middle" style='font-family:"Liberation Sans",sans-serif;font-weight:bold;fill:#1a1a1a'>0</text>
<text transform="translate(131.35 291.2) scale(1.12 1)" font-size="18.5" text-anchor="middle" style='font-family:"Liberation Serif",serif;font-style:italic;fill:#1e1e1e'>&#960;</text>
<text transform="translate(197.2 292) scale(1 1.06)" font-size="20" text-anchor="middle" style='font-family:"Liberation Sans",sans-serif;font-weight:bold;fill:#1a1a1a'>2</text>
<text transform="translate(209.8 291.2) scale(1.12 1)" font-size="18.5" text-anchor="middle" style='font-family:"Liberation Serif",serif;font-style:italic;fill:#1e1e1e'>&#960;</text>
<text x="131.35" y="312.5" font-size="23" text-anchor="middle" style='font-family:"Liberation Serif",serif;font-style:italic;fill:#1e1e1e'>&#981;</text>
<text transform="translate(228.2 292) scale(1 1.06)" font-size="20" text-anchor="middle" style='font-family:"Liberation Sans",sans-serif;font-weight:bold;fill:#1a1a1a'>0</text>
<text transform="translate(303.25 291.2) scale(1.12 1)" font-size="18.5" text-anchor="middle" style='font-family:"Liberation Serif",serif;font-style:italic;fill:#1e1e1e'>&#960;</text>
<text transform="translate(370.6 292) scale(1 1.06)" font-size="20" text-anchor="middle" style='font-family:"Liberation Sans",sans-serif;font-weight:bold;fill:#1a1a1a'>2</text>
<text transform="translate(383.2 291.2) scale(1.12 1)" font-size="18.5" text-anchor="middle" style='font-family:"Liberation Serif",serif;font-style:italic;fill:#1e1e1e'>&#960;</text>
<text x="303.25" y="312.5" font-size="23" text-anchor="middle" style='font-family:"Liberation Serif",serif;font-style:italic;fill:#1e1e1e'>&#981;</text>
<text x="0" y="0" font-size="24" text-anchor="middle" transform="translate(18.5 212.6) rotate(-90)" style='font-family:"Liberation Serif",serif;font-style:italic;fill:#1e1e1e'>&#952;</text>
</g>
</g>
</svg>
</body></html>
